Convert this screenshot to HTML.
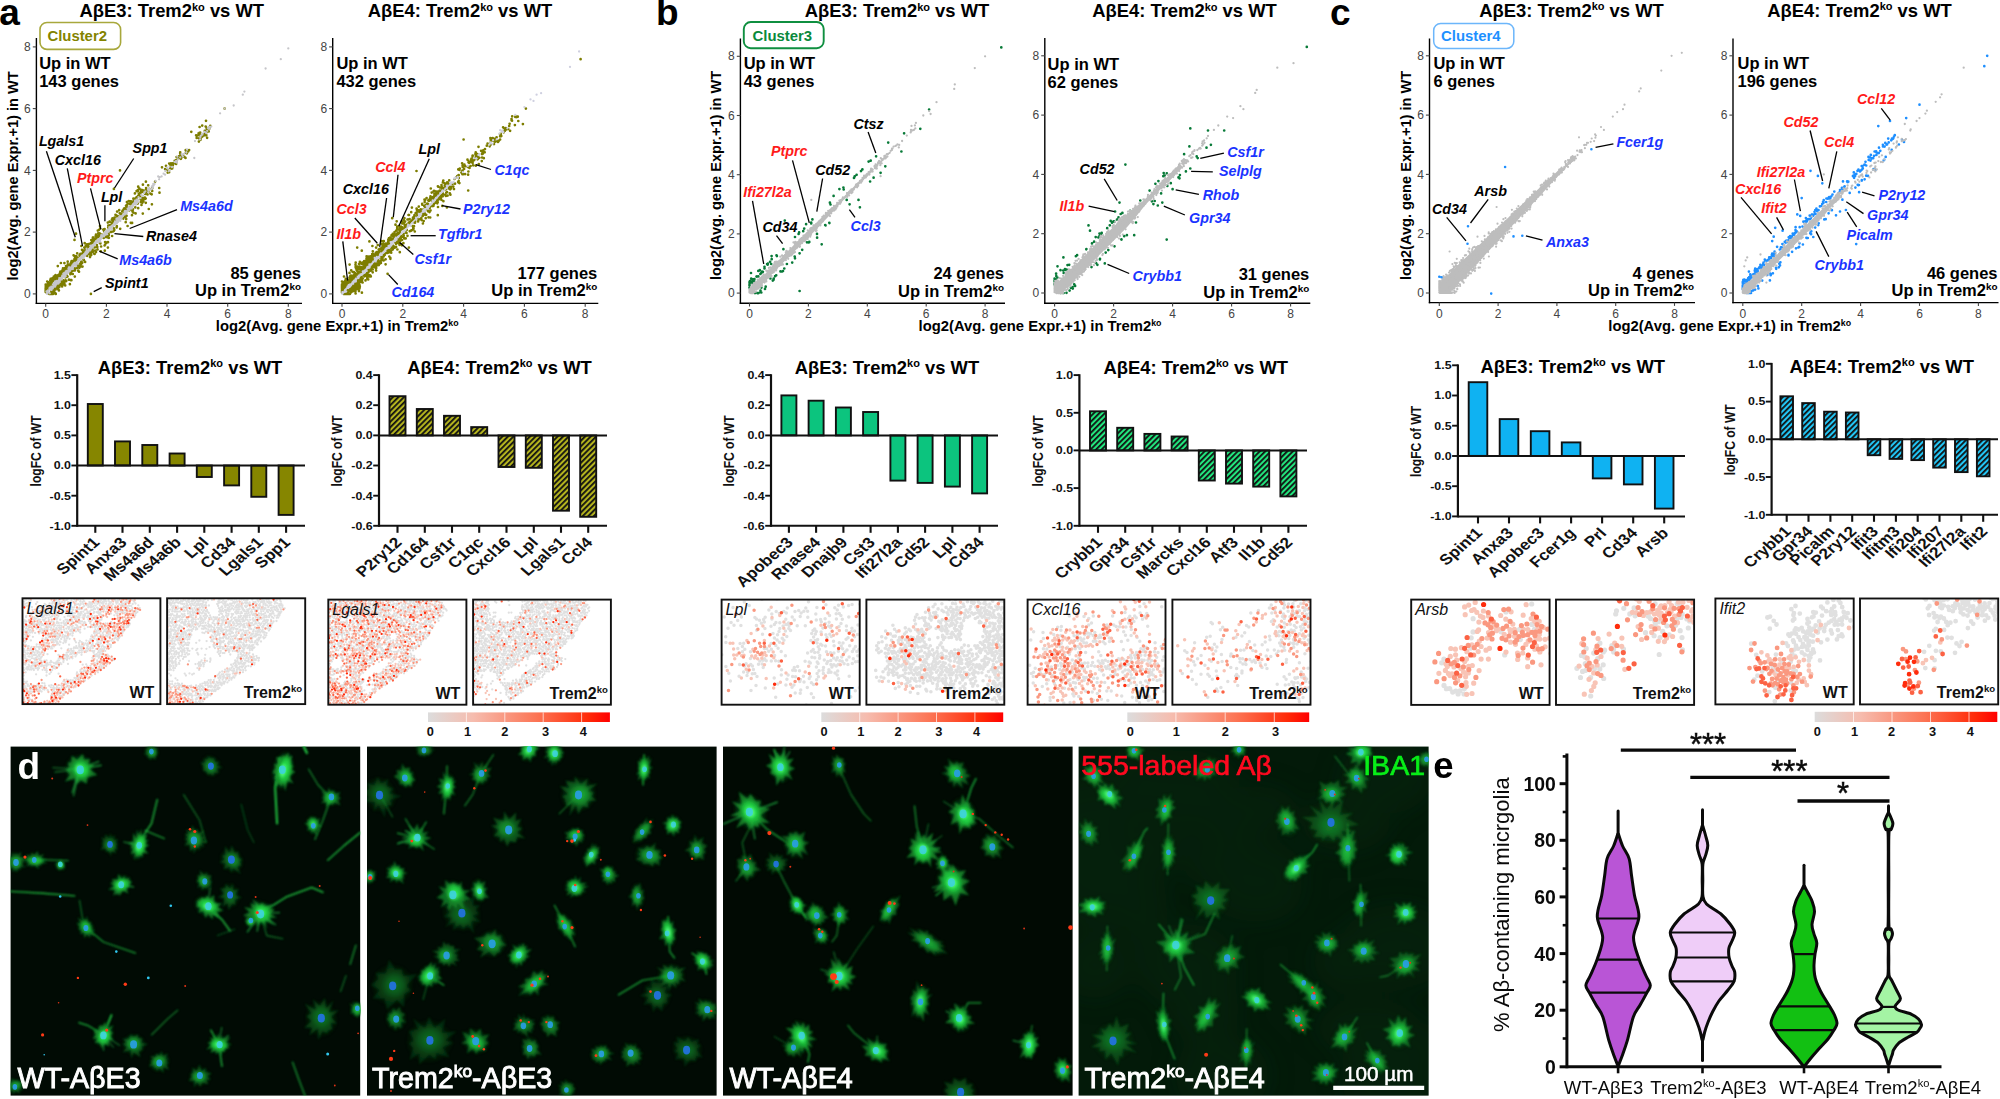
<!DOCTYPE html>
<html lang="en"><head><meta charset="utf-8"><title>Figure</title>
<style>html,body{margin:0;padding:0;background:#fff}body{width:2000px;height:1099px;overflow:hidden}svg{display:block}text{font-family:"Liberation Sans",sans-serif}</style></head><body>

<svg width="2000" height="1099" viewBox="0 0 2000 1099">
<rect width="2000" height="1099" fill="#fff"/>
<g>
<path d="M224.6 108.6h0m-18.6 12.2h0m-6.4 6.2h0m2.6-1.4h0m3.5 .9h0m.8 1.3h0m3.2-.5h0m0 1h0m.3-1.8h0m.3-.6h0m-19 5.9h0m7.3 1.5h0m.9-.4h0m.7-.4h0m.1 2.3h0m3.1-.5h0m1.4-3.4h0m.3 1.9h0m1.3-.5h0m.5-2.8h0m.2-.3h0m1.6 2.2h0m-12.6 3.9h0m.6 2.6h0m1.2-2.6h0m1.2 3.1h0m1.4 1.3h0m.1-2.6h0m0 .8h0m.6-.6h0m1.1-.7h0m1.5-1.2h0m1.1-.2h0m1.4 0h0m.8 2.6h0m-8.2 3.8h0m-18.7 10.7h0m5.5-2.1h0m.2 2.6h0m2.4-1.5h0m.8-1.3h0m-12.5 7.1h0m2 .3h0m0 .8h0m.6-2.2h0m1-2.3h0m.7 5.1h0m.1-2.6h0m.8 1h0m1.3-1.4h0m.2 .6h0m1 .4h0m.2 .2h0m1 .9h0m1.4-4.6h0m-17.7 10.2h0m.9 1.3h0m.9-1.4h0m.4 .3h0m1.2-.3h0m.1 1.3h0m.7-1.1h0m1.1-.5h0m.2-2.3h0m1.4 3.2h0m.1-3.9h0m.2 2.3h0m.1-.5h0m-56.5 8.5h0m42-3.1h0m3.1 1.7h0m.9-3.2h0m1.4 4h0m2.8-1.7h0m.4-1.5h0m.9 2h0m.5-2.4h0m.2 2.2h0m0-3.1h0m.1 2.2h0m.5-2.3h0m-5.1 7.4h0m1.4-.4h0m-23.2 9.5h0m9.2-.1h0m-41.2 7.3h0m24.3-2.2h0m1.2 2h0m3.5-4h0m3.2 3.3h0m2.1-2.7h0m4.1 2.6h0m6.9 .1h0m-24.3 5.4h0m1.7-2.3h0m1.1-.9h0m.2 1.1h0m.9 2.7h0m.5 1h0m.7-1.9h0m.5-3.5h0m.4 2h0m.6 .7h0m.7-2.2h0m1.3 1.7h0m.4-1.2h0m.7 .6h0m.5 2.8h0m1-2h0m.1-2.3h0m1 .5h0m.2 1.9h0m.1 2.3h0m.8-3h0m2.1 2.2h0m1.2-4.4h0m0-.1h0m.1 5.2h0m.5-3.4h0m7.3 1.8h0m-26.1 6h0m1.8-.1h0m.8 1h0m.7-2.6h0m0 1.8h0m.1-.6h0m1.4-2h0m.7-.1h0m.9 .1h0m.2-.9h0m.7 4.1h0m.2-4.1h0m.2 3.4h0m1.2 1.6h0m.3-2.3h0m1.1 1.3h0m1.2-1.8h0m.1 1.5h0m.7-.5h0m-19.7 7.3h0m.7-.6h0m.2-3.2h0m.8 1.7h0m.9 3.3h0m.1-6h0m1.1 .6h0m.2 2.5h0m1-2.8h0m.2 1.2h0m.5 1h0m.2-.9h0m0-.7h0m.8 0h0m.3 2.7h0m.4-3.3h0m4.3 2.3h0m3.1-1.4h0m.7 2.8h0m.8-2.2h0m1-1.6h0m.1 .3h0m2.4 1.3h0m6.1 1.5h0m-34.8 7.3h0m2.1-1.4h0m3.1 1.2h0m.6-1h0m.1 .6h0m.9-2.1h0m0 2.5h0m.3-2.4h0m.1 1.5h0m.1-2.2h0m.9 2.3h0m.7-2.3h0m.5 0h0m0 .5h0m.1-1.7h0m0 2.1h0m.1 1.3h0m.5-2.8h0m.5 1.3h0m.1 1.1h0m1.6 .2h0m.6-.8h0m.3-2.1h0m.3-.2h0m.7-.2h0m.2 2.3h0m1 2.2h0m0-1.9h0m.2 .6h0m.2-.9h0m.4 3.3h0m2-5.2h0m2.9 .8h0m10.6 .8h0m-36.3 9.4h0m2.1-.9h0m.9-2.7h0m1.5 1h0m0 .7h0m2-.2h0m.7-3h0m1.2 .6h0m.1 .6h0m.5-.5h0m1.8 4.6h0m.6-2.3h0m1.1-1.8h0m0 1.9h0m.3-3.3h0m.3 4h0m1-1.3h0m5.4-.6h0m3.6-1.8h0m7.2 .2h0m-35 9h0m1.8-.9h0m2 .6h0m.1 2.1h0m.1-2h0m.1-2.7h0m0 3.1h0m.5-3.2h0m0 .3h0m.9 0h0m.2 2.2h0m.5-.7h0m.1 0h0m1.3-2.2h0m.4 .4h0m2.6 .3h0m7.3 2.3h0m.5-3.1h0m4.6 3.7h0m1.3 .1h0m-34.3 7.7h0m1-.5h0m1.2-4.1h0m.1 2.5h0m3.2 1.1h0m.5-.1h0m.2 .9h0m.6-1.4h0m3.6-1.4h0m.1-2h0m1.6-.4h0m3.9 3.1h0m.1 2.5h0m.4-.7h0m2.3-2.7h0m.2-1.2h0m3.4 2.6h0m7.4-2.8h0m-51.6 7.7h0m19.7 2.5h0m.3-1.5h0m.3 .5h0m.5 .8h0m1.3 .1h0m.1-2.7h0m.5 .4h0m.1 3h0m.1-.5h0m.6 .5h0m.1-1.6h0m.1-1.5h0m.1 0h0m.1 1.6h0m1.8-.6h0m2.4-3.4h0m.2 .1h0m1.1 5.5h0m1.1-.6h0m.1-.9h0m1.5 1.2h0m.4-2.7h0m.3 1h0m.9-3.1h0m1.5 .1h0m.9 4.1h0m.9-4.5h0m-38.5 8.4h0m16.8 .2h0m.3-.1h0m.4 2.9h0m.4-3.3h0m.1 1.4h0m.4-3.4h0m.3-.1h0m.1 3.9h0m.3-.2h0m.1-1.7h0m.2 1.1h0m1-2h0m.4 .6h0m1.6-1.4h0m.5-.7h0m2.1 5.3h0m4.2-4.4h0m1.1-1h0m.3 5h0m1.7 .6h0m.6-5.3h0m.4 .2h0m.2 4.7h0m.9-4.4h0m-27.5 8.2h0m2.9 1.5h0m.3 .6h0m.1-4.9h0m1.1 2.6h0m.3 .8h0m0 .1h0m.2 .2h0m.1 .3h0m.6-2.9h0m0 4.5h0m.2-.8h0m.4-1.7h0m.2-1.9h0m.2 2.2h0m.4 .1h0m.3-2.5h0m1.6 1.3h0m.5-2.5h0m1.8 .9h0m.5-.8h0m.2 .1h0m1.4 4.3h0m2.1-1h0m.1 .3h0m0-1.8h0m.4 2h0m3.1-3.6h0m.7 3.1h0m3.5-1h0m.6-1h0m2.7 3.1h0m-30.7 5.7h0m2.8 1.3h0m.4-.7h0m1.6-4.1h0m.1 4.2h0m.7-1.4h0m.3-1.8h0m.2-.3h0m.4 2h0m0-.3h0m.1 .1h0m.2-1h0m.7 0h0m1-1.8h0m1.8 4.8h0m1.2-1h0m1.3 1.4h0m.4-2.4h0m.2-1.2h0m.3 2.9h0m.7-2.1h0m.4-1.6h0m.6-.7h0m.4 1.7h0m.9 2.2h0m.7 .5h0m.6-3.5h0m.8 1.6h0m1.5-2.7h0m3.3 1.9h0m4-.6h0m-31.2 4.6h0m.1 5.4h0m.8-1.7h0m.1-2.8h0m.6 1.7h0m0 2.9h0m.1-.4h0m.3-.4h0m.3 0h0m.1 .4h0m0-3.7h0m.1 3.6h0m0-4.1h0m.3 .1h0m.1 1.1h0m.1 .3h0m1.2 .8h0m.5-.6h0m1.3-2.7h0m.8 1.2h0m2.9 3.1h0m.5 .4h0m3.3-4.1h0m2.9 1.3h0m1.2-2h0m-33.4 11h0m3.1-3.1h0m3.5 .1h0m1.6 2.9h0m1.4 .8h0m.3-5.1h0m.1 2.7h0m.1 2.2h0m.1-.6h0m.1-1.5h0m.5 .3h0m.8 .7h0m.1 1.4h0m.4-1h0m.3-.6h0m.3 .5h0m.1-2.2h0m.1 .9h0m.4-1.9h0m0 1.1h0m.3-.9h0m0 .7h0m.2-2.3h0m0 2.6h0m.1-1.9h0m.2 2.3h0m.4-1h0m.9-1.9h0m.6 .8h0m.1-.7h0m.3 .9h0m0-.8h0m.1-.1h0m2.7 4.3h0m1.2-.3h0m1.7 1.2h0m.1-3h0m.4 2.7h0m.2-.5h0m.2 .6h0m.3-4.9h0m.1 2.4h0m1-1.5h0m0 .4h0m.3 3.8h0m2.6-4.7h0m-25 10.8h0m.3-1.2h0m.2 1.2h0m1.5-.2h0m.2-.3h0m0-1.4h0m.3-.8h0m.4-1.6h0m.2 4h0m.1-3.9h0m.2 .2h0m.1 2.4h0m0 1.2h0m.7-.7h0m.1-.4h0m.1-1.1h0m0 .6h0m0 1.8h0m.2-1.4h0m.2-3.1h0m.1 3.2h0m.2-.2h0m.5-2.3h0m0 1.3h0m.8-2.3h0m.3 1.2h0m0-1.7h0m.4-.1h0m.7 1.9h0m0-1.3h0m.2 0h0m.2-.1h0m.1 .1h0m.5-.5h0m.1 .1h0m.6 5h0m.6 0h0m.4 .4h0m.1-.3h0m.9-1.6h0m.2-.7h0m.2 1.1h0m1.5-1.4h0m.2-.9h0m.4 1.5h0m.4-2.1h0m0 .4h0m0 1.8h0m.3-1.2h0m.1 1.2h0m0-.5h0m2-2.1h0m.5-.9h0m.8 3.7h0m.8 1h0m.3-3.9h0m-28.6 11.1h0m1.9-.8h0m1.2-1.4h0m.8 .5h0m.3 .6h0m.2-1.6h0m.4-1h0m.1 3.3h0m.5-2.9h0m.1 2.6h0m.1-2h0m.4 2.4h0m.6-.2h0m0-.4h0m.4-1.6h0m.3 2.1h0m.3-3.4h0m.2 1h0m.7-.2h0m.1-.1h0m.4-1.6h0m.1-.1h0m0 2.6h0m.3-.2h0m.2-3h0m.1 .4h0m0 .8h0m.3-.1h0m.8-.9h0m.1-.7h0m.3 2.2h0m.2-.6h0m3.3 2.7h0m.8-.3h0m.6-1.5h0m.3 1.2h0m.4-.2h0m2.9-2.3h0m2.4-.2h0m2 2.6h0m-29.1 8h0m1 .3h0m.5-3.4h0m.4 2.8h0m.2-.2h0m.3-2.1h0m.1 2.9h0m.8-.9h0m0-.5h0m.5 .1h0m.3 .7h0m0 0h0m.5-3.9h0m.1 2.4h0m.1-2.8h0m.2 4.7h0m.1-.5h0m0 .7h0m.2 0h0m0-4.4h0m.3 3.8h0m.1-.9h0m.1 .2h0m.1-1.8h0m.3-.1h0m0 1.5h0m.1-.1h0m0-.1h0m.4-2.7h0m.3 1.9h0m.1 1.1h0m.1-2.5h0m.1 2.8h0m0-2.7h0m.1 2.6h0m.1-3.7h0m.1 1.6h0m0-1.2h0m0 .9h0m.1 .6h0m.1-.5h0m.1 .5h0m0 .8h0m.1-.4h0m0 .9h0m.2-.1h0m.1-1.1h0m.2-.9h0m.4 .2h0m0-.8h0m.1 2.2h0m.1-2.6h0m.2 1.5h0m.2-1.5h0m1.1 0h0m.1 0h0m2.4 3.8h0m.9-1.2h0m1 2.3h0m.2-3.2h0m.2 2h0m.1-2h0m.4 2.7h0m0-2.9h0m.8-1.5h0m.3 1.1h0m.2 2.9h0m0-1.9h0m.4 2.4h0m0-3h0m.1-.4h0m.2-.5h0m.1 2.4h0m.3-1.3h0m.4 1.7h0m.2-1.9h0m1-1.1h0m.6 .8h0m2.7-1.4h0m1 4.5h0m.7-4.1h0m.8 .1h0m-25.7 10.8h0m0-.6h0m0-2h0m0 1.2h0m0 .8h0m0-4.4h0m0 4.7h0m0 .3h0m0-2.9h0m0 1h0m0 1.8h0m0-1.5h0m0-1.5h0m0 2.3h0m0-1.1h0m.1 1.1h0m.3-3.8h0m.1 4.4h0m.1-4.6h0m.2 1.3h0m0 .5h0m.4 .4h0m.1-1.1h0m.1 1.6h0m.1-2h0m.1 2.7h0m.1 .2h0m.1-1.9h0m0 1.4h0m.3-1.7h0m.1-.8h0m.2 1.8h0m0-.5h0m.1-1.5h0m.3 .9h0m0 .1h0m.1-1.9h0m.3 1.1h0m.2-1.1h0m.1 2.1h0m0-1.2h0m.8-.2h0m.2 .4h0m.3-.4h0m.1-.7h0m0 .8h0m.1-.5h0m.2 .2h0m.2-.1h0m.2-1.1h0m.1 .5h0m.3 0h0m.2 4.9h0m.2-5.3h0m.1 5.1h0m0-.1h0m.3-.3h0m.8-.8h0m.2-.1h0m.2 1.4h0m.3 0h0m.1-1.5h0m.3 .5h0m.1-.6h0m.7-.5h0m0-.3h0m.4 1.6h0m.7-1.5h0m.5-2.6h0m.7 2h0m0-1.4h0m.7 .4h0m.1 3h0m.6 1h0m.4-3.5h0m.2-1.8h0m2.6 1h0m0 .3h0m3.1-1h0m-19.5 6h0m0 .2h0m0-.3h0m0-.2h0m0 0h0m0 1h0m0-.9h0m0 0h0m0-.1h0m3.5 2.8h0m0 0h0m.2 0h0m.9-.4h0m.2 0h0m.3 .4h0m.2-1.5h0m.1 1.5h0m.1 0h0m.3 0h0m.1-2.9h0m.1 2.9h0m.1 0h0m.9-2.7h0m.3 2.7h0m.6-.7h0m.3-.6h0m.4-.7h0m1.4 1.6h0m.1 .4h0m35.1 0h0" stroke="#7d7d00" stroke-width="2.7" stroke-linecap="round" fill="none"/>
<polygon points="54,283.8 57.4,280.3 60.8,276.8 64.2,273.4 67.6,269.9 71,266.4 74.4,262.9 77.9,259.5 81.3,256 84.7,252.5 88.1,249.1 91.5,245.6 94.9,242.1 98.3,238.6 101.7,235.2 105.2,231.7 108.6,228.2 112,224.7 115.4,221.3 118.8,217.8 122.2,214.3 125.6,210.8 129,207.4 132.4,203.9 135.9,200.4 137.5,202.1 134.1,205.6 130.7,209.1 127.3,212.5 123.9,216 120.5,219.5 117,222.9 113.6,226.4 110.2,229.9 106.8,233.4 103.4,236.8 100,240.3 96.6,243.8 93.2,247.3 89.7,250.7 86.3,254.2 82.9,257.7 79.5,261.2 76.1,264.6 72.7,268.1 69.3,271.6 65.9,275.1 62.5,278.5 59,282 55.6,285.5" fill="#c6c6ca"/>
<path d="M288.3 48.4h0m-7.5 10.8h0m-15.2 9.3h0m-21.2 23.1h0m-1.6 3.1h0m-18.2 13.9h0m9.1-3.1h0m-13.6 7.8h0m-12.2 14.9h0m1.6-1.4h0m.3 1.7h0m1.5-1.9h0m-8.9 7.9h0m.3-.9h0m1.9-1.8h0m1.3 .8h0m.4 .6h0m1-2.4h0m-7.4 8.6h0m.4-2.1h0m.7-1.6h0m-6 5.4h0m-8.7 11.5h0m.7-3.1h0m-9.6 7.2h0m2.9 .7h0m1.4-3.5h0m.5 1.1h0m.6 1.5h0m1.2-2.7h0m10.3 4.2h0m-19.6 4h0m1.5-1h0m.4 1.2h0m0 .2h0m.3 .2h0m0-1.3h0m1.2-2h0m-12.8 11.7h0m1.6-3.3h0m.9 1h0m1.8-2.1h0m.1 3.7h0m2.2-3.2h0m.2-.1h0m-13.9 9.5h0m3.4-.1h0m2-2.7h0m1.5 1h0m3.6-3.4h0m-13.2 9.6h0m3.6-1.6h0m.5-2.1h0m-10.3 10.7h0m2.5 1h0m.1-2.5h0m.5 .8h0m.3-1.5h0m.2 1.8h0m.4-3.5h0m.3 1.4h0m.3-1.4h0m.6 0h0m-10.4 9.2h0m.2-.4h0m.1-.6h0m1-.9h0m2.6-2h0m.1 3h0m.2-2.2h0m0 .2h0m0-1.1h0m1.4 .6h0m1.7-.5h0m-16.3 11.6h0m.6-.3h0m.6-.1h0m.2-.8h0m.7-.2h0m.9 .3h0m.4-2.6h0m2.1 .9h0m.7-3.1h0m1.7 .9h0m-14.2 10.9h0m3.8-.3h0m.4-1.4h0m.1 .5h0m.1-1.4h0m1.3-1.3h0m.2-.5h0m.8 .3h0m.1 1.8h0m.3-.8h0m0 1h0m.8-2.5h0m.3 1h0m.7-1.9h0m.1 .5h0m-13.2 9.8h0m.1 .2h0m.4-.8h0m2.5-2.4h0m1.8 1.3h0m.2-1.1h0m.5-.3h0m1.7 .1h0m.3-1.2h0m.4-.4h0m-14.6 11.3h0m1.4-1.7h0m.5 .5h0m.2-.9h0m1.2 1h0m.3 1.7h0m1.4-2.7h0m1.9-1.7h0m.8-.9h0m1.1-.4h0m-12.2 9.6h0m.2 2h0m.3-3.3h0m.2 2.2h0m.1-1.8h0m.2 .7h0m0 1.2h0m.4-1h0m.4-3.7h0m.1 2.6h0m.6 1.4h0m.3-3.7h0m.7 2.5h0m1.1-1.6h0m1.2 .6h0m-13.5 9.7h0m.6-.7h0m1.7 .1h0m.1 .2h0m.1-2.9h0m.6 1.1h0m.1-.3h0m.5-.7h0m.9-1.2h0m.7 3.1h0m.3-3.8h0m.4 .6h0m.4-.1h0m-11.9 9.2h0m0 .5h0m1.1 .6h0m.3-.7h0m1-.7h0m.2-.2h0m.1 1.7h0m0-1.5h0m.1 1.2h0m.6-2.8h0m.1 .8h0m.1-2.1h0m0 1.2h0m.3-.8h0m0 1.4h0m.2 .9h0m.1-2h0m.1 .9h0m.7 .8h0m.3-2.8h0m.6 2.6h0m0-2.2h0m.1-.8h0m.7 .6h0m1-.3h0m-14.3 11.3h0m.2 .1h0m.9-.5h0m.5 .4h0m.2-1.6h0m1.6-1.8h0m.3 2.6h0m.5-1.6h0m.2 1.2h0m.1-.9h0m.9-.8h0m.1 1.8h0m.4-3.8h0m.1 1.4h0m0-1.8h0m0 1h0m-14.1 10.1h0m3.3-.2h0m.4-2.6h0m.7 .2h0m.3 1.8h0m.4-1.1h0m.5 .7h0m0-1.9h0m.8-.5h0m.1 .8h0m.3-1.1h0m1.4 .2h0m0-1.8h0m.9 0h0m-11.8 11.4h0m1.5-2h0m.3 1.6h0m.1 .3h0m.6-2.1h0m.2-.8h0m0-1.1h0m.3 1.2h0m.3 1.9h0m.7-1.6h0m.2-1h0m.1 1.1h0m0-1.3h0m1.9-.3h0m.4-1.1h0m.2 .3h0m-12.2 9.4h0m.1 1.1h0m0-.5h0m.7-.5h0m0-.7h0m.7-.4h0m.1 .6h0m.2 1.5h0m.4-1.3h0m.1-.6h0m.4-.8h0m.1-.9h0m.8-.3h0m0-.6h0m.8 2.8h0m.6-3.3h0m.1 2.3h0m0-2h0m.1 .2h0m.2-.2h0m.6 .9h0m.6-.4h0m-12.7 9.5h0m1 .5h0m0-1.7h0m.2 2.2h0m.2-2.4h0m.1 1h0m.1-1.7h0m.1 1.6h0m0-1.4h0m.4 1.5h0m.4-2.2h0m0 .9h0m.2-.8h0m.6 2.1h0m.5 1.1h0m.8-2.5h0m.3-1.8h0m.1 1.9h0m.6 0h0m.2-2.6h0m-13.5 11.5h0m.2 .4h0m.9-1.6h0m.7-.5h0m.3 1.7h0m1.1 .2h0m.4-1.5h0m.1-2.3h0m.3 2.1h0m.1-3.6h0m.5 4.1h0m.2-1.2h0m.2-2.3h0m0-.7h0m.5 3.4h0m.1-.9h0m.2-1h0m.4 .4h0m.1-1.1h0m0-.1h0m.8-1h0m.1 1.8h0m.2-1.6h0m.4 0h0m0 .8h0m.2-.3h0m.2 1.2h0m.2-1.7h0m-13.8 10.8h0m.7 .2h0m.1 .3h0m1.3 .4h0m.4-1.2h0m.3-1.2h0m.1-.2h0m.1-.7h0m.4-.1h0m.1 1.5h0m.5-3.5h0m.2 1.9h0m.1 1.1h0m.1-1.8h0m.1 1.7h0m0-3.1h0m.1-.2h0m.4 2.2h0m.3-1.9h0m.1 .7h0m.1 2.9h0m.1-1.8h0m.1-.1h0m.2-.9h0m0 1.7h0m.2-.6h0m.1 .3h0m.2-2.5h0m0 3h0m.8-3h0m.7 .3h0m-14.3 10.8h0m1-1.4h0m1 .1h0m.1 0h0m.1-1.5h0m0 2.4h0m.1 1h0m.5-2h0m.1 .5h0m.2-.8h0m.1 2.1h0m.2-.6h0m0 .5h0m.3-3.8h0m0 1.3h0m.1 .1h0m0 1.8h0m.1-2.5h0m.1 1.3h0m.3-1h0m.2 .6h0m.9-.1h0m.2 1.3h0m.3-2.9h0m.1 .2h0m.3-1.5h0m0 1.3h0m0 .6h0m.6 .7h0m.4-2.8h0m1.6 .1h0m0 .3h0m-13.8 10.9h0m.6 .4h0m0-.3h0m.8-2h0m.3-1h0m.9 1h0m0 0h0m.1-.7h0m.6 2h0m0-3.2h0m.3 3.2h0m.6-1.6h0m.1-.4h0m0-1.1h0m.1-.1h0m.4 1.7h0m.9-1.9h0m.7 .1h0m.2-1.6h0m.1 1.6h0m.1 0h0m.2-.5h0m.3 .5h0m.3-1.4h0m-9.1 6.2h0m.2 .3h0m.2 1.3h0m.1 .1h0m.2 .8h0m.2-2.9h0m.1 1.9h0m.7-.7h0m.2 0h0m1.4 1.1h0" stroke="#c6c6ca" stroke-width="2.3" stroke-linecap="round" fill="none"/>
<line x1="36.4" y1="38" x2="36.4" y2="304.1" stroke="#000" stroke-width="1.4"/>
<line x1="35.7" y1="303.4" x2="302" y2="303.4" stroke="#000" stroke-width="1.4"/>
<line x1="45.7" y1="303.4" x2="45.7" y2="306.7" stroke="#444444" stroke-width="1.1"/>
<text x="45.7" y="318.3" font-size="12" fill="#444444" text-anchor="middle">0</text>
<line x1="32.8" y1="293.9" x2="36.4" y2="293.9" stroke="#444444" stroke-width="1.1"/>
<text x="30.8" y="298" font-size="12" fill="#444444" text-anchor="end">0</text>
<line x1="106.4" y1="303.4" x2="106.4" y2="306.7" stroke="#444444" stroke-width="1.1"/>
<text x="106.4" y="318.3" font-size="12" fill="#444444" text-anchor="middle">2</text>
<line x1="32.8" y1="232.1" x2="36.4" y2="232.1" stroke="#444444" stroke-width="1.1"/>
<text x="30.8" y="236.2" font-size="12" fill="#444444" text-anchor="end">2</text>
<line x1="167" y1="303.4" x2="167" y2="306.7" stroke="#444444" stroke-width="1.1"/>
<text x="167" y="318.3" font-size="12" fill="#444444" text-anchor="middle">4</text>
<line x1="32.8" y1="170.4" x2="36.4" y2="170.4" stroke="#444444" stroke-width="1.1"/>
<text x="30.8" y="174.5" font-size="12" fill="#444444" text-anchor="end">4</text>
<line x1="227.7" y1="303.4" x2="227.7" y2="306.7" stroke="#444444" stroke-width="1.1"/>
<text x="227.7" y="318.3" font-size="12" fill="#444444" text-anchor="middle">6</text>
<line x1="32.8" y1="108.6" x2="36.4" y2="108.6" stroke="#444444" stroke-width="1.1"/>
<text x="30.8" y="112.7" font-size="12" fill="#444444" text-anchor="end">6</text>
<line x1="288.3" y1="303.4" x2="288.3" y2="306.7" stroke="#444444" stroke-width="1.1"/>
<text x="288.3" y="318.3" font-size="12" fill="#444444" text-anchor="middle">8</text>
<line x1="32.8" y1="46.9" x2="36.4" y2="46.9" stroke="#444444" stroke-width="1.1"/>
<text x="30.8" y="51" font-size="12" fill="#444444" text-anchor="end">8</text>
<text x="39.2" y="69.2" font-size="16.5" font-weight="bold">Up in WT</text>
<text x="39.2" y="87.2" font-size="16.5" font-weight="bold">143 genes</text>
<text x="301" y="279" font-size="16.5" font-weight="bold" text-anchor="end">85 genes</text>
<text x="301" y="296.3" font-size="16.5" font-weight="bold" text-anchor="end">Up in Trem2<tspan dy="-5.9" font-size="9.9">ko</tspan></text>
<text x="171.8" y="17.3" font-size="18.4" font-weight="bold" text-anchor="middle">AβE3: Trem2<tspan dy="-6.6" font-size="11">ko</tspan><tspan dy="6.6"> vs WT</tspan></text>
<line x1="46.4" y1="151.3" x2="75.3" y2="237.3" stroke="#000" stroke-width="1.3"/>
<text x="38.9" y="145.7" font-size="14.3" font-weight="bold" font-style="italic">Lgals1</text>
<line x1="67.3" y1="168.4" x2="82.5" y2="246" stroke="#000" stroke-width="1.3"/>
<text x="54.8" y="164.7" font-size="14.3" font-weight="bold" font-style="italic">Cxcl16</text>
<line x1="133.7" y1="158.5" x2="114.5" y2="188" stroke="#000" stroke-width="1.3"/>
<text x="132.6" y="153" font-size="14.3" font-weight="bold" font-style="italic">Spp1</text>
<line x1="90.5" y1="188.4" x2="100.9" y2="229.3" stroke="#000" stroke-width="1.3"/>
<text x="76.9" y="182.8" font-size="14.3" font-weight="bold" font-style="italic" fill="#ff1a1a">Ptprc</text>
<line x1="104.9" y1="205.3" x2="104.9" y2="221.3" stroke="#000" stroke-width="1.3"/>
<text x="100.9" y="202" font-size="14.3" font-weight="bold" font-style="italic">Lpl</text>
<line x1="177" y1="209.6" x2="129.7" y2="228.5" stroke="#000" stroke-width="1.3"/>
<text x="180.2" y="211.3" font-size="14.3" font-weight="bold" font-style="italic" fill="#1a33ff">Ms4a6d</text>
<line x1="143.3" y1="236.5" x2="114.5" y2="233.6" stroke="#000" stroke-width="1.3"/>
<text x="146" y="240.5" font-size="14.3" font-weight="bold" font-style="italic">Rnase4</text>
<line x1="117.7" y1="258.9" x2="99.3" y2="251.2" stroke="#000" stroke-width="1.3"/>
<text x="119.3" y="265" font-size="14.3" font-weight="bold" font-style="italic" fill="#1a33ff">Ms4a6b</text>
<line x1="101.7" y1="287.7" x2="93.7" y2="291.7" stroke="#000" stroke-width="1.3"/>
<text x="104.9" y="288" font-size="14.3" font-weight="bold" font-style="italic">Spint1</text>
</g>
<g>
<path d="M580.6 59.2h0m-54.7 49.4h0m-13.7 7.7h0m3.1 .6h0m.2-.3h0m2.3 .1h0m-6.3 2.3h0m.1 1.3h0m.4 .4h0m4.7-3.6h0m1.6 3.9h0m-15.2 6.3h0m1.1 1h0m1.6-.1h0m3.4-2.2h0m.4-2.2h0m5.3 1.3h0m8-1h0m-22.9 9.9h0m.8 .2h0m1.8-2.5h0m1.1 .6h0m1.2-1.5h0m.5-1.8h0m.8 .5h0m2-.5h0m1.9 1.8h0m-46.5 8.7h0m26.8-1.5h0m.2 1.7h0m1.9-.1h0m.1-1.3h0m.1-.3h0m.1 2.5h0m2-1.6h0m1.8-1.6h0m.3 3.6h0m2-.2h0m1.2-1.2h0m0-3.2h0m1.2-.2h0m-22.8 10.7h0m8.3-1.1h0m.8-2.2h0m2.1 2.8h0m.8-1.5h0m.2-2.4h0m3.3 1.7h0m.4-2.8h0m.8 .4h0m.2-.2h0m2.6 .4h0m-22.3 10.5h0m5.4-1.6h0m1.5 2h0m.7-2.5h0m1.4 2h0m.3-3.2h0m-13.4 9.6h0m.9-2.7h0m.2-.4h0m.2 2.7h0m.2 .1h0m.9-.2h0m1.2 .2h0m.2-4.3h0m.4 1.7h0m.5-1.3h0m.9 .1h0m.3-.6h0m.3 3h0m0 2h0m.3-2.8h0m.2 1.6h0m1 0h0m2.7-3.7h0m.1 3.4h0m.6-3.7h0m1.1 4.4h0m-21.7 5.1h0m2.3 1.4h0m3.1-5h0m1 2.6h0m.3-.6h0m.4 1.3h0m1.8-1.3h0m0-2h0m.8-.2h0m.8 3.6h0m0-1h0m0-.9h0m1.6-1.1h0m3.4-.8h0m1.2 4.9h0m3-3.1h0m-65.3 9.9h0m41.8-1.6h0m1.2 .5h0m.3-1.2h0m2.6 1.8h0m.2-4.9h0m0 5.4h0m.1-4.1h0m1.4 2h0m1.1-2.7h0m2.6 .8h0m.9 .2h0m.8 .8h0m1.1-2h0m2.6-.7h0m2.6 .4h0m-18.5 10.4h0m1.4-.9h0m2.7-2.6h0m1 1.6h0m1.1-.1h0m1.6 0h0m3 .6h0m.3-3.2h0m-25.5 10.9h0m.4-1.7h0m3.8 2.2h0m.1-.5h0m2-2h0m5.2-1.4h0m2.1-1.9h0m1.7 5h0m.4 .5h0m.1-1.6h0m.1-2.9h0m-28 10.4h0m7.1-2.2h0m.3 .4h0m1.8 .8h0m1.5-2.4h0m.2 1.6h0m1 2h0m.9-.4h0m.2-.5h0m.9-4.4h0m.1 2.1h0m.3 .8h0m0 1.3h0m.3-3.1h0m.6 .1h0m.3 3.7h0m.1 .4h0m1.4-5.6h0m.6 4.5h0m.2-.2h0m.1-3.1h0m.1 2.2h0m.6 1h0m.1 1.4h0m.9-4.8h0m.2 4.1h0m.2-1.2h0m.2-.1h0m.1 1.5h0m1.3-4.5h0m.9 2.7h0m1.7-2.9h0m4.4-.6h0m-27.7 9.5h0m2-1.4h0m.3-.1h0m.4 2.4h0m.2-2.5h0m1.5 3h0m.3-1.2h0m.1-1.3h0m.4 2.1h0m1 .7h0m.1-2.7h0m.6 1.6h0m.4 1.7h0m.1-.3h0m.6-3.9h0m.5 1.5h0m.3 .8h0m1.4-2.7h0m.1-1.2h0m.1 5.5h0m.3-2.4h0m.1-2h0m.1-.3h0m.1 3.4h0m.1 1.3h0m.2-3.9h0m.4 3.9h0m1.8-.1h0m.4-5.1h0m.7 3.2h0m.7-.4h0m2.8 1.1h0m.4-4h0m.2 5.4h0m3.6-5.6h0m14.2 1.4h0m-43.7 9.2h0m.8 .1h0m1.3-1.8h0m1.7 2.3h0m.5 .6h0m.2-1.1h0m.2 .8h0m.5-.5h0m.4-1.8h0m.4-1.9h0m.5 3.5h0m.6-2.1h0m.2 1.3h0m0 1.3h0m.7-2.7h0m.2 1.9h0m.1-2.2h0m.1 1.7h0m.1-1.9h0m.4 .7h0m.1 1.8h0m.9-4.7h0m.1 5.1h0m0-3.1h0m.1 .6h0m.4-1.5h0m.6-.9h0m.2 5.6h0m.5-.5h0m.6-5.3h0m.2 1.4h0m.4 2.3h0m1.3 .6h0m0-3.5h0m.1 2.8h0m.4-1.8h0m.2 .1h0m1-1h0m.3 2h0m.6 1.9h0m1.3-3.5h0m3.2-.3h0m.4-.4h0m1.3 0h0m-28.8 11h0m3.4-2.7h0m.1 .8h0m2 1.5h0m.4-4.1h0m.8 3.2h0m.1 .6h0m.6-.7h0m.3-.7h0m.6 1.4h0m.1-2.2h0m.9 .5h0m1.4 1.2h0m1 .6h0m.4-.4h0m1.2 .5h0m1.4-.3h0m.3-1.3h0m0-1.8h0m.2 1h0m.3-.8h0m.8-.1h0m.4-.9h0m1.6 .6h0m.2 .8h0m.2-2.1h0m0 1.6h0m.2-.4h0m.3 4.6h0m4.3-1.1h0m1.1-4.7h0m-32.2 11h0m.7-4.6h0m3.8 5.4h0m.7-.4h0m.2-4.1h0m.2 .7h0m.2 1h0m.5 1h0m.8 .2h0m.5-1h0m.3 1.2h0m.1-.4h0m.4 .7h0m.9-1.5h0m.3-1h0m.8 1.9h0m1.5-1.6h0m.4 2.8h0m.7-2.2h0m.1 1.4h0m1.1-4h0m2 1.8h0m.5 1.3h0m.1 .4h0m1.5 .9h0m.2-4.2h0m.8 2.5h0m16.4-3h0m-54.7 10.8h0m12.2 0h0m4.1-3.2h0m.5 0h0m4 2.5h0m1.3 .2h0m0-.2h0m.1-2.1h0m.1-.2h0m.2 1.5h0m.2 .9h0m0-.4h0m2-.9h0m.2-2.2h0m1.4 .1h0m1-.7h0m1.8 4.7h0m.7-3.1h0m.7 .8h0m.3-2.6h0m.8-.2h0m.8 1.5h0m0-1.5h0m.5 1.6h0m.6 3.5h0m.5-3.4h0m2.3 2.5h0m1.7 .2h0m7.6-2.3h0m-42.3 9.5h0m1.2-3.4h0m5.1 .2h0m.4 2h0m.7-.8h0m.8 .7h0m.1-3.3h0m1.3 1.5h0m1.3 2.9h0m1.1-5h0m1.1 5.2h0m.1-5.3h0m0 3.3h0m.9-3.6h0m.5 2.9h0m.5 .8h0m1-1.9h0m.9-1.2h0m.5-.2h0m.7 0h0m.5 2.9h0m0-3.1h0m.8 2h0m0 .7h0m0 .7h0m2.8-3.3h0m.3 2.1h0m1.2-2.2h0m2.3 .8h0m1.3 3.4h0m.8-2.4h0m-27.5 9.4h0m1-3.6h0m0 1.1h0m.1 .9h0m.5 .5h0m.9-3.2h0m1 3.9h0m.3 .6h0m.1-2.8h0m.8-1.3h0m.3 1.9h0m.1-1h0m.5-.5h0m0 2.8h0m1.7-1.3h0m1-1.1h0m.3-1.9h0m1.1-.2h0m0 5.4h0m0-5.1h0m.2 1.4h0m.3-.3h0m.1 3.6h0m.2-.4h0m1.3-4.7h0m2.6 5.7h0m1.1-.6h0m.7-4.3h0m.8 2.3h0m.1-.8h0m0 2h0m.2-1.1h0m.5-2.2h0m-22.5 9.1h0m1.1 .8h0m.2-.8h0m0-1.5h0m.1 1.5h0m.1 .1h0m.8-1.6h0m.5 .5h0m0 1.2h0m.3-3.4h0m.2 4.2h0m1.3-2h0m0 .1h0m.7-.1h0m.1 2.1h0m.1-1.1h0m.6-2.7h0m.3 2.3h0m0-1.7h0m1.7 .1h0m.1 .5h0m.1-.2h0m0-1.7h0m0 4.6h0m.3-3h0m.8 2.6h0m.5 .9h0m.2-.3h0m1.8-2.3h0m0 2.4h0m.3-1.3h0m.2-3h0m1-.5h0m.7 .6h0m.9 .4h0m1 2.8h0m2.3-4.6h0m5 .3h0m-45.4 9.9h0m12.2-.3h0m2.2 .1h0m4.1 1.6h0m.3-1.3h0m.1-1.8h0m.7-.4h0m0-1.1h0m.5 2.5h0m.1 .1h0m.2-.8h0m.3-2.4h0m0 4.9h0m.4-3.7h0m.5 3.4h0m.4-1.9h0m.1-1.6h0m.2 3h0m.4-.3h0m.5-1.5h0m0 1h0m.2-1.2h0m.3-.8h0m.7 .6h0m.6-2h0m.3 4.6h0m.1-.5h0m0-.1h0m.4 0h0m1-.1h0m.3 0h0m0 1.1h0m.8-2.7h0m.7 3.1h0m0-4h0m.1 2h0m.4-.5h0m.1-1.9h0m.4 3.8h0m.3-4.2h0m.5 .5h0m.5 2.5h0m.8-1.8h0m.9 .7h0m1.6-2.9h0m.7 1.4h0m1.4-.1h0m-48.5 9.2h0m15.2-1.6h0m3.7 1.6h0m1.7-2.5h0m2.9 3.6h0m.8-4.7h0m.6 3.3h0m.1 .8h0m.3-3.2h0m.4 2.9h0m.1-4.2h0m.2 2.9h0m.1 2.5h0m.1-1.4h0m1.2-2.9h0m.2 .1h0m.1 2h0m0 2h0m.1-1.7h0m.4-2.9h0m.2 .3h0m.2 1.7h0m0-2.7h0m.3 3.5h0m.1-.7h0m.3-.1h0m.4-2.3h0m.1 2.2h0m.4-2.6h0m0 .8h0m.1 1.7h0m.1-.4h0m.4-.5h0m.6-1h0m.1 4.7h0m.7 0h0m.6-2.3h0m1 1.1h0m.1 .3h0m.9-1.4h0m.3-1.8h0m.1 3.9h0m.6-2.1h0m.7-.1h0m.5 1.4h0m1-.4h0m.8-3.6h0m.1 3.1h0m3.4-2.1h0m1.6-.7h0m.8 1.2h0m1.5-2.1h0m5.5 4.4h0m-47.1 3.1h0m10.4 3.4h0m.4 .4h0m.2-3.2h0m0 2.6h0m1.7 .8h0m1.3-1.9h0m.5 .4h0m.4-1.2h0m.1 2.1h0m.7-.4h0m.1 1h0m.8-1.7h0m.2-.4h0m.1-2.9h0m.4 1.5h0m.3-2.1h0m.5 3.8h0m.7 0h0m.2-1.4h0m.9 .4h0m0-1.7h0m.1-.3h0m.1 .8h0m.1 .1h0m.6-1.2h0m.1 .9h0m.3 0h0m.1-.5h0m.8 5h0m.1-5.6h0m0 4.7h0m.4-4.9h0m1.4 2h0m.2 1.7h0m1.2-2.4h0m.1-.5h0m.1 2.9h0m.3-3.2h0m.2 3.1h0m.3-2.1h0m.1 1.8h0m.1-1.2h0m.1 .7h0m.7-.9h0m1.3 1.3h0m.4-1.5h0m.3 1.8h0m1.5-3.1h0m4.7-.1h0m2.4 2.7h0m-33.6 8.7h0m.1-.4h0m.2-1.8h0m.1-2.4h0m.1 3.8h0m.1-2.5h0m.1 3.4h0m.8-2.1h0m.5-2.3h0m0 2.9h0m1-1.4h0m.7 2.8h0m0-2.1h0m.1 .6h0m.2 .6h0m.1-3.7h0m.1 3.7h0m.4 .8h0m.2-.8h0m.1-1.6h0m0-1.8h0m.1 .5h0m.1 2h0m.7 1.7h0m.1-5.3h0m0 4.8h0m.1-1.1h0m.4 0h0m.2-1.6h0m.1 3.3h0m0-.5h0m.2-2.2h0m.3 0h0m.1 2.3h0m0-1.2h0m.5-2.2h0m.5-2.1h0m.5 2.7h0m.2-1.6h0m.1 1.9h0m.2-.7h0m.1-.7h0m.2 .4h0m.7-.2h0m0-1.1h0m.2 1.2h0m.3-1.4h0m.8 .8h0m0-1.1h0m.4 5h0m.1-1.9h0m1.5-1.3h0m.5 .3h0m.5 3.4h0m0-4.4h0m.4 4.1h0m0-4h0m.6 1.4h0m0 .1h0m0 1.1h0m.2-3.1h0m.3 1.4h0m.2 .9h0m.3-1.4h0m.8-.4h0m0 4.1h0m1.1-5.5h0m.9 4.3h0m3.7-2.8h0m1 1.3h0m.1 1h0m-40.8 5.8h0m5.9 .2h0m.2-2.1h0m1.7 3.9h0m1.6-2.7h0m.7 2.8h0m.2-4.9h0m1.4 1.4h0m.1 .5h0m.4 3.3h0m.9-3.2h0m.1 .5h0m.1-2h0m1.1 .8h0m.2-2.1h0m.1 3.9h0m.1-1.7h0m0 2.4h0m.1-.2h0m0-1.7h0m.9-.8h0m0 3.7h0m.1-3.8h0m.1-1.4h0m.2 5.6h0m.2-.8h0m.2 .5h0m.1-5.2h0m.4 3.3h0m.1-1.2h0m0 2h0m.9 1h0m0-4.8h0m0 3.1h0m.1 1h0m0-2.7h0m.6 2.6h0m.5-2.2h0m.3 1.1h0m.2-2.2h0m0 1.5h0m.2-1.3h0m.4-.4h0m0 1.7h0m.1-2.8h0m.1 1.8h0m0 3.5h0m.1-5h0m.1 1.4h0m.6-1.1h0m.5 .1h0m.3 4.1h0m.1 .2h0m.1-.7h0m.8 1.4h0m.4-1.9h0m.3-1.2h0m.3 .1h0m.1 .7h0m.4-.3h0m.2 1.6h0m.5-1.8h0m.5-2h0m.3 2h0m0 .6h0m.3-3.7h0m.6 2.5h0m0 2h0m.2-1h0m1 0h0m.4-2.9h0m0 1.1h0m.5 2.4h0m.2-3h0m.3 .4h0m.3 .5h0m.1 .5h0m.3-.1h0m.9-.5h0m4.7 1.4h0m-36.1 8.6h0m1.7-2.6h0m1.5 1.7h0m1.2 .2h0m1.7-5.1h0m.4 .6h0m0 .7h0m.7 2.2h0m.6-2.4h0m.6 3.5h0m.4-2.8h0m.2 3.7h0m.4-.7h0m.2 0h0m0-3.2h0m0 .3h0m.6 0h0m.2-1.6h0m.1 5.3h0m.4 .2h0m.1-1.4h0m.3-3h0m.4 3.7h0m.1-.4h0m0-3.8h0m0 4.9h0m.1-1.9h0m.2 .9h0m.1-4.4h0m.1 3.9h0m0 .3h0m.1-2.6h0m.1 2.9h0m.1-1.4h0m.1-.1h0m.1 1.5h0m.1-4.4h0m0-.3h0m.1 3.1h0m.3 .6h0m.3-3.3h0m.1 1.6h0m.4 .2h0m.3-.6h0m.1 .7h0m.1-2.5h0m.1 1.1h0m0 1.6h0m.4-2.2h0m0 1.1h0m.3-1.6h0m.3 4.7h0m.5 .1h0m.5-1.1h0m.1 2.1h0m.6-1.1h0m.1-.5h0m.2-1.2h0m.2 2h0m.3-1.3h0m.2 1h0m0-.6h0m.2 1.2h0m.1-1.1h0m.2-.9h0m.1 1.6h0m.8-4.2h0m.3 .7h0m0-1h0m.1 0h0m.6 1.3h0m.1 .2h0m.1 1.6h0m.1-2.2h0m.2 2.2h0m1-3.2h0m.9 4.9h0m0-2.8h0m2-2.3h0m1.3 1.2h0m.1 2.2h0m.1-2.7h0m-32.2 8.6h0m1.8 2.3h0m3.7-1.1h0m.1 .7h0m0 .2h0m.1-.7h0m.1 .3h0m.4 .4h0m.1-2.6h0m.4 2.6h0m.3-3h0m.6 3.3h0m.2-1.2h0m.1-.4h0m0 1.2h0m.3-.6h0m.1-.7h0m.9 .8h0m.3-2.7h0m.1 3.6h0m.1-.4h0m0-1.6h0m.3-.4h0m0 1.5h0m.1 .7h0m0-3h0m.1 3h0m.2-3.6h0m.1 2.9h0m0-.2h0m0-3.5h0m.1-.4h0m0 .5h0m.1 3.1h0m.1 .8h0m.3-3.5h0m.1-.7h0m0-.8h0m.1 .7h0m0 3h0m1.9-2.8h0m.3 1.5h0m0 1h0m0-2h0m.2-1.2h0m.8 0h0m.1 2.2h0m.1-.8h0m0-1.8h0m.2 2.2h0m.2-1.9h0m0 1.1h0m0 .3h0m.2-1.3h0m0 1h0m.1 3.7h0m.1-4.8h0m0 1h0m.1-1.3h0m.1 1.2h0m.5-.7h0m.1 4.6h0m.4-.6h0m.1 1.1h0m0-5.4h0m.7 3.3h0m.1-.3h0m0 2.6h0m.3-.2h0m.4-.3h0m.4 .2h0m.1-3.5h0m.3-.6h0m.2-.1h0m.6 1.1h0m.5 .8h0m0-.7h0m.2-1.8h0m.3 1.9h0m.3-1.1h0m.4 .4h0m.5-1.8h0m.9 3.6h0m.3 1.7h0m.3-3.9h0m.2 1.2h0m.1-.3h0m.3 .9h0m.8 0h0m.6-1.4h0m.7 .6h0m.5 .8h0m16.8-2.6h0m-45.6 10.6h0m0-2.9h0m.8 1h0m1.4-.6h0m.2 2.5h0m.4 0h0m.1 .5h0m0-1.4h0m.1 .1h0m0 1h0m.1 .4h0m.2-4.3h0m.2 3.4h0m.6-2.1h0m0 .8h0m.1-2h0m.2 .7h0m.1 3.2h0m.1-.3h0m0 .6h0m.1-4.2h0m.1 2.9h0m.3-.4h0m.6 1.6h0m.1-.3h0m0-.7h0m.1-.7h0m.2-1.6h0m0 3.1h0m0-3.8h0m.2 1.8h0m.1 1.3h0m.3-2.5h0m0 3.3h0m.1-2.5h0m0 2.3h0m.1-1.6h0m.2-.4h0m.1-2.5h0m.2 2.5h0m0-1.4h0m.2 3.5h0m.1-1.6h0m.4-3.5h0m.1-.5h0m.1 0h0m0 3.6h0m.2-3.1h0m.5 2.9h0m0-2.2h0m.1 0h0m0 0h0m.2 .2h0m0 1.5h0m0 1.1h0m.1-1.6h0m.1 1.1h0m.1-.2h0m0-1.1h0m.2 .4h0m.1 .6h0m.1-1.5h0m.1 4.2h0m.2-5.3h0m.1 .9h0m0 .9h0m.3-1.3h0m.3 3.9h0m0-3.6h0m0 3.7h0m.1-3.7h0m.5-.7h0m.1 .7h0m.1 3.8h0m.2-4.6h0m.6 3.9h0m.7-1.3h0m.2 2.5h0m.5-.6h0m.4-1.6h0m.1-.8h0m.1 .6h0m0 1.3h0m.1-3.2h0m.5 2.6h0m0-1.9h0m.1-.1h0m.1 3.6h0m.1-3.7h0m.4-1.8h0m.1 .3h0m.1-.1h0m.2 1.7h0m.2 .8h0m.1-1h0m.2-1.6h0m0 3.6h0m0 .4h0m.3-4.3h0m.5 .1h0m.3 1.6h0m.3-.1h0m.4-.6h0m.1-.6h0m0 1.3h0m.1 1.4h0m.4-2.7h0m.8 1h0m.6 2.1h0m2.9-2.1h0m2.7-1h0m-26.2 7h0m0 2.1h0m0-1.8h0m0 1.1h0m0 0h0m0 2h0m0-2.5h0m0 2.9h0m0-2h0m0-2.8h0m0 2.5h0m0 2.9h0m0-.7h0m0-2.7h0m0 2.8h0m0-2.6h0m0 3.1h0m0-3.8h0m0 .3h0m0 3h0m0-3h0m0 1.4h0m0-.8h0m0-1.8h0m.1 2.5h0m.3-2.5h0m0 4.1h0m.2-1h0m.1-.2h0m.3-.1h0m.4-2.1h0m0 1.4h0m.1-3.1h0m0 5.5h0m.1-.4h0m.6-3.2h0m.1-1.3h0m.1 2.4h0m0-.8h0m.1 2.5h0m.1-1.6h0m0 1.9h0m0-2.2h0m0 1.5h0m.4-2.3h0m.3 1.7h0m0 .3h0m.1-3.5h0m.2 .1h0m0 2.1h0m0 .3h0m.3 0h0m.2-.7h0m.1 .8h0m.1-1.4h0m.1-1.4h0m.1 1.3h0m.3 .1h0m.2 .3h0m.1 3.8h0m.4-5.1h0m0 4.6h0m.6-1h0m.1-2.9h0m.3 2.3h0m.2 .6h0m.3 1.4h0m.2-.5h0m.2-1.5h0m.2 1.5h0m.3-1.7h0m.3-.5h0m0 2.5h0m0-2.7h0m.2 1.4h0m.2-1.8h0m.1 2.1h0m.1 .1h0m.1-.8h0m0-.9h0m.1 .9h0m.4-.5h0m.1-1.7h0m.1 1.3h0m.4-.9h0m0 3.3h0m0-4.3h0m.1 .2h0m0 .4h0m.2 1.8h0m.3-1.7h0m.2-.3h0m.2-1.2h0m.1 2.8h0m.2-1.5h0m.2 4.4h0m.2-5.4h0m.1-.1h0m.2 .8h0m0 2.6h0m.2-1.5h0m.2 1h0m.9 .1h0m.2 2.5h0m0-3h0m.1-.9h0m.4 1.5h0m.4-3.1h0m.2 3.6h0m.2-3.2h0m.3 .2h0m.3-.4h0m.1 1.6h0m.4 1.9h0m.1-3h0m1.5-1.1h0m0 3.6h0m.2-1.3h0m.1-.9h0m-17.8 6.2h0m0-.7h0m0-.3h0m0 0h0m0 0h0m0 .2h0m0 .5h0m0-1.2h0m0 .2h0m0 .1h0m0 1.1h0m0-.8h0m.2-.4h0m.3 .2h0m.2 .2h0m.7-.5h0m.1 2.7h0m.4-.4h0m.4 .1h0m.2 .3h0m.1-.7h0m.2 .7h0m.1 0h0m.1 0h0m.2-1.9h0m.3-.4h0m.2 2.3h0m0 0h0m.1-2.3h0m.1-.1h0m.4-.5h0m.1 2.2h0m0-1.1h0m.1 1.8h0m0-.6h0m.1 .6h0m.3 0h0m.1-.8h0m0-1.1h0m.1-.2h0m.2 1.9h0m.3 .2h0m0-2.5h0m.3-.1h0m.3 .1h0m.3 2.3h0m.1 .2h0m.2 0h0m.2 0h0m.2 0h0m.5 0h0m.2 0h0m.1-2.8h0m.9 1.3h0m.5-1.4h0m.9 .5h0m.1-.1h0m.3-.2h0m2.9 2.2h0m3.4-2.3h0m2.9 1.6h0" stroke="#7d7d00" stroke-width="2.7" stroke-linecap="round" fill="none"/>
<polygon points="350.6,284.1 354.8,279.8 358.9,275.6 363.1,271.4 367.3,267.1 371.5,262.9 375.7,258.6 379.8,254.4 384,250.1 388.2,245.9 392.4,241.6 396.6,237.4 400.7,233.1 404.9,228.9 409.1,224.7 413.3,220.4 417.5,216.2 421.6,211.9 425.8,207.7 430,203.4 434.2,199.2 438.4,194.9 442.5,190.7 446.7,186.4 450.9,182.2 452,183.3 447.8,187.5 443.6,191.8 439.4,196 435.3,200.3 431.1,204.5 426.9,208.7 422.7,213 418.5,217.2 414.4,221.5 410.2,225.7 406,230 401.8,234.2 397.6,238.5 393.5,242.7 389.3,247 385.1,251.2 380.9,255.5 376.7,259.7 372.6,263.9 368.4,268.2 364.2,272.4 360,276.7 355.8,280.9 351.7,285.2" fill="#cfd0e0"/>
<path d="M579.1 51.5h0m-9.1 15.4h0m-33.4 27.8h0m4.5-1.5h0m-10.6 6.2h0m3 1.5h0m-9.1 6.2h0m-9.1 7.7h0m-7.9 13.5h0m-7.9 5.3h0m.6-3.4h0m1.4 .7h0m.2 0h0m.4 .9h0m.2-1.4h0m1.1 1.8h0m-10.3 8h0m3.6-.9h0m-7.2 5.3h0m1.1-2.2h0m.5 .6h0m1.5 .8h0m-18.7 14.4h0m2.2 .3h0m.5 .1h0m1.8-3.6h0m.6-.5h0m.9-.4h0m-12.1 11.9h0m-10.1 10.9h0m5.2-4.7h0m-12.7 10.4h0m1.1-.1h0m.8 .3h0m.9-.2h0m.5-.6h0m.6-3.3h0m1.4-1.1h0m2.3-.4h0m.2 .7h0m-12.6 10.7h0m1.4-2.9h0m.2 2.3h0m3.3-3.3h0m.4 0h0m-10.5 8.5h0m.9-.5h0m1-1.4h0m.4-.8h0m.5 .8h0m-10.3 9.2h0m2.2-.2h0m.5-1.2h0m.6-1.2h0m.3-.1h0m.8-.3h0m1.2-1.9h0m-11.7 10.3h0m.6 .3h0m1.9 .5h0m.6-1.1h0m.2-1.2h0m.5 .5h0m.5-.5h0m1.8-2.1h0m1-.6h0m-10.9 9.4h0m.2 .2h0m.4-1.2h0m.3 1.4h0m0 .3h0m0-.5h0m.8-2h0m.2 1.6h0m.2 .5h0m.7-2.3h0m2.3-.3h0m.2-1.7h0m-12.1 10.6h0m2.5-.7h0m.3-3h0m.3 1.9h0m.2-.9h0m.1 .3h0m0-.3h0m.3 1.3h0m.8-2.5h0m.6 .9h0m-13 10.2h0m.1-.1h0m4.2-1.8h0m4-3.6h0m-11.6 10.6h0m.4 .3h0m.4-.6h0m2.1-3.5h0m2.6-.4h0m.5 0h0m-12.9 11.1h0m.7-.4h0m3.2-3.3h0m.4-1.1h0m.2-.4h0m.2 .6h0m.1-1.1h0m.3 .8h0m.5-.1h0m.7-.1h0m-13.6 10.3h0m1.4-.1h0m1.4 .1h0m.1-1h0m.8-.7h0m.6-.7h0m.2-.7h0m0 2h0m.6-.7h0m.1-2.7h0m.3 1.7h0m.5 .4h0m1.5-2.4h0m-11.6 10.8h0m1 .2h0m.5-.3h0m.6-2.1h0m.4 .3h0m.1 .6h0m.1 1.1h0m.6-.6h0m.3-1.3h0m1.2-.5h0m.1-1.8h0m.9 .4h0m-12.3 10.3h0m.9-1.1h0m.7 .8h0m.1 .8h0m1.6-2.1h0m2.2-1.8h0m.1-1.8h0m-10.9 8.7h0m.2 2.1h0m1.2 .6h0m.4-1.9h0m.3-1.7h0m.7 1.5h0m.8-.4h0m1-.7h0m1-2.2h0m-12.1 11.7h0m.4-.4h0m.8-2h0m.2 1.9h0m.2-1.5h0m0 .6h0m.6 .1h0m.5-1.1h0m1.1-.9h0m1.3-2h0m2.3-.2h0m.1-.2h0m-12.9 10.2h0m1.5 0h0m.1 1.5h0m0-.2h0m.2-2.1h0m0 1h0m.3-.5h0m.1 1.2h0m.2-1.8h0m1.1-.8h0m.4 1.2h0m.5-3.5h0m.5-.3h0m.1 .2h0m.8 .5h0m.2-.6h0m.8 .4h0m-13.8 11.1h0m1.9-1.9h0m.5 1h0m0 .1h0m.3 .2h0m.2-2.4h0m.3 1h0m.3-.6h0m1.1-1.7h0m1.3 .5h0m.7-1h0m.5-.1h0m.4-.7h0m-14.2 11.9h0m1.2-.6h0m.4 .3h0m0 0h0m1.3-1h0m.5-1.4h0m.7-.7h0m0 2.1h0m.2-1.2h0m.1-.7h0m.6-.4h0m.3-.9h0m1.4 1h0m.1-.6h0m-11.1 9.8h0m.4-.7h0m.6-.7h0m1.1-1.2h0m.7-1.5h0m.2 0h0m.3 1.4h0m.4-1.6h0m.2-1.3h0m.2 1.3h0m.1-.2h0m0 .9h0m.4 .1h0m.4-1.4h0m.1 .5h0m.1 .2h0m1.1-1.1h0m-8.8 8.5h0m.1-1.7h0m.6 .8h0m.4-.5h0m1.5-.6h0m.1-.9h0m.6 .4h0m.6 .1h0" stroke="#cfd0e0" stroke-width="2.3" stroke-linecap="round" fill="none"/>
<line x1="332.7" y1="38" x2="332.7" y2="304.1" stroke="#000" stroke-width="1.4"/>
<line x1="332" y1="303.4" x2="598.3" y2="303.4" stroke="#000" stroke-width="1.4"/>
<line x1="342" y1="303.4" x2="342" y2="306.7" stroke="#444444" stroke-width="1.1"/>
<text x="342" y="318.3" font-size="12" fill="#444444" text-anchor="middle">0</text>
<line x1="329.1" y1="293.9" x2="332.7" y2="293.9" stroke="#444444" stroke-width="1.1"/>
<text x="327.1" y="298" font-size="12" fill="#444444" text-anchor="end">0</text>
<line x1="402.8" y1="303.4" x2="402.8" y2="306.7" stroke="#444444" stroke-width="1.1"/>
<text x="402.8" y="318.3" font-size="12" fill="#444444" text-anchor="middle">2</text>
<line x1="329.1" y1="232.1" x2="332.7" y2="232.1" stroke="#444444" stroke-width="1.1"/>
<text x="327.1" y="236.2" font-size="12" fill="#444444" text-anchor="end">2</text>
<line x1="463.6" y1="303.4" x2="463.6" y2="306.7" stroke="#444444" stroke-width="1.1"/>
<text x="463.6" y="318.3" font-size="12" fill="#444444" text-anchor="middle">4</text>
<line x1="329.1" y1="170.4" x2="332.7" y2="170.4" stroke="#444444" stroke-width="1.1"/>
<text x="327.1" y="174.5" font-size="12" fill="#444444" text-anchor="end">4</text>
<line x1="524.4" y1="303.4" x2="524.4" y2="306.7" stroke="#444444" stroke-width="1.1"/>
<text x="524.4" y="318.3" font-size="12" fill="#444444" text-anchor="middle">6</text>
<line x1="329.1" y1="108.6" x2="332.7" y2="108.6" stroke="#444444" stroke-width="1.1"/>
<text x="327.1" y="112.7" font-size="12" fill="#444444" text-anchor="end">6</text>
<line x1="585.2" y1="303.4" x2="585.2" y2="306.7" stroke="#444444" stroke-width="1.1"/>
<text x="585.2" y="318.3" font-size="12" fill="#444444" text-anchor="middle">8</text>
<line x1="329.1" y1="46.9" x2="332.7" y2="46.9" stroke="#444444" stroke-width="1.1"/>
<text x="327.1" y="51" font-size="12" fill="#444444" text-anchor="end">8</text>
<text x="336.4" y="69.2" font-size="16.5" font-weight="bold">Up in WT</text>
<text x="336.4" y="87.2" font-size="16.5" font-weight="bold">432 genes</text>
<text x="597.3" y="279" font-size="16.5" font-weight="bold" text-anchor="end">177 genes</text>
<text x="597.3" y="296.3" font-size="16.5" font-weight="bold" text-anchor="end">Up in Trem2<tspan dy="-5.9" font-size="9.9">ko</tspan></text>
<text x="460" y="17.3" font-size="18.4" font-weight="bold" text-anchor="middle">AβE4: Trem2<tspan dy="-6.6" font-size="11">ko</tspan><tspan dy="6.6"> vs WT</tspan></text>
<line x1="398" y1="174.8" x2="393.3" y2="217.3" stroke="#000" stroke-width="1.3"/>
<text x="375.3" y="172" font-size="14.3" font-weight="bold" font-style="italic" fill="#ff1a1a">Ccl4</text>
<line x1="429.3" y1="158.8" x2="398.9" y2="226" stroke="#000" stroke-width="1.3"/>
<text x="418.6" y="153.5" font-size="14.3" font-weight="bold" font-style="italic">Lpl</text>
<line x1="491" y1="169.5" x2="475.8" y2="164.7" stroke="#000" stroke-width="1.3"/>
<text x="494.5" y="174.8" font-size="14.3" font-weight="bold" font-style="italic" fill="#1a33ff">C1qc</text>
<line x1="386.6" y1="198" x2="379.7" y2="246.9" stroke="#000" stroke-width="1.3"/>
<text x="342.8" y="194.4" font-size="14.3" font-weight="bold" font-style="italic">Cxcl16</text>
<line x1="354.8" y1="218" x2="377.3" y2="243.2" stroke="#000" stroke-width="1.3"/>
<text x="336.4" y="214" font-size="14.3" font-weight="bold" font-style="italic" fill="#ff1a1a">Ccl3</text>
<line x1="342.8" y1="241.3" x2="347.6" y2="280.5" stroke="#000" stroke-width="1.3"/>
<text x="336.4" y="238.6" font-size="14.3" font-weight="bold" font-style="italic" fill="#ff1a1a">Il1b</text>
<line x1="460.5" y1="209" x2="442.1" y2="205.6" stroke="#000" stroke-width="1.3"/>
<text x="463" y="214" font-size="14.3" font-weight="bold" font-style="italic" fill="#1a33ff">P2ry12</text>
<line x1="435.7" y1="235.7" x2="410.6" y2="235.7" stroke="#000" stroke-width="1.3"/>
<text x="438.1" y="238.6" font-size="14.3" font-weight="bold" font-style="italic" fill="#1a33ff">Tgfbr1</text>
<line x1="413.3" y1="254.4" x2="399.7" y2="242.6" stroke="#000" stroke-width="1.3"/>
<text x="414.4" y="264" font-size="14.3" font-weight="bold" font-style="italic" fill="#1a33ff">Csf1r</text>
<line x1="397.8" y1="284.5" x2="388.5" y2="274.6" stroke="#000" stroke-width="1.3"/>
<text x="391.4" y="296.5" font-size="14.3" font-weight="bold" font-style="italic" fill="#1a33ff">Cd164</text>
</g>
<g>
<path d="M1001.3 47.4h0m-72.2 62.2h0m-8.8 19.2h0m-16.2 4.5h0m-15.9 9.3h0m13.2 8.9h0m-25.3 4.8h0m-7.5 5.3h0m2.1-.9h0m-8.3 8.7h0m22.9-3.1h0m-30.6 10.1h0m1.9-1.6h0m4.4-3.7h0m19.6 1.7h0m-26.6 5.1h0m16.1 3.6h0m3.5-3.8h0m-30.2 9.8h0m-4 1.6h0m4.3 .4h0m-10.1 6.4h0m13.1 4h0m11.8 0h0m-28.6 2.8h0m.6 1.8h0m19.1-.2h0m10.3 3h0m-75.1 13.3h0m21.3 3.6h0m5.1-.8h0m0-.8h0m1.2-3.2h0m16.9 3.4h0m.1 .3h0m-25.2 5.5h0m21-3.5h0m.3 .3h0m-30.5 11.6h0m3.6-3h0m.5-1.6h0m4.1-1.2h0m13.8 2.7h0m-10 8.4h0m1.8 .2h0m.5-.6h0m7.8-4.2h0m4.6 6.6h0m-38.3 4.9h0m16.2 4.1h0m2.6-3.5h0m-30.6 6.3h0m.1 3.1h0m4.8-3.9h0m.4 .8h0m17.8 .5h0m.3 1.7h0m-30.5 8.6h0m2.6-2.9h0m.5 .7h0m.3-1h0m2.2-1.9h0m1.1 2.2h0m15.7 0h0m5.3-1.4h0m-41.2 10.4h0m7.3-2.1h0m1-.4h0m.5-.3h0m1.5 2.7h0m.8-1.2h0m.8 .1h0m1.6-3.4h0m16 3h0m1.7 .1h0m.8-.5h0m1.3-2.5h0m-33.1 10.2h0m5.3-2.1h0m.3-.1h0m1.5-.1h0m2.1-2.5h0m10 4.6h0m3.3 0h0m1.4-2.3h0m1.1-.9h0m-26.7 6.9h0m0 2h0m.5-3.1h0m1.6 1.4h0m.1-.4h0m.4-.8h0m.7-1.9h0m.1 3.9h0m.1-.8h0m1.2-1.6h0m.2-1.8h0m0 .1h0m18.4 1.4h0m.8-.9h0m-24.1 5.8h0m0 2.2h0m.6 1h0m10.4 2h0m.9-3.1h0m3.6 1.3h0m.7-2.2h0m-10.7 6.4h0m2.4 0h0m1 0h0m2-.9h0m.9 .3h0m38.3-1.5h0" stroke="#087a38" stroke-width="2.7" stroke-linecap="round" fill="none"/>
<polygon points="749.5,289.9 754.3,284.8 759.4,279.7 764.5,274.5 769.6,269.4 774.7,264.3 779.8,259.2 784.9,254.1 790,248.9 795.1,243.8 800.2,238.7 805.3,233.6 810.4,228.5 815.5,223.4 820.7,218.4 826,213.5 831.3,208.6 836.6,203.7 841.8,198.7 846.9,193.6 852,188.4 857.1,183.3 862.2,178.2 867.3,173.1 872.4,168 874,169.6 868.9,174.7 863.8,179.8 858.7,184.9 853.6,190.1 848.5,195.2 843.4,200.3 838.5,205.5 833.6,210.9 828.7,216.2 823.8,221.5 818.9,226.8 813.8,231.9 808.7,237 803.6,242.2 798.5,247.3 793.4,252.4 788.3,257.5 783.2,262.6 778.2,267.8 773.1,272.9 768,278 762.9,283.1 757.8,288.2 752.7,293.1" fill="#bdbdbd"/>
<path d="M985.1 56.3h0m-10.3 11.8h0m-20 16.3h0m-.6 4.5h0m-17.7 13.3h0m-13.2 13.3h0m5.8-4.4h0m1.5 2.9h0m-14.7 8.9h0m-4.4 3h0m3.4-.5h0m.4 3h0m-4.6 4h0m.3-2.6h0m.1 1.2h0m1.4-.6h0m1.4-.5h0m-7.1 5.7h0m-13.2 11h0m2-.7h0m.8-.6h0m1.1-1h0m1.7 .6h0m2.9-3.9h0m-12.4 11.8h0m1-2h0m1.2-.7h0m.1-1.4h0m.5-.1h0m6.3-1.2h0m-18 10.8h0m2.5 .7h0m.8-.4h0m.2-2.4h0m.2 1.6h0m.8-2h0m.1 1.9h0m.1 .8h0m.1-.5h0m.6-.5h0m.7-3.3h0m.5 2.4h0m.7-2.6h0m-12.5 10.6h0m.4 .2h0m2-1h0m.1-1.4h0m.4 .1h0m.6-1.4h0m.1 .4h0m.9 1.9h0m0-.4h0m.4-.8h0m.6-.7h0m.5-2.3h0m.1 4.2h0m.8-3.3h0m.1-.1h0m-11.7 10h0m.2 .4h0m0-1.6h0m1.1 1.8h0m2.3-4.3h0m.3 1.8h0m.7-2h0m.2 2.3h0m.6-2.8h0m.3 1.5h0m.2 1.6h0m.3-2.8h0m.2-.4h0m3-.2h0m-16.2 10.4h0m0 .6h0m2.3-1.5h0m0 1.1h0m.1-.6h0m.1 1h0m.5-1.3h0m.1-1.1h0m.2 1.3h0m1.3-3h0m.7 2h0m0 .4h0m1.1-2.9h0m.9-.3h0m1.2 .3h0m8 4.6h0m-22.1 6.6h0m1.5-1.8h0m0 .6h0m.1 1h0m.7-.6h0m0-1h0m.4 1.6h0m.2-2.4h0m.1 1.2h0m.7-.6h0m.2-1.1h0m.2-1.7h0m.3 1.2h0m1.3-1.8h0m1.6 0h0m-10 8.6h0m.2-1.3h0m.5 1.2h0m.2-.1h0m.4 1.5h0m0-3.1h0m.1 1.8h0m.2-1.9h0m.8 1.7h0m-11.2 7.4h0m.3 0h0m1-.3h0m.6-.8h0m.5-.4h0m.8 .6h0m.3-2h0m.1 1.8h0m.7-.5h0m.2-2.3h0m0 3.9h0m.1-2.7h0m.9-.8h0m0 2.3h0m.2-1.8h0m1.1-.8h0m-42.5 10.5h0m28.1 .8h0m1.2-.6h0m1.4-.7h0m.9-1.3h0m0-.6h0m.9 .4h0m2.3-1.5h0m.5-.6h0m.6 1h0m1.9-1.4h0m-15.2 10.4h0m3-1.1h0m.3-.4h0m0-1.5h0m.1 3.6h0m0 .2h0m2-3.4h0m.8 .6h0m.2-1.2h0m0 .6h0m.7-1.3h0m-15 11h0m2 0h0m.2-2h0m.3 .3h0m1.7-1.1h0m0-.2h0m.7 1.1h0m.2-1.8h0m.8 .3h0m.1 1h0m.1-2.3h0m1.6-.5h0m.2 3h0m.9-3.2h0m.7 2.1h0m.7-1.3h0m-13.8 8.7h0m.7 .1h0m.7-1.5h0m.1 3.3h0m.5-1h0m1.4-4.1h0m1.8 .5h0m.6-1.2h0m.6 1.2h0m.2-.5h0m1 2.3h0m1.2-2.8h0m-15.3 11.2h0m1.9-.8h0m1.6-2.4h0m.2-.3h0m.1 1.4h0m2-2.6h0m.1-.4h0m0 1.8h0m.4-1.8h0m.4 2h0m-14.8 8.9h0m2.1 .6h0m.4-2.2h0m1.2-.9h0m1.4 2.1h0m.6-4.1h0m.2-.3h0m1.2 2.1h0m.8 2.1h0m.9 .9h0m0-2.1h0m1.2-2.8h0m2.5-.3h0m.1-.3h0m-16.9 10.5h0m1.8 1h0m.2-1.1h0m1.4-.4h0m.2-1.8h0m.1 1.4h0m1.7-.6h0m1-1.2h0m.3 3.8h0m.4-1.4h0m.3-.7h0m5-3.5h0m-22.4 11.3h0m1.8-.5h0m1.7 .5h0m1.9-.4h0m.6-2h0m.2 .7h0m0 1.8h0m.2-2.1h0m.5-.4h0m.2-.9h0m0 .4h0m.4-.9h0m.4 1.9h0m.5-.2h0m.2-2.5h0m0 5.2h0m.2-2.1h0m2.7 .3h0m.3-1h0m.4-.6h0m2-.7h0m.2-1.5h0m-17.5 10.7h0m3.5-1.1h0m.7 1.1h0m.3-4.2h0m.1 1.7h0m1.2 2.2h0m.2-4.1h0m.4 4.1h0m.2-2.5h0m.8 .8h0m1.4 .2h0m.5 .6h0m0-2.4h0m.2 1.9h0m-14.8 8.6h0m.3-.2h0m.4-2.5h0m.4 .9h0m.2-2.3h0m.2 2.4h0m.7-1.6h0m.3 0h0m.2 .1h0m2.6-1.4h0m.5 .3h0m.8 2.1h0m.3 1.8h0m0-5.1h0m.2 2.5h0m0-2.7h0m.1 2h0m.4 2.3h0m.1-4h0m.3 1.3h0m.3-1.7h0m.8 3.3h0m.8-.4h0m-14.7 4.6h0m.6 3.2h0m.4 .8h0m.5-.3h0m.3-4.9h0m.4 4.5h0m.9-3.8h0m.5 .3h0m.2 .3h0m.3 1.1h0m.4-.1h0m.1-1.4h0m.2-1.1h0m.1 .2h0m.3 .3h0m0 1.2h0m.2-.9h0m.2 4h0m0-2.7h0m.4-2.4h0m0 .6h0m.5 .1h0m.8 .2h0m.4 .9h0m.2 2h0m1.2-3.4h0m.1 .7h0m1.6-.7h0m-18.5 11.6h0m.3-.9h0m0 .5h0m.7-1.5h0m.8-1.2h0m.2-1.1h0m0 1.9h0m.4-2.9h0m.3 1.9h0m0 3.1h0m.1-1.4h0m.9-.5h0m0-3.2h0m0 4.5h0m.5 .2h0m0-4.1h0m1.4-.7h0m1.1-.3h0m.1 4.3h0m0 .2h0m.2-3.4h0m.1 3h0m.1-.5h0m.2-.2h0m.5-2.4h0m1 2.5h0m.7-1.3h0m.4-2.5h0m.3 3.5h0m-16.6 6.2h0m.3 .2h0m1.2 2.1h0m.1-2h0m1-3.1h0m.2 2.6h0m.1 1h0m.1-.2h0m.2 1.4h0m.4-2.3h0m0 0h0m.4-3h0m.1 2.8h0m0 0h0m.4-2.4h0m.7 .9h0m.2 1.2h0m.2 2.8h0m.1-1.8h0m.1 1.2h0m.2-.5h0m.4 1.2h0m.1-1.3h0m.1 .9h0m.2-2.2h0m.6 2h0m.3-2.6h0m.1-.3h0m0 1h0m.4 .2h0m0-1.6h0m.1-1.2h0m.2 .8h0m1.2 1.4h0m.1 .5h0m.6-1.8h0m.2-1.4h0m-17 10.8h0m1.3 .3h0m.8-1.2h0m.3-.8h0m.9 0h0m.3 1h0m0-1.3h0m.1-1.7h0m.4 4.1h0m0-1.7h0m.7 1.9h0m.3-.5h0m.2 .7h0m.2-3.2h0m.1 2.6h0m0-2.5h0m.3 2.4h0m.3-1.6h0m0-.9h0m0 2.3h0m.3 .1h0m.1-2.5h0m0 1.4h0m0-.8h0m.2 2.1h0m.4-4.3h0m.3 1.3h0m.3 .9h0m.4-.5h0m.1-2.3h0m.1 3.1h0m.3 1.3h0m.2-4.4h0m.1 2.2h0m0-1.7h0m.1 2h0m.2 .2h0m.5 .6h0m.1-1h0m.1 .7h0m1-.9h0m.1 1.1h0m.5-.4h0m-19.3 8.8h0m1.2-.2h0m.6-1.6h0m.1 1.2h0m1-.8h0m.2-.3h0m.4-1h0m.1 2.6h0m.7-.2h0m.4-2.5h0m.1 1.4h0m.2 .3h0m.3-2.3h0m.1 3.1h0m0-5h0m.3 3h0m.3-.1h0m.5 1.3h0m0-2.6h0m.2-1.3h0m0 1.7h0m.2 2.9h0m.2 0h0m.1-3.6h0m.5 3.3h0m.1-2h0m.2 1.7h0m.1 .6h0m.2-4.9h0m.1 .8h0m.5 2h0m.4 .1h0m.3 1.6h0m.1-5h0m0 1.3h0m0 1.2h0m.1 1.3h0m.1-1.3h0m.1-2.5h0m.5 2.9h0m.1-2.1h0m.1 1h0m.1-1.8h0m.1 1.5h0m.1 .7h0m.6-1.5h0m.3 2.4h0m.2-.6h0m.2 1h0m1-2.2h0m.5 .7h0m.1-.6h0m.2 .9h0m.1-2.4h0m-16.9 10.4h0m0 .4h0m0 .7h0m.5-.9h0m.4-.4h0m.4-1.7h0m.1 .9h0m0-.3h0m.1 .9h0m.1-1.3h0m.1 1.1h0m.2-.8h0m.1-.8h0m0 1.7h0m.3 1.4h0m.1-3h0m.1 2.3h0m.1-1.7h0m0 0h0m0-.8h0m.1 1.1h0m.2-1.5h0m0 1h0m.1 1.3h0m.2 1.4h0m.3-3.7h0m.1-.9h0m0 4.2h0m0-4.8h0m.1 1.2h0m.1 4.5h0m.5-5h0m.1 3.7h0m.1-.5h0m0-3.1h0m.2 1.8h0m0 3h0m.4-4.6h0m.1 2.3h0m0-.5h0m.4-1.9h0m.3-.9h0m.1 .7h0m.3 1.7h0m.4-.6h0m0 2.2h0m.1-2.3h0m.4 2.4h0m.1-1.8h0m.1 .7h0m0-.1h0m.5 .5h0m.2-.6h0m0-2.9h0m.4 1.1h0m0 1.6h0m.1 .7h0m.1-2.5h0m0 1h0m.1 0h0m.2-.6h0m.5-.3h0m0 .5h0m.3-.6h0m0 1.4h0m.1-1.8h0m.2-.5h0m0 2h0m.1 .5h0m0-1.1h0m.3-1.4h0m.2 1.7h0m.6-.4h0m.4-.2h0m.8-.6h0m-12.5 6.7h0m0-1h0m0 .6h0m0-.1h0m0-.1h0m0 .1h0m0 0h0m0 .7h0m.5-1.2h0m.3 .7h0m.3 1.1h0m.3 0h0m.2-.1h0m.1-.1h0m0-.1h0m0-.7h0m.3-.4h0m0 1h0m.2 .4h0m.2-.3h0m.5 .3h0m.1-.9h0m0 .9h0m.1-1.7h0m.2-.1h0m.1 1.8h0m.3-.1h0m.4-.4h0m.9-.5h0m.7-.5h0m.7 0h0" stroke="#bdbdbd" stroke-width="2.3" stroke-linecap="round" fill="none"/>
<line x1="740.4" y1="38.4" x2="740.4" y2="303.9" stroke="#000" stroke-width="1.4"/>
<line x1="739.7" y1="303.2" x2="1005" y2="303.2" stroke="#000" stroke-width="1.4"/>
<line x1="749.5" y1="303.2" x2="749.5" y2="306.5" stroke="#444444" stroke-width="1.1"/>
<text x="749.5" y="318.1" font-size="12" fill="#444444" text-anchor="middle">0</text>
<line x1="736.8" y1="293.1" x2="740.4" y2="293.1" stroke="#444444" stroke-width="1.1"/>
<text x="734.8" y="297.2" font-size="12" fill="#444444" text-anchor="end">0</text>
<line x1="808.4" y1="303.2" x2="808.4" y2="306.5" stroke="#444444" stroke-width="1.1"/>
<text x="808.4" y="318.1" font-size="12" fill="#444444" text-anchor="middle">2</text>
<line x1="736.8" y1="233.9" x2="740.4" y2="233.9" stroke="#444444" stroke-width="1.1"/>
<text x="734.8" y="238" font-size="12" fill="#444444" text-anchor="end">2</text>
<line x1="867.3" y1="303.2" x2="867.3" y2="306.5" stroke="#444444" stroke-width="1.1"/>
<text x="867.3" y="318.1" font-size="12" fill="#444444" text-anchor="middle">4</text>
<line x1="736.8" y1="174.7" x2="740.4" y2="174.7" stroke="#444444" stroke-width="1.1"/>
<text x="734.8" y="178.8" font-size="12" fill="#444444" text-anchor="end">4</text>
<line x1="926.2" y1="303.2" x2="926.2" y2="306.5" stroke="#444444" stroke-width="1.1"/>
<text x="926.2" y="318.1" font-size="12" fill="#444444" text-anchor="middle">6</text>
<line x1="736.8" y1="115.5" x2="740.4" y2="115.5" stroke="#444444" stroke-width="1.1"/>
<text x="734.8" y="119.6" font-size="12" fill="#444444" text-anchor="end">6</text>
<line x1="985.1" y1="303.2" x2="985.1" y2="306.5" stroke="#444444" stroke-width="1.1"/>
<text x="985.1" y="318.1" font-size="12" fill="#444444" text-anchor="middle">8</text>
<line x1="736.8" y1="56.3" x2="740.4" y2="56.3" stroke="#444444" stroke-width="1.1"/>
<text x="734.8" y="60.4" font-size="12" fill="#444444" text-anchor="end">8</text>
<text x="743.7" y="69.2" font-size="16.5" font-weight="bold">Up in WT</text>
<text x="743.7" y="87.2" font-size="16.5" font-weight="bold">43 genes</text>
<text x="1004" y="279.4" font-size="16.5" font-weight="bold" text-anchor="end">24 genes</text>
<text x="1004" y="296.7" font-size="16.5" font-weight="bold" text-anchor="end">Up in Trem2<tspan dy="-5.9" font-size="9.9">ko</tspan></text>
<text x="897" y="17.3" font-size="18.4" font-weight="bold" text-anchor="middle">AβE3: Trem2<tspan dy="-6.6" font-size="11">ko</tspan><tspan dy="6.6"> vs WT</tspan></text>
<line x1="792.5" y1="160.4" x2="809.3" y2="222.9" stroke="#000" stroke-width="1.3"/>
<text x="770.9" y="156.2" font-size="14.3" font-weight="bold" font-style="italic" fill="#ff1a1a">Ptprc</text>
<line x1="822.6" y1="178.5" x2="816.8" y2="211.7" stroke="#000" stroke-width="1.3"/>
<text x="815.2" y="175.3" font-size="14.3" font-weight="bold" font-style="italic">Cd52</text>
<line x1="752.5" y1="200.9" x2="763.7" y2="264" stroke="#000" stroke-width="1.3"/>
<text x="743.2" y="196.8" font-size="14.3" font-weight="bold" font-style="italic" fill="#ff1a1a">Ifi27l2a</text>
<line x1="776.5" y1="235.7" x2="782.6" y2="243.7" stroke="#000" stroke-width="1.3"/>
<text x="762.4" y="232" font-size="14.3" font-weight="bold" font-style="italic">Cd34</text>
<line x1="855" y1="217.3" x2="849.4" y2="209.6" stroke="#000" stroke-width="1.3"/>
<text x="850.6" y="230.9" font-size="14.3" font-weight="bold" font-style="italic" fill="#1a33ff">Ccl3</text>
<line x1="868.1" y1="132.1" x2="875.8" y2="152.9" stroke="#000" stroke-width="1.3"/>
<text x="853.4" y="128.9" font-size="14.3" font-weight="bold" font-style="italic">Ctsz</text>
</g>
<g>
<path d="M1306.8 46.9h0m-116.5 81.5h0m17.7 2.1h0m16.2 0h0m-34.8 15.9h0m21.5-1.6h0m-4.4 2.9h0m-22.4 6.5h0m12.6 2.2h0m1 1.7h0m-72.3 6.5h0m64.9 3.9h0m-27 7.7h0m.4-3.2h0m.9 2.4h0m2.2-2.1h0m13.1 1.8h0m6-3.7h0m-27.5 9.7h0m20.1-3.7h0m1 .9h0m-24.1 5.5h0m11.9 2.1h0m3.5-2.7h0m-21.2 7.4h0m11.5 2.8h0m11.5-4.2h0m-32.3 11.3h0m14.4 .5h0m-35.2 1.6h0m32.4-1.3h0m1.5 2.8h0m4.4 1.4h0m4.5-2.9h0m-47.2 8.9h0m7.3 1.4h0m7.7-2.1h0m-11.6 6.6h0m2.2-3.4h0m-10 6.9h0m1.3 1.8h0m1.6-1.4h0m1.1 .5h0m2.3-2.2h0m19 2.9h0m-47.5 2.9h0m1.5 5.3h0m17.2-2.5h0m2.6-2.9h0m-10.3 10.7h0m0-2.4h0m1.6 .6h0m.6-1.3h0m22.5 3.3h0m2.7-1h0m7.3 0h0m-40.1 6.5h0m1.6-4.6h0m2.7 .3h0m23 2h0m.1 .2h0m45.2 0h0m-74.7 3.8h0m22.5 2.9h0m-28.2 3h0m.1-.2h0m19.3 3.5h0m2.6-2.5h0m-44.9 7.3h0m12.5-1.2h0m1.2-1h0m22.8 4.3h0m.1-.7h0m-42.5 7.5h0m10-1.2h0m1.7-.3h0m26.9-1.7h0m1.3 1.7h0m7.4-1.4h0m-44.3 6.8h0m2.7 .3h0m.5 2.5h0m1.3-3.9h0m.3 .9h0m1.3-.5h0m24.9-2.4h0m-36.9 11.5h0m1.5-4.9h0m.2 2.4h0m1.1 1.4h0m-2.8 6.4h0m0 .5h0m0-3.7h0m0-.7h0m0 1.4h0m1-2h0m18.6 4.9h0m-4.6 6.3h0m1.3-2.8h0m1.5-.6h0m.4 1.4h0m2-2.6h0m0-.4h0m.3 .3h0m-14.4 7.1h0m2.3 0h0m.6 0h0m2.9-.2h0" stroke="#087a38" stroke-width="2.7" stroke-linecap="round" fill="none"/>
<polygon points="1054.6,288 1057.8,282.8 1063.1,277.5 1068.3,272.3 1073.5,267 1078.7,261.8 1084,256.5 1089.2,251.3 1094.4,246 1099.6,240.8 1104.9,235.5 1110.1,230.3 1115.3,225 1120.5,219.8 1126.1,214.9 1131.9,210.2 1137.6,205.4 1143.3,200.7 1148.7,195.6 1153.9,190.4 1159.2,185.1 1164.4,179.9 1169.6,174.6 1174.8,169.4 1180.1,164.1 1182.8,166.9 1177.6,172.1 1172.4,177.4 1167.2,182.6 1161.9,187.9 1156.7,193.1 1151.5,198.4 1146.4,203.8 1141.7,209.6 1137,215.3 1132.3,221.1 1127.4,226.7 1122.2,232 1117,237.2 1111.8,242.5 1106.5,247.7 1101.3,253 1096.1,258.2 1090.9,263.5 1085.6,268.7 1080.4,274 1075.2,279.2 1070,284.5 1064.8,289.7 1059.5,293" fill="#bdbdbd"/>
<path d="M1277.3 67.7h0m16.2-4.5h0m-38.3 29.7h0m1.5-3h0m-16.3 16.3h0m3 3h0m-16.2 7.4h0m5.9 1.5h0m-14.8 7.4h0m-4.4 4.4h0m-9.8 10.6h0m2.6-2.2h0m1.3-2.4h0m-5.9 7.4h0m.1 2.4h0m.4-4.3h0m.6 3h0m1.3-1.6h0m-12.2 9.3h0m.6-.4h0m1.5-.9h0m.1-.6h0m2.8-.1h0m1.6-1.4h0m1.2-.7h0m.6 .6h0m-11.4 7.6h0m.2-.1h0m1-1h0m.7 2.8h0m.9-4.6h0m.4 4h0m.8-3.2h0m-14.3 10.8h0m.7-1.3h0m2.1-2.6h0m.4 2.5h0m.4-1.4h0m0-1.6h0m.7 3.4h0m.2 .1h0m.4-4.8h0m0 2.9h0m.1-.5h0m.5 1.8h0m.6-3.2h0m.7 0h0m.1 2.1h0m.2 .8h0m.4-1.3h0m.8-1.3h0m.8 .9h0m-14.4 9.2h0m1.6-.6h0m.1-.9h0m.8-.7h0m1.2 .4h0m.6-1.3h0m.8-1.2h0m.3 1.7h0m.5 .2h0m.1 .8h0m.2-2.5h0m.2 1h0m1.9 .2h0m1.7-1.7h0m.1 .2h0m-16.1 8.7h0m.9-.1h0m.5 0h0m.9 1.6h0m.4-2.2h0m.9 2.1h0m.1-1.6h0m.2 1.6h0m.1-.6h0m.1-2.4h0m.1 3.3h0m.3-1.1h0m.3-1.3h0m.4-2.2h0m1.2 3h0m.4-1.7h0m.4 .5h0m2-.3h0m2.2-2.4h0m-17.4 11.3h0m.9-1.6h0m.5 .5h0m.5-1.1h0m.6 .9h0m0 .9h0m.2-2.3h0m.2 1.5h0m.1-.6h0m.4-2.7h0m.2 1.9h0m.2 0h0m.5 0h0m.9 .9h0m0 .8h0m1-.2h0m.8-.4h0m.1-2.7h0m.5-.8h0m.3 1.8h0m0-1.5h0m1 .5h0m2.6-1.2h0m-17.3 10.3h0m.7 .3h0m.5-1.8h0m1.2 .7h0m.5 1.8h0m.7-2.2h0m.2 2.1h0m.2-4.5h0m.4 4.3h0m.1 .1h0m.1-4.1h0m.5 4.2h0m0-1.6h0m.7-1.8h0m.5 2.5h0m.5 0h0m.2-.7h0m.4 .2h0m.3-2.5h0m.7 3h0m.1-3.6h0m0 1.2h0m1.4 0h0m.5 .4h0m2-1.8h0m-20.3 11.3h0m3.7-2.1h0m.2 .3h0m2-2.1h0m.2 2.1h0m.3-3.8h0m1.3 3.7h0m.7-1.7h0m.8 2h0m.3-1.9h0m.1 1.2h0m.1 .1h0m.1-1.5h0m0-1.2h0m4.1 .7h0m-18.5 8.8h0m1 .3h0m.7 .1h0m2.2 .3h0m.6-3.6h0m.6 1.2h0m.3 2h0m1.6-.9h0m.3 1.5h0m.4-2h0m2-1.4h0m.2 .3h0m.1-.2h0m.2 1.9h0m2.7-3.9h0m-20.8 10.7h0m2.6 .9h0m.7 .3h0m.5-3.5h0m1.7 .1h0m.6 3.1h0m.2 .4h0m.4-2.6h0m1.5 1.1h0m.6-4.2h0m.5 .9h0m.5 1.5h0m.6-1.4h0m.4-.7h0m-18.3 10h0m1.9-.6h0m.9-.1h0m1.8 1.6h0m.5-3.6h0m.1 1.7h0m1.7 1.1h0m0-4.3h0m.7 3.2h0m.9-3.3h0m.1 5.3h0m.6 0h0m.2-4.6h0m.4 .2h0m.1 2.9h0m.5-1.1h0m.8 1.6h0m.9-3.2h0m-19.5 10.1h0m1.6-1h0m.1-.7h0m1.8 .2h0m0-1.3h0m1.4-.4h0m2.5 1.3h0m0-2.7h0m1.3 4.5h0m.2-.5h0m.5-4.7h0m.3 4.7h0m.2-3.2h0m1.9 .4h0m1.8 .1h0m.4-1.9h0m.1 5.3h0m.5-.8h0m1-3.2h0m1.6 2.5h0m-24.1 7.7h0m1.5-2.8h0m2.3 1.9h0m.8-1.3h0m.3-1.9h0m.6 .2h0m0 2.5h0m.3-4.4h0m0 3.4h0m.7 .3h0m.4-2.9h0m0 2.2h0m.2 2.4h0m2.5 0h0m.4-1.8h0m.1 .8h0m.4-1.6h0m0 .2h0m.4 1.3h0m.2-2.1h0m.1 .4h0m.9 2h0m.4-4.5h0m1.4 3.8h0m1.3-2.6h0m1.1-1h0m.4 .2h0m.7 2.1h0m.3 .2h0m.2 .1h0m.5-2.8h0m.6 4.1h0m.6-1.4h0m-24.8 8.7h0m4.1-3.3h0m.1-1.3h0m.8-.1h0m0 3.1h0m.8-.2h0m.9-2.4h0m1.1 3.8h0m.6-4.8h0m.7 5.5h0m1-4.9h0m.8-.2h0m.9-.3h0m1.5 1.9h0m.2-2.1h0m.3 4.8h0m.5-2.4h0m.2-.8h0m.1-1.7h0m.5 2.4h0m2 1.8h0m-24.8 6.4h0m2.4-.3h0m2.9-1.4h0m1-1.8h0m2 4.1h0m.2-4h0m.2 1.8h0m.5-.4h0m.9 1.3h0m2.5-.1h0m.2 .4h0m0-2.8h0m.5-1.2h0m1.9 3.5h0m.7-3.5h0m.3 4.2h0m2.2-3.4h0m.4-.5h0m.1 2.2h0m.1-2.6h0m.2 4.7h0m2.8-1.3h0m0 0h0m-26.8 7.9h0m3.8-2.4h0m.4-.6h0m.2 3.4h0m0-5.9h0m.8 .2h0m.5 2.8h0m.1 2h0m.7-4h0m.5 .2h0m.3-1.1h0m.5 .5h0m.9 2.4h0m.4 2.9h0m.5 0h0m1.9-4.1h0m.3 3.7h0m.9-4.2h0m1 4.2h0m.6-.1h0m.4-.6h0m1.3-3.8h0m1 1.8h0m.4-.9h0m3.9-1.8h0m1.8 1.5h0m-28.9 10.3h0m.9-2.2h0m.6 2.3h0m.6-2.8h0m1.6 2.7h0m.1-2.5h0m.2 2h0m.3-1.6h0m.5 .9h0m0 .8h0m.9-2h0m.2-1.7h0m.1 2.6h0m1-2.3h0m.4-2h0m.5 .7h0m.7 2.1h0m.2 2.1h0m.1-4.5h0m.8 3.4h0m.1-.9h0m0 2h0m2-.2h0m.8-2.5h0m.2-1.7h0m.1 1.3h0m.4-.7h0m.8-.2h0m.3 4.1h0m1-2.7h0m.1-.5h0m.5 2.6h0m0-3.3h0m1.2 .6h0m0-.3h0m.6 3.3h0m1.4-3.8h0m1.7 1.4h0m1.7 .1h0m-29.4 8.9h0m1.7-.4h0m2.9-1.7h0m.5 2.6h0m.1-1.1h0m1.2-2.2h0m.2 3.2h0m.1-.2h0m0-4.7h0m.1 4.8h0m.2-4.1h0m.2 .8h0m.4 3.4h0m.6-5.1h0m.5 3.2h0m2.1 .7h0m.1-4.5h0m.4 5h0m.3-3.5h0m.6 2.6h0m.3 1.2h0m.5-.3h0m0-1.4h0m0-3.4h0m0-.3h0m.2 4h0m.3-1.8h0m.3 .2h0m.1-.3h0m.1 3.5h0m1.1-2.7h0m1.2-.4h0m.2-2h0m.4 1.2h0m1.7-.9h0m.9 4.1h0m1.8-4.6h0m-29.1 11.5h0m1.5-.2h0m1.5-1.8h0m1.9 1.5h0m.2 .5h0m.5-.4h0m1.3-2.9h0m.4 2.3h0m.1-3.6h0m.2 4.3h0m.2-4.4h0m.4 .2h0m.3 2.4h0m1.3 .5h0m0-2.1h0m.2 2h0m1.3-2h0m0 1.6h0m.2-3h0m.1 3.7h0m.1-.8h0m1.2-1.9h0m.3-1.1h0m.6-.3h0m.2 1.9h0m.2 1.8h0m.2 1.7h0m.8-2.5h0m.9-2.8h0m.1 .5h0m.4 .3h0m.8-.6h0m.1 3.2h0m.9-.9h0m.6-.3h0m.9-2.3h0m.1 5.4h0m1.1-2.6h0m.3 1.8h0m.3-4.8h0m.2 .8h0m4.9-.8h0m-29.8 11.7h0m1.8-1h0m.1-2.2h0m0-.5h0m1.4 .5h0m.8 1h0m.2 .8h0m2.3 1.5h0m.4-.8h0m.6-2.4h0m0 .5h0m.1 2.1h0m.4-.2h0m.6-3h0m.1-1.2h0m.5 4.7h0m.4-5.4h0m.1 3.1h0m.1 1h0m.1-1.7h0m.3-1.9h0m.1-.7h0m.6 3.2h0m.2-1.7h0m.1 1.5h0m.4-.4h0m.8 2.4h0m.7-2.4h0m.4 2.4h0m.2-4.5h0m.3 4.9h0m.5-3.1h0m1.3 .2h0m.1-.2h0m.5 1.8h0m.3-2.1h0m1-.8h0m.2 3.1h0m.5-.9h0m.1-2.2h0m1.8-.1h0m.9 3.1h0m.9-2.6h0m-28.5 9.7h0m1.3-.8h0m.2 .8h0m1.1-3h0m.5 1.4h0m.1 2h0m.1-.4h0m.1 .3h0m.3-2.3h0m.5-.5h0m.2 1.4h0m.1-.5h0m.4 2.1h0m0 0h0m.4-1.8h0m.1-1.3h0m.9 .3h0m.2-2.8h0m1.2 5.1h0m.6-.1h0m.1-3.4h0m0 4.1h0m.4-1.5h0m.1-4.2h0m.2 3.9h0m.2 1.4h0m0-4.9h0m.1 1.5h0m.6-.5h0m.6 2.1h0m.2-3.3h0m0 2.4h0m1-1h0m0 3.4h0m.2-4.2h0m.3 3h0m0-.4h0m.2-2.8h0m.8 1.3h0m0 .6h0m.1-1.9h0m.1-.5h0m.5 3.6h0m1.4-2.2h0m.2-.5h0m.1 4.3h0m.6-.6h0m.1-4.3h0m0 .7h0m1.2 3.3h0m.9-2.4h0m.2 .8h0m.6-.8h0m2.6-2.1h0m-28.5 11.1h0m1.9 .4h0m1.5-2.8h0m.4 1.9h0m.8 .4h0m0 0h0m.2 .8h0m0-.7h0m.7 .1h0m.4-3.4h0m0-1.5h0m1 2.7h0m.2 2.4h0m.1-5h0m.1 .5h0m.1 2h0m.3-1.7h0m.2 4.3h0m0-.9h0m.1-2.1h0m1.2-.7h0m.6 0h0m.2 3.2h0m0 .9h0m0-2.5h0m.2-.6h0m.3 .7h0m.1-2.1h0m.3-1.3h0m.1 4.3h0m.2-.4h0m0-1.6h0m.3 3.1h0m.4-.8h0m.3-4.4h0m.3 .3h0m.3 1.2h0m.4-1.1h0m.4 4h0m.1-3.7h0m.2 3.5h0m.2 .2h0m.1 .4h0m.9-2.7h0m.1-1.9h0m0 2.3h0m.3-.4h0m.2-.6h0m1.1-.6h0m.2 2.6h0m0-.8h0m.1-.3h0m.3-.3h0m.2 2.5h0m.3 1h0m.8-5.2h0m.8 2.8h0m.1 .2h0m.9-2.8h0m1.1-.1h0m.9 1.2h0m-27.6 8.5h0m0 .9h0m.2-.1h0m0-1.4h0m.4-2.1h0m.1 2.2h0m.8 1.1h0m.5-3.3h0m.3 .7h0m.2 .6h0m0-.2h0m.1-1.1h0m0 3.6h0m.4-4.1h0m.1 4.3h0m.6-1.8h0m0-.1h0m.1-.1h0m.6-1.2h0m.1 2.2h0m.4 .4h0m.5-1.2h0m.7 1.3h0m.1 .5h0m.3-1.7h0m0-2.5h0m0 1.1h0m.6 1.5h0m0-.7h0m.1-2.9h0m.2 2.5h0m.4 1h0m.2 1.1h0m.2-3.1h0m.1-1.2h0m.3 .7h0m.2 1.9h0m.3 .9h0m.6 .1h0m.2 1.4h0m.1-2.7h0m.6-.6h0m.6-1.9h0m0 3.4h0m.5-.1h0m.1-2.2h0m.1 1.1h0m.1-.2h0m.5-2.1h0m.1 .7h0m1.2 2.1h0m0-2h0m0 4.3h0m.3-5.1h0m.2 .6h0m0 1.1h0m0 1h0m.1-2.5h0m.1 0h0m.1 1.3h0m0 1.1h0m.2-1.1h0m.4 3.7h0m.5-5.4h0m.2 5.1h0m.4-2.4h0m.1 .7h0m.3-1.1h0m.2 1.1h0m.1 .4h0m.3-3.8h0m.5 1.1h0m.2 .5h0m.3 0h0m.4 .9h0m.5-2.7h0m.9 1.1h0m-20.1 8.3h0m0 .2h0m0 2.2h0m0-.2h0m0-1.2h0m0-3.8h0m0 3h0m0-1.8h0m0 1.3h0m0-1.6h0m0 0h0m0 1.6h0m0 .5h0m0-2.3h0m0 4.3h0m.1-3.3h0m0 .9h0m0-1.2h0m.1 3.7h0m.4-1.3h0m.1 1.1h0m.2-4.5h0m.4 3.4h0m.2 .1h0m.1 1.2h0m.3-1.8h0m.3-1.7h0m.1-2.3h0m.2 1.3h0m0 2.7h0m.1 .9h0m0 .7h0m.2-1.4h0m0-1.3h0m0-1.6h0m.1 2.9h0m.5 .1h0m.1-1.8h0m.3 2.9h0m0-2.4h0m.3 .4h0m.1-2.9h0m.4 .7h0m0 4.1h0m.1-4.3h0m.2 4.7h0m0-2.5h0m0-1.8h0m.2-.7h0m.1 1.6h0m.3-1.1h0m0-.9h0m.3 5.6h0m.1-1.4h0m.5-3.5h0m0 1.9h0m.8 1.4h0m0-.4h0m.3-2.3h0m.3-.3h0m0-.1h0m.1 1.8h0m.4 2.7h0m.2-5.2h0m.3 2.2h0m.1-2.2h0m.2 4h0m0-3.5h0m.2-.9h0m.1 .5h0m.1 .9h0m0 .6h0m0 3h0m.1-4.3h0m.2 3.3h0m1.5-2.4h0m.2 3.5h0m.5-5h0m.3 .7h0m.7 2h0m.1 1.3h0m.6-3.3h0m.2 0h0m2.2 .4h0m-16.1 5.9h0m0-.2h0m1.7 1h0m.3-2h0m.5 1.3h0m0 .7h0m.1-1.3h0m.1 .8h0m.4-1.4h0m.2 1.7h0m.1 .2h0m0 0h0m.2-1.9h0m0 1.9h0m.2 0h0m.7 0h0m.3 0h0m.2-.6h0m0 .4h0m.2-.3h0m.1 0h0m.2 .5h0m0-1.7h0m.1 1.7h0m0-1.8h0m.2 1h0m0 .8h0m.5 0h0m.1 0h0m.5 0h0m0-.5h0m.5 .5h0m.2-1.9h0m.6 .5h0m.2 1.4h0m.1-.9h0" stroke="#bdbdbd" stroke-width="2.3" stroke-linecap="round" fill="none"/>
<line x1="1044.8" y1="38.1" x2="1044.8" y2="304" stroke="#000" stroke-width="1.4"/>
<line x1="1044.1" y1="303.3" x2="1310.3" y2="303.3" stroke="#000" stroke-width="1.4"/>
<line x1="1054.6" y1="303.3" x2="1054.6" y2="306.6" stroke="#444444" stroke-width="1.1"/>
<text x="1054.6" y="318.2" font-size="12" fill="#444444" text-anchor="middle">0</text>
<line x1="1041.2" y1="293" x2="1044.8" y2="293" stroke="#444444" stroke-width="1.1"/>
<text x="1039.2" y="297.1" font-size="12" fill="#444444" text-anchor="end">0</text>
<line x1="1113.6" y1="303.3" x2="1113.6" y2="306.6" stroke="#444444" stroke-width="1.1"/>
<text x="1113.6" y="318.2" font-size="12" fill="#444444" text-anchor="middle">2</text>
<line x1="1041.2" y1="233.7" x2="1044.8" y2="233.7" stroke="#444444" stroke-width="1.1"/>
<text x="1039.2" y="237.8" font-size="12" fill="#444444" text-anchor="end">2</text>
<line x1="1172.6" y1="303.3" x2="1172.6" y2="306.6" stroke="#444444" stroke-width="1.1"/>
<text x="1172.6" y="318.2" font-size="12" fill="#444444" text-anchor="middle">4</text>
<line x1="1041.2" y1="174.4" x2="1044.8" y2="174.4" stroke="#444444" stroke-width="1.1"/>
<text x="1039.2" y="178.5" font-size="12" fill="#444444" text-anchor="end">4</text>
<line x1="1231.6" y1="303.3" x2="1231.6" y2="306.6" stroke="#444444" stroke-width="1.1"/>
<text x="1231.6" y="318.2" font-size="12" fill="#444444" text-anchor="middle">6</text>
<line x1="1041.2" y1="115.1" x2="1044.8" y2="115.1" stroke="#444444" stroke-width="1.1"/>
<text x="1039.2" y="119.2" font-size="12" fill="#444444" text-anchor="end">6</text>
<line x1="1290.6" y1="303.3" x2="1290.6" y2="306.6" stroke="#444444" stroke-width="1.1"/>
<text x="1290.6" y="318.2" font-size="12" fill="#444444" text-anchor="middle">8</text>
<line x1="1041.2" y1="55.8" x2="1044.8" y2="55.8" stroke="#444444" stroke-width="1.1"/>
<text x="1039.2" y="59.9" font-size="12" fill="#444444" text-anchor="end">8</text>
<text x="1047.6" y="69.6" font-size="16.5" font-weight="bold">Up in WT</text>
<text x="1047.6" y="87.6" font-size="16.5" font-weight="bold">62 genes</text>
<text x="1309.3" y="280.4" font-size="16.5" font-weight="bold" text-anchor="end">31 genes</text>
<text x="1309.3" y="297.7" font-size="16.5" font-weight="bold" text-anchor="end">Up in Trem2<tspan dy="-5.9" font-size="9.9">ko</tspan></text>
<text x="1184.5" y="17.3" font-size="18.4" font-weight="bold" text-anchor="middle">AβE4: Trem2<tspan dy="-6.6" font-size="11">ko</tspan><tspan dy="6.6"> vs WT</tspan></text>
<line x1="1104.2" y1="178.8" x2="1117.2" y2="200.5" stroke="#000" stroke-width="1.3"/>
<text x="1079.6" y="174" font-size="14.3" font-weight="bold" font-style="italic">Cd52</text>
<line x1="1088.6" y1="206.1" x2="1114.5" y2="211.6" stroke="#000" stroke-width="1.3"/>
<text x="1059.6" y="210.8" font-size="14.3" font-weight="bold" font-style="italic" fill="#ff1a1a">Il1b</text>
<line x1="1223.9" y1="153.1" x2="1200.3" y2="158.4" stroke="#000" stroke-width="1.3"/>
<text x="1227.3" y="156.5" font-size="14.3" font-weight="bold" font-style="italic" fill="#1a33ff">Csf1r</text>
<line x1="1212.8" y1="171.8" x2="1191.1" y2="171.3" stroke="#000" stroke-width="1.3"/>
<text x="1218.9" y="176" font-size="14.3" font-weight="bold" font-style="italic" fill="#1a33ff">Selplg</text>
<line x1="1198.9" y1="194.4" x2="1175.7" y2="189.9" stroke="#000" stroke-width="1.3"/>
<text x="1202.8" y="199.7" font-size="14.3" font-weight="bold" font-style="italic" fill="#1a33ff">Rhob</text>
<line x1="1184.9" y1="215" x2="1163.8" y2="206.1" stroke="#000" stroke-width="1.3"/>
<text x="1189.1" y="223.3" font-size="14.3" font-weight="bold" font-style="italic" fill="#1a33ff">Gpr34</text>
<line x1="1129.2" y1="273.5" x2="1107.5" y2="264.3" stroke="#000" stroke-width="1.3"/>
<text x="1132.6" y="281" font-size="14.3" font-weight="bold" font-style="italic" fill="#1a33ff">Crybb1</text>
</g>
<g>
<polygon points="1439.3,288.4 1439.9,283.2 1445,278 1450.1,272.8 1455.3,267.6 1460.5,262.5 1465.8,257.5 1471.1,252.5 1476.5,247.5 1481.8,242.4 1487.1,237.4 1492.4,232.4 1497.7,227.4 1503,222.4 1508.4,217.4 1513.7,212.3 1519,207.3 1524.3,202.3 1529.6,197.3 1534.9,192.3 1540.2,187.3 1545.6,182.2 1550.9,177.2 1556.3,172.3 1561.4,167.1 1564.2,169.9 1559,175 1554.1,180.5 1549.1,185.8 1544.2,191.2 1539.2,196.6 1534.2,201.9 1529.2,207.3 1524.3,212.6 1519.3,218 1514.3,223.4 1509.3,228.7 1504.4,234.1 1499.4,239.4 1494.4,244.8 1489.4,250.2 1484.5,255.5 1479.5,260.9 1474.5,266.2 1469.5,271.6 1464.5,276.9 1459.3,282.1 1454.2,287.2 1449,292.4 1443.9,293" fill="#bdbdbd"/>
<path d="M1671.6 55.8h0m10.2-3h0m-20.5 17.8h0m-22.1 20.8h0m1.5-3h0m-16.2 16.3h0m-1.5 4.5h0m-10.2 7.4h0m4.4-4.5h0m-16.2 14.9h0m-5.9 7.4h0m8.8-4.5h0m-24.9 7.4h0m12.7 1.2h0m3.7-.8h0m.5-2.2h0m-11.8 9.6h0m.5-.2h0m1.7-.1h0m.7-2h0m1 0h0m2.7-1h0m3.4-.7h0m-17 9.6h0m2.4 1.1h0m.3-1.4h0m1.1 1.7h0m.6-1.9h0m.5 2h0m2.9-4h0m-14 10.2h0m.1-1.1h0m.5-.2h0m.3 .4h0m.4 1.4h0m.4-2.7h0m.2 1.9h0m1.3-.2h0m.1-.7h0m.4 1.3h0m.3-1.3h0m.3-.7h0m.7 1.9h0m1.6-3.3h0m-12.4 7h0m.5-1.1h0m.2 2.6h0m.1 .9h0m.3-.5h0m1.8-4h0m0 4.3h0m.2-1.7h0m.2-.3h0m.2-.6h0m.5-.1h0m.2 1.7h0m.1-.2h0m0-3.1h0m.6 .8h0m0 2.6h0m1.1-1.4h0m.2-1.4h0m.3 .3h0m0-.7h0m.8 .8h0m.1-1.4h0m1.1 .3h0m.7 .4h0m-15.1 9.3h0m1-.3h0m1.4-1.6h0m.1 1.9h0m.5-.4h0m1.2 .7h0m0-1.4h0m.8 .6h0m0-2.1h0m.6 .6h0m0-.5h0m.1 .6h0m.9-2h0m0 0h0m.1-.7h0m.5 .7h0m.6 .5h0m1 .7h0m-14.8 8.8h0m.3-2.1h0m.2 1.1h0m.3-.6h0m1.4 1.1h0m1 1.3h0m.8-1.9h0m.6 .1h0m.5-.3h0m.9-.1h0m.7-1.6h0m1.3-.1h0m.3-1.6h0m.4 1.5h0m-17.6 10.1h0m.4 0h0m.7 .2h0m.4-2.2h0m.2 1.5h0m.6 .5h0m1.2-1.3h0m.1-.2h0m.1-.8h0m.5-1.6h0m2 2.8h0m.2-1.5h0m.1-2h0m.2 0h0m.4-.1h0m.3 .3h0m.1 .2h0m.1 3.8h0m.1-3h0m.5 .2h0m1.3-.5h0m1 1.8h0m.2-1.2h0m.9-2.4h0m-15.2 8.3h0m.1 2.4h0m.6-.9h0m.6-2.4h0m1.7 3h0m.2-4.2h0m.8 4.7h0m0-4.6h0m.2 1.9h0m.1-1h0m0-1h0m.2 3.5h0m.1-2.4h0m.3 2.3h0m1.2-.7h0m.6-1.9h0m.1 .2h0m.6-.9h0m.7 2.1h0m.5 1.1h0m-17.4 8.3h0m.4-.2h0m1.4-3.2h0m.6 1.3h0m.4 1.2h0m.4-2.6h0m.7 1.4h0m.3 1.5h0m.2-.3h0m1.5-1.3h0m.1-1.3h0m.3 3.3h0m0-2.6h0m1.6 2.8h0m.1-3.2h0m.2 .1h0m.1-.1h0m.6-1.8h0m.2 .8h0m.6 1.4h0m.5 2.2h0m.1 .5h0m4.8-5.4h0m-20.6 10.9h0m.9-1.3h0m2.3 .8h0m0-1.4h0m.2 2.5h0m.2-3.5h0m1.6 1h0m.4-1.1h0m0 2.5h0m.8-.1h0m.1-3.5h0m0 3.8h0m.1-3.7h0m.1 1h0m.5 3.1h0m.2 .1h0m0-1.1h0m.7-3.9h0m.6 1h0m.4-.8h0m.7 3.4h0m1.3-2.4h0m.9-.1h0m.3-1.4h0m-20.3 10.9h0m4.8-1.7h0m1 .3h0m.8-.2h0m.7-2h0m.5 .6h0m.9-.9h0m0 2.1h0m.3-.1h0m.2 1.8h0m0-1.7h0m.4 1.6h0m0-4.1h0m.4 1h0m.2-1.8h0m.1 3.7h0m1.2-1.9h0m.1-1.1h0m.4 4.4h0m.1-.7h0m.7-1.6h0m0-1.5h0m3.6-1.2h0m.2 0h0m-38.4 5.9h0m15.3 2.8h0m2.4 1.8h0m1.4-.5h0m.1 1.1h0m.2 .4h0m.6-1.3h0m.2-2.7h0m1.3 3.6h0m.5-1.7h0m.5-1.6h0m1.7-1.6h0m.2 1.2h0m.3-.7h0m0 4.6h0m.1-2h0m.5 1.1h0m.7-3.5h0m.1 2.7h0m1.2-3.4h0m.9 .3h0m.2 5.2h0m.3-5.5h0m.4 3.1h0m1.1 .6h0m1.1-1.5h0m1.2-1.9h0m.7 1.9h0m.4-1.9h0m-24.7 10.5h0m4.5-.3h0m1.6-3.5h0m0 4.7h0m1.1-5.3h0m1.8 3.8h0m.4 1.2h0m.1-2.6h0m.2 .5h0m.2-2.3h0m2.2 4.3h0m.2-1.2h0m.2-.7h0m.3-.4h0m.2 1.5h0m1.7-4.4h0m1.7 .1h0m.4 2.5h0m0 .3h0m.2-2.7h0m.2 .3h0m.9-.6h0m-26.1 10.4h0m4.5-1.1h0m1.4-3.4h0m1.2 4.3h0m.4 1.1h0m.4 .1h0m.2-3.4h0m3 0h0m1.8 1.8h0m.7-3.9h0m.6 3.1h0m.5 .6h0m.2-2.9h0m1.7-.4h0m1 3.1h0m0-.5h0m1.5-1.6h0m2.1 .6h0m1.1-.1h0m-23.9 8.4h0m.1-.2h0m.3 1.3h0m.8-.1h0m1.2-2h0m.6-1.4h0m0 .8h0m.6-.1h0m.7 2h0m.3-4.3h0m1.1-.2h0m.7 2.9h0m.2-.7h0m.1-1.4h0m0 3.4h0m.2-3.8h0m.1 4.3h0m0-1.6h0m1.4 2.1h0m2.7-.9h0m.5-4.2h0m0 5.2h0m.1-.2h0m0-1.1h0m1.6-2.7h0m.2 2.1h0m.5-2.9h0m1.3 .2h0m.4 2.6h0m-34.1 8.1h0m7-.8h0m4.1 1h0m.1-3.5h0m0-1.1h0m1.2 3.5h0m.5-1.8h0m0 1.5h0m.3-.3h0m0-1.3h0m1.3-.7h0m.2-.1h0m.1-1.1h0m.5 2.7h0m1.1-3.5h0m.3 4h0m.4 .1h0m1.3 .5h0m.5-4.7h0m.7 3.3h0m.4-3.2h0m.3 4.1h0m.3-3h0m.6 1.8h0m.1-2h0m.4 2.7h0m.3 1.6h0m.8-2.1h0m1.6-1.7h0m0 2.3h0m.4 2h0m.8-3.1h0m.2-1.1h0m.3 3.4h0m.2 .7h0m1.3-2.9h0m2.3-1.1h0m2-1h0m-27.6 9.5h0m1.5 .7h0m.5 .8h0m1.1-3.4h0m1.2 .3h0m1.7-1.7h0m.3-.8h0m2.2 4.2h0m.4-1.1h0m.1-.1h0m1.3-1.6h0m0 2h0m1 .2h0m.5-3.1h0m.3 4.6h0m.7 .2h0m2.1-.8h0m1.5-1.7h0m0-1.9h0m.1-.7h0m.3 2.7h0m2.3 .3h0m1 .8h0m1.3-2.8h0m-33.9 10.3h0m3.8-1.2h0m1.3-.7h0m1.3 .5h0m.8-.1h0m.3 .4h0m1.3-1.4h0m.2 0h0m.4 1.4h0m.2 .7h0m3.9-1.7h0m.7-3.5h0m.6 5.5h0m0-3.8h0m0 2.8h0m.9-4.5h0m.2 3.7h0m.6 2.1h0m0-3.5h0m.1 1.9h0m.7 .2h0m.8 .3h0m.8-1.9h0m.2 1.4h0m.3 1.5h0m.2-4.6h0m.1-.2h0m2 0h0m1.4 2.2h0m.3-1.1h0m3.3-1.1h0m.1 2.7h0m.5-3.1h0m-47 7.9h0m18.8-.2h0m1.1 .7h0m.3 .9h0m2.2-1.8h0m.2-1.9h0m1.4 4.6h0m1.4-.5h0m.6-1.4h0m.2-2.8h0m.1 3.8h0m.5-2.3h0m.1 4h0m0-1.7h0m.5-2.4h0m0-.5h0m.2 3.7h0m.2 1.1h0m.6-2.3h0m0 1.4h0m.6-2.8h0m0-2h0m.2 1.3h0m1.2 1.2h0m.8 2h0m.8-.7h0m.3-3h0m1.1 1.3h0m.8 3h0m.8-.6h0m1.1-2.2h0m.2 .2h0m.9-2.1h0m.5-.4h0m.8 2.8h0m-31.3 6.9h0m4.5 1.4h0m.4 .5h0m1.3-.5h0m0 .2h0m.1-2.4h0m1.6 2.1h0m.2-4.7h0m.1 5.4h0m.4-.3h0m.6-5.4h0m.2 5.6h0m.9-2.2h0m.6 2h0m1.2-3.7h0m.5 4.1h0m.7-5.2h0m0 1.1h0m.5-.6h0m.4 .7h0m.3 1.8h0m.1-.6h0m.2 .9h0m.1-1h0m.1 1h0m.1-.1h0m.7-2.2h0m.3-1.7h0m1.5 3.2h0m.8-.8h0m.1-.6h0m.7 1.1h0m.3 2h0m1.2 .9h0m1.8-2.8h0m.1-2.2h0m.8 4.4h0m.2-2.9h0m.8 .7h0m.3-.6h0m1.9-1.4h0m.4 2.6h0m5.1-2.1h0m-36.5 7.6h0m1.3 2.2h0m1.1-3.5h0m1 3.6h0m.1-1.4h0m0-1.6h0m.1 2.6h0m.5 .1h0m.4-3.1h0m.9 3h0m1.2 0h0m0-.1h0m.7-3.5h0m.3 3.9h0m0-1.9h0m.8-2.1h0m.9 1.8h0m.3 2.4h0m0-2.2h0m0 1.5h0m0-3h0m.6 1.6h0m.1-.9h0m1.1 2.8h0m.2-3.6h0m0 1.3h0m.8 1.6h0m.4 .2h0m0-.6h0m.3 .7h0m.3 .1h0m.4-2.3h0m.2-2.6h0m.1 2.7h0m.7 2.7h0m1.2-.2h0m.1-4.4h0m1.1-.4h0m1 5.2h0m.2-.8h0m.9 .5h0m.4-.6h0m.3-4.2h0m.1 2.8h0m.1 2.6h0m.2-1.4h0m1.4-2.6h0m.2 .1h0m.3 .5h0m.3 2.3h0m.2-3.2h0m.4 2.2h0m.4-3.6h0m.5 1.5h0m1-.2h0m2.9 .3h0m-31.4 9.6h0m.9-1.7h0m1.2-.4h0m.3-.6h0m.2 2h0m.7 .2h0m.5-.1h0m.1-2.9h0m.1 2.2h0m.1 1.6h0m.2-3h0m.2 1.3h0m.1 .1h0m.5-3.6h0m1.5 5.1h0m.1 .1h0m1 .1h0m.3-1h0m.6-3.8h0m.5-.1h0m.4 2.3h0m.5-.8h0m0 .9h0m.3-2.7h0m.5 1.2h0m0-1.4h0m.6 .3h0m.5 5h0m.3-3h0m0-1.5h0m1.4 1.3h0m0 .3h0m1-.2h0m.5-.3h0m0 2.1h0m.4-3.2h0m.3 1.7h0m.4 2h0m.6-1.2h0m.4-3.3h0m.6 .5h0m.8 2.8h0m.1-2.6h0m.2 .4h0m.4 4.1h0m.4-.1h0m.1-4.3h0m.2 1.1h0m.2 3.3h0m.3-4.8h0m.4 .5h0m.2-1.3h0m.7 2.4h0m.7-.3h0m0-1.9h0m.1-.3h0m0 2.8h0m0-.1h0m.7 1.1h0m1.2-1h0m.4-1.6h0m.8 2h0m.2 .8h0m.6-3h0m3.1-.3h0m1.3-.2h0m-37.3 11.4h0m.6-1.8h0m.2 1.3h0m.1-1.5h0m.1-.7h0m1.6 1.1h0m.5 0h0m.4-2.6h0m.7 2.3h0m0-1.3h0m.1-.7h0m0 3.1h0m.2-1.1h0m.4-.5h0m.6 1.6h0m0-1.3h0m.1 1.5h0m.1-.3h0m.2-1.7h0m.3 1.5h0m.9 .7h0m.1-2.7h0m0 1.1h0m.5-.8h0m2-.9h0m.1 1.9h0m.2-1.6h0m.3-.7h0m.2 2.2h0m.1-3.1h0m.4 .3h0m1 1.4h0m.5 .1h0m.1 2.6h0m.1-.8h0m.3-1.1h0m.4-3.2h0m0 4.5h0m.1-4.1h0m1 .9h0m.5 4.1h0m.1-4.7h0m0 1.5h0m.1-2.3h0m.1 4.1h0m.5 .8h0m.3-2h0m.4-1.1h0m.1 3.5h0m0-1.5h0m.2 0h0m.2 1.1h0m.1 .2h0m.3-3.9h0m.2 1.3h0m.3 1.1h0m.1 1.2h0m.1 .6h0m.1-2.2h0m.6-2.7h0m.3 2.5h0m.9 0h0m.3 2.2h0m.6 0h0m.1-5.2h0m.1 5.2h0m.2-4.5h0m.4-.1h0m0 3.7h0m0-4.3h0m1 3.2h0m.3 1.8h0m0-1.4h0m0-2.4h0m.6 2.5h0m.5-1.8h0m.5 .6h0m.9-.1h0m1-1.9h0m1.9-.2h0m-31.7 8.3h0m0 3h0m0-.5h0m0-3.1h0m0 2.8h0m0-.2h0m0-2.1h0m0 2.4h0m0-.4h0m0-1.3h0m0 1.1h0m0 .2h0m.3-.4h0m.5-1.7h0m.1 1.5h0m0-.9h0m.2 .7h0m.3 1.6h0m0 .4h0m.2-3.6h0m0 2.1h0m.1 .6h0m.1-.6h0m.8 1.2h0m.4-1.7h0m.1-3.2h0m.1 5.4h0m.1-1.4h0m.1-2.7h0m.1 .2h0m.1 3.6h0m0-.5h0m.1-4.5h0m.1 2.5h0m.6 0h0m.5-.1h0m0 .5h0m.1 1h0m.1-4h0m.3-.5h0m.3 1.4h0m.7 4.4h0m.2-3.8h0m.4-2.1h0m0 2.4h0m0 .1h0m.1 2.4h0m.2 .2h0m.4-3.4h0m.7-.9h0m1 2.3h0m0 .4h0m.1 2.4h0m0-.7h0m.1 .7h0m.1-.5h0m.4-3.2h0m.2 0h0m.7 3.4h0m0-1.6h0m0 .3h0m.2-3.8h0m.1 5.2h0m0-5.2h0m.3 2.9h0m0 2.3h0m.6-2.3h0m.1-1h0m0 2.8h0m.1-.4h0m.3-2h0m.3 1.7h0m0 .1h0m0-1.3h0m1-1.3h0m.8 1.7h0m0-.3h0m.1-.9h0m.3 2.2h0m0-3h0m.6-.3h0m.4 1.4h0m.8 2h0m0 .2h0m.1-.6h0m.1-2.8h0m.2 1.3h0m.7 2.1h0m.6-1.6h0m.3 .6h0m.2 .5h0m.4-3.6h0m.4-.1h0m.7 4.6h0m.2-4.6h0m.7 .5h0m.4-.7h0m.6-.4h0m.1 1.4h0m.4-1.5h0m0 2.3h0m.3-.3h0m1 1.6h0m-24.4 4.7h0m0 0h0m0-1h0m0 1h0m0-1.4h0m0-.4h0m0 1.8h0m0 1.9h0m0-1.8h0m0-1.3h0m0 1.2h0m0-.4h0m0-.7h0m0 4.3h0m0-2.8h0m0 3h0m0-2.5h0m0-2.9h0m0 2.9h0m0 .2h0m0-1h0m0-.6h0m0 .5h0m0-2h0m.3 4.2h0m.5-.6h0m.2-.3h0m.1-3.5h0m.1 1.3h0m.2 2.8h0m.2 .3h0m.1 1.2h0m.5-2.7h0m.3 2.8h0m0-.5h0m.1-4.4h0m.1 4.1h0m.1-3.5h0m0 1.3h0m.1 1h0m.2-3.8h0m.4 1.5h0m.1 .3h0m.1 3.9h0m.1-.8h0m0 0h0m.3 .2h0m.2-3.3h0m0 3.8h0m.2-2h0m.5 .1h0m.2-2.9h0m.1 1.2h0m0 3.5h0m.2-2h0m0-.4h0m.1-1.3h0m.1-.6h0m.2 3h0m.6-.5h0m.6-2.7h0m0 1.1h0m.3-.9h0m.2 4.5h0m.2-2h0m0-1.5h0m0 2.8h0m.3-.4h0m0-4.3h0m.3 3h0m.4-1.3h0m1.6-1.3h0m0-.4h0m.8 .4h0m0-.3h0m.5 3h0m.1 .3h0m.1-3.1h0m0-.5h0m.6 2.7h0m0 1.7h0m.1-3.3h0m.2 3.5h0m.3-1.5h0m.5-2.2h0m.7 2.4h0m.5-1.3h0m.1 3.3h0m.3-4.2h0m0 1.8h0m.1-1.7h0m.7-.1h0m.3-.2h0m1.2-.1h0m.4 2.5h0m.1 .7h0m.8-3.4h0m2 .2h0m-20.8 6.4h0m.5 .6h0m.2-1.2h0m.2 .4h0m.4 .2h0m.1 .4h0m.8 .2h0m.1 0h0m.3 0h0m1.1 0h0m0 0h0m.1 0h0m.2-.7h0m0 .4h0m.2 .3h0m.3 0h0m0 0h0m.5-.5h0m.3-.4h0m.1 .9h0m.6 0h0m.1 0h0m0-.3h0m.1-.2h0m.1-.3h0m.5-.4h0m0 1.2h0m.1-1.7h0m.3 1.7h0m.2-.1h0m.1 .1h0m0 0h0m.2-1.1h0m.3 1.1h0m.6-.2h0m0-1.1h0m.4-.3h0m.1 .4h0m.2 .3h0m.5 .9h0m.5-.6h0m.1 .6h0m.6-1.5h0m.2-.1h0m.5 1.6h0m.2 0h0m.7 0h0m.2-.5h0m.6 0h0m1.9 .4h0m0-1.4h0m1.7 0h0" stroke="#bdbdbd" stroke-width="2.2" stroke-linecap="round" fill="none"/>
<path d="M1591.4 149.2h0m-86.3 17.8h0m-37.1 59.3h0m45.5 10.1h0m8.8-.6h0m-54.8 8h0m-28.2 32.9h0m2.2 .5h0m49.7 16.4h0" stroke="#1e8fff" stroke-width="2.6" stroke-linecap="round" fill="none"/>
<line x1="1429.5" y1="38.6" x2="1429.5" y2="303.3" stroke="#000" stroke-width="1.4"/>
<line x1="1428.8" y1="302.6" x2="1695" y2="302.6" stroke="#000" stroke-width="1.4"/>
<line x1="1439.3" y1="302.6" x2="1439.3" y2="305.9" stroke="#444444" stroke-width="1.1"/>
<text x="1439.3" y="317.5" font-size="12" fill="#444444" text-anchor="middle">0</text>
<line x1="1425.9" y1="293" x2="1429.5" y2="293" stroke="#444444" stroke-width="1.1"/>
<text x="1423.9" y="297.1" font-size="12" fill="#444444" text-anchor="end">0</text>
<line x1="1498.1" y1="302.6" x2="1498.1" y2="305.9" stroke="#444444" stroke-width="1.1"/>
<text x="1498.1" y="317.5" font-size="12" fill="#444444" text-anchor="middle">2</text>
<line x1="1425.9" y1="233.7" x2="1429.5" y2="233.7" stroke="#444444" stroke-width="1.1"/>
<text x="1423.9" y="237.8" font-size="12" fill="#444444" text-anchor="end">2</text>
<line x1="1556.9" y1="302.6" x2="1556.9" y2="305.9" stroke="#444444" stroke-width="1.1"/>
<text x="1556.9" y="317.5" font-size="12" fill="#444444" text-anchor="middle">4</text>
<line x1="1425.9" y1="174.4" x2="1429.5" y2="174.4" stroke="#444444" stroke-width="1.1"/>
<text x="1423.9" y="178.5" font-size="12" fill="#444444" text-anchor="end">4</text>
<line x1="1615.7" y1="302.6" x2="1615.7" y2="305.9" stroke="#444444" stroke-width="1.1"/>
<text x="1615.7" y="317.5" font-size="12" fill="#444444" text-anchor="middle">6</text>
<line x1="1425.9" y1="115.1" x2="1429.5" y2="115.1" stroke="#444444" stroke-width="1.1"/>
<text x="1423.9" y="119.2" font-size="12" fill="#444444" text-anchor="end">6</text>
<line x1="1674.5" y1="302.6" x2="1674.5" y2="305.9" stroke="#444444" stroke-width="1.1"/>
<text x="1674.5" y="317.5" font-size="12" fill="#444444" text-anchor="middle">8</text>
<line x1="1425.9" y1="55.8" x2="1429.5" y2="55.8" stroke="#444444" stroke-width="1.1"/>
<text x="1423.9" y="59.9" font-size="12" fill="#444444" text-anchor="end">8</text>
<text x="1433.4" y="68.8" font-size="16.5" font-weight="bold">Up in WT</text>
<text x="1433.4" y="86.8" font-size="16.5" font-weight="bold">6 genes</text>
<text x="1694" y="278.8" font-size="16.5" font-weight="bold" text-anchor="end">4 genes</text>
<text x="1694" y="296.1" font-size="16.5" font-weight="bold" text-anchor="end">Up in Trem2<tspan dy="-5.9" font-size="9.9">ko</tspan></text>
<text x="1571.5" y="16.9" font-size="18.4" font-weight="bold" text-anchor="middle">AβE3: Trem2<tspan dy="-6.6" font-size="11">ko</tspan><tspan dy="6.6"> vs WT</tspan></text>
<line x1="1613.4" y1="143.8" x2="1595.6" y2="147.4" stroke="#000" stroke-width="1.3"/>
<text x="1616.4" y="147.4" font-size="14.3" font-weight="bold" font-style="italic" fill="#1a33ff">Fcer1g</text>
<line x1="1488.2" y1="199.3" x2="1470.5" y2="223" stroke="#000" stroke-width="1.3"/>
<text x="1474.3" y="195.7" font-size="14.3" font-weight="bold" font-style="italic">Arsb</text>
<line x1="1446.7" y1="217.4" x2="1466" y2="240.8" stroke="#000" stroke-width="1.3"/>
<text x="1431.9" y="213.5" font-size="14.3" font-weight="bold" font-style="italic">Cd34</text>
<line x1="1542.5" y1="240.2" x2="1525.9" y2="235.8" stroke="#000" stroke-width="1.3"/>
<text x="1546" y="247" font-size="14.3" font-weight="bold" font-style="italic" fill="#1a33ff">Anxa3</text>
</g>
<g>
<path d="M1987.2 55.8h0m-2.9 10.4h0m-64.8 38.5h0m-29.5 16.3h0m16.2-2.9h0m-27.9 8h0m9.9 12.5h0m3 1.7h0m.6-.9h0m.2-.8h0m.9 .2h0m.4-.5h0m.7-1.7h0m.8-1.4h0m7.2 4.5h0m-19.1 5.1h0m.1 1.6h0m1.6 .2h0m.7-3.7h0m1.3 1.7h0m.5-.1h0m1.6-2.1h0m10.2 2.1h0m5.1-2.6h0m-29.4 9.6h0m1.5-.2h0m.3 1.2h0m1 .4h0m1.6-5.2h0m1.3 3.1h0m11.4-.9h0m-23.2 7h0m1.7 .6h0m.6-2.6h0m1 3.5h0m1.4-.2h0m.8-2.3h0m2.4-.9h0m2.4-1.9h0m6.9 3.8h0m-21.3 7.9h0m.2-.3h0m.9-2.7h0m3.2-1.9h0m1.8 .7h0m13.2-.3h0m.5-.5h0m-73.7 11h0m47 0h0m.9-1.1h0m2.5 .7h0m.8-4.3h0m.3 3.4h0m.5-3.3h0m.3 2.2h0m3.4-2.9h0m7.1 3.9h0m1.2-.5h0m.8 1.1h0m-57.4 5.9h0m35 .2h0m.5-.4h0m.4-3.3h0m.7 2.6h0m.6 .9h0m.9-1.8h0m.3-.2h0m3.7-2.5h0m6.2 4.3h0m1.8 .2h0m-25 5.5h0m4.1 0h0m.2 .6h0m.5 .1h0m.5-.4h0m5.8-3.9h0m7.7 2.4h0m0 .4h0m2.8-1.3h0m-42.3 4h0m19.6 4.6h0m1.2 0h0m.5 0h0m.5-.1h0m.5-1.4h0m10.8 1.2h0m2.3-2.8h0m.8 .4h0m.4-.2h0m-26.4 9.5h0m1.8-2.9h0m4.9 1.2h0m.6-.8h0m.2-1.9h0m2.4-.4h0m7.3 3.2h0m9.4-.7h0m-57.4 5.9h0m22 2.1h0m2.7-1.7h0m1.3 .2h0m.8-.8h0m.3 .6h0m.4-1.5h0m.3 1h0m.6 .5h0m.2 0h0m1.1-2.2h0m11 3.4h0m-22.5 6.7h0m1.3-.4h0m1-1.8h0m.8-2.2h0m.4-.2h0m.1 .9h0m2.7-.7h0m-11.7 9.8h0m.8-1.7h0m1.1-1.4h0m.7 2.4h0m.3-.5h0m.3-.3h0m.8-.1h0m13.4 0h0m8.1 1.3h0m5.9-1.5h0m-48.6 4.4h0m2.9 1.5h0m5.7 2.2h0m3.8-2.5h0m1 2.9h0m.6-2.7h0m.6-1.3h0m.1 1.8h0m.2-1.7h0m.5 1.4h0m.5-.3h0m.7-1.2h0m.9-.6h0m.7 0h0m13.1-.6h0m7.4 2h0m-32.6 6.4h0m2.1-.5h0m.7 1.1h0m.6-3.2h0m.2 2h0m2-1.9h0m.8 0h0m8.9 4.1h0m5.6-3.9h0m1.4-.2h0m-50.5 8.6h0m7.4 2.9h0m12.9-.6h0m.1-2.9h0m4.1 0h0m2.8-.6h0m12.7 1h0m3.1-2.5h0m-44.6 11.6h0m16.4-.6h0m1.3 .5h0m1.3-2.9h0m.3 1.1h0m1-1.3h0m.3 1.1h0m.6-1.6h0m.8-1h0m.7 .2h0m.4-.8h0m13.4 1.9h0m.6-1.6h0m.3 2.5h0m.2-2.9h0m2 5.7h0m-41.1 4.1h0m12.6 .8h0m1 .7h0m.4-1.7h0m.1-.1h0m.8 .5h0m.5 .7h0m.4-1.5h0m.2 .7h0m.5-1h0m0-2.9h0m1.2 .7h0m.7 .1h0m.2-.1h0m.6 .1h0m.5-1h0m.1 .4h0m14.4 .3h0m1.4 .2h0m-30.7 8.8h0m3.8 1.8h0m0-1.2h0m.1 .6h0m1-.5h0m.4-3.5h0m.8 .5h0m12.8 3.8h0m2.4-.8h0m.8-.6h0m.3-3.6h0m3.4 1.2h0m53.3-.4h0m-84.4 10.9h0m.4-1.3h0m1.6-.2h0m.2 0h0m.5 .4h0m.1-2.4h0m.4 1.7h0m4.8-3.7h0m8.7 5.4h0m3.6-3.1h0m-27.3 7.9h0m.3 .8h0m1.6 .2h0m1.1-.6h0m.4 .1h0m.9-.2h0m.1-2.7h0m.2 2.3h0m.6-2.2h0m0 1h0m.3-1h0m.6 .9h0m1.4-2.3h0m.7-.5h0m.3 .7h0m.4-.3h0m14.8-.5h0m-28.7 11.6h0m.6-2.1h0m2.3 1.5h0m.1-.2h0m.2-1.3h0m.3-.9h0m0 1.2h0m0-1.4h0m.2-1.1h0m0 2.3h0m.5 .2h0m15.3-1.5h0m.7 1.7h0m.4-3.1h0m-31.5 9.3h0m5.9-1.2h0m.1 .6h0m.2 1.5h0m.1-4h0m.3 2.4h0m.2 2.1h0m1-3.7h0m.1 3.4h0m.4-3h0m0 2.5h0m.3-3h0m.2 1.8h0m.2 .3h0m1.3-3.7h0m.7 .6h0m.5-.9h0m.8 .3h0m.3 .1h0m14.5 .1h0m.2 1h0m2.6-1.5h0m-30.6 10.9h0m.9 .3h0m.1-1.5h0m.3 .7h0m.1 1h0m.5 0h0m.2-4.4h0m.1 1.2h0m.1 3h0m.5-1.1h0m.2-1h0m.5 .3h0m.3 .1h0m.3 .4h0m.2-1.6h0m.1 1.1h0m.1-.6h0m.6-1.8h0m.4 1.6h0m.9-2h0m1.3-.7h0m11.4 1.7h0m2.9-1.2h0m.5 1.5h0m.2-1.1h0m2-.8h0m-30.1 9.6h0m0-.1h0m0 .1h0m0-1h0m.3 .2h0m.2-2.2h0m.1 1.1h0m.2 3.7h0m0-1.1h0m.5-4.1h0m.6 4.5h0m.2-3.1h0m.4-.8h0m.3 .5h0m.9 2h0m.3-.3h0m.2-1.6h0m0-.6h0m.2 2.3h0m.4-.5h0m.1-.1h0m.2-2.6h0m1.6 .5h0m12.7 .9h0m7.7-.2h0m-27.1 5.1h0m0-.4h0m0 3h0m0-2.1h0m0 3.3h0m0-3h0m0 2.3h0m0-2.3h0m0 2.4h0m0-1.9h0m0 2.4h0m0-.8h0m0-3.3h0m0 2.2h0m0-1.9h0m0 1.7h0m0 2.2h0m0-.8h0m8.5 2.5h0m1.8-.6h0m2-.8h0m2.5-3.6h0m.3 .1h0m.5 2.3h0m-11.6 4.6h0m1.6 0h0m.2 0h0m.3 0h0m.2 0h0m.1 0h0m1.8 0h0" stroke="#1e8fff" stroke-width="2.7" stroke-linecap="round" fill="none"/>
<polygon points="1742.8,290.4 1745.5,286.4 1749.5,282.3 1753.5,278.3 1757.5,274.2 1761.6,270.2 1765.6,266.1 1769.6,262.1 1773.6,258 1777.7,254 1781.7,249.9 1785.7,245.9 1789.7,241.8 1793.8,237.8 1797.8,233.7 1801.8,229.7 1805.8,225.6 1809.9,221.6 1813.9,217.5 1817.9,213.5 1821.9,209.4 1826.4,205.8 1830.4,201.8 1834.5,197.7 1838.5,193.7 1841.5,196.7 1837.5,200.7 1833.4,204.8 1829.4,208.8 1825.8,213.3 1821.8,217.4 1817.8,221.4 1813.8,225.5 1809.7,229.5 1805.7,233.6 1801.7,237.6 1797.7,241.7 1793.6,245.7 1789.6,249.8 1785.6,253.9 1781.6,257.9 1777.5,262 1773.5,266 1769.5,270.1 1765.5,274.1 1761.4,278.2 1757.4,282.2 1753.4,286.3 1749.4,290.3 1745.3,293" fill="#bdbdbd"/>
<path d="M1963.7 67.7h0m-23.6 29.6h0m1.5-3h0m-5.9 7.5h0m-8.8 8.9h0m-1.5 2.9h0m-8.8 7.4h0m2.9-2.9h0m-14.7 5.9h0m5.5 6.6h0m.4-1.2h0m-12.8 7.9h0m3.9 1.5h0m1.8 1.7h0m1.1-.3h0m1.2-1.1h0m-12.3 4.5h0m2.6 3.3h0m.5-4.4h0m.2-1.2h0m.3 4.4h0m4.6-4.5h0m-13 8.2h0m.4-1.3h0m.6 4.4h0m1.2-.1h0m1.4-1.6h0m3.5-3.1h0m-16.7 9.2h0m2.7-1.6h0m8.1-1.7h0m-15.6 9.4h0m1.3-.4h0m2.6-1.5h0m2.6 .9h0m1.9 .1h0m1.4-2.5h0m-17.5 11.1h0m3.5-4.3h0m1.2-.8h0m1.4 4.1h0m.2 .4h0m1.3-.4h0m.8-2h0m.3-1.4h0m1.4 3.1h0m-53 5h0m35.1 2.3h0m.4 .2h0m1.3-1.5h0m1.3-.7h0m.2-.3h0m.6 2.1h0m3.8-3.6h0m.8-1.8h0m3.8 1.4h0m4.2-1.1h0m-20.2 10.2h0m.4 1.1h0m2.3-2.9h0m1.6 1.9h0m10-4.3h0m-25.8 11h0m1.5 .5h0m2.2-.7h0m.3-2.7h0m3.6 2.6h0m.6 .6h0m0-2.6h0m.5-.5h0m-15.1 8.9h0m.7-1.3h0m1.1 1h0m.1 .4h0m.7-1.7h0m0 .1h0m1.7 .7h0m.2-2.7h0m.1 1.8h0m.1-.5h0m.2-1.1h0m.2 2.5h0m.4-1.4h0m.1 .5h0m.2-1.3h0m1.8-.5h0m.8-1.8h0m.5-.1h0m.5 1.3h0m.3 .1h0m-16.1 10h0m0 .5h0m2.6-1.4h0m.6 1.2h0m.3-1.8h0m0-1.4h0m1.2 .4h0m.4-2h0m.4-.8h0m.2 2.5h0m.6-.5h0m0 2.9h0m1.3-.7h0m.5-3.8h0m.6 .6h0m0-.4h0m.3 1.1h0m.8 .1h0m.2-.6h0m.2-.6h0m.1 1.3h0m-17.8 9.3h0m1.7-.4h0m2.5-1.4h0m1.9-3h0m.5 3.6h0m1-3.6h0m.8 2.1h0m.3 1.8h0m.3-3.5h0m.3 1.1h0m.1 3.2h0m2.8-4.7h0m0 .2h0m.7-.5h0m-18.3 11.5h0m4-.8h0m.7-3.5h0m1.1 3.9h0m.8-3.4h0m2.7-.7h0m.2 1.5h0m1.8 .6h0m.5 .2h0m1.1-1.9h0m-18.9 7.6h0m4.8 1.3h0m1.9-2.1h0m1.3 2h0m1 .8h0m.5-2.1h0m.3-1.5h0m2.3 1.1h0m.2-2.1h0m-20 10.3h0m1.7-.3h0m2.5 1.1h0m.8-1.4h0m.6 .8h0m.1-2.7h0m1.3 .8h0m.5 2.2h0m.3-3.4h0m.3 2.7h0m.2 .7h0m.5 .2h0m.4-1.9h0m.2 2h0m1.1-1.2h0m.6-2.2h0m.1 1.1h0m.4 2.2h0m1-.3h0m.6-4.4h0m.1 1.5h0m1-1.3h0m-17.2 10.2h0m2.1-2.1h0m.4 2.7h0m.4-3.1h0m.5-1h0m.5-1.1h0m.2 .3h0m0 4.6h0m.4-1h0m.3-3.4h0m0-.9h0m.1 3.1h0m.1 2.3h0m.4 .1h0m0-5.3h0m.1 .9h0m.1 3h0m.1 .3h0m.3-2.6h0m0 .6h0m.8 2.6h0m.4-5.2h0m.6 .7h0m.1-.2h0m.4 3.2h0m.6 .9h0m.2-.5h0m.3-3.3h0m.3-.6h0m.6 .8h0m.7 0h0m.3 1.3h0m-16.6 8.9h0m2.4-4h0m.3 1.1h0m.8 1.1h0m2.8-2.2h0m1.5-.4h0m.2-.9h0m.2 .4h0m.5 2.7h0m.6-3h0m.9 2.2h0m.2 .6h0m-19.5 7.5h0m1.9 .5h0m1.1-1.9h0m.6 .2h0m.1 0h0m2 2.4h0m0-4h0m.4-.4h0m.3 .9h0m.6 2.7h0m.6-4.8h0m.5 4.8h0m.2 0h0m.8-.8h0m.1-.8h0m2.6-2.1h0m.1 0h0m.1 4.2h0m1.4-4.8h0m.6 1.1h0m.4-.1h0m.4-.5h0m1.1-.8h0m-20.3 11.5h0m1.5-3.6h0m0 2h0m.5-2h0m.2 3.3h0m.6 .1h0m.7-1.3h0m1.4-1.7h0m.2 .4h0m.1 2h0m0-.2h0m.3-.2h0m.3-.7h0m.3-2.9h0m.4 1.4h0m.3-.4h0m1-.9h0m.2 0h0m0 2.8h0m1-.4h0m.1 1.1h0m1.1-3.5h0m.3 2.6h0m.1-1.9h0m.9-.7h0m-33.5 10.4h0m15.1-1.8h0m3.6 1.3h0m.4 .3h0m.6-1.7h0m.2-.4h0m1 1.9h0m1.5-3.6h0m.9 4.4h0m0-.2h0m.2-1.7h0m0-3.7h0m.2 3.4h0m.4-3.3h0m0 2.1h0m.2 2.1h0m1.2-2.1h0m1-.7h0m.6 .9h0m1.2-1.2h0m.4-.9h0m-43.5 10.8h0m1.5-3h0m23.7 2.8h0m.1 .5h0m1.4-.1h0m.9-2.8h0m0 1.2h0m.8 2h0m.2-.3h0m0-2.6h0m.7 2h0m.5-1.4h0m.3-3.5h0m.3 3h0m.3 1.5h0m.1-1.7h0m.7-2.2h0m.3 3.6h0m.1-1.2h0m.1 2.7h0m.7-3.1h0m0-.1h0m.9-1.8h0m1-.2h0m.2 .1h0m.2 .3h0m1-.1h0m3.9-.8h0m-41.3 11.1h0m19.5 .7h0m2.3-.1h0m0-2.5h0m.2-1.4h0m.2 1.5h0m.3 1.2h0m.1 .1h0m.1-1.7h0m1 2.5h0m.5-1h0m0-1.8h0m.4 .9h0m.3 1.6h0m.3-4.9h0m.1 .2h0m.7 4h0m.4-4.3h0m.2 3.6h0m0-.1h0m.1-.2h0m.3-1.1h0m0-.5h0m.1-.3h0m.1-.5h0m.3-.4h0m.3 2.3h0m.1-1.7h0m.6 2.5h0m.5-3.6h0m.1 4.9h0m.2-3.6h0m.1 .2h0m.1 .6h0m.3 .3h0m.4 .9h0m1.9 1.1h0m.3-3.7h0m.8-.1h0m.4 .2h0m-19.4 10.7h0m2.1-1.6h0m.3-.6h0m.1-1h0m1.1 2.2h0m.5-.1h0m.3-1h0m0-1.6h0m.4 3.4h0m0-.7h0m.1-3.6h0m.1 1.6h0m.3-.8h0m.2 .4h0m.5-.8h0m1.1 1.5h0m.1-2.6h0m.2 .3h0m.5 3.2h0m1.1 1.1h0m.5-1.6h0m.2-1.8h0m.5 1.9h0m.3-.5h0m0-3h0m.2 3h0m0 0h0m.1 1.5h0m.6-.8h0m0-.9h0m.1-1.3h0m.5-1.2h0m.2 1.2h0m.6 .4h0m-18.4 7h0m.4 2h0m.4 .3h0m.6-2.3h0m.2 1.6h0m.1-2h0m.2 3.3h0m.9-2.6h0m.1-.2h0m.4 .8h0m.3-.8h0m0 2.7h0m.1-4.9h0m.2 4.4h0m.5-2.5h0m.1 .3h0m.3 2.8h0m.6-.4h0m.5-3.6h0m.1 1.7h0m.1-2.2h0m.4-.9h0m.5 2.5h0m.1-.6h0m.4 1.9h0m.1 .1h0m.1-2.2h0m.3 3.3h0m.2-3.2h0m.9-1.1h0m.1-.4h0m0 2.4h0m.2-.1h0m.2 .9h0m.4-1.5h0m1.1 0h0m.2-1.9h0m.3 .6h0m.1-.9h0m1.7 .9h0m.1 1.3h0m1.5-2.4h0m.5 .6h0m-23.6 11.1h0m.9 .1h0m.7-1.2h0m1.8-.9h0m.1 1.1h0m.4 .9h0m.2-2.6h0m1.4-.6h0m.3 1.6h0m.5 1.1h0m.2-2.6h0m0 2.9h0m.3-4.2h0m.1 4h0m.1-2.3h0m.2 2.3h0m.2-1.8h0m.1 0h0m.1-.8h0m.1 2.6h0m.1-3h0m.5 2.5h0m.5-3.4h0m.1 2.6h0m0-1.2h0m.4-1h0m.2 .6h0m.1-2h0m0 .9h0m.6 .9h0m.1-1.8h0m.1 4.7h0m0-2.6h0m.2 .8h0m0-2.3h0m.4-.8h0m0 3.9h0m.1-3.3h0m0 2.5h0m0-.4h0m.2-.1h0m.1-.8h0m.3 .2h0m.2 2h0m.7-1.6h0m.3-.4h0m0-1.7h0m.5 1.9h0m.1 .6h0m.3-1.4h0m0-1.4h0m0 2.1h0m.5 1.1h0m.3-1.3h0m.4-.3h0m.9 .1h0m5.7 1.6h0m-23.6 7h0m0-.1h0m0-.1h0m0-.8h0m0 .3h0m0 0h0m0 .6h0m.1-.7h0m.4 1.8h0m.1-2.5h0m.6-.4h0m.2-1.6h0m.1 1.9h0m.1-.9h0m.1 .8h0m0 .2h0m.1 .4h0m.1 1.9h0m.1-2.4h0m.1-.7h0m.4 3.7h0m.1-2.4h0m.2 2.2h0m.2-1.4h0m.2-1.6h0m.1 2.3h0m.1-1.1h0m0 .9h0m.1-2.2h0m.1-.6h0m.1 3.7h0m0 0h0m.2-.8h0m0-4.1h0m.1-.4h0m0 3.7h0m.2-1.2h0m.1-.5h0m.1 1.4h0m0-.3h0m0-.5h0m.2-2.1h0m.1 4.6h0m.3-4.1h0m.2-.8h0m.1 .2h0m.1 3.3h0m.2-3.2h0m.2 3.5h0m.4-3.4h0m.4 4h0m.2-4.6h0m.2 3.1h0m.1 .2h0m.3-.9h0m0 1.9h0m.1-.3h0m0-1.5h0m.2 .7h0m.2-2.7h0m.2 2.5h0m.3-1.1h0m0 .5h0m.2-2.5h0m0 2.9h0m.3-2.7h0m.5 .2h0m.2-.8h0m.6 3.2h0m.4-.7h0m.1-2.5h0m.3 .1h0m.1-.1h0m.1 1h0m.6 1.9h0m.2-2.4h0m.4 .7h0m.5-.5h0m-12.9 6.9h0m0-.2h0m0-1.1h0m.3 1.7h0m.3-.2h0m.2-1.7h0m.2 1.2h0m.3 .2h0m.1-.5h0m.1 1h0m.2-.2h0m0 .2h0m.2-1.2h0m.1 .2h0m.2 1h0m.1 0h0m.1 0h0m.3-.3h0m.1 .3h0m0-.3h0m.3 .3h0m.1 0h0m.2 0h0m.3 0h0m.4 0h0m.1 0h0m.5-1.9h0m.4 1.9h0m.3 0h0m0-2h0m1 .5h0m.6 .5h0" stroke="#bdbdbd" stroke-width="2.3" stroke-linecap="round" fill="none"/>
<line x1="1733" y1="38.6" x2="1733" y2="303.3" stroke="#000" stroke-width="1.4"/>
<line x1="1732.3" y1="302.6" x2="1998.5" y2="302.6" stroke="#000" stroke-width="1.4"/>
<line x1="1742.8" y1="302.6" x2="1742.8" y2="305.9" stroke="#444444" stroke-width="1.1"/>
<text x="1742.8" y="317.5" font-size="12" fill="#444444" text-anchor="middle">0</text>
<line x1="1729.4" y1="293" x2="1733" y2="293" stroke="#444444" stroke-width="1.1"/>
<text x="1727.4" y="297.1" font-size="12" fill="#444444" text-anchor="end">0</text>
<line x1="1801.7" y1="302.6" x2="1801.7" y2="305.9" stroke="#444444" stroke-width="1.1"/>
<text x="1801.7" y="317.5" font-size="12" fill="#444444" text-anchor="middle">2</text>
<line x1="1729.4" y1="233.7" x2="1733" y2="233.7" stroke="#444444" stroke-width="1.1"/>
<text x="1727.4" y="237.8" font-size="12" fill="#444444" text-anchor="end">2</text>
<line x1="1860.6" y1="302.6" x2="1860.6" y2="305.9" stroke="#444444" stroke-width="1.1"/>
<text x="1860.6" y="317.5" font-size="12" fill="#444444" text-anchor="middle">4</text>
<line x1="1729.4" y1="174.4" x2="1733" y2="174.4" stroke="#444444" stroke-width="1.1"/>
<text x="1727.4" y="178.5" font-size="12" fill="#444444" text-anchor="end">4</text>
<line x1="1919.5" y1="302.6" x2="1919.5" y2="305.9" stroke="#444444" stroke-width="1.1"/>
<text x="1919.5" y="317.5" font-size="12" fill="#444444" text-anchor="middle">6</text>
<line x1="1729.4" y1="115.1" x2="1733" y2="115.1" stroke="#444444" stroke-width="1.1"/>
<text x="1727.4" y="119.2" font-size="12" fill="#444444" text-anchor="end">6</text>
<line x1="1978.4" y1="302.6" x2="1978.4" y2="305.9" stroke="#444444" stroke-width="1.1"/>
<text x="1978.4" y="317.5" font-size="12" fill="#444444" text-anchor="middle">8</text>
<line x1="1729.4" y1="55.8" x2="1733" y2="55.8" stroke="#444444" stroke-width="1.1"/>
<text x="1727.4" y="59.9" font-size="12" fill="#444444" text-anchor="end">8</text>
<text x="1737.5" y="68.8" font-size="16.5" font-weight="bold">Up in WT</text>
<text x="1737.5" y="86.8" font-size="16.5" font-weight="bold">196 genes</text>
<text x="1997.5" y="278.8" font-size="16.5" font-weight="bold" text-anchor="end">46 genes</text>
<text x="1997.5" y="296.1" font-size="16.5" font-weight="bold" text-anchor="end">Up in Trem2<tspan dy="-5.9" font-size="9.9">ko</tspan></text>
<text x="1859.5" y="16.9" font-size="18.4" font-weight="bold" text-anchor="middle">AβE4: Trem2<tspan dy="-6.6" font-size="11">ko</tspan><tspan dy="6.6"> vs WT</tspan></text>
<line x1="1881.3" y1="108.3" x2="1890.2" y2="120.1" stroke="#000" stroke-width="1.3"/>
<text x="1857" y="103.8" font-size="14.3" font-weight="bold" font-style="italic" fill="#ff1a1a">Ccl12</text>
<line x1="1810.1" y1="130.5" x2="1822.6" y2="181" stroke="#000" stroke-width="1.3"/>
<text x="1783.4" y="127" font-size="14.3" font-weight="bold" font-style="italic" fill="#ff1a1a">Cd52</text>
<line x1="1836.8" y1="151.3" x2="1828.8" y2="188.4" stroke="#000" stroke-width="1.3"/>
<text x="1824.1" y="147.4" font-size="14.3" font-weight="bold" font-style="italic" fill="#ff1a1a">Ccl4</text>
<line x1="1794.4" y1="179.5" x2="1800.4" y2="211.2" stroke="#000" stroke-width="1.3"/>
<text x="1756.7" y="176.5" font-size="14.3" font-weight="bold" font-style="italic" fill="#ff1a1a">Ifi27l2a</text>
<line x1="1741" y1="197.3" x2="1771.6" y2="233.8" stroke="#000" stroke-width="1.3"/>
<text x="1735.1" y="194.3" font-size="14.3" font-weight="bold" font-style="italic" fill="#ff1a1a">Cxcl16</text>
<line x1="1776.6" y1="217.4" x2="1783.4" y2="229.9" stroke="#000" stroke-width="1.3"/>
<text x="1761.2" y="213" font-size="14.3" font-weight="bold" font-style="italic" fill="#ff1a1a">Ifit2</text>
<line x1="1874.5" y1="195.8" x2="1862.1" y2="192.2" stroke="#000" stroke-width="1.3"/>
<text x="1878.4" y="200.2" font-size="14.3" font-weight="bold" font-style="italic" fill="#1a33ff">P2ry12</text>
<line x1="1863.5" y1="213.6" x2="1846.3" y2="201.7" stroke="#000" stroke-width="1.3"/>
<text x="1867.1" y="220.1" font-size="14.3" font-weight="bold" font-style="italic" fill="#1a33ff">Gpr34</text>
<line x1="1856.7" y1="226.9" x2="1847.2" y2="212.1" stroke="#000" stroke-width="1.3"/>
<text x="1846.6" y="239.7" font-size="14.3" font-weight="bold" font-style="italic" fill="#1a33ff">Picalm</text>
<line x1="1828.8" y1="256.6" x2="1816.1" y2="231.4" stroke="#000" stroke-width="1.3"/>
<text x="1814.6" y="270" font-size="14.3" font-weight="bold" font-style="italic" fill="#1a33ff">Crybb1</text>
</g>
<rect x="40" y="22.5" width="80.6" height="26.9" rx="7" fill="#fff" stroke="#a8a83c" stroke-width="1.6"/>
<text x="47.4" y="40.7" font-size="14.9" font-weight="bold" fill="#838300">Cluster2</text>
<rect x="743.8" y="22" width="79.9" height="26.2" rx="7" fill="#fff" stroke="#0f8f40" stroke-width="1.9"/>
<text x="752.5" y="40.7" font-size="14.9" font-weight="bold" fill="#0a8a3c">Cluster3</text>
<rect x="1433.7" y="23.4" width="80.1" height="25" rx="7" fill="#fff" stroke="#6cb6fb" stroke-width="1.5"/>
<text x="1441" y="40.7" font-size="14.9" font-weight="bold" fill="#1e90ff">Cluster4</text>
<text x="337.2" y="331" font-size="14.8" font-weight="bold" text-anchor="middle">log2(Avg. gene Expr.+1) in Trem2<tspan dy="-5.3" font-size="8.8">ko</tspan></text>
<text x="1040" y="331" font-size="14.8" font-weight="bold" text-anchor="middle">log2(Avg. gene Expr.+1) in Trem2<tspan dy="-5.3" font-size="8.8">ko</tspan></text>
<text x="1729.7" y="331" font-size="14.8" font-weight="bold" text-anchor="middle">log2(Avg. gene Expr.+1) in Trem2<tspan dy="-5.3" font-size="8.8">ko</tspan></text>
<text font-size="14.6" font-weight="bold" text-anchor="middle" transform="translate(17.7 175.9) rotate(-90)">log2(Avg. gene Expr.+1) in WT</text>
<text font-size="14.6" font-weight="bold" text-anchor="middle" transform="translate(720.7 175.4) rotate(-90)">log2(Avg. gene Expr.+1) in WT</text>
<text font-size="14.6" font-weight="bold" text-anchor="middle" transform="translate(1410.7 175.4) rotate(-90)">log2(Avg. gene Expr.+1) in WT</text>
<text x="-0.8" y="25.3" font-size="37" font-weight="bold">a</text>
<text x="656" y="25.4" font-size="37" font-weight="bold">b</text>
<text x="1330" y="25.3" font-size="37" font-weight="bold">c</text>
<defs>
<pattern id="h1" width="3.9" height="3.9" patternUnits="userSpaceOnUse" patternTransform="rotate(-45)"><rect width="3.9" height="3.9" fill="#b4b41e"/><rect y="0" width="3.9" height="1.8" fill="#111"/></pattern>
<pattern id="h2" width="3.9" height="3.9" patternUnits="userSpaceOnUse" patternTransform="rotate(-45)"><rect width="3.9" height="3.9" fill="#22e67e"/><rect y="0" width="3.9" height="1.8" fill="#111"/></pattern>
<pattern id="h3" width="3.9" height="3.9" patternUnits="userSpaceOnUse" patternTransform="rotate(-45)"><rect width="3.9" height="3.9" fill="#22c6f6"/><rect y="0" width="3.9" height="1.8" fill="#111"/></pattern>
</defs>
<g>
<rect x="87.8" y="404" width="15" height="61.5" fill="#868600" stroke="#111" stroke-width="1.9"/>
<line x1="95.3" y1="525.8" x2="95.3" y2="532.8" stroke="#111" stroke-width="2.1"/>
<text transform="translate(100.5 543.4) scale(1.15 1) rotate(-45)" font-size="14.9" font-weight="bold" text-anchor="end" fill="#111">Spint1</text>
<rect x="115" y="441.4" width="15" height="24.1" fill="#868600" stroke="#111" stroke-width="1.9"/>
<line x1="122.5" y1="525.8" x2="122.5" y2="532.8" stroke="#111" stroke-width="2.1"/>
<text transform="translate(127.8 543.4) scale(1.15 1) rotate(-45)" font-size="14.9" font-weight="bold" text-anchor="end" fill="#111">Anxa3</text>
<rect x="142.3" y="445" width="15" height="20.5" fill="#868600" stroke="#111" stroke-width="1.9"/>
<line x1="149.8" y1="525.8" x2="149.8" y2="532.8" stroke="#111" stroke-width="2.1"/>
<text transform="translate(155 543.4) scale(1.15 1) rotate(-45)" font-size="14.9" font-weight="bold" text-anchor="end" fill="#111">Ms4a6d</text>
<rect x="169.6" y="453.5" width="15" height="12.1" fill="#868600" stroke="#111" stroke-width="1.9"/>
<line x1="177.1" y1="525.8" x2="177.1" y2="532.8" stroke="#111" stroke-width="2.1"/>
<text transform="translate(182.2 543.4) scale(1.15 1) rotate(-45)" font-size="14.9" font-weight="bold" text-anchor="end" fill="#111">Ms4a6b</text>
<rect x="196.8" y="465.5" width="15" height="11.5" fill="#868600" stroke="#111" stroke-width="1.9"/>
<line x1="204.3" y1="525.8" x2="204.3" y2="532.8" stroke="#111" stroke-width="2.1"/>
<text transform="translate(209.5 543.4) scale(1.15 1) rotate(-45)" font-size="14.9" font-weight="bold" text-anchor="end" fill="#111">Lpl</text>
<rect x="224.1" y="465.5" width="15" height="19.9" fill="#868600" stroke="#111" stroke-width="1.9"/>
<line x1="231.6" y1="525.8" x2="231.6" y2="532.8" stroke="#111" stroke-width="2.1"/>
<text transform="translate(236.8 543.4) scale(1.15 1) rotate(-45)" font-size="14.9" font-weight="bold" text-anchor="end" fill="#111">Cd34</text>
<rect x="251.3" y="465.5" width="15" height="31.3" fill="#868600" stroke="#111" stroke-width="1.9"/>
<line x1="258.8" y1="525.8" x2="258.8" y2="532.8" stroke="#111" stroke-width="2.1"/>
<text transform="translate(264 543.4) scale(1.15 1) rotate(-45)" font-size="14.9" font-weight="bold" text-anchor="end" fill="#111">Lgals1</text>
<rect x="278.6" y="465.5" width="15" height="49.4" fill="#868600" stroke="#111" stroke-width="1.9"/>
<line x1="286.1" y1="525.8" x2="286.1" y2="532.8" stroke="#111" stroke-width="2.1"/>
<text transform="translate(291.2 543.4) scale(1.15 1) rotate(-45)" font-size="14.9" font-weight="bold" text-anchor="end" fill="#111">Spp1</text>
<line x1="77.2" y1="374.2" x2="77.2" y2="526.8" stroke="#111" stroke-width="2.2"/>
<line x1="77.2" y1="525.8" x2="305" y2="525.8" stroke="#111" stroke-width="2"/>
<line x1="77.2" y1="465.5" x2="305" y2="465.5" stroke="#111" stroke-width="2"/>
<line x1="71.4" y1="375.1" x2="77.2" y2="375.1" stroke="#111" stroke-width="1.9"/>
<text transform="translate(70.9 379) scale(1.16 1)" font-size="10.7" font-weight="bold" text-anchor="end" fill="#111">1.5</text>
<line x1="71.4" y1="405.2" x2="77.2" y2="405.2" stroke="#111" stroke-width="1.9"/>
<text transform="translate(70.9 409.1) scale(1.16 1)" font-size="10.7" font-weight="bold" text-anchor="end" fill="#111">1.0</text>
<line x1="71.4" y1="435.4" x2="77.2" y2="435.4" stroke="#111" stroke-width="1.9"/>
<text transform="translate(70.9 439.3) scale(1.16 1)" font-size="10.7" font-weight="bold" text-anchor="end" fill="#111">0.5</text>
<line x1="71.4" y1="465.5" x2="77.2" y2="465.5" stroke="#111" stroke-width="1.9"/>
<text transform="translate(70.9 469.4) scale(1.16 1)" font-size="10.7" font-weight="bold" text-anchor="end" fill="#111">0.0</text>
<line x1="71.4" y1="495.7" x2="77.2" y2="495.7" stroke="#111" stroke-width="1.9"/>
<text transform="translate(70.9 499.6) scale(1.16 1)" font-size="10.7" font-weight="bold" text-anchor="end" fill="#111">-0.5</text>
<line x1="71.4" y1="525.8" x2="77.2" y2="525.8" stroke="#111" stroke-width="1.9"/>
<text transform="translate(70.9 529.7) scale(1.16 1)" font-size="10.7" font-weight="bold" text-anchor="end" fill="#111">-1.0</text>
<text transform="translate(40.6 450.9) scale(1.15 1) rotate(-90)" font-size="12.1" font-weight="bold" text-anchor="middle" fill="#111">logFC of WT</text>
<text x="190.1" y="373.6" font-size="18.4" font-weight="bold" text-anchor="middle">AβE3: Trem2<tspan dy="-6.6" font-size="11">ko</tspan><tspan dy="6.6"> vs WT</tspan></text>
</g>
<g>
<rect x="389.5" y="396.2" width="16" height="39.2" fill="url(#h1)" stroke="#111" stroke-width="1.9"/>
<line x1="397.5" y1="525.8" x2="397.5" y2="532.8" stroke="#111" stroke-width="2.1"/>
<text transform="translate(402.7 543.4) scale(1.15 1) rotate(-45)" font-size="14.9" font-weight="bold" text-anchor="end" fill="#111">P2ry12</text>
<rect x="416.8" y="409" width="16" height="26.4" fill="url(#h1)" stroke="#111" stroke-width="1.9"/>
<line x1="424.8" y1="525.8" x2="424.8" y2="532.8" stroke="#111" stroke-width="2.1"/>
<text transform="translate(429.9 543.4) scale(1.15 1) rotate(-45)" font-size="14.9" font-weight="bold" text-anchor="end" fill="#111">Cd164</text>
<rect x="444" y="415.8" width="16" height="19.6" fill="url(#h1)" stroke="#111" stroke-width="1.9"/>
<line x1="452" y1="525.8" x2="452" y2="532.8" stroke="#111" stroke-width="2.1"/>
<text transform="translate(457.2 543.4) scale(1.15 1) rotate(-45)" font-size="14.9" font-weight="bold" text-anchor="end" fill="#111">Csf1r</text>
<rect x="471.2" y="427.1" width="16" height="8.3" fill="url(#h1)" stroke="#111" stroke-width="1.9"/>
<line x1="479.2" y1="525.8" x2="479.2" y2="532.8" stroke="#111" stroke-width="2.1"/>
<text transform="translate(484.4 543.4) scale(1.15 1) rotate(-45)" font-size="14.9" font-weight="bold" text-anchor="end" fill="#111">C1qc</text>
<rect x="498.5" y="435.4" width="16" height="31.6" fill="url(#h1)" stroke="#111" stroke-width="1.9"/>
<line x1="506.5" y1="525.8" x2="506.5" y2="532.8" stroke="#111" stroke-width="2.1"/>
<text transform="translate(511.7 543.4) scale(1.15 1) rotate(-45)" font-size="14.9" font-weight="bold" text-anchor="end" fill="#111">Cxcl16</text>
<rect x="525.8" y="435.4" width="16" height="32.4" fill="url(#h1)" stroke="#111" stroke-width="1.9"/>
<line x1="533.8" y1="525.8" x2="533.8" y2="532.8" stroke="#111" stroke-width="2.1"/>
<text transform="translate(539 543.4) scale(1.15 1) rotate(-45)" font-size="14.9" font-weight="bold" text-anchor="end" fill="#111">Lpl</text>
<rect x="553" y="435.4" width="16" height="75.3" fill="url(#h1)" stroke="#111" stroke-width="1.9"/>
<line x1="561" y1="525.8" x2="561" y2="532.8" stroke="#111" stroke-width="2.1"/>
<text transform="translate(566.2 543.4) scale(1.15 1) rotate(-45)" font-size="14.9" font-weight="bold" text-anchor="end" fill="#111">Lgals1</text>
<rect x="580.2" y="435.4" width="16" height="81.4" fill="url(#h1)" stroke="#111" stroke-width="1.9"/>
<line x1="588.2" y1="525.8" x2="588.2" y2="532.8" stroke="#111" stroke-width="2.1"/>
<text transform="translate(593.5 543.4) scale(1.15 1) rotate(-45)" font-size="14.9" font-weight="bold" text-anchor="end" fill="#111">Ccl4</text>
<line x1="379" y1="374.2" x2="379" y2="526.8" stroke="#111" stroke-width="2.2"/>
<line x1="379" y1="525.8" x2="607" y2="525.8" stroke="#111" stroke-width="2"/>
<line x1="379" y1="435.4" x2="607" y2="435.4" stroke="#111" stroke-width="2"/>
<line x1="373.2" y1="375.1" x2="379" y2="375.1" stroke="#111" stroke-width="1.9"/>
<text transform="translate(372.7 379) scale(1.16 1)" font-size="10.7" font-weight="bold" text-anchor="end" fill="#111">0.4</text>
<line x1="373.2" y1="405.2" x2="379" y2="405.2" stroke="#111" stroke-width="1.9"/>
<text transform="translate(372.7 409.1) scale(1.16 1)" font-size="10.7" font-weight="bold" text-anchor="end" fill="#111">0.2</text>
<line x1="373.2" y1="435.4" x2="379" y2="435.4" stroke="#111" stroke-width="1.9"/>
<text transform="translate(372.7 439.3) scale(1.16 1)" font-size="10.7" font-weight="bold" text-anchor="end" fill="#111">0.0</text>
<line x1="373.2" y1="465.5" x2="379" y2="465.5" stroke="#111" stroke-width="1.9"/>
<text transform="translate(372.7 469.4) scale(1.16 1)" font-size="10.7" font-weight="bold" text-anchor="end" fill="#111">-0.2</text>
<line x1="373.2" y1="495.7" x2="379" y2="495.7" stroke="#111" stroke-width="1.9"/>
<text transform="translate(372.7 499.6) scale(1.16 1)" font-size="10.7" font-weight="bold" text-anchor="end" fill="#111">-0.4</text>
<line x1="373.2" y1="525.8" x2="379" y2="525.8" stroke="#111" stroke-width="1.9"/>
<text transform="translate(372.7 529.7) scale(1.16 1)" font-size="10.7" font-weight="bold" text-anchor="end" fill="#111">-0.6</text>
<text transform="translate(341.6 450.9) scale(1.15 1) rotate(-90)" font-size="12.1" font-weight="bold" text-anchor="middle" fill="#111">logFC of WT</text>
<text x="499.5" y="373.6" font-size="18.4" font-weight="bold" text-anchor="middle">AβE4: Trem2<tspan dy="-6.6" font-size="11">ko</tspan><tspan dy="6.6"> vs WT</tspan></text>
</g>
<g>
<rect x="781.4" y="395.4" width="15" height="39.9" fill="#0cc47e" stroke="#111" stroke-width="1.9"/>
<line x1="788.9" y1="525.8" x2="788.9" y2="532.8" stroke="#111" stroke-width="2.1"/>
<text transform="translate(794.1 543.4) scale(1.15 1) rotate(-45)" font-size="14.9" font-weight="bold" text-anchor="end" fill="#111">Apobec3</text>
<rect x="808.6" y="400.7" width="15" height="34.7" fill="#0cc47e" stroke="#111" stroke-width="1.9"/>
<line x1="816.1" y1="525.8" x2="816.1" y2="532.8" stroke="#111" stroke-width="2.1"/>
<text transform="translate(821.4 543.4) scale(1.15 1) rotate(-45)" font-size="14.9" font-weight="bold" text-anchor="end" fill="#111">Rnase4</text>
<rect x="835.9" y="407.5" width="15" height="27.9" fill="#0cc47e" stroke="#111" stroke-width="1.9"/>
<line x1="843.4" y1="525.8" x2="843.4" y2="532.8" stroke="#111" stroke-width="2.1"/>
<text transform="translate(848.6 543.4) scale(1.15 1) rotate(-45)" font-size="14.9" font-weight="bold" text-anchor="end" fill="#111">Dnajb9</text>
<rect x="863.1" y="412" width="15" height="23.4" fill="#0cc47e" stroke="#111" stroke-width="1.9"/>
<line x1="870.6" y1="525.8" x2="870.6" y2="532.8" stroke="#111" stroke-width="2.1"/>
<text transform="translate(875.9 543.4) scale(1.15 1) rotate(-45)" font-size="14.9" font-weight="bold" text-anchor="end" fill="#111">Cst3</text>
<rect x="890.4" y="435.4" width="15" height="45.2" fill="#0cc47e" stroke="#111" stroke-width="1.9"/>
<line x1="897.9" y1="525.8" x2="897.9" y2="532.8" stroke="#111" stroke-width="2.1"/>
<text transform="translate(903.1 543.4) scale(1.15 1) rotate(-45)" font-size="14.9" font-weight="bold" text-anchor="end" fill="#111">Ifi27l2a</text>
<rect x="917.6" y="435.4" width="15" height="47.5" fill="#0cc47e" stroke="#111" stroke-width="1.9"/>
<line x1="925.1" y1="525.8" x2="925.1" y2="532.8" stroke="#111" stroke-width="2.1"/>
<text transform="translate(930.4 543.4) scale(1.15 1) rotate(-45)" font-size="14.9" font-weight="bold" text-anchor="end" fill="#111">Cd52</text>
<rect x="944.9" y="435.4" width="15" height="51.2" fill="#0cc47e" stroke="#111" stroke-width="1.9"/>
<line x1="952.4" y1="525.8" x2="952.4" y2="532.8" stroke="#111" stroke-width="2.1"/>
<text transform="translate(957.6 543.4) scale(1.15 1) rotate(-45)" font-size="14.9" font-weight="bold" text-anchor="end" fill="#111">Lpl</text>
<rect x="972.1" y="435.4" width="15" height="58" fill="#0cc47e" stroke="#111" stroke-width="1.9"/>
<line x1="979.6" y1="525.8" x2="979.6" y2="532.8" stroke="#111" stroke-width="2.1"/>
<text transform="translate(984.9 543.4) scale(1.15 1) rotate(-45)" font-size="14.9" font-weight="bold" text-anchor="end" fill="#111">Cd34</text>
<line x1="771" y1="374.2" x2="771" y2="526.8" stroke="#111" stroke-width="2.2"/>
<line x1="771" y1="525.8" x2="998" y2="525.8" stroke="#111" stroke-width="2"/>
<line x1="771" y1="435.4" x2="998" y2="435.4" stroke="#111" stroke-width="2"/>
<line x1="765.2" y1="375.1" x2="771" y2="375.1" stroke="#111" stroke-width="1.9"/>
<text transform="translate(764.7 379) scale(1.16 1)" font-size="10.7" font-weight="bold" text-anchor="end" fill="#111">0.4</text>
<line x1="765.2" y1="405.2" x2="771" y2="405.2" stroke="#111" stroke-width="1.9"/>
<text transform="translate(764.7 409.1) scale(1.16 1)" font-size="10.7" font-weight="bold" text-anchor="end" fill="#111">0.2</text>
<line x1="765.2" y1="435.4" x2="771" y2="435.4" stroke="#111" stroke-width="1.9"/>
<text transform="translate(764.7 439.3) scale(1.16 1)" font-size="10.7" font-weight="bold" text-anchor="end" fill="#111">0.0</text>
<line x1="765.2" y1="465.5" x2="771" y2="465.5" stroke="#111" stroke-width="1.9"/>
<text transform="translate(764.7 469.4) scale(1.16 1)" font-size="10.7" font-weight="bold" text-anchor="end" fill="#111">-0.2</text>
<line x1="765.2" y1="495.7" x2="771" y2="495.7" stroke="#111" stroke-width="1.9"/>
<text transform="translate(764.7 499.6) scale(1.16 1)" font-size="10.7" font-weight="bold" text-anchor="end" fill="#111">-0.4</text>
<line x1="765.2" y1="525.8" x2="771" y2="525.8" stroke="#111" stroke-width="1.9"/>
<text transform="translate(764.7 529.7) scale(1.16 1)" font-size="10.7" font-weight="bold" text-anchor="end" fill="#111">-0.6</text>
<text transform="translate(733.6 450.9) scale(1.15 1) rotate(-90)" font-size="12.1" font-weight="bold" text-anchor="middle" fill="#111">logFC of WT</text>
<text x="886.9" y="373.6" font-size="18.4" font-weight="bold" text-anchor="middle">AβE3: Trem2<tspan dy="-6.6" font-size="11">ko</tspan><tspan dy="6.6"> vs WT</tspan></text>
</g>
<g>
<rect x="1090" y="411.3" width="16" height="39.2" fill="url(#h2)" stroke="#111" stroke-width="1.9"/>
<line x1="1098" y1="525.8" x2="1098" y2="532.8" stroke="#111" stroke-width="2.1"/>
<text transform="translate(1103.2 543.4) scale(1.15 1) rotate(-45)" font-size="14.9" font-weight="bold" text-anchor="end" fill="#111">Crybb1</text>
<rect x="1117.2" y="427.8" width="16" height="22.6" fill="url(#h2)" stroke="#111" stroke-width="1.9"/>
<line x1="1125.2" y1="525.8" x2="1125.2" y2="532.8" stroke="#111" stroke-width="2.1"/>
<text transform="translate(1130.4 543.4) scale(1.15 1) rotate(-45)" font-size="14.9" font-weight="bold" text-anchor="end" fill="#111">Gpr34</text>
<rect x="1144.4" y="433.9" width="16" height="16.6" fill="url(#h2)" stroke="#111" stroke-width="1.9"/>
<line x1="1152.4" y1="525.8" x2="1152.4" y2="532.8" stroke="#111" stroke-width="2.1"/>
<text transform="translate(1157.6 543.4) scale(1.15 1) rotate(-45)" font-size="14.9" font-weight="bold" text-anchor="end" fill="#111">Csf1r</text>
<rect x="1171.6" y="436.5" width="16" height="13.9" fill="url(#h2)" stroke="#111" stroke-width="1.9"/>
<line x1="1179.6" y1="525.8" x2="1179.6" y2="532.8" stroke="#111" stroke-width="2.1"/>
<text transform="translate(1184.8 543.4) scale(1.15 1) rotate(-45)" font-size="14.9" font-weight="bold" text-anchor="end" fill="#111">Marcks</text>
<rect x="1198.8" y="450.4" width="16" height="30.1" fill="url(#h2)" stroke="#111" stroke-width="1.9"/>
<line x1="1206.8" y1="525.8" x2="1206.8" y2="532.8" stroke="#111" stroke-width="2.1"/>
<text transform="translate(1212 543.4) scale(1.15 1) rotate(-45)" font-size="14.9" font-weight="bold" text-anchor="end" fill="#111">Cxcl16</text>
<rect x="1226" y="450.4" width="16" height="33.2" fill="url(#h2)" stroke="#111" stroke-width="1.9"/>
<line x1="1234" y1="525.8" x2="1234" y2="532.8" stroke="#111" stroke-width="2.1"/>
<text transform="translate(1239.2 543.4) scale(1.15 1) rotate(-45)" font-size="14.9" font-weight="bold" text-anchor="end" fill="#111">Atf3</text>
<rect x="1253.2" y="450.4" width="16" height="36.2" fill="url(#h2)" stroke="#111" stroke-width="1.9"/>
<line x1="1261.2" y1="525.8" x2="1261.2" y2="532.8" stroke="#111" stroke-width="2.1"/>
<text transform="translate(1266.4 543.4) scale(1.15 1) rotate(-45)" font-size="14.9" font-weight="bold" text-anchor="end" fill="#111">Il1b</text>
<rect x="1280.4" y="450.4" width="16" height="46" fill="url(#h2)" stroke="#111" stroke-width="1.9"/>
<line x1="1288.4" y1="525.8" x2="1288.4" y2="532.8" stroke="#111" stroke-width="2.1"/>
<text transform="translate(1293.6 543.4) scale(1.15 1) rotate(-45)" font-size="14.9" font-weight="bold" text-anchor="end" fill="#111">Cd52</text>
<line x1="1079.4" y1="374.2" x2="1079.4" y2="526.8" stroke="#111" stroke-width="2.2"/>
<line x1="1079.4" y1="525.8" x2="1307" y2="525.8" stroke="#111" stroke-width="2"/>
<line x1="1079.4" y1="450.4" x2="1307" y2="450.4" stroke="#111" stroke-width="2"/>
<line x1="1073.6" y1="375.1" x2="1079.4" y2="375.1" stroke="#111" stroke-width="1.9"/>
<text transform="translate(1073.1 379) scale(1.16 1)" font-size="10.7" font-weight="bold" text-anchor="end" fill="#111">1.0</text>
<line x1="1073.6" y1="412.8" x2="1079.4" y2="412.8" stroke="#111" stroke-width="1.9"/>
<text transform="translate(1073.1 416.7) scale(1.16 1)" font-size="10.7" font-weight="bold" text-anchor="end" fill="#111">0.5</text>
<line x1="1073.6" y1="450.4" x2="1079.4" y2="450.4" stroke="#111" stroke-width="1.9"/>
<text transform="translate(1073.1 454.3) scale(1.16 1)" font-size="10.7" font-weight="bold" text-anchor="end" fill="#111">0.0</text>
<line x1="1073.6" y1="488.1" x2="1079.4" y2="488.1" stroke="#111" stroke-width="1.9"/>
<text transform="translate(1073.1 492) scale(1.16 1)" font-size="10.7" font-weight="bold" text-anchor="end" fill="#111">-0.5</text>
<line x1="1073.6" y1="525.8" x2="1079.4" y2="525.8" stroke="#111" stroke-width="1.9"/>
<text transform="translate(1073.1 529.7) scale(1.16 1)" font-size="10.7" font-weight="bold" text-anchor="end" fill="#111">-1.0</text>
<text transform="translate(1042.6 450.9) scale(1.15 1) rotate(-90)" font-size="12.1" font-weight="bold" text-anchor="middle" fill="#111">logFC of WT</text>
<text x="1195.8" y="373.6" font-size="18.4" font-weight="bold" text-anchor="middle">AβE4: Trem2<tspan dy="-6.6" font-size="11">ko</tspan><tspan dy="6.6"> vs WT</tspan></text>
</g>
<g>
<rect x="1468.7" y="382.2" width="18.6" height="73.7" fill="#0fb2f2" stroke="#111" stroke-width="1.9"/>
<line x1="1478" y1="516.4" x2="1478" y2="523.4" stroke="#111" stroke-width="2.1"/>
<text transform="translate(1483.2 534) scale(1.15 1) rotate(-45)" font-size="14.9" font-weight="bold" text-anchor="end" fill="#111">Spint1</text>
<rect x="1499.7" y="419.1" width="18.6" height="36.9" fill="#0fb2f2" stroke="#111" stroke-width="1.9"/>
<line x1="1509" y1="516.4" x2="1509" y2="523.4" stroke="#111" stroke-width="2.1"/>
<text transform="translate(1514.2 534) scale(1.15 1) rotate(-45)" font-size="14.9" font-weight="bold" text-anchor="end" fill="#111">Anxa3</text>
<rect x="1530.8" y="431.2" width="18.6" height="24.8" fill="#0fb2f2" stroke="#111" stroke-width="1.9"/>
<line x1="1540.1" y1="516.4" x2="1540.1" y2="523.4" stroke="#111" stroke-width="2.1"/>
<text transform="translate(1545.3 534) scale(1.15 1) rotate(-45)" font-size="14.9" font-weight="bold" text-anchor="end" fill="#111">Apobec3</text>
<rect x="1561.8" y="442.4" width="18.6" height="13.6" fill="#0fb2f2" stroke="#111" stroke-width="1.9"/>
<line x1="1571.1" y1="516.4" x2="1571.1" y2="523.4" stroke="#111" stroke-width="2.1"/>
<text transform="translate(1576.3 534) scale(1.15 1) rotate(-45)" font-size="14.9" font-weight="bold" text-anchor="end" fill="#111">Fcer1g</text>
<rect x="1592.8" y="456" width="18.6" height="22.4" fill="#0fb2f2" stroke="#111" stroke-width="1.9"/>
<line x1="1602.1" y1="516.4" x2="1602.1" y2="523.4" stroke="#111" stroke-width="2.1"/>
<text transform="translate(1607.3 534) scale(1.15 1) rotate(-45)" font-size="14.9" font-weight="bold" text-anchor="end" fill="#111">Prl</text>
<rect x="1623.9" y="456" width="18.6" height="28.4" fill="#0fb2f2" stroke="#111" stroke-width="1.9"/>
<line x1="1633.2" y1="516.4" x2="1633.2" y2="523.4" stroke="#111" stroke-width="2.1"/>
<text transform="translate(1638.4 534) scale(1.15 1) rotate(-45)" font-size="14.9" font-weight="bold" text-anchor="end" fill="#111">Cd34</text>
<rect x="1654.9" y="456" width="18.6" height="52.6" fill="#0fb2f2" stroke="#111" stroke-width="1.9"/>
<line x1="1664.2" y1="516.4" x2="1664.2" y2="523.4" stroke="#111" stroke-width="2.1"/>
<text transform="translate(1669.4 534) scale(1.15 1) rotate(-45)" font-size="14.9" font-weight="bold" text-anchor="end" fill="#111">Arsb</text>
<line x1="1457.9" y1="364.4" x2="1457.9" y2="517.4" stroke="#111" stroke-width="2.2"/>
<line x1="1457.9" y1="516.4" x2="1685" y2="516.4" stroke="#111" stroke-width="2"/>
<line x1="1457.9" y1="456" x2="1685" y2="456" stroke="#111" stroke-width="2"/>
<line x1="1452.1" y1="365.3" x2="1457.9" y2="365.3" stroke="#111" stroke-width="1.9"/>
<text transform="translate(1451.6 369.2) scale(1.16 1)" font-size="10.7" font-weight="bold" text-anchor="end" fill="#111">1.5</text>
<line x1="1452.1" y1="395.5" x2="1457.9" y2="395.5" stroke="#111" stroke-width="1.9"/>
<text transform="translate(1451.6 399.4) scale(1.16 1)" font-size="10.7" font-weight="bold" text-anchor="end" fill="#111">1.0</text>
<line x1="1452.1" y1="425.7" x2="1457.9" y2="425.7" stroke="#111" stroke-width="1.9"/>
<text transform="translate(1451.6 429.6) scale(1.16 1)" font-size="10.7" font-weight="bold" text-anchor="end" fill="#111">0.5</text>
<line x1="1452.1" y1="456" x2="1457.9" y2="456" stroke="#111" stroke-width="1.9"/>
<text transform="translate(1451.6 459.9) scale(1.16 1)" font-size="10.7" font-weight="bold" text-anchor="end" fill="#111">0.0</text>
<line x1="1452.1" y1="486.2" x2="1457.9" y2="486.2" stroke="#111" stroke-width="1.9"/>
<text transform="translate(1451.6 490.1) scale(1.16 1)" font-size="10.7" font-weight="bold" text-anchor="end" fill="#111">-0.5</text>
<line x1="1452.1" y1="516.4" x2="1457.9" y2="516.4" stroke="#111" stroke-width="1.9"/>
<text transform="translate(1451.6 520.3) scale(1.16 1)" font-size="10.7" font-weight="bold" text-anchor="end" fill="#111">-1.0</text>
<text transform="translate(1421.1 441.4) scale(1.15 1) rotate(-90)" font-size="12.1" font-weight="bold" text-anchor="middle" fill="#111">logFC of WT</text>
<text x="1572.8" y="373" font-size="18.4" font-weight="bold" text-anchor="middle">AβE3: Trem2<tspan dy="-6.6" font-size="11">ko</tspan><tspan dy="6.6"> vs WT</tspan></text>
</g>
<g>
<rect x="1780.4" y="396.3" width="12.6" height="43" fill="url(#h3)" stroke="#111" stroke-width="1.9"/>
<line x1="1786.7" y1="514.8" x2="1786.7" y2="521.8" stroke="#111" stroke-width="2.1"/>
<text transform="translate(1791.9 532.4) scale(1.15 1) rotate(-45)" font-size="14.9" font-weight="bold" text-anchor="end" fill="#111">Crybb1</text>
<rect x="1802.2" y="403.1" width="12.6" height="36.2" fill="url(#h3)" stroke="#111" stroke-width="1.9"/>
<line x1="1808.5" y1="514.8" x2="1808.5" y2="521.8" stroke="#111" stroke-width="2.1"/>
<text transform="translate(1813.7 532.4) scale(1.15 1) rotate(-45)" font-size="14.9" font-weight="bold" text-anchor="end" fill="#111">Gpr34</text>
<rect x="1824.1" y="411.7" width="12.6" height="27.6" fill="url(#h3)" stroke="#111" stroke-width="1.9"/>
<line x1="1830.4" y1="514.8" x2="1830.4" y2="521.8" stroke="#111" stroke-width="2.1"/>
<text transform="translate(1835.6 532.4) scale(1.15 1) rotate(-45)" font-size="14.9" font-weight="bold" text-anchor="end" fill="#111">Picalm</text>
<rect x="1845.9" y="412.5" width="12.6" height="26.8" fill="url(#h3)" stroke="#111" stroke-width="1.9"/>
<line x1="1852.2" y1="514.8" x2="1852.2" y2="521.8" stroke="#111" stroke-width="2.1"/>
<text transform="translate(1857.4 532.4) scale(1.15 1) rotate(-45)" font-size="14.9" font-weight="bold" text-anchor="end" fill="#111">P2ry12</text>
<rect x="1867.7" y="439.3" width="12.6" height="15.9" fill="url(#h3)" stroke="#111" stroke-width="1.9"/>
<line x1="1874" y1="514.8" x2="1874" y2="521.8" stroke="#111" stroke-width="2.1"/>
<text transform="translate(1879.2 532.4) scale(1.15 1) rotate(-45)" font-size="14.9" font-weight="bold" text-anchor="end" fill="#111">Ifit3</text>
<rect x="1889.6" y="439.3" width="12.6" height="19.6" fill="url(#h3)" stroke="#111" stroke-width="1.9"/>
<line x1="1895.9" y1="514.8" x2="1895.9" y2="521.8" stroke="#111" stroke-width="2.1"/>
<text transform="translate(1901.1 532.4) scale(1.15 1) rotate(-45)" font-size="14.9" font-weight="bold" text-anchor="end" fill="#111">Ifitm3</text>
<rect x="1911.4" y="439.3" width="12.6" height="20.8" fill="url(#h3)" stroke="#111" stroke-width="1.9"/>
<line x1="1917.7" y1="514.8" x2="1917.7" y2="521.8" stroke="#111" stroke-width="2.1"/>
<text transform="translate(1922.9 532.4) scale(1.15 1) rotate(-45)" font-size="14.9" font-weight="bold" text-anchor="end" fill="#111">Ifi204</text>
<rect x="1933.2" y="439.3" width="12.6" height="28.3" fill="url(#h3)" stroke="#111" stroke-width="1.9"/>
<line x1="1939.5" y1="514.8" x2="1939.5" y2="521.8" stroke="#111" stroke-width="2.1"/>
<text transform="translate(1944.7 532.4) scale(1.15 1) rotate(-45)" font-size="14.9" font-weight="bold" text-anchor="end" fill="#111">Ifi207</text>
<rect x="1955" y="439.3" width="12.6" height="32.8" fill="url(#h3)" stroke="#111" stroke-width="1.9"/>
<line x1="1961.3" y1="514.8" x2="1961.3" y2="521.8" stroke="#111" stroke-width="2.1"/>
<text transform="translate(1966.5 532.4) scale(1.15 1) rotate(-45)" font-size="14.9" font-weight="bold" text-anchor="end" fill="#111">Ifi27l2a</text>
<rect x="1976.9" y="439.3" width="12.6" height="37" fill="url(#h3)" stroke="#111" stroke-width="1.9"/>
<line x1="1983.2" y1="514.8" x2="1983.2" y2="521.8" stroke="#111" stroke-width="2.1"/>
<text transform="translate(1988.4 532.4) scale(1.15 1) rotate(-45)" font-size="14.9" font-weight="bold" text-anchor="end" fill="#111">Ifit2</text>
<line x1="1771.6" y1="362.9" x2="1771.6" y2="515.8" stroke="#111" stroke-width="2.2"/>
<line x1="1771.6" y1="514.8" x2="1998" y2="514.8" stroke="#111" stroke-width="2"/>
<line x1="1771.6" y1="439.3" x2="1998" y2="439.3" stroke="#111" stroke-width="2"/>
<line x1="1765.8" y1="363.8" x2="1771.6" y2="363.8" stroke="#111" stroke-width="1.9"/>
<text transform="translate(1765.3 367.7) scale(1.16 1)" font-size="10.7" font-weight="bold" text-anchor="end" fill="#111">1.0</text>
<line x1="1765.8" y1="401.6" x2="1771.6" y2="401.6" stroke="#111" stroke-width="1.9"/>
<text transform="translate(1765.3 405.4) scale(1.16 1)" font-size="10.7" font-weight="bold" text-anchor="end" fill="#111">0.5</text>
<line x1="1765.8" y1="439.3" x2="1771.6" y2="439.3" stroke="#111" stroke-width="1.9"/>
<text transform="translate(1765.3 443.2) scale(1.16 1)" font-size="10.7" font-weight="bold" text-anchor="end" fill="#111">0.0</text>
<line x1="1765.8" y1="477" x2="1771.6" y2="477" stroke="#111" stroke-width="1.9"/>
<text transform="translate(1765.3 480.9) scale(1.16 1)" font-size="10.7" font-weight="bold" text-anchor="end" fill="#111">-0.5</text>
<line x1="1765.8" y1="514.8" x2="1771.6" y2="514.8" stroke="#111" stroke-width="1.9"/>
<text transform="translate(1765.3 518.7) scale(1.16 1)" font-size="10.7" font-weight="bold" text-anchor="end" fill="#111">-1.0</text>
<text transform="translate(1734.6 439.8) scale(1.15 1) rotate(-90)" font-size="12.1" font-weight="bold" text-anchor="middle" fill="#111">logFC of WT</text>
<text x="1881.7" y="373" font-size="18.4" font-weight="bold" text-anchor="middle">AβE4: Trem2<tspan dy="-6.6" font-size="11">ko</tspan><tspan dy="6.6"> vs WT</tspan></text>
</g>
<defs><linearGradient id="cbg"><stop offset="0" stop-color="#dcdcdc"/><stop offset="0.25" stop-color="#f6bcae"/><stop offset="0.6" stop-color="#fc7454"/><stop offset="0.88" stop-color="#ff2a08"/><stop offset="1" stop-color="#ff0000"/></linearGradient></defs>
<clipPath id="uc1"><rect x="22.5" y="598.3" width="137.9" height="105.8"/></clipPath>
<g clip-path="url(#uc1)">
<path d="M19.8 596.3h0m2.3 .1h0m2.7-.7h0m2.3-.2h0m13.4 .2h0m18.3 1h0m2-.3h0m5-.5h0m1.2-.4h0m2.6 .8h0m5.2-.1h0m4.3 .2h0m1.3-.7h0m2.4-.2h0m14.4 .3h0m2.1-.4h0m1.3 .8h0m3-.5h0m4.3-.1h0m1.9 .5h0m2.3-.5h0m2.9 .5h0m3.7 .3h0m4.8 .2h0m2.6 0h0m4.2-.3h0m-110.3 3.9h0m1.6-2h0m.5 1.7h0m1.4-1.8h0m.7 3.7h0m.8-2.1h0m1.5-2.3h0m.1 2.1h0m2 2.9h0m.5-2.9h0m1.3 2.9h0m.5-2.2h0m2-2.6h0m4.4 4.5h0m15.4-.2h0m.7-3.6h0m1.1-.2h0m.1 3.3h0m1.2-1.6h0m1-1.7h0m.4 3.5h0m1.6-1.6h0m.8 2.2h0m1.3-2.8h0m1.1 2.8h0m2.2-4.5h0m.1 4.7h0m.7-1.9h0m1.9-2h0m0 1.4h0m1.2-1.4h0m0 3.7h0m2.4-4.8h0m.3 4.5h0m.7-1.4h0m1.8-2.5h0m1 1.5h0m.8-1.7h0m.9 3.7h0m2.1-4h0m.1 2.2h0m2 1.9h0m.4-1.9h0m1.8 2.4h0m.8-2.5h0m1.1 1.7h0m5.1 .8h0m1.8 .3h0m4.4-4.8h0m.6 4h0m.3-1.4h0m1.9-2h0m.5 2h0m1.5 1.9h0m.6-2h0m1.8 1.8h0m.7-2.2h0m.7 2.1h0m1-3.4h0m.1 1.8h0m1 1.3h0m.7-3.4h0m1.6 2.3h0m.1-1.9h0m.6 3.3h0m1.7-3.2h0m.2 3.5h0m3.9-2h0m.4-2.1h0m.6 4h0m1.4-1.6h0m.1 1.8h0m.1-4.8h0m1.5 2.8h0m3.2 1.2h0m2.4-3.2h0m.5 4h0m1.7-.1h0m.3-4.4h0m.7 2.2h0m1.4-2.2h0m1.6 .7h0m2.2 2.2h0m1 1.1h0m-114 2h0m.4 4.1h0m1.1-1.5h0m2.4-.9h0m.8-1.3h0m1.4 2h0m.4-2.8h0m1.2 2.4h0m4.1 1.4h0m4-3.1h0m2.7 4.1h0m2.2-.7h0m.4-1.2h0m1.9 2h0m1.5-4.2h0m1.4 1.2h0m1.1 3.2h0m1.5-2.7h0m.9-2.3h0m.7 2.5h0m1.9-2.2h0m.1 3.6h0m.6-1.3h0m1.6 1.2h0m.1-3.7h0m2 4.2h0m0-4h0m.7 1.9h0m.7 1.6h0m.2-3.4h0m5.2 4h0m1.4-3.9h0m3.4 1.5h0m1.3 2.4h0m1.3-2.2h0m1.5 1.7h0m1.9 0h0m.7-2.1h0m1.5-.8h0m2-.2h0m.9 3.7h0m.5-2.6h0m1-1.4h0m2 3.3h0m.5-3.2h0m.9 2.1h0m2.4-.9h0m1.2-1h0m.5 3h0m.5-1h0m1.1-2.3h0m.7 3.4h0m.3-1.8h0m.8 1.7h0m.5-3.2h0m1.3 2.1h0m.8 2.1h0m.2-4.9h0m1.2 2.3h0m1.4 2h0m.3-3.8h0m1.1 4.5h0m.2-5.1h0m1.2 2.3h0m1.6-2.2h0m1.5 2h0m.1 2.7h0m.2-4.6h0m2 4.2h0m.7-3.8h0m1.2 2.5h0m1.4-2.1h0m1.8-.5h0m1.9 4h0m.6-3.5h0m2.4 1.9h0m1.2-2.4h0m2.7 4.7h0m.1-4.2h0m1.6 1.2h0m1-1.4h0m1.2-.4h0m.8 3.5h0m.8-1.7h0m2.3 .7h0m1.1 2.1h0m1-2.4h0m.9-2.6h0m1.2 2.7h0m1.3 2h0m.2-3.9h0m2.8-.5h0m2.8 1.8h0m1.3 2.7h0m-109.1 5.6h0m2.1-3.7h0m2.7 3.6h0m.3-1.9h0m1.3-1.8h0m.8 3.2h0m1.1-1.9h0m1.1 2.5h0m2-4.4h0m0 4.2h0m1.4-.3h0m.6-3.2h0m1.3 1.2h0m.5 2.8h0m.7-4.6h0m1.5 1.8h0m.1 2.4h0m0-3.7h0m1.4 1.8h0m1.5 1.8h0m.4-1.3h0m2.2-2.7h0m.6 1.6h0m.6-1.3h0m.4 4.2h0m1-2.7h0m.8 2.5h0m2.4-4.4h0m0 4.4h0m1.8-1.6h0m.5-2.8h0m.4 4.4h0m3.5-2.4h0m.9-2h0m1.7 .2h0m.4 4.2h0m1.7-1.8h0m.6-2.7h0m.3 4.8h0m1-2.3h0m.9 1.3h0m.1-3.3h0m1.9 3.5h0m.8-3h0m1.8-.8h0m.5 4.7h0m.1-1.9h0m1.6-3.1h0m.1 4.6h0m1.1-1.9h0m.5 1.6h0m.1-4.3h0m1.7 2.5h0m1.5-1.8h0m.2 3.9h0m2.2-.5h0m.3-1.7h0m1.3 1.7h0m1.1-1.8h0m.6 3.6h0m.9-5h0m1.6-.3h0m.6 3.5h0m.6-1.2h0m.9-2.9h0m1.6 3.1h0m1.4-3h0m.1 3.9h0m.3-1.6h0m.7 3.4h0m1-1.9h0m1-1.6h0m.3 3.5h0m2.6-5.2h0m1.7 2.1h0m1.2-2.4h0m4 4.2h0m2.5-3.5h0m2.8 3.5h0m1.1-1.9h0m.4 2h0m2-2.3h0m1.9 .8h0m1.5-.8h0m1.5-1.4h0m.1 3.2h0m1.7-1.5h0m3.1-2.5h0m3.6 2.2h0m2.6-1.6h0m.1 3.4h0m1.5-1.2h0m-112.9 8h0m1.5-3.1h0m.4-.9h0m4.6 1.8h0m.5-2.8h0m2.3 4.4h0m.7-2.1h0m1.3 1.5h0m.7-3.5h0m1 2h0m.6-1.7h0m.4 4.1h0m1.4-.1h0m2.2-2.4h0m.7-1.9h0m0 4.4h0m.7-2.7h0m1 2.6h0m.1-4.2h0m1.2 2.7h0m1.1-2.7h0m1.5 2.4h0m.5 1.9h0m.4-4.6h0m1.3 2h0m1.5-.9h0m2.2-.7h0m1.2 1.8h0m1.2 2.1h0m.6-1.3h0m1-2.1h0m1.9 3.7h0m4.3-2.6h0m1.1 2.5h0m2 .4h0m.2-4.1h0m1.9 .1h0m1.6 1.8h0m.4 1.6h0m.9-4h0m1.6 .5h0m.6 3.2h0m.3-1.4h0m1.1 1.8h0m.2-3.4h0m1.3 1.5h0m.8-1.4h0m.9 1.5h0m1-2.4h0m2.2 2.1h0m.8-2.2h0m.8 2.1h0m1-1.7h0m1.9 1.6h0m1-1.3h0m.2 3.4h0m.3-2.4h0m3 .5h0m.4 2.6h0m.1-4.3h0m2.7 3.4h0m.1-3h0m.7 1h0m.6 2.1h0m3.2 .7h0m.1 1h0m1.9-1.2h0m.5-2.1h0m12.4-2.3h0m5.2 .8h0m3.8 3.9h0m6.6 0h0m5.3-4.8h0m-112.2 8.4h0m.4 2.2h0m.5-4h0m.3 5h0m.9-3h0m.9-2.3h0m.7 5.2h0m1.4-1h0m.5-4.4h0m1.3 4h0m2.6-.3h0m.9-2.1h0m1.3 1.8h0m1.9-1h0m1.5-.7h0m1.2 1.9h0m.7-3.3h0m.4 1.4h0m1.3 2h0m.4-1.1h0m1.3 1.3h0m.8-4.2h0m1.4 5.8h0m1.1-1.7h0m2.2-.3h0m0 2.1h0m2.2-1.4h0m0-3.5h0m2.3-.3h0m.5 5h0m1-1.5h0m1.8-2.1h0m.5-1.1h0m.2 3.6h0m1.3-2.6h0m.7 2.5h0m1.9-2.6h0m.1 2.8h0m2.2-2.8h0m.1-1.7h0m.8 3.8h0m1.1-1.5h0m.5 1.5h0m.6-3.3h0m1.2 5.1h0m1.3-5.4h0m1.1-.3h0m1.7 5.6h0m.5-5h0m.3 4.1h0m3-1.1h0m1.3 1h0m1.8-3h0m1-1.5h0m.7 2.1h0m1.4-2h0m1.6 1.9h0m.3 2.4h0m.6-3.6h0m.8 1.1h0m2.6 3.8h0m1-5.8h0m1.2 2h0m1.4 1.7h0m2.5-1.4h0m.8 3.6h0m.7-1.9h0m.7 1.5h0m2.5 .3h0m.2-4.1h0m1.4 2.8h0m1.6 .1h0m3.7-2.3h0m5.5-1.4h0m.1 3.1h0m1.4-1.8h0m3.6 1.8h0m3.7-3.7h0m2.2 5.4h0m2.4-1.1h0m2.8-.1h0m.9 1.1h0m.5-5.2h0m.6 3.3h0m.6-1.1h0m-109.1 6.9h0m1.6-2.9h0m.4 2.8h0m.5-1h0m2.1 1.6h0m.6-2.5h0m1.3 2.4h0m.7-1.9h0m1.3 1.5h0m.8 1.9h0m.2-2.7h0m1.4 1.2h0m.6 1.5h0m2.8 .4h0m.5-5.8h0m1.2 1.6h0m3 1.1h0m.6 1.4h0m.1-3.7h0m1.3 5.3h0m.1-3.7h0m.8 1.5h0m1.7-1.7h0m1.9 .6h0m1.5-.4h0m2.7 .5h0m.7-1.9h0m.8 3.1h0m2.9-1.1h0m1.2 1.6h0m.3-3.4h0m.4 1.1h0m2.2-1.4h0m1.1 1.3h0m.8 2.8h0m.2-4.1h0m.2 1.7h0m2.6 .1h0m.8 2.2h0m1.5 1.1h0m.1-4.1h0m1.1 3h0m1.4-2.7h0m.6-1.7h0m.8 3.7h0m.9-1.2h0m1.1 1.9h0m.3-2.7h0m2-1.1h0m.3 1.3h0m1.1 2.3h0m.4-3.6h0m2.2-.4h0m0 3.6h0m1.6-1.4h0m.1 2.9h0m4.4-3.8h0m7.7-1.5h0m3.1 2.1h0m.2 3.4h0m1.1-1.5h0m1.4-2.3h0m.8 1.7h0m4.1-3.1h0m1 3.8h0m.6-1.7h0m1.4 1.9h0m.2-2.5h0m7.4 3.9h0m5.4-2.1h0m2.8-.1h0m.4-1.3h0m1.4 1.8h0m2.9-3.8h0m-106.7 11.6h0m3.3-4.3h0m.5 2.8h0m1.5-2.9h0m0 3.8h0m1.2-1.9h0m1.5-3.3h0m1.6 2.3h0m3.5 1.3h0m6.2-3.4h0m3.5 5.3h0m2.7-4h0m.6 2.9h0m1.2 1.3h0m.5-4.1h0m1.1 2.1h0m.4-2h0m4.9 .4h0m1.2-1.7h0m.9 5.2h0m0-3.3h0m1 1.2h0m1.4-2h0m.7 2.4h0m.7-3.5h0m1.3 5.3h0m1.2-2h0m.5-2.1h0m1.5 2.3h0m.2 1.8h0m.5-3.3h0m1.4 .8h0m.6 2h0m1-1.6h0m1.5 2h0m.3-4.1h0m.7-1.1h0m1.8 1.9h0m.6-2.4h0m18.1 3.5h0m.7-1.1h0m2.2-2.5h0m.2 5.6h0m.6-3.3h0m.3 1.1h0m2.5-3.1h0m.7 3.5h0m1.2-3.7h0m1.3 2.1h0m1.9-2.2h0m.6 2h0m2.7 .5h0m1.3 1h0m1-1.9h0m.5-1.4h0m1.6 1.9h0m4.3 3.4h0m.3-3.1h0m.7 2.1h0m.5-4.1h0m.5 1.7h0m2.1 3.2h0m1.1-1.7h0m2.5-3.6h0m-100.5 7.2h0m.1 4.5h0m2.9-2.1h0m1.1-1.7h0m4.9-.5h0m5.8 4.1h0m2.8-.2h0m5.5-1.4h0m.2-3.4h0m5.2 .8h0m1.7-.9h0m.8 1.2h0m.7-1.2h0m.2 3h0m1.6-1.9h0m1.2 1.8h0m.2 2.2h0m.1-3.1h0m1.1 1.9h0m0-4.3h0m1.5 5.8h0m.3-3.4h0m.7 .8h0m2.8 .9h0m1.1-2.1h0m1.3 1.3h0m.5-1.6h0m2.9 4h0m5.8-4.1h0m1.1 1.7h0m2.9 .6h0m.9-2.1h0m1.8 1.4h0m1.5 .9h0m2.3 .3h0m1-2.8h0m1.3 2.7h0m.8 1h0m.6-2.9h0m1.3-2.2h0m.8 1.4h0m.7-1.1h0m.7 3.5h0m3.5 1.2h0m.6-4.8h0m.3 3.9h0m.3-2.6h0m1.3 1.9h0m.9 2.3h0m1-4.2h0m.4 2.5h0m2-4.1h0m2.1 1.3h0m.5 1.9h0m1.8 2.5h0m.7-2.3h0m1.6 1.9h0m1.3 .6h0m.4-4.3h0m2.4 .8h0m3.5-2h0m.7 .8h0m-97.5 10.3h0m1.3-1.8h0m.9 1.7h0m1.3-1.5h0m.7 1.7h0m1.3-5.6h0m1.5 5.3h0m.2-4.1h0m1.1-.2h0m.8 4.2h0m1-2h0m1.1-1.4h0m.1 3.1h0m1.4 1h0m2-2.1h0m1 1.8h0m.2-4h0m2.1 .3h0m.9 2h0m.7-2h0m2.1 1h0m3.9-2.7h0m2 3.8h0m.2-3.9h0m2.6 3.2h0m.9-1.9h0m.6 1.9h0m1.8-2h0m7.2 1.9h0m7.2 .5h0m1.2 2h0m1.4-1.8h0m.9 1.9h0m1.7-2.4h0m.4-1.2h0m1.8 .7h0m.4-1.8h0m1.4 1.9h0m1.5 2.2h0m0-4h0m.1-1.3h0m1.1 3h0m.9 2.4h0m.2-3.9h0m.1 2.1h0m1.1 1.7h0m.5-3.4h0m.6-1.8h0m1.8 5.5h0m1.2-2.2h0m.1-3.2h0m.7 5.6h0m.1-4.3h0m.6 2.5h0m2-1.7h0m.2 1.4h0m1-3.6h0m.4 1h0m.3 4.9h0m.7-5.9h0m0 3h0m1.3 2.9h0m2-2.1h0m4.1 .3h0m1.3-2.4h0m.5 2.4h0m.5-3.9h0m1.4 1.7h0m0 2.1h0m1.2 1.8h0m0-3.6h0m5.4-.3h0m-90.9 7.8h0m1.5 1.1h0m1.8 .6h0m.2-4.5h0m1.7 3h0m.4 1.6h0m.1-4h0m1.9 1.3h0m.7-.8h0m.4 3.2h0m1.4-2.2h0m0 2.6h0m2-2.6h0m.4 2h0m.3-4h0m1.6 2.9h0m.5-2.3h0m1.2 2.3h0m1.5 1.7h0m.1-3.7h0m.4-1.8h0m1 3.8h0m.7 1.1h0m.1-3.7h0m1 1.6h0m1.3 2.6h0m.5-5.4h0m1.6 1.9h0m3.5 1.1h0m11 .7h0m5.1 1.2h0m1.6-1.3h0m1.1 1.2h0m.4-3.3h0m.5 2.3h0m1-2.9h0m.2 4.1h0m1.8-1.9h0m.5-1.5h0m.9 1.1h0m.9 2.6h0m.5-3.8h0m.7-1.6h0m.6 2.9h0m1.2 2.4h0m1.1-1.9h0m1.3-2.1h0m1.7 .2h0m1.9 2.2h0m.3-2.2h0m4.3-.6h0m7.6 .7h0m.9 2.2h0m1.1 1.5h0m.9-2.2h0m1.2 1.8h0m.3-3.4h0m.7-1.6h0m.5 4h0m.4 1.7h0m0-4h0m1.5-1.5h0m.3 2.8h0m.9-.9h0m2.8 2.9h0m2.4-1.4h0m1.2 1.6h0m-89 1.6h0m1 3.9h0m1.5-3.1h0m2.8-.7h0m1.3 4.7h0m.2-3.7h0m2.7 2.8h0m.8-1.8h0m1.8-1.7h0m2 .4h0m.1 3.8h0m1-2.5h0m.8-2h0m.2 4.6h0m1.7-.6h0m1-3.3h0m1.1 1.4h0m1-2.1h0m.5 2.7h0m.9 2h0m2.2-1.9h0m2.1-.3h0m.9 2.5h0m2.6-.3h0m.9-1.7h0m.8 1.2h0m2.1 .7h0m2.4-.4h0m1.4-1.7h0m.6 1.9h0m.5-4.3h0m.4 2h0m1.3 2.5h0m.4-4.4h0m2.6 3.6h0m.2-1.6h0m1.4-2h0m2 1.4h0m.2-1.8h0m2.3 .4h0m2.9-.1h0m20.1-.5h0m2.1 5.1h0m2.6-2.6h0m.1 1.6h0m1.4-4.1h0m14.4 1.2h0m.9 1h0m-93.9 6.5h0m1.9-.4h0m1.5-1.9h0m0 3.7h0m1.8-3.4h0m1 3.9h0m1.1-1.6h0m.9 1.2h0m.4-3.4h0m.6 1.4h0m1.5 1.6h0m1-1.6h0m.9-2.4h0m.2 4.8h0m1.3-2.7h0m.6-1.4h0m.5 3.8h0m1.8 .1h0m1.6-2.3h0m.2 2.3h0m2.2-2h0m.7-1.4h0m1.4 1.1h0m1.3-.2h0m1.6-1.9h0m.2 4.6h0m.3-2.4h0m1.6-1.4h0m2.3 .2h0m2.8 3.3h0m.7-2.1h0m1.2 2.5h0m.4-4.8h0m.2 3.1h0m1.3-3h0m1.5 2.5h0m2.8-2.2h0m6.6-.2h0m14.7 .8h0m3.5-.4h0m1.1 2.2h0m3.2-.6h0m2.5 2.7h0m3.6-2.7h0m1.8 2.5h0m2.1-3.9h0m1.1 1.9h0m.2 1.8h0m2-2.5h0m3.2-1.7h0m-85.7 8.2h0m.9 2.2h0m.2-4.2h0m1.9-.4h0m1.4 2.5h0m1.6-2.7h0m2.1 0h0m1.9 .1h0m2.6 .4h0m2.2 4.2h0m1.8-4.5h0m4.7 0h0m2.5 .3h0m1.5 2.2h0m.2-1.7h0m2.7 3.3h0m1.4-1.7h0m1.2-2h0m6.5 3.5h0m18.1 .4h0m.3-1.7h0m3.4-.9h0m.1-1.7h0m1.1 2.2h0m2.1-1.7h0m.2 1.2h0m1-1h0m1.2 3.1h0m2.5-1.8h0m9.4 .5h0m-77.7 5.8h0m1 2.2h0m1-1.8h0m1.1 .7h0m.2-3.7h0m22.9 0h0m20 4.2h0m1.9 .6h0m2.3-.2h0m2.3 .3h0m1.5-2.5h0m1.3 2h0m.5-1.8h0m1.9-.4h0m1.6 2.5h0m.6-3.8h0m4.6 4.1h0m1.5-4.3h0m5.1-.6h0m-71.7 5.7h0m1.4 2.9h0m1.6-2.9h0m1.7 .3h0m.1 4.3h0m1.3-2.7h0m1-1.6h0m.6 4.2h0m.2-1.5h0m1.5 1.9h0m2.6-.5h0m5.7-1.3h0m.8 1.4h0m3.8-2.7h0m.1 3h0m2.1-2.8h0m.7 2.4h0m4 0h0m2.3-.6h0m2.1 .8h0m3.3-.3h0m4.4-.2h0m2.2-4.1h0m1.8 .8h0m.7 2.1h0m2.1-.8h0m1.5-1.7h0m.1 4.1h0m1.8-3.4h0m2.1 .7h0m2.6 2.3h0m-52.2 2h0m1.7 .1h0m.3 4h0m3.2 1.4h0m.8-3.6h0m.2 2.2h0m1.7-2.1h0m.5 2.4h0m2.5-4.3h0m1.9 .3h0m1.1 1.4h0m1.7 1.8h0m.5-.9h0m1.6 1.4h0m.3-3.5h0m1.1 1.1h0m1.4 .4h0m3.3 .7h0m3.1-2.9h0m1.8 4.7h0m.5-4h0m.8 1.9h0m.9-1.8h0m2.2-.7h0m2.2 .8h0m.6 3.7h0m.5-2.2h0m1 2.1h0m.5-4.3h0m2.6 3.9h0m1.9-4.4h0m2.5 .9h0m6.7-.8h0m-55.2 6.6h0m.5 1.4h0m1.4-1h0m2.1 3.5h0m26.8-1.6h0m1.5-.5h0m6.2-1.7h0m.8 1.9h0m2.1 .1h0m1.5-1.8h0m1.9-.9h0m-38.8 10.5h0m1.5-4h0m1.8 5.1h0m.3-5.2h0m.8 3.7h0m2.1-.3h0m3.8 0h0m9.5 .1h0m2.8 1.7h0m-28.3 .4h0" stroke="#e0e0e0" stroke-width="2.3" stroke-linecap="round" fill="none"/>
<path d="M31.8 596.5h0m24.3 .2h0m7-.5h0m13.2-.5h0m30-.1h0m14.9 .7h0m-93.2 1.3h0m23.5 2h0m11.9 .4h0m10.2 2.1h0m3.1-2.3h0m3.4-2.2h0m2 .6h0m30 1.6h0m1.1 1.6h0m8.5-1.5h0m1-1.4h0m12.1 1.7h0m-112 7.2h0m21.7 .8h0m15.7-2h0m0 1.5h0m14.5-4.1h0m29.6 2.4h0m3.3 2h0m1-2.2h0m2.8 0h0m11.3 0h0m-87.5 3.9h0m4.9 1.4h0m12.6 3h0m10.2-2.3h0m23.4-2.4h0m17 2.2h0m11.9 .1h0m.7-2.3h0m6.8 3.9h0m5-1.8h0m3.6 2.4h0m.7-3.8h0m1.3 3.4h0m-104.1 6.5h0m3.2-2.8h0m19.4 2.5h0m4.9-4.5h0m27 3.7h0m13.3-2.8h0m9-.4h0m1.1 1.3h0m10.2 1.8h0m.2-3.1h0m.4 2.2h0m6.8-.8h0m1.3 1.8h0m2.9-1.4h0m1.7-2.3h0m3.7 1.8h0m-113.6 6.5h0m11.4-1.5h0m5.3-.8h0m3.6 .7h0m5.2-.1h0m1.1 1.9h0m1.3-2.4h0m4.2 3.4h0m1-1.6h0m16.7 1.9h0m12 0h0m8.1-3.4h0m6.8 3.2h0m7.8 1.9h0m1.8-1h0m.8-2h0m6.3 1.8h0m2.7 1.5h0m1.1-2h0m3.1 .8h0m2.2-1.1h0m-102.4 4.7h0m.1 3.5h0m2.6-.4h0m5.8-5.2h0m2-.1h0m1.3 1.4h0m.6 2.1h0m13.6-3.5h0m6.4 2.3h0m5.4 1.2h0m4.8-3.6h0m14.4 2.4h0m2.7-2.5h0m13.9 4.3h0m6.3-.2h0m2-2.5h0m5.4 2.6h0m1.7 0h0m1.1 1.4h0m2.1-3.2h0m2.3-.6h0m-94.2 8.7h0m6-2.6h0m24.1-.1h0m1.5-1.6h0m4.7 0h0m2.8 2.3h0m7.7-.5h0m.3-1.6h0m6.1 5.5h0m18.5-2h0m3.8-1.7h0m5.2 3.3h0m.9-1.9h0m4.2-3.6h0m3 5.3h0m12.1-2.8h0m-78.8 7.3h0m.1-1.9h0m3.1-.7h0m.6 2.7h0m2.1 .5h0m2.8-1.1h0m1.2 2.7h0m29.2-.8h0m19.8-3.7h0m6.6 .7h0m3.8-2.1h0m-88.8 6h0m4.4 3.3h0m5.9-1.2h0m8.7-.6h0m2.3 .5h0m10.1-2h0m12.6 5.1h0m22.4 .4h0m16.8-2h0m-83.9 6.1h0m19-2.3h0m1.3 2.5h0m41.3-2.9h0m18.5-.9h0m3.8 5.4h0m-83.9 6.2h0m.4-2.4h0m1.9 2.1h0m2.7-2.3h0m8.8-.4h0m34.4-2.6h0m23.1 1.8h0m6.4 2h0m.5 1.8h0m.9-2.5h0m1.1 2.2h0m7-3.4h0m-88.3 5.1h0m15.4 .6h0m6.8 3.1h0m37.8 .8h0m4.7-.9h0m5-3.9h0m1.5-.1h0m1.9 1.1h0m4.3 1.8h0m.7 1.9h0m3-4.5h0m3.1 2h0m3.3-2.4h0m-89.6 7h0m58.9 4h0m13.8-4h0m2.6 3.5h0m0-1.5h0m1.8-1.9h0m1.8-.9h0m-34.5 10.2h0m14-.5h0m3.4-3.4h0m6.7 2.3h0m-67.4 7.7h0m20-.2h0m17.9-.7h0m3.1-1.6h0m5.7 2.3h0m4.6-.7h0m2.7 1h0m2.1-2.3h0m-57.3 6h0m1.8-1.7h0m2.7 .9h0m2.4 .1h0m1.3 2.1h0m9.8 0h0m8.4-3.1h0m2.3 3.8h0m6.7 .2h0m9.9-2.9h0m3.9 2.1h0m4.6-4h0m-44.5 10h0m2-3.8h0m4.1 5.2h0m16.8-4.7h0m2.6 3.4h0m2.4 1.4h0m.2-4h0m1.6 2.7h0m1.9-.2h0m1.9 0h0m1.3-2.5h0m-44 7h0m1.6 1.9h0m.2-4.5h0m2.3 0h0m.7 2.4h0m7.5-1.9h0m1.5 1.9h0m8.8 3.2h0m1.7-1.9h0m3.1-2.2h0m5.7 2.5h0m.8-2h0m1.1-2.1h0m.9 3.9h0m.9-2.4h0m-18.2 4.4h0" stroke="#f8c4b6" stroke-width="2.3" stroke-linecap="round" fill="none"/>
<path d="M117.5 596.4h0m-63.3 4h0m8.1-2.4h0m30.9 3.7h0m5-.1h0m15.7-3.1h0m7.1 3.4h0m2.6-2.4h0m2.7-.1h0m4.1 .8h0m-108.3 3.2h0m27.1 4.6h0m11.2-3.9h0m7.6-.7h0m9 4.1h0m4.6 .6h0m4.1-4.5h0m16 3.5h0m13.5 .5h0m2.2-.2h0m.5-1h0m3.2 1.3h0m4.5-3.6h0m3.2-.8h0m8.5 5h0m-104 3.9h0m9.5-.9h0m59.3-2.2h0m4.3 4.9h0m1.5-1.8h0m1.3 1.9h0m1.4-2.7h0m1-2h0m8.5 4.8h0m.5-4.6h0m1.7 .5h0m4.3 .1h0m.4 3.7h0m2.3 .1h0m.9-2.8h0m4.3 .1h0m3.8-2.1h0m1.8 .7h0m-110.2 6.1h0m10-.4h0m33.6 1.5h0m5.4 2.7h0m14.8-1.8h0m9.6-2.3h0m16.3 4.1h0m2.9-2.3h0m2.4 3.4h0m.8-5.8h0m2 2.5h0m.2-2.4h0m3.5 2.6h0m-99.9 6.1h0m3.1-2.6h0m2.3 3.9h0m31.1-1.9h0m3.7 .5h0m2-1h0m2.2-1.4h0m1.5 .3h0m8.6 3.1h0m7.6 .1h0m3.4-1h0m3.6-.4h0m1.2 3.2h0m1.5-2.9h0m1.6 1.6h0m9.5 1.4h0m2.8-3h0m2.1-.3h0m1.9-.4h0m1.9-1.2h0m-96.9 10.6h0m12.4-.7h0m4.6 1h0m1.4-1.6h0m2.6-.3h0m7.3 .7h0m19.5-1.1h0m16.5-3.5h0m17.6 .8h0m.5 1.2h0m3.8-1.8h0m5.1 4.3h0m1-2.1h0m4.9-2.1h0m1 2.4h0m-104.7 5h0m28.8-1.1h0m1.8 3.2h0m.9-3.5h0m1.5 3.3h0m2.2 .1h0m45.6 0h0m9.3 .8h0m8.3-1.1h0m.4-2.9h0m.7 1.4h0m-99.3 8.1h0m3.2-3.9h0m.4 1.7h0m18.1 4h0m48.3-1.8h0m8.2 2h0m9.3-3.6h0m5.6 1.5h0m1.7-.5h0m-94.2 3.8h0m1.5 .6h0m3.3-.5h0m18.1 3h0m.3-4.2h0m3.7 1.2h0m1.8 .3h0m45.3-.5h0m2.9 2.7h0m1.5-2.2h0m9.8 2h0m-87.5 3.6h0m9.6 .8h0m32.6 1.8h0m12.2-1.9h0m18 3.3h0m9.7-2h0m2.6 .8h0m5.8 1.7h0m-70.7 6h0m22.2-4.1h0m17.2 3.3h0m11.3-1h0m1.7-.4h0m6.2 1.5h0m1.3-3h0m4.7 3.7h0m2.1-.7h0m2.3 .8h0m1.9-2.4h0m-90.4 7.6h0m14.1-2h0m16.4 .7h0m4.9 1.1h0m2.2-3.1h0m25.3 2.9h0m6.3 .5h0m3.8-2.5h0m3-1.8h0m6.5 4.1h0m.2-3.9h0m-80.7 8.6h0m62.6-.1h0m1.6-2h0m2.8-.9h0m.1 4.6h0m.9-2.1h0m-49.9 7.9h0m35.7-4h0m3.3 2.1h0m2.6 .3h0m1.4-2.6h0m4.9 1.5h0m-65.9 6.7h0m7.3 .1h0m3 1.9h0m1.8 .2h0m27.8-.5h0m.5-1.4h0m11.5-.7h0m4.9-.2h0m.9-2h0m2.2 .1h0m-62.5 10.1h0m9.5-3.4h0m5.7 1.3h0m3.6-1.9h0m4.5 .1h0m7.3 2.1h0m5.2-.2h0m.1 3.3h0m.8-1h0m6.4-4h0m1.9 4.2h0m3.2-2.5h0m1.7 1.8h0m.3-4.2h0m-51 10.3h0m8.5-2.4h0m4 .5h0m18.5 3.3h0m3.8-3h0m5.4-2.8h0m7.4 .2h0m-39 7.8h0m3.3 0h0m2.4 1.7h0m1-.9h0m.9 2.7h0m3.1-1.1h0m5-1.8h0m3.6 1.6h0m1.4-1.6h0m.8 1.2h0m3.2-3.2h0m5 2h0m-36 3.5h0m3.9 0h0m7.9 0h0m10.7 .4h0m6.2-.6h0" stroke="#fa9880" stroke-width="2.3" stroke-linecap="round" fill="none"/>
<path d="M59.6 598.5h0m34.8 1.1h0m35.2 2h0m-65.7 3.6h0m61.7 2.7h0m9.6 .3h0m-76.3 3h0m8.2 .1h0m9.6 .1h0m23.5-1.9h0m-68.9 9.5h0m23 0h0m15.9 .8h0m30.5-2.7h0m11.9 2.1h0m7.8-1.2h0m8.5 1.9h0m4.1-4.6h0m-103.1 7.5h0m4.2 3.8h0m15.9-3h0m45.9-2.2h0m13.3 4.2h0m5.3-2.6h0m4.2-1.9h0m5.5 2.4h0m2.4 0h0m-64.6 9.1h0m52.6-1.7h0m-86.7 5.6h0m76.6 .8h0m8.4-1.8h0m8-2.2h0m-73 7.2h0m-3 10.1h0m.6-1.7h0m38.3-.6h0m24.1-1.8h0m-52.3 4.6h0m4.3 5.5h0m2.4 .2h0m39.8 .1h0m-75.8 3.9h0m5.4 1.6h0m13-.4h0m59.2-3.1h0m-53.8 10.9h0m31.2 3.9h0m1.8 .3h0m4.1 0h0m5.7-1.8h0m7.9-2.1h0m-40.6 6.3h0m-38.1 9.5h0m33.1-1.7h0m15.7-.8h0m7.7-1.4h0m-55.5 7.9h0m10-2.7h0m.9 2.2h0m.3 2.3h0m24.4-1.9h0m-32.7 5.6h0m1.6 2.5h0m7.1-2.5h0m1.7 2.4h0m2.4-4.1h0m21.3 5h0m-18.9 4.5h0m-16.7 2.1h0" stroke="#fc6244" stroke-width="2.3" stroke-linecap="round" fill="none"/>
<path d="M35.8 595.6h0m-4.9 2.7h0m88.9-.1h0m-95.5 9.3h0m37.8-1.5h0m4.8 1.2h0m42.9 .4h0m-19 6.4h0m18.1-3.9h0m9.2-.8h0m-28.1 9.7h0m7.6-1h0m17.1 .9h0m-88.6 5.8h0m4.7-3.4h0m14.4 2.3h0m52.3-2h0m12.6 2h0m.5 3.2h0m16.8-5.6h0m1 2h0m-90.2 4h0m61.9 1.8h0m19.5-1.7h0m1 2.2h0m-94 9.5h0m16.6-3.4h0m2.6-2.1h0m-5.7 8.9h0m1.9-1.4h0m50.9-.2h0m5.9-1.6h0m5.2 3.3h0m1.3-3.4h0m-72.2 10h0m71.1 11.6h0m1.9-2.5h0m.7 2.8h0m1.7-2.3h0m6.3 .1h0m-75.2 4.8h0m48.8 4.2h0m7.5 0h0m-1.4 2.8h0m-9.4 7.1h0m-46.2 5.9h0m28.8-2h0m7 .3h0m3.8 3.6h0m-54.3 5.7h0m38.7-1.6h0m-36 3.7h0m24.8 4.1h0m2.6-3.8h0m1.7 4.1h0m-32.8 4.9h0m4.6 .6h0m24.6-2.2h0" stroke="#ff2c0c" stroke-width="2.3" stroke-linecap="round" fill="none"/>
</g>
<rect x="22.5" y="598.3" width="137.9" height="105.8" fill="none" stroke="#111" stroke-width="1.9"/>
<text x="26.5" y="613.8" font-size="16" font-style="italic" fill="#111">Lgals1</text>
<text x="154.4" y="697.9" font-size="16" font-weight="bold" fill="#111" text-anchor="end">WT</text>
<clipPath id="uc2"><rect x="167.1" y="598.3" width="138.1" height="105.8"/></clipPath>
<g clip-path="url(#uc2)">
<path d="M165.4 595.6h0m1.3 0h0m9.5 .2h0m2.3 .8h0m2.2-.3h0m2.7-.5h0m1.9-.2h0m4.3 .5h0m2.8-.3h0m1.4 .4h0m2.8-.1h0m1.8-.1h0m3 .1h0m2.2-.5h0m4.4 .6h0m1.3-.3h0m2.8 .6h0m2.4 .2h0m2.4-.5h0m3.6-.1h0m2.4 .2h0m2.1 .3h0m2.5-.9h0m2.3-.2h0m5.2 0h0m1.3 .2h0m3.1 .6h0m1.6-.5h0m6.5 .6h0m5.1-.8h0m2.7-.2h0m1.4 1h0m2.5 .1h0m2.1-.9h0m4.4 .3h0m2.5 .3h0m1.8-.3h0m3.4-.3h0m4.2 .8h0m-112.5 3.8h0m.5-2.7h0m.5 4.8h0m.4-2.6h0m1.9 2.2h0m.5-2.1h0m1.3 2.6h0m.7-4.9h0m.2 2.4h0m1.6-2.4h0m.1 4.1h0m.7-1.3h0m1.9 2h0m.1-4.2h0m.7 2.3h0m.5-2.2h0m.8 4.2h0m.6-2.6h0m1.2-2.1h0m.4 4.4h0m1.2-1.5h0m.4-2.7h0m1 3.5h0m.9-.9h0m2.2-.2h0m.9-2.5h0m.4 4.1h0m1.3-1.6h0m1 1.9h0m0-4.4h0m.1 2h0m2.2 1.8h0m.6-1.3h0m.9 1.1h0m.2-3h0m1.1 1.5h0m1.4 2h0m.1-4.2h0m1.1 2.3h0m.9-1.9h0m.3 3.4h0m1.3-1.4h0m.3 1.2h0m0-2.9h0m1.2 1.9h0m1.4-2.6h0m.5 3.7h0m.8-.9h0m.3 1.6h0m.8-4.7h0m.7 1.9h0m.9 3.1h0m.7-4.9h0m1.1 2.8h0m.5-2.8h0m2.3-.1h0m1.3 2.5h0m.8-1.3h0m2.2-.8h0m2.2 .2h0m1 3.3h0m1-1.3h0m.5 2.4h0m.2-4.2h0m.7 1.2h0m1.1 2.8h0m.1-3.7h0m1.3 1.9h0m.8-2h0m.6 3.3h0m1.7-.2h0m.7-3.7h0m1.3 1.8h0m2.2 0h0m1.6 .3h0m1.4 2h0m1-2.3h0m1 2.6h0m.6-4.2h0m.6 1.7h0m.8 2h0m1.1-3.8h0m.8 2.2h0m1.1-1.7h0m1.2 1.1h0m.5 2.8h0m.5-3.9h0m1.3 1.6h0m1.1 2.5h0m1-2.2h0m.9 2.2h0m.6-2.5h0m2.1 2.5h0m2.7-3.1h0m1.1 2.8h0m.5-4.4h0m1.6 4.2h0m.3-4.5h0m1.7 2.6h0m.3-2.2h0m.6 3.6h0m1.4-1.8h0m1.1 2.5h0m.9-2.4h0m.5 2.1h0m.8-3.9h0m.8 2.3h0m.5 1.6h0m0-4.3h0m2 2.1h0m.8 2.2h0m.4-4.4h0m1 2h0m.5-1.7h0m.3 3.8h0m1.9 .7h0m.6-4.6h0m2 .6h0m.4 3h0m.3-1.4h0m1 2.2h0m.1-4.4h0m1.2 2.3h0m3-.3h0m.8 1.7h0m-116 6.3h0m.1-3.9h0m.6 1.8h0m2.3-2.2h0m0 4.1h0m.1-1.6h0m2-2.1h0m1 1.5h0m1-1.8h0m.3 4h0m1-1.3h0m.2 1.6h0m.9-4.3h0m1.1 2.4h0m2.3 .4h0m1 2h0m0-5.1h0m2.2 4.8h0m.2-4.4h0m1.5 .3h0m.5 4h0m.8-1.6h0m.7-2.4h0m.2 3.4h0m1.5-1.5h0m.7-1.9h0m.1 4h0m1.2-2.2h0m1.9-1.5h0m.9 1.7h0m.9 2.4h0m.2-4.5h0m1.4 1.4h0m.9-1.8h0m.1 4.7h0m1.1-2.1h0m1.1-1.8h0m.2 4.1h0m.5-3h0m1-1.7h0m.8 4.4h0m.2-2.7h0m.9 2.3h0m.4-3.6h0m1.2 2h0m.6-2h0m.5 3.7h0m1.2-2h0m1.4-1.4h0m.6 1.7h0m2.7-.5h0m8.3-1.5h0m.9 1.9h0m.3-2.5h0m.5 4.8h0m2.2-.8h0m.9-1h0m.8 1.9h0m.5-4.6h0m1.4 1.7h0m.6 1.8h0m.1-3.7h0m1.3 1.9h0m1-1.1h0m0 3.9h0m.9-2.8h0m1 1.7h0m.5-3.4h0m1.2 1.8h0m.7-1.9h0m.1 4.5h0m1.2-2h0m1.1-2.6h0m.8 4.1h0m1-1.8h0m.5 1.9h0m.5-3.4h0m1.1 1.5h0m.5 1.4h0m.3-3.1h0m1.2 2h0m1.4 1.5h0m.2-1.6h0m1.1-2.4h0m0 4.8h0m1.9-2.4h0m1.1 1.2h0m0-3.7h0m1.2 2.5h0m1.3-2.1h0m1.4 4.4h0m.3-3.9h0m1.7 .9h0m2.4 2.4h0m.1-4.5h0m2.4 .6h0m.5 3.6h0m1.4-2.1h0m.5 2.7h0m.6-3.9h0m.3 1.8h0m2.9 .4h0m.4-2.3h0m.5 3.9h0m1.6-2.5h0m0-1.6h0m.1 4.3h0m1.4-2.8h0m1.3 1.9h0m.4-4h0m.9 2.2h0m.9-2.2h0m.4 4.9h0m.6-2.8h0m.9 2.4h0m1.4-1.4h0m.8 .9h0m.2-3.6h0m1.6 2.6h0m.4 1.8h0m.4-4.7h0m1.6 2.4h0m.6-1.6h0m.4 3.3h0m1-2.2h0m.5-1.5h0m1.1 3.5h0m.1-1.9h0m2.2 3h0m-119.5 3.8h0m.9 1.8h0m1.3-2.5h0m.4 1.7h0m.5-3h0m.8 1.8h0m1-2.3h0m.6 4.6h0m1.5-2.8h0m.2 2.7h0m.1-4.1h0m2 1.5h0m.7-2.1h0m.9 2.3h0m.9-2.5h0m.1 5h0m.8-2.5h0m2.1-.2h0m1.8 2.4h0m.9 1h0m.7-3.7h0m.9-.9h0m.1 3.5h0m.4-2.7h0m2-1.7h0m1 1.6h0m.2 2.5h0m1.9-1.5h0m.4 1.6h0m.1-4.3h0m1.9 2.4h0m.5-1.6h0m.3 3h0m1.4-1h0m1-2h0m.3 3.4h0m1.2-2.4h0m1.9 .4h0m.2-1.5h0m.1 3.8h0m1.1-1.5h0m1.3-2.5h0m.3 3.6h0m1.2-1.7h0m1.2-1.7h0m.2 3.4h0m1.4-2h0m.1 2.8h0m1-4.2h0m.4 1.6h0m1.3 1.4h0m10.4 1.9h0m.1-3.4h0m.9-1.8h0m.5 3.6h0m.7-1.9h0m.8-1.3h0m0 4h0m1.3-2.7h0m1.6-1.4h0m1 2.2h0m.4 1.1h0m.4-3.1h0m1.6 .9h0m.1 2.9h0m.3-4.8h0m.7 2.1h0m1.2-1.9h0m.9 4.4h0m1.6 .3h0m.5-4.6h0m1.5 2.7h0m1-2.1h0m.1 3.5h0m1-2h0m.6 1.6h0m.3-3.9h0m.3 2.4h0m1.1-2.4h0m.6 4.3h0m1.1-1.8h0m.6 1.3h0m.8-3.4h0m1.5 1.6h0m.2-1.2h0m.7 3.8h0m1-2.3h0m.6 1.8h0m.5-3.8h0m.9 1.6h0m.6-1.7h0m0 3.5h0m2.1-1.4h0m.8 2h0m.2-4h0m.3 2h0m1.9-2.5h0m0 4.5h0m1.2-2.5h0m.5-1.2h0m2-.2h0m1.1 3.8h0m1.9-4.2h0m.4 4.4h0m.1-2.2h0m.3 3.4h0m1.2-5.7h0m.6 5h0m.2-3.1h0m1.2-2h0m.5 4h0m1.5-1.9h0m.5-1.3h0m.9 2.3h0m1-2.4h0m.9 4.2h0m.6-2.9h0m1.1-1.3h0m.1 3.7h0m1.2-2h0m.5 2h0m.9-4.2h0m1.2 .7h0m1.6 1.3h0m.9-1.6h0m.5 4.3h0m.5-2.2h0m1.1 1.6h0m.8-3.9h0m.3 2.2h0m-115.8 5.6h0m1.3-2.1h0m.5 4.4h0m1.5-1.6h0m.1-2.8h0m.2 4.8h0m1.1-2.1h0m.9-2.4h0m1 4.3h0m.7-1.7h0m1 1.2h0m.2-3.6h0m1.4 1.9h0m.7 2.1h0m.1-4h0m.9 1.7h0m1.2-1.3h0m.9 .9h0m.9-1.2h0m.1 3.7h0m1.6-2.2h0m.5 2.3h0m1.1-2.7h0m1.5-1.2h0m.4 4.2h0m2.4-1h0m2.4-3.6h0m1.1 1.6h0m.1 4h0m.1-5.8h0m.5 4.3h0m.8-1.8h0m.8-2.4h0m.2 3.8h0m2 .6h0m.4-3.5h0m2.2 3h0m1.8-1.5h0m.4-1.6h0m.3 3h0m.7-1.1h0m1.2 1.6h0m.8-3.4h0m1.3 1.8h0m.1 1.5h0m.4-4h0m.6 2.5h0m1.3-1.8h0m1.8 1.7h0m1-2.5h0m.8 2h0m.9 1.9h0m1.8-2h0m1 2.2h0m1-1.9h0m.7 1.5h0m1-1.5h0m.6 3.5h0m1.6-.2h0m.3-2.7h0m1.8 1.5h0m.5-2.5h0m.4 3.8h0m.6-4.8h0m.6 2.9h0m.3 1.8h0m.2-3.7h0m1.9 2.7h0m0-4.3h0m1.2 1.8h0m1-1.9h0m2.9 1.9h0m.7 2.3h0m.4-3.8h0m1.6 2.3h0m1.3 1.9h0m.4-2.6h0m1.4 2.3h0m1.6-1.9h0m.2-1.7h0m.5 3.7h0m1.1-2.5h0m.7-1.4h0m.5 3.5h0m1.4-1.4h0m.6 1.7h0m.1-3.8h0m1.7 1.6h0m.3-1.6h0m.4 3.7h0m.9-2.3h0m.6 2.5h0m.1-4.3h0m2.1 1.8h0m.1-2.1h0m.4 4.6h0m2.5-.6h0m.1-4h0m.4 2.9h0m.2 2.7h0m1.6-5.3h0m.3 4.2h0m.6-2.5h0m1.9 .4h0m1.3-1.9h0m.2 3.5h0m2.3-.4h0m1.7-1.3h0m1-2.2h0m0 4.6h0m.5-2.5h0m.2 3.6h0m1.3-5.4h0m.3 4.2h0m.2-2.8h0m1.1 3.1h0m1.1-4.4h0m.1 1.5h0m1.5-1.9h0m.4 4.3h0m1-2.7h0m1.4 1.2h0m1.3-2.4h0m2.1 2.1h0m.4-2.1h0m1.1 1.9h0m1.1-2.1h0m-114.9 11.4h0m.7-3.1h0m2.3 .1h0m.7-2.1h0m.5 3.7h0m.7-2.2h0m.8-1.4h0m.1 3.9h0m1 .9h0m.6-3.6h0m.3-1.5h0m.9 3.5h0m1.2-2.3h0m1.2 2.8h0m.2 1.3h0m0-3.3h0m1.1 1.5h0m.1-3.6h0m2.3-.5h0m.4 4.4h0m1.5 1.2h0m0-3.8h0m1-.8h0m1.3 1.2h0m.9 1.6h0m.2-2.8h0m.3 1.4h0m.9 1.4h0m.4-3.4h0m1.2 5.2h0m.6-2.8h0m.9-2.4h0m.2 2.2h0m1.1 3.1h0m.1-2h0m1.2 2.1h0m.7-3.8h0m.4 2.2h0m.8-3.7h0m1.1 2.4h0m1.3-2h0m1.2 1.6h0m.8 1.2h0m.5-1.1h0m.8 3h0m.8-4.9h0m.2 3.7h0m.8-1.9h0m.7-2.4h0m.8 4.7h0m.6-2.9h0m.5 3.7h0m.2-5.6h0m.9 4.6h0m.9-2.8h0m1.1 2.6h0m1.6-2.1h0m.1 3.4h0m.2-5.4h0m.8 3.7h0m.6 1.9h0m1.2-1.5h0m1 1.4h0m.6-3.9h0m1-1.9h0m.8 2.8h0m.5 1.5h0m2.3-1.8h0m.8 1.8h0m2.5 .5h0m.8-1.9h0m.5 1.1h0m.9-2.1h0m1.8 1.9h0m2.9 2.1h0m.8-4h0m.4 2h0m.8-3.6h0m.6 2h0m.8-2.2h0m2 1.8h0m.5-.9h0m.4 3.2h0m.9-1.6h0m1.6 2.3h0m.1-4.5h0m.7 1.7h0m.9 1.7h0m.6-3.6h0m.6 2.7h0m.4 3h0m.8-5.2h0m.3 4h0m.3-2.1h0m1.7 1.2h0m.2-3.3h0m1.4 2.3h0m.2 1.9h0m0-4.7h0m2.1 2.3h0m.8 1.9h0m1.3-3.5h0m1.3 5.3h0m.5-3.9h0m1 2.2h0m.7-2.3h0m1.5 1.9h0m1.6-1.4h0m.3-2h0m1.1 1.9h0m1.2 2.2h0m.1-4.5h0m1.2 2.1h0m1.2 1.8h0m1.2-1.5h0m.6 3.3h0m.9-5.2h0m0 4.2h0m.2 1.2h0m.9-3.1h0m.4 .8h0m1.3-1.9h0m1.5-1.1h0m.1 3.8h0m.7-1.6h0m.8 2.8h0m1.5-3.3h0m.7 3.6h0m.3-2h0m.9-1.7h0m1.3-1.8h0m2.9-.5h0m-110.8 11.6h0m2-1.1h0m.5-2h0m.1 3.1h0m1.1-1h0m1.3-2.5h0m.6 1.8h0m.9-1.3h0m1.3 1.1h0m.6-3.3h0m.4 2.3h0m.7 2.8h0m1-1.5h0m1.6-2.4h0m.6 2.1h0m.6-3.2h0m.2 1.1h0m2 1.2h0m.8 3h0m.3-5.4h0m0 4.3h0m1.6 1.2h0m.8-1.4h0m1.2 1.5h0m1.3-2.3h0m1.6-1h0m.5 .9h0m2-.9h0m.5 1.2h0m1.3-2.1h0m.8-1.8h0m1.9 2.5h0m.3-2.1h0m1.1 1.6h0m4.7-.3h0m.5 3.9h0m1.3-3.7h0m1.3-1.2h0m.9 3.9h0m.3-2.9h0m1.4 2.9h0m.8-2.1h0m1.7 1.7h0m1.1-1.7h0m1.2 1.9h0m.9 1.1h0m.4-2.8h0m.3-2h0m.9 1.8h0m1.9 2h0m.1-3.9h0m1.2 2.1h0m.3 1.9h0m.6-3.8h0m.8 1.4h0m1.3 1.8h0m.2-3.8h0m.5 1.5h0m.9 4h0m.2-2.1h0m1-.9h0m1.4-2.4h0m.8 5.5h0m0-1h0m.1-2.1h0m1.8 1h0m1.6-3.7h0m0 2.5h0m.4 1.4h0m1-2h0m.5 3.9h0m.3-1.5h0m.3-3.8h0m.9 5.4h0m.4-3.6h0m.8-1.6h0m1.8 5.1h0m.1-3.8h0m.4 2.4h0m1.1-2.4h0m1.2 2.5h0m1.5-1.8h0m.7 .8h0m1.8-.9h0m.6-2.6h0m.3 3.9h0m1.1 1.9h0m.5-5.4h0m.8 3.5h0m.4 1.9h0m1.5-2.1h0m.3-3.6h0m1.1 1.6h0m1.8 .3h0m1.9 2.3h0m.6-1.6h0m1.3-2.3h0m.5 3.9h0m.8-2.7h0m1.1 2.5h0m.3 1.4h0m.8-3.2h0m.6 2h0m.9-1.7h0m.5 2.9h0m1.4-1.6h0m.7-1.4h0m.6 3h0m.2-1h0m1.3 1h0m.9-4.7h0m1.9 .8h0m1.4 2h0m.9-1.4h0m-105.4 9.7h0m.1-4.3h0m1.6 2.7h0m1.3-2.6h0m1.1 2.4h0m.3 1.4h0m.4-3.1h0m1.4 1.8h0m.1-4h0m.3 1.9h0m1.2 3.7h0m.8-1.9h0m.4 1.4h0m.6-3.9h0m1.4 2.6h0m.8-2.3h0m1.6 0h0m.3 4.2h0m1.1-1.9h0m.2-3.7h0m.6 5.5h0m1-3.8h0m.3 2h0m1.7-2.3h0m.5 2.2h0m1.2 2h0m.7-3.8h0m1 2.1h0m1.1-2.2h0m1.2 1.9h0m.3-3.3h0m1.3 3.2h0m.3-3.3h0m.7 1.4h0m13-1.8h0m7.4 2.4h0m1.4 1.2h0m.8 2.1h0m.9-4.1h0m.5-1.5h0m.4 3.7h0m1.3-1.7h0m1.1-1.7h0m1.2 1.5h0m.6-1.4h0m0 4h0m.8 .9h0m2-.9h0m.4 .7h0m1-1.5h0m.9-3.6h0m.4 2h0m.7 2h0m.1 1.3h0m1.2-3.6h0m.6 3.8h0m.9-1.6h0m.4-3.6h0m.9 1h0m1.1 2.2h0m2-.3h0m1.4-1h0m1.2 1.4h0m.9-1.6h0m.7 3.7h0m3.3-2.2h0m.3-1.6h0m1.2-1.6h0m.2 3.5h0m1.1-1.9h0m.5 3.9h0m1.6-.7h0m1.3-.9h0m.7-2.7h0m.8 3.8h0m.8-1.5h0m1.4-1.8h0m.9-1.6h0m.4 3.9h0m.2 .8h0m.2-3.7h0m1.1-1.2h0m.5 3h0m1.3-1.2h0m.4 1.3h0m.4-2.9h0m1.4 1.4h0m1.3 2.6h0m.4-2.9h0m1.3 2.7h0m.5-1.9h0m2.2 1.6h0m.6 1.3h0m.6-3.5h0m.8 2.4h0m1.1-2h0m.3-2.2h0m-102.2 10.1h0m1.4 1.4h0m1-2.3h0m.9-1.2h0m.6 3.3h0m1.8-.2h0m.3-3.5h0m1.3 1.8h0m.7-1.7h0m0 3.4h0m1.7-.8h0m.6-2.4h0m.8 3.6h0m.4-5.1h0m1.6 .9h0m1 2.5h0m1 1.7h0m2 .3h0m.4-4.1h0m.6 1.8h0m1.5-1.1h0m.4 3.3h0m1.2-1.7h0m1 1.8h0m.9-5.4h0m.4 3.2h0m.4 2.3h0m.8-2.1h0m.3-3.8h0m6.8 3.7h0m3.2-2.3h0m7.2 .6h0m4.6 .1h0m.6-1.7h0m1 1.9h0m.7 3.5h0m3.7-1.9h0m0-2.3h0m1.7 1.9h0m.3-3.4h0m.9 1.6h0m.2 3.5h0m.5-1.4h0m1.2-1.4h0m1.1 .8h0m.9-1.4h0m1.1 3.6h0m2.9-1.3h0m.8 1.1h0m.1-2.9h0m1.4 1.2h0m.1-3.4h0m.4 2h0m1 1.8h0m.9-3.8h0m.5 1.6h0m.7 3.8h0m.3-1.7h0m2.5 .3h0m1.2-2.9h0m.7 4.6h0m.6-2.4h0m1.2-1.8h0m.8 1.7h0m1.9 2.3h0m.4-1.6h0m.7-2.3h0m1.9 1.4h0m2.8-1.5h0m1.5 1.6h0m1.3-1.6h0m.5 1.5h0m1.2 2.6h0m1.4-2.3h0m.7-1.6h0m1.1 3.3h0m.6-1.6h0m0-3.1h0m.6 5.1h0m.7-4h0m.7-1.5h0m1.8 2.4h0m-96 4.8h0m.2 4.6h0m.9-2h0m.8-2.1h0m.1 3.9h0m.7-2.4h0m1.8-2.1h0m1.3 2.7h0m.9 1.9h0m.2-3.8h0m1.2 1.2h0m.4 2.5h0m.4-4.3h0m.9 2.2h0m3-.3h0m1.3 .6h0m1.3-1.7h0m.4 3.7h0m.8-2.4h0m1.4 1.7h0m0-3.9h0m1.4 2.2h0m.2 2.1h0m2.2-2.3h0m.9 2.2h0m.2-2h0m1.6 2.3h0m2.9-2.2h0m3.9 1.6h0m1.1-1.4h0m4.2-.2h0m4.8 .2h0m3.2-1.7h0m4.2-.5h0m1.2 1.6h0m.6-3.2h0m1.6 1.6h0m2.2-.1h0m.5 1.7h0m.9-1.6h0m1.7 2.1h0m.4-1.6h0m1.2 1.6h0m2.7-.1h0m1-2h0m.2 3.6h0m.9-1h0m.6 1.5h0m.9-3.7h0m.9 1.7h0m.9-1.6h0m3.3-2h0m.2 3h0m1.7-1.2h0m.9 2h0m.7-2.4h0m.3 4.3h0m1.1-5.4h0m.9 1.3h0m.5 4.2h0m.9-2.8h0m1 1.9h0m.3-3.8h0m.3 2.4h0m.1-3.6h0m1.1 1.5h0m1.3-1.5h0m.7 3.2h0m.9-1.3h0m1-1.7h0m.3 3.4h0m.1 1.7h0m.6-3.8h0m1.4 2.5h0m.2-3.7h0m.2 4.7h0m.1-3h0m1.2 1.2h0m.9-.9h0m-90 6.6h0m1.5 2.7h0m.6-1.6h0m0-1.9h0m1.2 3.7h0m.9-3.9h0m.4 1.6h0m.7-3.4h0m.4 1.3h0m.6 4.4h0m.9-2.7h0m.8 2.3h0m1.6-2.3h0m.8 2.2h0m0-3.9h0m1.4-1.2h0m0 3.1h0m.9-1.7h0m.7 4.3h0m.9-2.9h0m.4-1.3h0m.3 3.2h0m2.2 .1h0m.5-3.8h0m.2 2h0m2.1-2.3h0m.6 2.4h0m.8 2.4h0m.9-3.9h0m1.1 1.9h0m1.3-.6h0m8.3-1.2h0m.8 1.6h0m7 .3h0m12.5-2.6h0m.8-1.2h0m.5 3.1h0m1.1 1.9h0m.3-3.2h0m.3-1.8h0m2.1 2.1h0m1.6-.1h0m4.6-.9h0m1.3 2.4h0m2.4-3.5h0m2.4 .1h0m2.7 1.1h0m.4 4.2h0m.3-1.7h0m2.1-1.8h0m.5 1.3h0m1.2 1.7h0m.8-3.9h0m.2 2.9h0m1-2.1h0m.4 3.1h0m1.5-1.2h0m.8 1.4h0m1.6-2h0m.8-1.1h0m.4 3.1h0m3.2-1.6h0m.9 2.1h0m2.6-.5h0m-92.1 2.1h0m1 4h0m.4-1.3h0m1.7-2.2h0m1 1.7h0m.6 1.8h0m.5-3.7h0m.7 2.4h0m1.5 1.5h0m.2-3.5h0m.3 2h0m.9-3h0m.4 4.4h0m1.7-1.5h0m.5 1.3h0m.1-3.1h0m2.8-.9h0m.2 4.8h0m1-2.2h0m3.1-1.8h0m1-1.9h0m5 4h0m9.9 1.4h0m1.6-.3h0m1.1-1.6h0m1.3 2.4h0m1.8-4.4h0m.1 3.8h0m2.2-1.4h0m3 .9h0m.4-3.3h0m.1 1.4h0m24.4 2.7h0m.3-2.1h0m1.5 1.2h0m.5-3.6h0m.3 2h0m1 2.4h0m.8-4.6h0m1.4-.9h0m0 3.1h0m.1 2.4h0m1.2-1.6h0m1.5-2.5h0m.3 4.4h0m1.3-2.4h0m.2 2.4h0m.9-4.6h0m.8 2.8h0m1.3-2.9h0m.3 1.8h0m0 1.9h0m1.8-4h0m.3 4.4h0m2-4.2h0m.3 4.4h0m.9-2.3h0m.7-1.2h0m0 3.9h0m1.2-2.8h0m1.4-2.1h0m1.4 2.6h0m.4-2.5h0m-94.1 8h0m.4 2.5h0m.4-4.5h0m.9 2.4h0m1.1 1.9h0m.4-4.2h0m1.2 2.2h0m.6-1.7h0m.2 3.6h0m1.2-2.1h0m1.2-2.4h0m.6 4.4h0m.5-2.1h0m1.4 2.1h0m.5-4.1h0m.6 1.9h0m.6-1.3h0m2.5-.7h0m16.3 .2h0m1.9 4h0m.7-4.3h0m.8 2.1h0m1.2-1.7h0m.6 1.8h0m.6-1.2h0m2.2 1.5h0m.3-1.9h0m25.7 4.3h0m1.6-4h0m.5 3.1h0m.9-1.3h0m1-2.5h0m.4 4.6h0m1.3-2.8h0m.7-1.7h0m.3 3.5h0m.6-1.9h0m.8 2.2h0m.8-4.1h0m1.2 4h0m.1-1.2h0m.2-2.8h0m1.9 2.7h0m.3 1.1h0m.1-3.7h0m1.3 2.2h0m.8-1.7h0m.7 3.7h0m1-1.7h0m2.3-.6h0m2.5 .6h0m3.5-1.8h0m-90.1 9.4h0m1.1-4.4h0m.6 2.7h0m.6-1.8h0m.5 3.4h0m2-.3h0m.1-3.7h0m1.9-.1h0m2.5 .5h0m11.2 3.3h0m4.8-.2h0m2.7 1.1h0m1.7-.9h0m5.2-3.7h0m19.7 4h0m1-1.6h0m1.8 2.1h0m.6-2.9h0m1.3 2.6h0m1.6-4.4h0m1.1 4.7h0m.6-2.9h0m.9-1.3h0m.2 4.2h0m.6-2.9h0m1.2 3.1h0m.4-4.8h0m2 .7h0m.8 3h0m.7-1.7h0m.6-1.4h0m2.1 1.8h0m.6-2.3h0m.5 2.4h0m1.9-2.6h0m.3 4.1h0m1.2-3.6h0m2.1 2h0m.3-2.2h0m2.5 .3h0m-81 7.5h0m1.6 2.6h0m0-5h0m.9 1.9h0m.6 2.3h0m3-4.2h0m4.7 2.9h0m1.9 1.9h0m8.5-4.7h0m22.8 4.6h0m2.1-.1h0m3 .1h0m1.1-2.7h0m2.6-2h0m.9 2.5h0m1 2.3h0m.5-4h0m.6 1.8h0m1.9-1.6h0m.2 3.3h0m.9-1.9h0m.5-1.7h0m1.5 1.7h0m.7 1.7h0m1.2-3h0m1.5 3.9h0m.5-3.9h0m.3 1.5h0m1.7 1.7h0m.6-1.7h0m1.4-1.5h0m.9 1.2h0m1.2-2.2h0m-71.1 6h0m.6 3.6h0m.5-.9h0m1.5-2.4h0m1.4 1.5h0m1.4-2h0m.3 2.8h0m2 0h0m.1-2.6h0m1.8 4.2h0m1.3-2.1h0m1.2 2.2h0m1.2-2.3h0m1 2.1h0m.3-1.7h0m1.6 1.5h0m1.4-1.7h0m5.5 2.4h0m2.4 0h0m1.3-.5h0m4.9-.1h0m2.7 .6h0m1.4-1.8h0m1.1 1.5h0m1.1-2.2h0m.3 2.7h0m1.8-3.1h0m.3-1h0m.6 3.1h0m.4-2h0m1.5-1.3h0m.3 3.1h0m.6-1.8h0m1.5 2.5h0m.6-3.9h0m.5 1.8h0m.9 2.2h0m1.8-2.7h0m.5-1.3h0m.8 4h0m.8-1.6h0m.5 1.3h0m.7-3.7h0m.9 1.3h0m.6 2.1h0m.7-3h0m1.4 1.9h0m.3-1.9h0m.9 3h0m.6-1.6h0m1.3-1.7h0m.6 1.7h0m.9-2h0m2.4 .7h0m-62.6 6.6h0m.6-1.4h0m1 4.1h0m.5-1.7h0m.8-2.3h0m.5 4.3h0m.8-2.2h0m2.1-.4h0m1.1-2.3h0m5.1 1.1h0m.1 3.9h0m2.9-2.1h0m1.7-3h0m1.3 2.4h0m.4 2.3h0m.7-3.7h0m1.9 4.1h0m1.3-2.3h0m.7 1.1h0m.9-1.8h0m2.4 .9h0m3.1 1h0m2.5-3.3h0m.3 4.2h0m1.6-2.7h0m.8-1.9h0m.4 3.7h0m1.2-1.9h0m1.1-2.1h0m0 2.9h0m1.4 1.7h0m.3-3.4h0m2 3h0m2-4.2h0m.8 4h0m.7-.9h0m1-2.9h0m.8 3.8h0m.7-1.4h0m1.2-2.3h0m.3 3.9h0m1-1.6h0m.2-2.3h0m.4 3.8h0m1.2-1.8h0m1-1.9h0m.7 1.7h0m1.2-1.2h0m-54.2 9.4h0m2 .5h0m1.1-1.9h0m5.2 1.6h0m5.2-4.3h0m3.2 1.7h0m.7 3.1h0m.6-4.1h0m1.7 0h0m1.3 .9h0m1.4-1.1h0m.2 3h0m1-1.3h0m.7-2.1h0m1.2 1.7h0m.6-1.2h0m.5 3.3h0m.7-1.4h0m2.6-.4h0m.8-2.3h0m.8 4.9h0m.1 1.1h0m.2-3.7h0m2 1.7h0m.3-1.9h0m.9-1.4h0m1.2 1.6h0m2-1.8h0m.1 4.2h0m1.2-2.6h0m.1-1.3h0m.7 3.8h0m1.5-2.2h0m.1 1.8h0m.5-3.9h0m.7 2h0m1.9-1.2h0m.2 1.3h0m-45.7 6.2h0m.8-1.9h0m7.7-.6h0m4.8 5.8h0m2.2-.2h0m4.1-5h0m.4 1.1h0m2 2.8h0m1.2-.7h0m1.8-1.3h0m2.6-2.1h0m.1 1.5h0m3 1.6h0m.2-1h0m.1-2.4h0m1.4 3.6h0m1 2.2h0m.8-3.7h0m1 1.5h0m.4-1.6h0m.9 2.3h0m.9-3.9h0m.8 1.8h0m-20.2 4.1h0m1.7 .3h0m3.3-.1h0m5.9 0h0" stroke="#e0e0e0" stroke-width="2.3" stroke-linecap="round" fill="none"/>
<path d="M214 599.6h0m14.6-1.2h0m11.2 3.4h0m38.5-3.5h0m-36.8 5.7h0m20.3 3.5h0m-6 6.1h0m-90.5 5.5h0m30.5-1.8h0m13.7 2.1h0m9.1-.1h0m-29.7 6.3h0m6.6-.9h0m30.9-3.3h0m4.8 3.8h0m17.5-1.5h0m22.5-2.6h0m-63 11.8h0m41.3-.2h0m-71.9 .6h0m57.5 5.1h0m3.5-5.2h0m-58.9 7.2h0m34.5 2.6h0m32.3-2.5h0m-28.3 8.3h0m28.5 4.2h0m-41.9 7.6h0m46.7-3.6h0m-52 11.5h0m27.7-.1h0m-2.6 3.5h0m10.1 1.7h0m1.7-.2h0m-9.1 4.8h0m-57.9 7.7h0m43.3-3.7h0m-42.2 5.6h0m4.6-.3h0m3.4 1.5h0m.8-1.7h0m2.9 4.8h0m2.5-2.2h0m6.4-2.6h0m1.7 4.2h0m-28.4 2.2h0m3.9 5.3h0m1.8-3.5h0m.3 3.4h0m1.8-5.7h0m2.2 5.8h0m.8-3.9h0m2.7 2.7h0m10.7 .9h0m11.2 .3h0m-35.1 5.7h0m3.7-1.9h0m1.5-2h0m1.3 4.2h0m.7-3.3h0m.9 1.4h0m1.8-.5h0m.9-1.5h0m1.8 2.4h0m1.7-.2h0m.3-3.7h0m4 3.1h0m7.4-2.8h0m.8 4.9h0" stroke="#f8c4b6" stroke-width="2.3" stroke-linecap="round" fill="none"/>
<path d="M205.1 595.9h0m38.1 .6h0m-67.3 11.2h0m29.8 .1h0m44.1-2.4h0m3.4 1.9h0m2.7-1.8h0m-58.2 4h0m85.7-.1h0m-96.6 7.9h0m1.8-.4h0m39.3 2.3h0m29.2-4.1h0m3.4 2.5h0m-94.1 3.5h0m52.1 2.4h0m7.4-.5h0m23.6 2.4h0m-34.8 6.2h0m42.3-3.8h0m2-.1h0m6.4 1h0m-88.5 7.9h0m12.6-2h0m21 2.7h0m6 1.7h0m24.9-.1h0m3.9-3.8h0m5.6 3.3h0m-81 4.9h0m11.1-.6h0m58.5-3.6h0m-14 7h0m.3 4.5h0m11.1 .1h0m2.8-2.4h0m12.1 11.9h0m-63.9 4.2h0m52.1 8.2h0m-72.6 12.8h0m15.7 .6h0m1.6-.1h0m-14.2 6h0m2.8 1h0m2.2-1.2h0m.2-1.9h0m12.3-2h0m5.4-.4h0m3.3 2.6h0m10.8 0h0m-41.4 5.4h0m3.2-1.9h0m.5 4.2h0m1.4-.7h0m1.1-1.6h0m3.8-1.4h0m.3 3.2h0m1.2-2.3h0m1.9 .2h0m1 1.8h0m4.2 .8h0m13.3-3.9h0m13.7 0h0m-41.9 10.9h0m7.6-4.9h0m.6 2h0m8-2.5h0m4.3 4h0m14-4.2h0m-31 6.1h0" stroke="#fa9880" stroke-width="2.3" stroke-linecap="round" fill="none"/>
<path d="M174.1 596.6h0m12.9-1.1h0m-3.1 2.7h0m76.3 .3h0m-70.6 9.6h0m63.5-4h0m-71.6 5.3h0m75.1 1.7h0m-92.1 4.5h0m92.8 4.2h0m-81.9 2h0m-9.7 7.3h0m1.6-2h0m16.6 1.5h0m39.8 5.8h0m-40.9 4.8h0m34.3 4.9h0m16.8 4.4h0m.5-1.4h0m6.5 11.6h0m-25.7 17.5h0m-28.6 11.2h0m8.6 .6h0m-27.7 5.7h0m12.8 .3h0m-13.4 10.7h0m.1-3.6h0m3 1.9h0m13.4-1.2h0m4.1-.9h0m2.4 3.7h0m2.8-2h0m-17.2 3.1h0" stroke="#fc6244" stroke-width="2.3" stroke-linecap="round" fill="none"/>
<path d="M275.2 596.1h0m-1.7 3.5h0m-75.9 13.8h0m72.5 12.3h0m-89 5.2h0m70.9 33.4h0m-46.4 25.2h0m-24.4 9.3h0m19.5-.8h0m-20.7 3.8h0" stroke="#ff2c0c" stroke-width="2.3" stroke-linecap="round" fill="none"/>
</g>
<rect x="167.1" y="598.3" width="138.1" height="105.8" fill="none" stroke="#111" stroke-width="1.9"/>
<text x="302.2" y="697.9" font-size="16" font-weight="bold" fill="#111" text-anchor="end">Trem2<tspan dy="-5.8" font-size="9.6">ko</tspan></text>
<clipPath id="uc3"><rect x="328.3" y="599.6" width="138.1" height="105.1"/></clipPath>
<g clip-path="url(#uc3)">
<path d="M343.6 596.9h0m22.8 .1h0m44.6 0h0m19.1 0h0m-104 4.6h0m2.6 .1h0m.9-2.5h0m.4 2h0m3.2 0h0m1.3-1.6h0m.7 1.3h0m.2-3.4h0m4.4-.4h0m.4 2.4h0m1.2 1.9h0m.7-3.9h0m3.7 1.5h0m1.1 2.7h0m.6-2h0m1.6 0h0m1.2 1.1h0m2.2 .5h0m4.6-3.4h0m2.1-.2h0m1.9 1.6h0m1.3-1.4h0m1.9 3.3h0m2.8-1.7h0m1.9 2.2h0m.3-2h0m1.5 1.6h0m3.1 0h0m.3-1.9h0m4 2.1h0m.1-3.8h0m.8 2h0m.8-2.1h0m1.6 1.2h0m.5-1.7h0m.8 3.6h0m1.2-1.3h0m2.1-.1h0m4 3.3h0m1.1-1.9h0m1.8 .9h0m4.7-.8h0m.3-3.2h0m.9 1.1h0m2.9 .9h0m1.2-2.3h0m2.6 2.3h0m1.1 1.3h0m.9-3.7h0m.4 1.6h0m1.8 2.5h0m1.4 .3h0m2.5-.3h0m.6-1.5h0m1.7-2h0m.7 1.8h0m3.2 1.7h0m.1-1.4h0m.3-2.7h0m.9 1.8h0m1.1-1.3h0m2.2 1.8h0m.9 1.6h0m1.3-1.9h0m2.5 1.8h0m2.1-3.4h0m2.8 .1h0m.4 3.1h0m3.7-3.5h0m.2 4.3h0m3.5 1.2h0m-116.3 2.1h0m.3 3.9h0m1.8-4h0m1.1 3.7h0m.8-5.2h0m.4 3.8h0m.3-1.7h0m3.6-1.9h0m.5 4.1h0m1.6-3.8h0m.1 3.2h0m.6-2.2h0m2.2-1.4h0m1 1.8h0m1.1-1.7h0m2.1 .1h0m.2 4.1h0m1.8-.6h0m2.1-3.3h0m.7 2.7h0m.2-1.8h0m2.1 2.9h0m.6-2.5h0m.8 1.6h0m2.6-3.5h0m1.3 5.2h0m1.1-5h0m1.4 4.3h0m1.9-3h0m.9 2.9h0m3.2-2.8h0m3.3 2.8h0m.9-4.2h0m.5 2.1h0m1.9-.8h0m2.2 2.9h0m0-3h0m.9 4.2h0m.2-5.1h0m1.1 2h0m3.2 2.9h0m1.9-3h0m.5 3.3h0m.1-2.4h0m2.5 .5h0m1.6 1.8h0m.5-1.2h0m.9-3.8h0m.7 1.5h0m.8 2.1h0m2.1-.8h0m1.7-1.7h0m1.8 3.7h0m0-4.1h0m.9 2.5h0m.3-3.4h0m1.8 1.9h0m.6-1.8h0m.8 1.1h0m1.5 2.7h0m2.6-1h0m.1-1.1h0m1.7-1.7h0m.1 3.6h0m1.2 1.1h0m.4-3.3h0m.3 1.6h0m2.3-3h0m2.2-.2h0m.7 3.6h0m.4 1.9h0m1.4-2.3h0m.4-3.6h0m1.3 .6h0m.1 1.5h0m1.2 3.3h0m0-3.3h0m2-2.2h0m.2 1.6h0m.6 3.9h0m.5-1.3h0m1.9 1.5h0m.4-1.6h0m1.6-1.5h0m1.7-2.1h0m2.5 1.3h0m.2 3.7h0m1.3-5.2h0m1.4 2h0m.1 3.6h0m.1-2.4h0m3.5-1.4h0m1.6-1.7h0m1.2 2h0m1.4 2.2h0m1.2 .8h0m.7-1.4h0m3.5-1.3h0m.2 3h0m.6-1.7h0m1.5 1.9h0m-115.8 2.3h0m2-.8h0m.9 2.2h0m1.3 2h0m1.5-1.2h0m4.6-4h0m.2 5h0m3.9-1.2h0m.1-4h0m1.2 2h0m1.9 0h0m1.2 1.7h0m.6-1.3h0m3-.7h0m.4 2.6h0m.4-4.5h0m3.8 1.9h0m.3 2.5h0m1.4-2.8h0m5.4-1.5h0m1.6 2.5h0m1.2 1.1h0m.2-3.6h0m1.7 4.4h0m.4-4.2h0m.7 1.9h0m1.3-2h0m2.7 3.7h0m1.1-2.1h0m1.9 .7h0m1.7 1.2h0m.6 1.9h0m.5-4.2h0m1.5 4.4h0m.5-3.9h0m.4 1.5h0m2.8 .6h0m1.7-.4h0m.3-3.4h0m2.4 4h0m.6-3.8h0m.2 5.1h0m.9-5.4h0m0 1.5h0m3.4 4.1h0m.1-1.4h0m2.2-.3h0m3.3 1.7h0m.6-1.2h0m.6-4.1h0m1.6 3.9h0m.5-4.2h0m.6 2.1h0m2.1 3.2h0m.9-2.1h0m1-3.2h0m.1 2h0m1.4-2h0m.8 1.3h0m1.8 3h0m.6 1.5h0m.5-4.4h0m1.5-.9h0m1.1 3.5h0m1.7-1.7h0m.3 3.4h0m2.4-3.8h0m.7 1.6h0m2.1-3.5h0m.2 3.9h0m1.4 1.7h0m.6-5h0m6.4-.6h0m.3 4.4h0m2.9-4.1h0m.8 1.6h0m.2 3.7h0m.3-2.1h0m1.6 1.8h0m2.9-3.7h0m.1 1.6h0m1-1.2h0m1.9 1.6h0m3.4-2.2h0m-121.1 10.5h0m1.5-2.4h0m.9-1.2h0m1.9 .8h0m2-2.8h0m.6 1.4h0m1.9 1.4h0m.5-2h0m2.5 1h0m2.9 1.2h0m1.8-2.1h0m2.7 1.2h0m.2 .7h0m.9-.8h0m.8 3.6h0m.3-2.6h0m2.7-3.1h0m2.8 1h0m3.3 .9h0m.4 1.1h0m.5-2.8h0m1.7-.3h0m1.7 1.7h0m.1 4.1h0m.5-1.6h0m1.1-2h0m3.1 .9h0m2.7 1h0m.3-4.1h0m1.5 2h0m1.2 2.1h0m.4-2h0m1.5 1.9h0m2.7-2.3h0m0 4h0m2.4-3.8h0m2.6-.7h0m2.3 .6h0m.3 3.9h0m.3-1.8h0m1.5-2.1h0m0 3.6h0m1.4-5.4h0m1.1 5.1h0m.9-4.9h0m3.9 4.9h0m.6-5h0m.5 4h0m1.7-.5h0m.9-2.3h0m1.1 2.8h0m0-4.2h0m1.4 2.2h0m2 3.5h0m.2-3.4h0m1.4 1.9h0m.5 1.5h0m2.1-2.4h0m1.3 .9h0m1.4 1.3h0m1.6-1.7h0m2.2-.6h0m2.3 .3h0m4.2-.1h0m4.1 .5h0m1.1-1.8h0m4.3 2h0m.2 1.4h0m.8-3.2h0m1.7-.5h0m1.9 4.1h0m.9-3.9h0m.8 1.1h0m2.1 .1h0m2.5 .3h0m1 2.2h0m.3-4.3h0m2 0h0m1.6-1h0m-115.9 9.7h0m1.3-.9h0m1.3 2h0m.4-3.4h0m.6-1.8h0m1.7 5.8h0m2-4.8h0m.5 4.2h0m.4-5h0m2.3-.2h0m3 5.7h0m.9-4.6h0m2.2-.1h0m3.4 2.2h0m.6-1.6h0m.7 3.9h0m1.5-.4h0m2-4h0m.9 4.5h0m.4-5.5h0m1.2 2.1h0m2-2h0m.9 .9h0m.7 2.3h0m.6 1.7h0m1.4-2h0m1.7-1.8h0m5.1 2.6h0m1 1.3h0m2.7-3.5h0m.5 3.9h0m.5-2.5h0m1.5-1.7h0m.1 4.1h0m.3-1.5h0m1.3 .9h0m.7-1.3h0m2.5 .2h0m1.5-2.4h0m1.4 2.1h0m.9 2.1h0m1.6-1.5h0m.4 1h0m1.2-1.8h0m1 2.2h0m2-2h0m.1-1.3h0m3.1-.7h0m8-.2h0m.2 4.2h0m2.5-3.4h0m1.3 1.9h0m1.1-2.1h0m1.1 1.5h0m4.7-3.3h0m.5 5.6h0m.6-4h0m1.1 1.8h0m1.4 2.3h0m.6-2.4h0m.8-2h0m.6 4.1h0m1.1-1.4h0m2.9-1.9h0m.2 3h0m1.4-1.8h0m.8-1.2h0m2.7-.2h0m.7 1.2h0m.2-3.1h0m.7 1.1h0m1.6 2.2h0m1.5-2.3h0m.1-1.1h0m.7 4h0m.8-2.6h0m1.5 2.6h0m1.3 1.2h0m-106.3 3.7h0m2 .9h0m1 1.6h0m2.2-4.4h0m1.1 4.1h0m.1-2.3h0m1.1 2.4h0m.2-3.5h0m1.2 1.1h0m1-1.7h0m.3 4.2h0m1.4-1.8h0m.8 1.6h0m3.5-1.5h0m1.3 2.3h0m1.5-4.3h0m1.1 3.7h0m1.5-.1h0m.7-3.5h0m3.2 1.8h0m3.3-2.6h0m2.1 .2h0m2.5 3.7h0m1-1.9h0m2.6 1h0m1.2-.9h0m1.6-1.5h0m1.9 3.6h0m1.9-1.4h0m3-2.3h0m.2 4.4h0m1.5 0h0m2.3-3.9h0m.7 2.8h0m1.8-3.2h0m1.1 1.7h0m4.1 1.6h0m.7-1.2h0m1.6-1.7h0m1.7 3.4h0m.6-3.9h0m1.6-.3h0m1.3 2.8h0m2.1-3.8h0m1.2 1.7h0m5.8 2.2h0m.8 1.6h0m1.8-.2h0m.7-4h0m2 4.4h0m.5-3.8h0m1.6 3.7h0m1.8-2.3h0m1-1.4h0m.5 1h0m2.4 .2h0m1 2.1h0m2.9-3.9h0m1.5 0h0m2.2-.6h0m.7 4.9h0m2.2-4h0m1 1.3h0m2.4 .7h0m1.6-.2h0m-103.6 3.1h0m0 2.1h0m4.3 .1h0m.8-1.4h0m2.5 0h0m.3 3.2h0m3.7 .1h0m.6-3.1h0m2-.4h0m1.3 1.6h0m.3-1.9h0m0 4.2h0m2.6-3.3h0m.7 2.9h0m3.5-3.7h0m.8 4.3h0m2.3-4.2h0m5.3-1.2h0m1.3 1.6h0m6.2 3.1h0m3.8-1.4h0m1.1 1.5h0m2.1-3h0m.4 3.2h0m2.3 .7h0m2.3-1h0m.5-1.7h0m5.1 .8h0m.7-2.6h0m.3 3.8h0m.6-1.7h0m1.9 2.3h0m.8-2h0m.5 2.3h0m1.3-2.1h0m1 1.5h0m6.8-4.3h0m.2 4.8h0m5.1-.9h0m.9-1.1h0m.3 .9h0m5.6 .5h0m.9-2.4h0m2.4 .6h0m1.7-.5h0m1.8 2.2h0m0-4h0m2.3 3.5h0m0-.8h0m1.7-2.6h0m.8 1.5h0m1-2h0m2.8 .9h0m.5 2.3h0m1.3 1.6h0m.9-3.7h0m.8 1.4h0m1.3-1.5h0m-103 8.8h0m2 1.2h0m2.3-1h0m2.3 .6h0m.6-4h0m2.1 3.9h0m2.6 0h0m.6-1.6h0m1.2 .9h0m1.5-.9h0m.6 1.4h0m4.1-1.9h0m2.2 2.5h0m1.2-2.5h0m1.6-1.9h0m2.5 .3h0m2.6 3.8h0m1-2.2h0m.2-2.1h0m2.3 .4h0m2.7 .3h0m2.1-1.1h0m2.2 5.1h0m1.1-2.2h0m1.8-2.1h0m4.2 3.3h0m.3-3.7h0m1.8-.2h0m1.4 1.8h0m1.9 .6h0m1.1 1.8h0m4.5 .3h0m1.8 .1h0m.3-4.6h0m1.7 2.6h0m1.5 .4h0m.9-2h0m2.5 3.2h0m.1-3.6h0m2.1 3.7h0m.7-3.3h0m2 3.1h0m1.7 .4h0m4.1-2h0m3-2.2h0m1.2 1.6h0m2.9-1.3h0m2 1.7h0m4.6-.2h0m.7 2.8h0m2.6-.3h0m.2-2h0m1.5-1.8h0m-95.1 9.5h0m.9-1.6h0m.5-2h0m3-.5h0m.4 2.4h0m2.7 0h0m1.9-.6h0m1.3 2.5h0m.6-4.3h0m1.1 2.2h0m2.1-.5h0m.7-1.1h0m.8 3.8h0m3.2-1.9h0m1-2.2h0m2.3 3.8h0m.9-2.2h0m.5-2.5h0m2.4 1.2h0m1 2h0m1.4-3h0m1.1 3h0m1.3-2.9h0m.6 4.3h0m2.1-3.5h0m.6 1.5h0m.9 1.5h0m1-2h0m1.2-1.6h0m1 3.6h0m6.4 1h0m.1-4.8h0m2.5 1.8h0m1.9-1.5h0m.9 1.7h0m.8-1.8h0m1.7 1.6h0m.5-1.9h0m.7 4.1h0m.6-1.5h0m1.8 1.7h0m3.5-2.4h0m2.1 .8h0m.4 1.7h0m.3-3.5h0m.5 1.6h0m1.2-2h0m5.4-.2h0m1.3 4.6h0m.8-3.9h0m1.7-.5h0m.3 3.3h0m2.5 .6h0m2.7-2.3h0m3.3 2.8h0m0-2.5h0m2.3-1.5h0m.9 3.9h0m.4-2.4h0m1.9-1.4h0m1.2-.1h0m-90 4.8h0m2.9 2.3h0m4.9-1.4h0m.1 3.5h0m4-1.3h0m.9 1.3h0m2.9-4h0m1.2 2.7h0m1 .9h0m4.5 .6h0m9.1-.4h0m4-3.3h0m.3 3.1h0m3.3-1.3h0m.5-2.5h0m1.5 1.7h0m.6 3.2h0m2.3-4.8h0m4.5 3.8h0m3-3.8h0m1.8 4.6h0m1.1-2.1h0m1.6-2.7h0m.3 2.6h0m1.1-2.7h0m.9 3.9h0m2.5-1.7h0m1.6-1.9h0m.3 3.8h0m1.8 .8h0m.4-4.7h0m2.6 .3h0m2 0h0m.2 4.1h0m1.1-3.9h0m3.3 .1h0m1.2 0h0m2.8 3.1h0m.5-3h0m1.5 3.7h0m2.1 .5h0m1.8-2.8h0m.9 1.7h0m2.6 .5h0m-88.4 4.1h0m1.4-1.8h0m1 1.2h0m1.9-2h0m1.2 0h0m.5 4.1h0m1.2-2.2h0m.6-1.9h0m7.7 .4h0m1 2.5h0m.3-2.2h0m4.7 .2h0m.1 2.9h0m1.6 1.9h0m1.8-3.1h0m.7 2h0m2.6-.3h0m2.5-3.5h0m1.6 2h0m3.3 1.9h0m.1-4h0m.7 1.1h0m4.8 1.9h0m2.1-1.2h0m2.2-.3h0m.8-1.6h0m.2 3.8h0m1.4-2.1h0m.1-1.3h0m5.2-1h0m0 4.8h0m12-2.4h0m1.7 1.9h0m.2-3.3h0m1.2 1.4h0m5.2 2.1h0m2.5 0h0m1.5-3.8h0m1.3 2.2h0m3.4-2.3h0m2.7-.6h0m2 4.2h0m1.6-3.9h0m.3 4h0m1.8-2.3h0m1.6 .8h0m-92.5 7.5h0m3.7-2.4h0m.8-1.2h0m11.4 3.3h0m4.4-1.5h0m1.2 .3h0m1.1 .9h0m3.1-3h0m.7 1.7h0m.8-2.4h0m3.2 5.6h0m.4-2.9h0m3.6 1.4h0m.5-3.8h0m2.2-.6h0m2.8 2.4h0m3.5 2h0m.4-4.2h0m2 0h0m15.2 3.9h0m2-1.1h0m2.2-2.8h0m.9 4.8h0m4.3-.2h0m2-.1h0m.2-3.5h0m2.5-.1h0m2.4-.8h0m.9 2.1h0m1.2 2.6h0m1.9-4.4h0m2.2 4.1h0m1.3-1.9h0m2.3-.3h0m3.7-2.1h0m-89.8 5.7h0m4.3 5.7h0m.6-5.6h0m1.3 2.3h0m0 3.3h0m.6-5.3h0m.7 4.5h0m2.3-4.3h0m1.2 1.4h0m.1-2.1h0m3.2 .6h0m3.9 0h0m3.8 1.6h0m2.9-2h0m.1 4.3h0m2.4-4h0m.3 3.7h0m1.1-1.6h0m.3 3.2h0m2.5-5.6h0m2.3 4.7h0m2.6-1.1h0m14.2 1.9h0m2-.8h0m1 .9h0m.8-1.8h0m2.3-3.7h0m1.6 2.4h0m1.4-.6h0m1.3-1.1h0m.8 1.7h0m4.3 1.8h0m1.2-4.3h0m.6 4.4h0m4.2-.1h0m.2-4.1h0m1.2 1.4h0m2 .7h0m1.7 1.8h0m2.8-2.2h0m1.2-2h0m-76.9 8.7h0m.5 2.7h0m.7-1.2h0m2.2-.3h0m9.2-3.8h0m7.5 3.6h0m.1 1.8h0m1.9-2h0m3-1.9h0m1.4-1.1h0m.6 4h0m1.4-.7h0m4.3 .7h0m5.2-1h0m4.4 1.2h0m1.4-4.7h0m1.2 4.6h0m5.1-2.3h0m.5 3.3h0m1-1.7h0m2.6-1.1h0m.9 1.7h0m3.1-3.7h0m0 3.1h0m.3 1.8h0m2.3-5.3h0m.2 1.4h0m1.1 2h0m2-1.1h0m.8-2.8h0m1.4 .8h0m-64 5.7h0m7.9 3.8h0m.3 1.4h0m1.9-1.7h0m.9-2.2h0m.7-1.1h0m.9 4.7h0m4.3-3.8h0m2.7 .6h0m2.8 2.2h0m1.2-2.9h0m1.1 2h0m2.2-1h0m.2 .9h0m.9-3h0m.7 1.4h0m1.1-1.1h0m4.1 3.5h0m5.3-.6h0m2.8-1h0m1.8-.1h0m.5 3.3h0m1-5.5h0m4.7 0h0m.7 1.5h0m1.2 2.2h0m-58.2 4.1h0m1.3 1.3h0m.1-2.8h0m9.4 1.2h0m4.8 3.7h0m1.9-1.4h0m2.6-2.8h0m2.6 .1h0m1.9 .5h0m6.9 3.5h0m2.4 .3h0m.5-5.5h0m.7 4.3h0m2.2-1.2h0m5.5 2.5h0m2.6-3.4h0m1 2.1h0m1.7-4.2h0m.9 1.8h0m-49.9 9.7h0m5.5-2.4h0m2 .7h0m10.9-.4h0m2.8-.3h0m.6-1.9h0m3.2 0h0m2.5 1.8h0m1-3.2h0m3 1.8h0m.4 2.1h0m2-2.4h0m3.3 2h0m.4 2.1h0m5.4-3.3h0m-39.9 5.5h0m.1 3.1h0m1.9 .4h0m5.2-.4h0m4 .5h0m2.2-3.5h0m1.9 1.6h0m1.5 .5h0m9.7-3h0m3.3 3.8h0m.2-1h0m2.3-.1h0m-28.6 3.5h0m8.4 .1h0m18.1-.2h0" stroke="#e0e0e0" stroke-width="2.3" stroke-linecap="round" fill="none"/>
<path d="M345.9 596.9h0m-18.5 5.7h0m4.1-3.4h0m1.2-1.8h0m10.5 2h0m5 1.5h0m.4-3.1h0m2-.1h0m6.4 1.1h0m2.5 2.8h0m3.3 1.3h0m2.9-4.1h0m12.8 4.1h0m1.7-1.9h0m3 1.9h0m4.8 0h0m.6-2.2h0m2.7-3.4h0m1.6 1.5h0m1.8 1.1h0m6.3 2.7h0m3.9-5.5h0m.8 5.9h0m4-5.7h0m11.4 5.3h0m7.2-3.5h0m5 .4h0m6.4 3.1h0m-107.8 4h0m1.1-1.1h0m1.7-.3h0m6.6 .3h0m3-.1h0m2.4 3.3h0m3.4-5.7h0m7.3 5.6h0m.4-3.9h0m.8-1.3h0m4.7 3.4h0m6.4 .5h0m.5-3.7h0m4.8 3h0m.8 2.1h0m.6-2h0m33-1.2h0m8.1 1.1h0m2.6-1.6h0m3.3 2.5h0m3.2-1h0m2.4 .1h0m1.3-3h0m2 1.1h0m6.5 .4h0m-113 8.4h0m7.6-2h0m2.6 3.1h0m.9-5.6h0m.2 3.4h0m1.5-1.6h0m1.5 1.6h0m2.4 1.9h0m5.1 .6h0m3.4-2.5h0m2.7-1h0m5.9-1.8h0m4.7 3.9h0m5.6 1.4h0m2.4-3.5h0m8.2 1.6h0m3.4-2.3h0m10.4 .1h0m4-1.2h0m6.3 3.6h0m3.5 1.8h0m1.3-2.7h0m5.8 2.6h0m6.2-3.7h0m4.3 3.7h0m1.3-1.9h0m1.3-2.3h0m2.8 3.7h0m1.4-3.1h0m1.5 1h0m3.9-1.9h0m2.3-1.4h0m-112.5 11.1h0m8.4-1.1h0m21.1-2.5h0m1.1 2.5h0m5.4 0h0m7.6 1.8h0m2.1 .2h0m12.8-4.1h0m4.8 .4h0m2-.9h0m5 4.5h0m18.5-3.9h0m1.3-.4h0m1.3-1.3h0m.6 3.6h0m1 1.4h0m2.6-2h0m5.3-3.2h0m1.8 3.4h0m3.1 1.7h0m-103.5 4.5h0m7.7-.5h0m.8 2.7h0m0-4.2h0m6.5-.1h0m4.1 2.5h0m3.6-.4h0m8.8 .1h0m1.3 1.6h0m.5-4.2h0m1 2.2h0m11.8 1.6h0m1.2-3.3h0m15.5 3.5h0m2.7-1h0m4.7-.6h0m5.3 2.1h0m1-4.4h0m14.7 4.3h0m1.7-2.4h0m-96.8 7.8h0m1.7 .4h0m11.2-3.5h0m6.7 1.4h0m1.2 .5h0m3-.5h0m3.7-2.2h0m1.1 4.9h0m1.6-5.9h0m.1 3.7h0m7.7-2.4h0m2 4.4h0m1.6-2.4h0m3.4-1.7h0m.6 3.9h0m7.8-1.6h0m10.7-.8h0m3.3 2h0m.5-3.9h0m1 1.8h0m5.2-2h0m9.6 .2h0m3.4 .8h0m2.9-.2h0m.9 1.1h0m8.2 2.7h0m2.6 0h0m-100.4 5.6h0m7.3-1.7h0m3-.2h0m9.1 .2h0m.3 2.2h0m5.7-2.3h0m1.4 1.2h0m5.4-2h0m10.4-1.2h0m.6 2.2h0m11 1.9h0m8.3-3.6h0m7.8 1.8h0m1.3-2.2h0m.3 3.6h0m6.9-3.9h0m4.6 .4h0m1.7-.6h0m4.6 .2h0m-86 6.5h0m2.7 1.1h0m6.2-1.1h0m3.7-1.1h0m.5 5h0m2.7-.1h0m3.6-1.1h0m3.5-1h0m1.5-2h0m6.5 4h0m3.3-2.5h0m6.3-1.6h0m8.3 .1h0m2.3 4h0m2.7-4.2h0m.3 2.3h0m5.7 1.2h0m2.1-1.3h0m3.9 .2h0m.8-2.3h0m4.5 3.9h0m.6-3.7h0m1.6-.4h0m4.4 3.9h0m1.6-2.3h0m8-2.1h0m-89.5 10h0m2.3-1.6h0m5 2.1h0m18.3-.1h0m2.1 .1h0m3-2.2h0m1.6 1.9h0m6.8-3.4h0m.4 1.2h0m.9 2.4h0m4.8-3.9h0m19.8 1.2h0m.4-1.9h0m8.8 2.3h0m3.3 1.9h0m5.3-1.5h0m4.1 .3h0m-85.2 3.7h0m.6 2.3h0m1.7-2.8h0m9.3 3.8h0m1.4-3.2h0m2.9-1h0m.2 5h0m.8-2.5h0m3.5 1.6h0m.8-1.4h0m1.1-1.9h0m2.2 .4h0m3.3 .8h0m4.5 .7h0m4 1.7h0m6.4-.3h0m3.5-1.2h0m2.6-.6h0m.2-1.3h0m3 3.9h0m9.4-2h0m2.7 .3h0m2.1-.6h0m4.7-.4h0m2.4 0h0m2.6-1.4h0m-76.7 9.1h0m1.1-.9h0m12.7-.6h0m4.6-.3h0m3.3-1.8h0m2.2 2.6h0m9.8-2.3h0m1.9 .5h0m1.6 .9h0m10-1.8h0m6-.2h0m2.5 .3h0m2.5 0h0m1.5-.2h0m4.7-.2h0m1.4 1.9h0m1-1.9h0m13.6 4h0m1.4-1.5h0m.6-1.4h0m8 1.4h0m-77.3 6.1h0m7 0h0m4.2-.1h0m1.3 2.1h0m3.7-1.9h0m3.4 1.6h0m2.2 0h0m3.4-1.7h0m20.7-2.5h0m3.8 2.2h0m2.6 .5h0m.4-2h0m3.1 1.6h0m2.7-.3h0m3.5-1.9h0m3.8 2.3h0m.1-2.3h0m5.7 2.5h0m-87.9 7.9h0m3.2-.3h0m.6-1.9h0m7.8 1.3h0m1.9-1.6h0m1 1.4h0m9.1 .3h0m3.3 1.8h0m.1-3.4h0m2.4 1.4h0m1.8-1.6h0m4.1 .2h0m1.5-1.9h0m10.8 4.1h0m8.6-2h0m.2 1.6h0m2 1.7h0m3-1.3h0m2.4 .2h0m1.9-4.8h0m4.4 4.5h0m4.5-.7h0m.5-3.1h0m1.8-.6h0m-73.4 9.6h0m22.2-1.9h0m1.8 .8h0m1.3 1.4h0m3.5-1.7h0m.6-1.8h0m10.9 4.2h0m3.7-2.2h0m4.5 0h0m4-1.6h0m3.8-.6h0m-60.7 7.2h0m3.6 2.2h0m4.6 .9h0m2.3-4.3h0m.9 1.3h0m17-.8h0m1.4 1.4h0m21.6 2.3h0m3 .9h0m2.2-3.3h0m.6 2h0m-56.5 5.2h0m3.7-2.8h0m8.3 4.7h0m1.9 .2h0m5.5-3.2h0m1.3 3.6h0m1.8-1.3h0m2.2-.6h0m2.4-.7h0m4.2 .1h0m2.5-3.3h0m1.2 2h0m13 .2h0m.3 3.5h0m.8-1.4h0m6.3-4.2h0m-55 9.4h0m2.8 .5h0m.7 1.1h0m1.8-4.9h0m1.1 5.5h0m3-5.5h0m3.7 5.3h0m1.8-3.3h0m4.3 3.2h0m3.4-1.2h0m.6-4h0m.9 5h0m.9-5h0m3.2 5.4h0m1.1-1.3h0m1.4 1.7h0m4.9-.7h0m1.8-3.7h0m2.1-.3h0m1.7 2.3h0m-42.1 5.6h0m1.3 2.3h0m4.1-4.4h0m1.9 2.5h0m.8-1.7h0m1.5 2.1h0m.9-2.7h0m3.3 2.6h0m.7-2.2h0m6.6-.1h0m0 3.7h0m5.1-3.6h0m2.2 3.4h0m1-1.2h0m2.7-.4h0m3.3-2.3h0m-33 6.5h0m6.7 .1h0m4.5-.7h0m13.2 .5h0m5.1 .1h0" stroke="#f8c4b6" stroke-width="2.3" stroke-linecap="round" fill="none"/>
<path d="M370.7 596.9h0m23.2 0h0m19.9 0h0m-87.2 1h0m1.6-.5h0m2-.1h0m5.7 1.6h0m2-1.7h0m.5 2.2h0m1.3 2.2h0m3.9-.7h0m1.9 1.9h0m7.9-5.2h0m1.3 3.5h0m5.7 1.5h0m3.4-3.1h0m2.2 1.2h0m10.6-1h0m8-2.3h0m1.8 3.3h0m2.1-1h0m0-2.3h0m6.9-.1h0m1.4 2.5h0m7.6 1.7h0m6.4-2.3h0m5.4 2.6h0m6.8-.9h0m3.9 .4h0m4.5-.3h0m5 .3h0m.9-1.5h0m-104.4 8.9h0m5.2-1.8h0m2 .3h0m1.1 1.5h0m9.6 .2h0m1-5.4h0m2.8 3.4h0m.7-1.9h0m7.3-.1h0m2.8-1.4h0m.6 2.1h0m12.2-.6h0m2.4-1.8h0m2.2 1.6h0m13 3.8h0m3.2-5h0m9.2 3.8h0m3-1.7h0m8.3-2.7h0m15.3 3.7h0m6.6-1.3h0m-112.7 7.3h0m7.2-1.7h0m6.5 1.4h0m2.9 2.2h0m15.8 0h0m.6-2h0m.1-3.2h0m1 1.7h0m8.5 2.5h0m4.5-.4h0m.8 1.1h0m5.9-4.9h0m3 1.4h0m2.9-.3h0m9.4 2h0m.9-.9h0m2.2-1.1h0m4.5 .9h0m8.1 1.8h0m.9-1.8h0m9.9-.1h0m2 .1h0m3.9-.4h0m2.3 3.7h0m5.7-1.9h0m-110.5 2.5h0m2.3 1h0m3 4.7h0m5.3-1.8h0m1.6-2.4h0m14.2 1.8h0m10.3 2.1h0m1.6-3.3h0m11.2 1.7h0m.8 1.8h0m6-5.6h0m11.6 5.7h0m5.4-5.9h0m3.2 .3h0m1.2 1.2h0m9.2 1.6h0m10.7-1h0m14.3-1.8h0m-107.7 7.4h0m3.6 1.5h0m.4-2.1h0m.1 4.6h0m3.7-2.8h0m3.8 2h0m.2-1.3h0m6.4-2h0m4.3 3.9h0m8-5.6h0m5.3 1.7h0m.5-1.6h0m5.7 1.5h0m7.6 .5h0m1.8-.8h0m2.2 .2h0m1.9 4.2h0m4.3-2.2h0m4.7 1.9h0m4.6-.2h0m2.7-.2h0m5.7-1.9h0m8-1.9h0m12.9 4.5h0m4.8-4.3h0m-109.5 6.1h0m1.5-1.4h0m.8 1.9h0m2.1-.7h0m2 2.3h0m9.1-.6h0m.4 2.3h0m.5-3.9h0m8.2 .3h0m8.9 1.8h0m9.1-2h0m14.2-.2h0m1.7-.1h0m2.2 3.9h0m2-1.7h0m7.2 1.6h0m1.9-3h0m1.4 1.9h0m1.2 1.5h0m20.2-.5h0m12-3.8h0m-102.2 6.9h0m2.3 2.9h0m14.8-3.1h0m2 2.1h0m3.1 1h0m1.6-4.1h0m2 2.1h0m.1-1.8h0m0 4.7h0m2.9-.7h0m3-2h0m1.3-1.5h0m1 2.1h0m.9-2.3h0m1.5 2h0m1.6 2.5h0m6.7-4.4h0m1.2 2.2h0m1-2.2h0m8.6-.6h0m1.8 1h0m13.2 1.2h0m2.9-1.2h0m.9 1.3h0m2.4 .6h0m1.7-2.5h0m1.3 4.5h0m1.6-5.8h0m4.2 3.7h0m4.2 1h0m3.2-1.2h0m.4 2.3h0m-96.9 1.1h0m5.3 2.6h0m3.3-2.5h0m7.9 1.7h0m3.3-2.1h0m5.2 2.1h0m5.6 2.9h0m1.8-1.8h0m2.6-.8h0m5.6-1.8h0m1.6 4.2h0m1-1.6h0m1.9 1.4h0m.1-2.2h0m2.4 .6h0m3.4 1.4h0m.5-4.4h0m6 2.9h0m16.5-1.8h0m.9 1.8h0m14.9-2.4h0m4.1 .2h0m-93.5 5.4h0m13.7 .5h0m6.7 3.7h0m5.2 .6h0m.1-2.2h0m10.4-2.6h0m4.7 3.8h0m1.8-3.9h0m1.8 1.9h0m5.1 2.3h0m12-3.4h0m15.3-.6h0m1.7-.1h0m4.8 .9h0m8.9-.4h0m-93.6 10.2h0m2.6-3.9h0m2 3.3h0m3.2-.3h0m7.7-1h0m13.2-.6h0m5.2-1.5h0m1.2 1.2h0m3.2-2.2h0m.2 4.3h0m9.3-3.4h0m2.8-.6h0m10.6 4.4h0m.4-3.6h0m13 3.9h0m2.5-.6h0m3.4-2.6h0m-79.3 8.1h0m16.1-.2h0m3.9-1.6h0m2.9-2.3h0m14.7 2.6h0m.8 2.3h0m5.1-4.1h0m4.6 3.1h0m7.3-1.2h0m17.2-2.7h0m1.6 2.2h0m2.2 .9h0m2.5-2.3h0m2 2.1h0m6.5-.7h0m2.7 2.8h0m-89.2 2.9h0m2.3 3.8h0m.7-1.6h0m16-4.2h0m.1 3.8h0m8.1-3.6h0m2.5 .1h0m4.2 1.6h0m1.5 .6h0m3 1.3h0m3.6-1.1h0m3.9-1.6h0m20.6 3.9h0m6.3-.4h0m6.6-.8h0m4.6 1.1h0m1.9-5h0m-78.7 8.1h0m1.9 1.7h0m5.5-1.7h0m1.4 .2h0m4.1-1.7h0m1.8-.1h0m1.3 1.7h0m8.1 1.6h0m1-2h0m16.5 3h0m9.4-4h0m.3 3.6h0m4-3.8h0m3.5 2.1h0m2.5-.3h0m-68.3 5.7h0m1.6 .4h0m8 1.4h0m2.8-2.2h0m36.5 .1h0m3.6 1.8h0m4.2 .2h0m3.6-1.4h0m2-.2h0m1 1.7h0m5.4-1.9h0m-70.8 9.5h0m2.7-3.9h0m1.4-1.2h0m2.2 3.8h0m.7-1.9h0m6.3 .3h0m1 2.8h0m5.2-1.8h0m.5-1.2h0m1.5 1.2h0m1.3-1.2h0m1.8 1.8h0m1.1 .2h0m4.4 1.6h0m.3-5.3h0m1 4.8h0m2.1-4.9h0m15.8 3.6h0m3.4-.2h0m2.1-2.2h0m5.6-1h0m-58.5 10.4h0m1.5 .7h0m1.6-1.5h0m2.9 1.2h0m1.1-5.1h0m1.6 .9h0m1.2-1.3h0m.2 3.7h0m1.8-.3h0m3-2h0m1.3-.9h0m6.7-.6h0m2.8 .3h0m1.3 1.8h0m.4 2.1h0m1.5 1.2h0m3.5-1.2h0m19.5-2.8h0m-53.5 6.1h0m2.8 3.7h0m1.2-3.1h0m5.6 3.3h0m3.1-1.4h0m1.1-1.9h0m.4 1.5h0m2 1.7h0m2 0h0m8.2-1.2h0m1.3-1.9h0m1.3-.4h0m5 3.4h0m1.2-1.6h0m3.9 .1h0m6.1-1.9h0m.8-1.6h0m-41.9 10h0m3.8 1.2h0m2.8-1.9h0m1.4-1.7h0m3.5 2.4h0m.7 1h0m2.3-.1h0m3.6-1.8h0m3.5 1.8h0m1.5-1.4h0m1.4-1.9h0m8.2-.5h0m1.4 1.7h0m1.7-1.9h0m1.1-.8h0m-28.3 5.7h0m7.7 1h0m9 .1h0" stroke="#fa9880" stroke-width="2.3" stroke-linecap="round" fill="none"/>
<path d="M331.3 602.9h0m26-1.7h0m4.2-.3h0m10.8-1.2h0m3.7 1.9h0m24.3-4.5h0m17.7 .9h0m.7 3.8h0m17.7-4.7h0m-101.3 11.5h0m11.3-3.1h0m30.7-2.3h0m11.9 2h0m52.5 2.1h0m-103.6 7.5h0m2.2-4.2h0m19.6 2.4h0m14.4 1.7h0m-35.2 5.5h0m15.5-5.1h0m2.6 5.8h0m6.3-5.7h0m3.9 5.1h0m5.6-3.5h0m6.8 3.3h0m9.1-2.9h0m1.9 1.4h0m3.2 1.6h0m18.3-3.2h0m1.3-.2h0m15.2 2.1h0m-101 3.8h0m30.5-.1h0m10.5 1.6h0m23.6-1.8h0m4.5 .3h0m11.9 4.2h0m15.8-.1h0m-70 3.9h0m7.6-2.1h0m2.8 3.5h0m11.4-1.3h0m3-3.7h0m.6 5h0m3.7-1.1h0m8.3 1h0m13.9-2.1h0m2.3 .4h0m6.1 2.1h0m15.2 .6h0m-50.2 4.9h0m-49.7 4.5h0m11.9-1.8h0m18.8 2.9h0m3.2-1.6h0m26 2.6h0m22.6-.4h0m2.4-.5h0m-69.7 4.8h0m4.1-.2h0m.6-2.5h0m23.4 2.7h0m2 2h0m11.3-.7h0m2-.2h0m8-1.9h0m3.8-.2h0m7.9 2.3h0m.3-3.5h0m-70.6 9.5h0m15.6-.1h0m3.8-1.7h0m15.6 .2h0m18 .1h0m17.3-.4h0m-71.3 4.1h0m13.4 3.5h0m4.4-3.2h0m5-.5h0m4.1 3.4h0m13.9-1.7h0m4.2-2.1h0m22.1 3.9h0m3 .1h0m-62.2 2.4h0m5.9 3.7h0m14.5-3.6h0m25.9 2.1h0m-64.7 6h0m20.6-1h0m15-1.1h0m3.9-.1h0m26.5 1.2h0m6.6 .6h0m6.1-.3h0m1-1.4h0m-79.7 9.4h0m21-1.5h0m22.6 0h0m4.7 2.8h0m2.9 .3h0m15.8-.3h0m-65.9 5h0m3.2-2.9h0m2.5 4.3h0m2.1-3.5h0m.8 2.1h0m11.7-3.9h0m22 3.1h0m12.1 .7h0m5.6-1.9h0m-41.3 8.8h0m.6-1.8h0m-17.4 3.7h0m4.4 .8h0m2.4 2h0m1.8 1.1h0m.3-3.9h0m5 2h0m-16.1 4.4h0m23.3 0h0m5.9 3.9h0m-7.9 2.3h0" stroke="#fc6244" stroke-width="2.3" stroke-linecap="round" fill="none"/>
<path d="M386.6 597.4h0m17.2 2.2h0m26.6-.8h0m-51.9 8h0m6.1-1.7h0m8.4 1.9h0m21.6 0h0m11.6-3.7h0m10.1 5.4h0m-106.1 .5h0m16.7 3.2h0m24.7 2.5h0m49.6 0h0m3.8-1.9h0m-99.2 4.3h0m24.4 3.2h0m14.3-4.3h0m21.5 3h0m23.9-2.1h0m.8-1.9h0m2.9 5h0m19.9-3h0m-91.1 7.4h0m2.7 1.7h0m16 .7h0m27.8-2.6h0m1 2.1h0m8.6-1.4h0m27.5 1.2h0m-65.6 1.8h0m11.6 2.7h0m-43.4 5.6h0m.4 1.8h0m7.7-4h0m36.3 2.4h0m8.6-2.7h0m-44.6 6.9h0m68.3 1.1h0m-71 4.7h0m10.8 3.2h0m21.9-1.7h0m-31.3 6h0m9.1 .3h0m10.9 1.6h0m4.3-.6h0m10.5 .9h0m4.4-2h0m10.4-1h0m-26.9 8h0m-30.3 2.1h0m38.1 .3h0m-19.3 9.7h0m49.8-3.5h0m-68.7 5.4h0m22.3-.2h0m12.4 4.3h0m11-3.9h0m9.5 1.7h0m10.8-1.3h0m-39.8 9h0m14.1-3.9h0m-36.3 8.6h0m2.2-.9h0m1.1 1.7h0m5.9-1.6h0m.3 1.5h0m15.2-1.4h0m1.4-.4h0m-14.1 5.9h0m17.8-.2h0m8.5 3h0m-20.9 7.2h0m-19.1 2.3h0m7.4-.1h0m12.6-.7h0" stroke="#ff2c0c" stroke-width="2.3" stroke-linecap="round" fill="none"/>
</g>
<rect x="328.3" y="599.6" width="138.1" height="105.1" fill="none" stroke="#111" stroke-width="1.9"/>
<text x="332.3" y="615.1" font-size="16" font-style="italic" fill="#111">Lgals1</text>
<text x="460.4" y="698.5" font-size="16" font-weight="bold" fill="#111" text-anchor="end">WT</text>
<clipPath id="uc4"><rect x="473.1" y="599.6" width="137.8" height="105.1"/></clipPath>
<g clip-path="url(#uc4)">
<path d="M541.1 597h0m6.6-.1h0m1.9-.1h0m-78.5 1h0m1.6-.2h0m.9 3.3h0m.6-1.1h0m.7-2.2h0m1 4.1h0m.1 1.1h0m1.4-2h0m.9-1.4h0m1.3 1.4h0m1-1.9h0m1.8-1.6h0m1.4 .4h0m1.4 1.6h0m.8 3.5h0m.4-5.7h0m.3 4h0m.7-1.6h0m.9 1.4h0m1-3h0m0 1.1h0m5.7 2.4h0m1.3 1.2h0m12.3-1.7h0m12.2-1.1h0m1.7 1.7h0m.4-3.8h0m1.8-.5h0m.1 3.9h0m1.5-1.4h0m1.2 1.7h0m.4 1.4h0m1.3-1.4h0m.5-3.9h0m1.3 2.2h0m.7-2.1h0m.2 3.4h0m.3-2.3h0m1.7 2.3h0m.5-3.9h0m1.2 2.1h0m0 2.2h0m1.4-1.8h0m.8-1.9h0m0 3.5h0m1.5-2.3h0m.9 1.8h0m2.1-2.9h0m0 1.9h0m1 1h0m1.1 2.1h0m.7-2h0m.1-3.2h0m2 3.9h0m1.4-2.8h0m2.2 1.1h0m.6 .9h0m.7-3.7h0m1 2.4h0m1.2 1.9h0m.9-1.7h0m1.6-1.8h0m.9 1.3h0m.6 2.4h0m2.3-3.7h0m.5 3.6h0m1.7-4.3h0m.8 4.3h0m.5-1.6h0m.9 1.2h0m1.4-2.3h0m1.3 2h0m.5-3.3h0m.4 2.5h0m1.8 3h0m1.2-3.4h0m.9-1.9h0m.1 2h0m0 1.7h0m.6 1.5h0m.9-5.2h0m.8 5.1h0m.8-3.9h0m.6 2.8h0m1.9-2.6h0m.1 3.6h0m.4-1.5h0m.2-3.2h0m1.6 1.5h0m.4 2.3h0m.3-3.8h0m2.5 2.8h0m.1-2.8h0m1.8 2.9h0m-115 4.8h0m.8 1.1h0m.8-3.1h0m.6 1h0m1 2.7h0m.4-3.7h0m2 4h0m3.1-.2h0m1.1-2.5h0m.8-1.4h0m.4 5.4h0m.9-3.8h0m1-1.8h0m3.4 2.3h0m.9 1.6h0m0-4h0m1 5.6h0m.1-4h0m20.4 .3h0m12.6 2h0m.5-1.7h0m1.3 1.7h0m1.3-2.5h0m1.4-1.2h0m0 3.8h0m.3-1.5h0m.6 3.2h0m.5-1.7h0m1.4-2h0m1.4 2.4h0m1.2-2.9h0m.4 2.4h0m1.3 1.8h0m.1-4.3h0m1.8-1.6h0m.1 3.9h0m1.1-1.3h0m.7 1.5h0m.5-3.6h0m.4 1.6h0m.8 3.6h0m.2-5h0m0 2.8h0m1.2 2h0m.5-3.6h0m.6 1.9h0m.8-3.2h0m.4 4.8h0m.2-3.2h0m1.3 1.6h0m2.5 .7h0m0-4.3h0m0 1.6h0m1.2 4.1h0m.4-5.2h0m.2 3.8h0m1.1-2.8h0m.5 3.8h0m1.2-4.9h0m.1 3.3h0m.6-1.9h0m.9 2.1h0m.6-4h0m.1 2.2h0m1.9-1.8h0m.2 4.2h0m.5-2.2h0m1.9 1.9h0m.7-2.8h0m.6 3h0m.8-2.2h0m2.1-2.4h0m.3 5.5h0m1.8-5.2h0m.6 5.2h0m1.4-5.1h0m.2 3.7h0m1.4-2.4h0m.8 2.4h0m.1-3.5h0m1.5 2.1h0m.9 1.3h0m1.3-1.3h0m1.2 2h0m.2 1h0m.9-3.5h0m.5 2.3h0m1.9 .2h0m1.2-2.8h0m1.6-1.5h0m1.4 5.1h0m.9-1h0m1.3-1.9h0m1.1 1.1h0m1-2.1h0m.3 1.9h0m1.4-1.7h0m.5 3.8h0m1.2-1.2h0m-117.8 5.8h0m.1 1.3h0m.5-3.3h0m.6-1.9h0m.4 4h0m1.8-.9h0m1.6 1.9h0m.4-2.9h0m.5 1.6h0m1.7-2.1h0m.9 2.3h0m.3-4.1h0m.9 1.9h0m.4 1.8h0m.1 1.8h0m1.4-4.2h0m1 2.6h0m1.1 1.3h0m.7-3.8h0m.3 2.9h0m.9-4.3h0m.2 5.5h0m.9-3.4h0m1.3 1.9h0m.6 1.8h0m3.7-2.3h0m1.8 0h0m13.3 .1h0m2.6-.1h0m8.8 .3h0m.7 2.1h0m1.1-5.9h0m.5 3.7h0m.7-2.1h0m1.6-1.1h0m1.6 5.2h0m.2-2.3h0m2.3-3.3h0m1.1 3.2h0m.1 2.4h0m.4-4.1h0m.8-1.4h0m.9 3.1h0m.2-2h0m2 1.2h0m.2 2.7h0m1.7-5h0m.3 3.3h0m.2-2h0m1.9 2.5h0m.2-1.8h0m.2 3.5h0m1.2-1.4h0m2-1.9h0m1.2 .9h0m.8-1.4h0m.1 3.9h0m1.1-1.6h0m3.4 1.3h0m1.2-1.8h0m.4-1.6h0m1.3-1.7h0m1.5 1h0m1.8 1.1h0m3.5-2.2h0m.4 4.1h0m.9 1.5h0m1-2.5h0m0-3.3h0m1.2 1.2h0m1.2 2.9h0m.9-1.9h0m.7 1.4h0m1.2-1.2h0m1.2 1.3h0m.8-2.2h0m.3 4.2h0m1.8-5.9h0m1.1 1.4h0m.8 3.1h0m.8 1.3h0m.8-3.2h0m.1 .9h0m1.4 1.8h0m.1-3.8h0m1.3-1.3h0m.6 4.3h0m.1-2.3h0m3.7 1.7h0m1.7-1.8h0m.3 1.6h0m.8-3.3h0m.8 5h0m.1-3.3h0m.3-1.5h0m.2 3.4h0m2.1-.4h0m1.8-1.8h0m-118.7 9.4h0m1.3-1.3h0m1 1.8h0m.2-3.8h0m1.8 1.7h0m.8-1.5h0m1.2 1.2h0m1.9-3.2h0m.1 4.2h0m1.3-2.8h0m1.1 2.5h0m1.8-.2h0m.4-3.3h0m1 1.3h0m1.3 2.3h0m1 1.8h0m.3-4.1h0m.3 2.3h0m1.1 1h0m1.8-1.4h0m.9 2.2h0m1.3-1.7h0m1.2-2.2h0m.5 3.7h0m1.2-4.2h0m4.5 4.1h0m1-1.3h0m14.4-1.1h0m.6-1.4h0m0 4.2h0m1.3-1.8h0m1 1.1h0m.2-3.6h0m2.8 2.4h0m1.5-2h0m2.2 .1h0m.5 3.3h0m1.2-1.7h0m.7-2.5h0m1.6-1h0m.1 3.1h0m.7-1.4h0m.1 3.9h0m2.5-3.9h0m.2 2.4h0m.5-4.1h0m2.7 3.6h0m1.6-3.6h0m.4 3.7h0m.6 1.6h0m1.6-2.3h0m.4-1.4h0m1 3.9h0m.9-2.5h0m1-1.5h0m1.7-.2h0m1.5-1.4h0m1.5 1.7h0m1.3 1.7h0m.8-2h0m.4-1.6h0m.3 4.3h0m.8 1.2h0m.8-3.1h0m1.2-2.1h0m.3 3.7h0m.5-1.8h0m1.6-1.8h0m.6 1.5h0m.7 1.8h0m.8-3.4h0m1.4 5.1h0m0-3.6h0m.2 2.3h0m2.5-4.1h0m.3 4h0m.7-1.7h0m.1 3.4h0m1.5-5.4h0m.8 5.7h0m.7-5.6h0m.8 3.6h0m.3-1.6h0m2.1 1.7h0m.1 1.3h0m.6-3.9h0m1.6 1.9h0m0-1.9h0m1.1 4.1h0m.1-2.2h0m1.3-1.1h0m.6 3.6h0m.5-2.4h0m3.2-3.1h0m.2 .9h0m.8 4.3h0m.4-5.3h0m.8 3.6h0m.1-2.2h0m1.4-1.3h0m1.6 1.4h0m2.9-1.4h0m-115.1 9.7h0m.1-2.5h0m.9 4.1h0m1.2-1.7h0m.1-1.9h0m.5 3.9h0m1.2-5.9h0m1 5.3h0m.6-3.7h0m.1 2.3h0m1.7-2.3h0m.1 4h0m2.4-3.8h0m1.1 1.8h0m.6-2.1h0m.9 1.9h0m3.2 .6h0m.3-2.9h0m0 4.2h0m1.1-1.4h0m1.3 1.5h0m.6-3.4h0m1.4-.1h0m.5 3.1h0m1.8-3.7h0m.4 4.5h0m1.3-1.9h0m.7 1.7h0m.6-3.9h0m1.4 2.3h0m3.3 1.4h0m0-3.7h0m.9 1.8h0m.4-2.3h0m1.1 2.8h0m1-2.2h0m.6 3.6h0m1.6-2.4h0m.2 2.3h0m2-2.1h0m.4 2.4h0m.8-3.7h0m.4 1.5h0m.4-3.2h0m.5 1.6h0m.3 3.4h0m2.8-3.5h0m.6 2.4h0m1.3-2.3h0m1.5 1.8h0m.9 2.3h0m.9-2h0m.8-1.7h0m.7 2.9h0m.3-1.6h0m0-3.4h0m.9 1.5h0m1.6 1.6h0m1.1-2.2h0m1.3-.9h0m.7 .9h0m.2 4.3h0m1.7-1.9h0m.9 2h0m.6-5.5h0m.1 3.4h0m1.7-1.5h0m0 3.5h0m.4-5.2h0m.9 3.2h0m1.2 1.7h0m.9-4.9h0m.2 2.8h0m.4-1.7h0m.1 3.7h0m2.8-3.1h0m.4 1.8h0m.8-2.3h0m1.2 1.6h0m0 2.1h0m1.1 .5h0m0-3.4h0m1.2 1h0m.2-3.1h0m1.5 5.4h0m.7-2.4h0m1.3 2.8h0m.4-4.4h0m1.3 1.6h0m.2 2.9h0m.3-4h0m1.2 2.2h0m.8 .9h0m2-2.1h0m.5-1h0m.6 3h0m1.3-3.4h0m1 4h0m1.3-.4h0m.7-3.9h0m1 1.9h0m.4-3.1h0m.2 5.7h0m.1-4.4h0m1.2 2.4h0m1 1.5h0m.1-4.1h0m1.5 2.7h0m1.2 1.9h0m.9-1.9h0m.6-3.7h0m.6 1.2h0m.9 1.8h0m1.6 1.8h0m2.2-3.8h0m1.2 2.9h0m1-2.9h0m.4 3.9h0m.7-.9h0m.5-3.9h0m.2 1.2h0m.4 3.9h0m1.4-1.8h0m.5-1.7h0m1.7-1.8h0m-110.9 7.6h0m1.8 2.4h0m.6-2.2h0m.3 3h0m1.7-3.5h0m2.2 1.6h0m.7 2.5h0m.7-1.5h0m1.3 1.7h0m.6-4.1h0m.4-1.4h0m.9 .8h0m1.6 2.9h0m1 1.8h0m1.2-5.6h0m.4 2.9h0m1.1-1.7h0m1.3 1.7h0m.1-2h0m1.2 2.5h0m.9-1.5h0m.6 3.6h0m1.3-2.5h0m.4-1.9h0m1.5 2.6h0m1.7 1.9h0m.4-2.8h0m3.1-1.7h0m.3 3.7h0m1.5-1.7h0m.6-1.5h0m.2 4h0m2-2h0m.8-2.2h0m.3 2.3h0m0 1.7h0m1.4 .3h0m1.2-2.8h0m.9 2.1h0m2.3-3h0m.6 3.7h0m1.3-2.4h0m.2 1.5h0m1.2-4.7h0m.7 3.5h0m.8-2.3h0m.3 3.5h0m1.9 .2h0m2.5 .2h0m.3-3.6h0m.3 2h0m1.4-1.7h0m.8 1.8h0m1.5-2.7h0m.1 4.4h0m1.7-2.5h0m.8 1.9h0m1.4 0h0m.2-3.2h0m2 1.5h0m.2 2.5h0m.8-3.8h0m1.1 1.3h0m.8-1.7h0m1.2 2.2h0m1.2-1.7h0m.3 3.3h0m.8-1.5h0m.8 1.6h0m.1-3.6h0m1.3 2.1h0m1.2 2.1h0m.6-2.8h0m1.3 2.6h0m.4-4.8h0m1.4 2.2h0m.7 2h0m0-3.9h0m.7 2.7h0m1.4 1.2h0m1.2-1.6h0m.7 2.2h0m.8-4.5h0m1.4 .8h0m1.8 1.3h0m.7-2h0m.2 4.4h0m1.5-1.8h0m2.1-1.1h0m.8 2.3h0m.5-3.7h0m.5 2.2h0m.8-2.5h0m.7 4.2h0m1.1-1.7h0m.5 1.6h0m2.2 .5h0m.5-3.8h0m1.2 1.1h0m1.4 1.8h0m.2-3.1h0m1.2 1.9h0m.3-2.3h0m.7 4.1h0m2.2-4.3h0m1.3 4.5h0m.9-4h0m.7 2.3h0m1.7-2.3h0m.1 1.3h0m-105.4 4.7h0m.7 4h0m.8-2.2h0m.4 1.7h0m.2-4.2h0m.9 2.3h0m1.3-2h0m.4 3.9h0m2.8-3.7h0m0 3.8h0m.6-2.5h0m.8-1.5h0m.8 4.1h0m.4-5.4h0m.1 3.5h0m1.3 1.6h0m.6-2h0m1.4-1.7h0m.3 4h0m1.5 .3h0m.9-3.9h0m1 1.9h0m1.2-1.7h0m.3 3.3h0m1.4-.3h0m.7-4.1h0m1.7 4.2h0m0-3.3h0m.9 2h0m1-2.4h0m1.1 2.3h0m0 1.4h0m1.8-.2h0m.3-3h0m.3 1.2h0m1.6 2.2h0m.1-3.8h0m1.9 3.3h0m2.2 1h0m.8-4.2h0m2 3.5h0m.3-3.4h0m1.1-.2h0m1.1 3.6h0m2.2-3.1h0m.2 1.6h0m1.1-2.8h0m.6 4.8h0m1-2.2h0m.9 1.3h0m.6-3.9h0m.9 2.9h0m.4 1.6h0m.4-3.9h0m1.3 1.9h0m.6-2.3h0m.9 4h0m1-1.9h0m1 2.2h0m.4-4h0m.6 2.5h0m1-1.8h0m2.6 3.5h0m.7-1.8h0m1.5-2.7h0m1.7 4.7h0m0-4.7h0m2.1 4.8h0m3.5-2.3h0m1.2 2.1h0m.6-4.6h0m.8 2.8h0m2.6 0h0m.5 2h0m.2-4.5h0m1.4 2.2h0m.5-1.9h0m.8 3.8h0m.2-2.4h0m1.2 2.8h0m1.1-4.6h0m.3 2h0m.8 2.6h0m.4-4.1h0m1.7 1.7h0m.6 2h0m.2-3.6h0m.6 1h0m1.8-1.4h0m2.1 .2h0m.3 3.5h0m.7-1.4h0m2.2 .2h0m.8-2.4h0m.9 4.3h0m1.3-.5h0m.3-3.4h0m1.2 1h0m1.4 2.6h0m1-2.6h0m.9 2.5h0m.7-2h0m1.7-1.9h0m.6 3.9h0m0-2.6h0m1.1 1.9h0m.5-3.3h0m.6 1.6h0m-102.5 8.3h0m1.6-3.9h0m1.2 2h0m.6-1.9h0m1.2 3.5h0m2-.2h0m1.6-3.3h0m.1 3.4h0m1.5-2h0m.6-1.1h0m.3 3.4h0m1.7-1.6h0m1-2.6h0m0 3.8h0m.4-2.1h0m.9 2.8h0m.2-4.7h0m.9 2h0m1.7-1.1h0m.7 1.8h0m1.7-2.8h0m.6 2.6h0m2 2h0m1.1-1.9h0m.3-2.3h0m.4 4.6h0m1.1-3.1h0m1.6-1.9h0m.3 3.1h0m.9 1.1h0m1.1-2.2h0m2 2.7h0m.5-2h0m2-1.6h0m.9 1.1h0m.3-1.3h0m.7 3.3h0m.4-1.6h0m1.4-2.6h0m1.6 2.6h0m1.2-2.1h0m1.8-.5h0m1.9 2.4h0m1.5-.1h0m1.3 2h0m1.5-1.3h0m.1-2.8h0m.1 4h0m1.9-1.4h0m.6-2h0m.3 4.1h0m1.6-2.2h0m1.1-2.1h0m.1 2.2h0m1.5-2.1h0m0 4.1h0m.9-2.4h0m1.9 2.3h0m.3-4.1h0m.2 2.2h0m1.6-2.9h0m1.2 2.7h0m1.3-1.8h0m.8 2.2h0m1-2.2h0m1.1 1.7h0m.9-1.6h0m.5 3.6h0m1.4-.1h0m.2-4h0m1.4 1.8h0m1.4 1.7h0m.1-3.9h0m1.6 0h0m.3 4.9h0m1.9-4.1h0m.9 4.1h0m.8-2.3h0m.4-2.4h0m1.2 2.8h0m1.3 1.8h0m3.1-1h0m0-3.6h0m.5 2.2h0m1.9-2h0m1.8-.3h0m1.3 2.1h0m.7 2.7h0m.1-4.9h0m1.5 2.2h0m1.1 2.1h0m0-3.2h0m1.1 1.4h0m.6 1.7h0m.4-4h0m.8 1.9h0m-95.2 5.9h0m.4-1.5h0m.5 3.4h0m1.3-1.4h0m.2-2.6h0m.6 4.6h0m1-2.3h0m1 1.9h0m.4-3.8h0m1 2.2h0m.8-2.3h0m.2 3.8h0m1.8-2h0m.9 1.7h0m1-1.9h0m.7 2.3h0m.2-3.8h0m1.3 1.9h0m.5 2.3h0m.5-4.4h0m1.6 4h0m.1-1.8h0m.5-2.2h0m2.2 0h0m.5 4.5h0m.9-2.6h0m.3 1.9h0m1.2-3h0m1.1 1.4h0m1.2-1.7h0m.2 1.6h0m1 2.2h0m.6-3.6h0m.3 1.5h0m1.3 2.3h0m2.2-4.7h0m2 1.8h0m1 2.4h0m1.5-.3h0m0-1.5h0m1.8-.4h0m1.2 2.7h0m.3-4.3h0m.8 1.7h0m.5 2.6h0m.1-4.1h0m.9 1.9h0m2.2 1.4h0m.4-1.2h0m1.5-2.8h0m2.4 4.1h0m.1-3.2h0m1.2 2.2h0m.2-2.3h0m.5 3.4h0m.9-1.4h0m.7 1.6h0m.1-4.2h0m2 2.5h0m1 1.2h0m.8-1.9h0m1.4-1.7h0m.3 4.2h0m1.2-2.2h0m.5 2.6h0m.1-4.9h0m.9 2.2h0m1.6 1.8h0m1.6 1.1h0m.6-4.6h0m1.8 4.1h0m.6-4.7h0m1.2 4.4h0m.2-4.4h0m1.7 2.3h0m.6 2.7h0m.8-4.7h0m.3 2.6h0m1.2 1.1h0m.6-2.8h0m1.4 3.7h0m0-2.8h0m.3-1.5h0m1.8 2.6h0m.4-1.9h0m.5 3.4h0m.9-1.7h0m1.5-2.3h0m.3 1.9h0m1-2.5h0m0 4.1h0m2.1-1.8h0m.7 1.6h0m.8-1.9h0m1-1.6h0m1.1 3.4h0m.4-1.1h0m.8-2h0m0 3.1h0m2.6-2.9h0m2.8-.4h0m-92 6.4h0m0 3h0m1.9-1.2h0m.9 1.8h0m.1-4.2h0m1.2 1.8h0m.8 2.7h0m.4-4.9h0m1.3 3h0m.1-3h0m.2 4.5h0m1.3-2.5h0m1.6-1.8h0m.3 2.9h0m1.2 1.8h0m.6-4.7h0m.4 1.7h0m1.8-1.9h0m1.1 2.7h0m.8-2.2h0m.8 4.5h0m3.1-2.4h0m.2 1.5h0m.5-3.6h0m1.5 1.6h0m.3-2h0m.6 4.2h0m.8-1.7h0m1.3-2.7h0m.6 2.5h0m.1 2.4h0m2.3-2.5h0m1.4-1.7h0m1.5 1.8h0m1.1 1.4h0m1.1-1.7h0m.4-2.1h0m.7 3.9h0m1-2h0m.6-1.7h0m.9 4.1h0m1.1-1.4h0m1.2 1.5h0m.1-4h0m.9 2.6h0m1.6-.2h0m.9-1.8h0m.4 3.5h0m.9-1.7h0m1 1.6h0m.6-3.7h0m.8 2.1h0m1.3 2h0m.3-4.7h0m.7 2.5h0m1.1-1.6h0m.6 3.5h0m1.7-4.1h0m.4 3.5h0m1.4-1.5h0m.4 2.5h0m.6-4.6h0m.3 1.8h0m1.2 2.5h0m1.5-2.3h0m1 1.7h0m.2-3h0m1.2 1.3h0m1.3-1.4h0m.7 1.2h0m.8-2.1h0m1.1 2.4h0m1.3-2.2h0m1.1 2.5h0m.9-2.4h0m2.9 .8h0m.5 3.4h0m1-1.8h0m.3 1.3h0m.2-4h0m2.5 .9h0m0 3.1h0m.5-.9h0m1.2-2.9h0m2.9 .7h0m.4 2.9h0m1.1-.9h0m.3-2.7h0m0 4.6h0m1.7-2.2h0m.9 2.3h0m.6-2.6h0m3.2 2.5h0m-87.6 3.1h0m1.1 2.9h0m0-4.6h0m2 2.3h0m.9 1.9h0m2 .2h0m1.2-2.7h0m.6 2.1h0m.7-4.1h0m.9 2.4h0m1.3 1.7h0m.1-4.2h0m.9 2.7h0m1.4 1.2h0m1.3-1.1h0m.8-2.8h0m.2 4.8h0m.3-1.8h0m1.2 .9h0m1.7-.8h0m.4-3.1h0m1 5h0m2.3-1.1h0m0-3h0m1.8 4h0m.3-4.5h0m.9 2h0m.5 2.3h0m.8-4.2h0m.4 2.5h0m1 2.1h0m1.3-2.5h0m1-2.4h0m.9 4.9h0m.9-2.5h0m.7-2.1h0m.5 3.8h0m.6-1.6h0m1 1.9h0m1-4h0m.8 2.1h0m.5 1.4h0m2-2h0m.6-1h0m.3 3.2h0m.7-1.8h0m1.2 2.3h0m.7-4.6h0m.7 2.4h0m.7 1.8h0m0-3.5h0m1.6 2h0m.7 2h0m.6-4.3h0m1.5 3.7h0m1.8-1.3h0m.7-2.8h0m6.3-.2h0m0 1.9h0m11.6 2.3h0m3 .7h0m.1-2.5h0m1-1.5h0m1.1 3.4h0m.1-1.9h0m1.1 2.2h0m.2-3.5h0m2 1.7h0m.6-1.7h0m.1 3.4h0m.6-2.2h0m2.9 .7h0m1.4-2.9h0m.3 2.8h0m.8-1.8h0m.2 3.5h0m2.2-1.8h0m.9-2.6h0m1.3 2.4h0m1.7-.1h0m.9 1.4h0m0-2.9h0m3.5 .9h0m-94.1 3.9h0m0 4.5h0m2.1-3.9h0m.7 2.1h0m1-2.3h0m.2 4.6h0m1.7-2h0m.6 .9h0m.1-3.2h0m.7 2h0m2-1.7h0m.9 1.7h0m1.5-1.9h0m.9 2.3h0m.5-2.7h0m.9 2.5h0m1.3-2.3h0m.9 3.8h0m.6-1.3h0m.8 1.4h0m.1-3.3h0m1.5 .7h0m.8-1.7h0m.6 4.2h0m.6-1.9h0m.7 2.4h0m.5-4h0m2.5-.7h0m.5 2.1h0m1.1 1.8h0m.5-3.5h0m1.5 2.2h0m0-1.7h0m.4 3.9h0m.9-2.8h0m.9 3.7h0m.9-5.4h0m0 3.4h0m1.3-1.8h0m.7-1.5h0m1.6 1.4h0m.9 3h0m.5-2.4h0m.5 3.3h0m.7-1h0m.3-3.8h0m1 1.3h0m1.3-1.7h0m.1 3.4h0m1.3-1.5h0m.8-1.7h0m1.2 1.1h0m11.4 .5h0m6.7 3.4h0m.8-1h0m1.7-1.7h0m.9 1.8h0m.1-4.5h0m.8 2.2h0m.5 1.4h0m1.2-3.7h0m1.5 .6h0m1.8 5h0m.8-1.4h0m2-4.5h0m.8 1.9h0m1.2-1.1h0m.2 3.7h0m1.1-2.3h0m.7-1.5h0m1.2 3.4h0m.5-1.6h0m0 3.3h0m.8-5.7h0m.7 3.9h0m.9-1h0m.5-2.9h0m3.4 3.8h0m.8-2h0m.3-1h0m-86.8 7h0m.7 2h0m.2-3.5h0m1 1.9h0m.8 2.5h0m1.5-2h0m1.2-2.9h0m.1 3.7h0m1.4 1.3h0m.5-4.4h0m1.4 1.4h0m.4-1.3h0m1.3 1.1h0m2-1.4h0m.3 1.7h0m1.6-1.5h0m4.7 .3h0m.2 1.1h0m1.3-1.5h0m1.9 2.4h0m.6-2h0m.6 2.1h0m1.8 1.3h0m.5-3.7h0m.1 1.9h0m1.9 1.5h0m.3-3.1h0m.4 1.5h0m2.4 3.3h0m.6-3.3h0m.4 1.8h0m.5-3.3h0m1.3-.1h0m19.1 3.8h0m2.7 1.2h0m.7-2.8h0m.7 1.2h0m.8-2.2h0m1.1 1.9h0m.2-3.1h0m.5 4.9h0m.2-3.3h0m1.7 2.1h0m.8-1.8h0m1.3 2.1h0m.5-3.9h0m.1 1h0m1.5-1.3h0m.4 3.8h0m1.2-2h0m1.4 2.1h0m.2-2.2h0m1.9 .6h0m1.2-2.2h0m1 4.2h0m.4-2.4h0m1.6-2.1h0m.5 1.9h0m1.3-2.2h0m.8 2.4h0m5.6-2.3h0m-84.4 6.1h0m1.2 4.5h0m.2-2.1h0m1.1-2.6h0m.2 3.7h0m1.1-2h0m.9-1.3h0m1 3.7h0m5.5-1.8h0m.9-2.1h0m15 .2h0m.2 3.1h0m1.5-1.6h0m1.2-1.2h0m4.3 3.4h0m8.5 1.5h0m3.1-1h0m.5 1.2h0m3.3-1.3h0m1.2 1.4h0m.8-4h0m.1 2.2h0m.2-3.8h0m1.8 1.3h0m.3-1.6h0m.3 4.5h0m1.7-1.7h0m.2 1.8h0m2.1-2.9h0m.6 2.7h0m1.4-2.7h0m1 2.5h0m1.3-1.5h0m1.8-.2h0m2 1.5h0m0-1.7h0m1.5-1.9h0m.7 3.4h0m.6-1.1h0m2.8-.7h0m.7-1.9h0m-71.6 10.2h0m1-4.3h0m1.8 4.1h0m.6-1.7h0m1.2-2.4h0m.7 4.5h0m.4-2.3h0m1.4 1.5h0m2.5-.3h0m1.2 2.4h0m5-2.2h0m3.8-1h0m1.6-2.5h0m8.1 1.3h0m1.8 .6h0m.6 1.8h0m1.7-1.8h0m0 3.3h0m1.2-1.1h0m1.4-2.2h0m.2 2h0m1.6 1.5h0m.1-3.2h0m.3 1.2h0m2.4-1.5h0m0 1.9h0m1.7-1.5h0m1 1h0m1.9 1.1h0m1-2.7h0m2.1-1.6h0m.4 2.1h0m1.2 1.1h0m1.2-1.2h0m.1 3.7h0m.7-2.2h0m1-3.3h0m1.1 1.3h0m1 1.7h0m.5 2h0m1.8-.9h0m.3-2.3h0m1.1-2.1h0m1.4 2.4h0m.7-2h0m2.9 0h0m-63.8 8.7h0m.4-1.2h0m1.3 1.3h0m.1-3.4h0m1.7 .4h0m1.9 2.1h0m2.3-.8h0m6.5-.4h0m6.7 1.1h0m8.4 3.5h0m4.9-3.9h0m.7 3.7h0m.4-5.3h0m.1 3.3h0m1-1.4h0m.9 3h0m1-.9h0m1.2 0h0m3.8 1.3h0m1.1-5.5h0m.2 3.3h0m1.6-1.9h0m.6 1.9h0m1.6-1.3h0m1.4 3.4h0m.9-3.9h0m1 2.5h0m1.2-3.7h0m-53.1 7.6h0m.9-1.7h0m.6 1.5h0m.1 3.5h0m.9-2.3h0m32.8-1.4h0m2 2.1h0m1.1 1.9h0m1.2-5.5h0m.6 1.2h0m1.5 2.6h0m.6 1.7h0m1-2.5h0m3-3h0m.4 1.7h0m.8-1.7h0m-47.7 6.1h0m1.5 5h0m1.1-1.2h0m30.6-.3h0m6.2-2.8h0m-39.4 6.2h0" stroke="#e0e0e0" stroke-width="2.3" stroke-linecap="round" fill="none"/>
<path d="M482.3 601.8h0m73.6 0h0m4.4 .9h0m5.6-5.7h0m4.3 .6h0m-94.3 7.1h0m1.7 .8h0m53.5-1.9h0m14.5 1.1h0m15.9 2.9h0m15.4-2.1h0m4.1-.6h0m-33.3 7.6h0m7-3.5h0m13.3 0h0m3.4 5.8h0m-100.7 1.9h0m48.1 2.5h0m46-.2h0m-50.9 2.3h0m3 5.3h0m13.3-3.3h0m4.9-1.2h0m-60.7 7.9h0m10.2-1.1h0m12.9 4h0m25-.6h0m17.7-3.4h0m11.1 1.3h0m4.8-1.5h0m.7 3.2h0m12-4.7h0m-74.8 9.3h0m17 .1h0m14.8 1.2h0m4.5 0h0m1.8-1.1h0m27.1-2.6h0m-85.8 9.9h0m5.6-2.4h0m12.6 2.4h0m44.3-.1h0m20.1 .8h0m1.8-2.3h0m-58.2 3.3h0m.7 2.4h0m.9 1.6h0m4.3-3.3h0m7.4-.2h0m18.2 0h0m.5 1.8h0m16.6 1.6h0m4.7-3h0m-68 8.9h0m4.1-4h0m22.9-.1h0m36.1 2.4h0m-65 3.8h0m8.7 2.4h0m25.9-.3h0m4.6 .5h0m19.7-2.7h0m11.4 3.6h0m6.3-3h0m-86.1 9.6h0m33-3.8h0m9.1 .3h0m3.4 1.3h0m20.4 0h0m-3.8 10.2h0m-57.4 5.6h0m1.5 2.3h0m1.8-.8h0m4.9 4.1h0m29.2-3.8h0m-38.3 8.4h0m9.8-.6h0m25.7 1.7h0m2.2-3.3h0m6 1.5h0m-35.3 2.2h0m3.4 1.8h0m6.9 4.2h0m-23.9 2.1h0m2.3 3.7h0m12.2-5.7h0m13.1 3.6h0m-20.4 3.2h0m11.7 .8h0m10.9-.2h0" stroke="#f8c4b6" stroke-width="2.3" stroke-linecap="round" fill="none"/>
<path d="M470.3 601h0m6-2.2h0m6.6 .5h0m35.7-2.3h0m13.6 5.9h0m3.7-5.3h0m33.8 4.1h0m-85.2 3.7h0m0 3h0m72.2 .5h0m7.3-2.2h0m1.2-1h0m6.6 2.8h0m11-5.4h0m1.3 .1h0m-108.7 6.1h0m49.7 3.5h0m.4-1.8h0m3.1-.4h0m31.1 .7h0m18.7-1.6h0m-58.1 7.5h0m9.9 1.5h0m6.2-1.8h0m7.8 2.2h0m2.3 0h0m8.9-.4h0m-72.8 2.7h0m3 1.8h0m7.9 1.1h0m6.1-2.2h0m.7 2.6h0m3.4 2h0m3.9-4.4h0m6.1 1.8h0m-35.6 4.6h0m2.6 1.7h0m66.3-1.7h0m5.2 3.1h0m10.4-3.5h0m-71.2 8.5h0m42.1-.9h0m1-1.7h0m2.3 .8h0m5.1-.1h0m18.2 3.1h0m-84.2 4.3h0m17.5-2.6h0m4.3 5h0m4.3-4.3h0m13.3 .3h0m33.7 3.1h0m2.4-4.2h0m7 4.2h0m-69.2 3.8h0m5.6 2.6h0m8.6-4.4h0m11.2 4h0m21.3-2.2h0m24.4 .2h0m-80.2 7.9h0m17.5 .6h0m14-.9h0m-36.1 4.6h0m.8-2.8h0m10.8 .4h0m20.7 .5h0m15.4-.3h0m-28.1 9.8h0m58.7 .1h0m7.3-3.6h0m-83.2 6.9h0m23.1 2.1h0m-1.2 6.6h0m26.7 1.2h0m-7.5 3.6h0m12 .1h0m-35.1 5.7h0m15.6-2.7h0m.4 1.9h0m8.3-1.9h0m-9.2 10.6h0m-40.1 4.8h0m21.9-.8h0m8.4-1.2h0m-27.5 5.1h0m1.5 .4h0m2.3-.3h0m6.7 .2h0m4.4 .5h0m5.3 .1h0m1.7-.2h0" stroke="#fa9880" stroke-width="2.3" stroke-linecap="round" fill="none"/>
<path d="M501.7 601.4h0m21.8-2.6h0m-45.8 9.6h0m3.9-1.5h0m88.4 6.3h0m9.4-2.4h0m-101.8 10.2h0m45.9-2.7h0m59.1 1h0m2.4-1.8h0m-38.8 5.6h0m12.5 1.1h0m13.5 .5h0m-73.6 6.3h0m12-.7h0m2.8-1.8h0m21 3.9h0m37-1.6h0m-62.3 5.8h0m27.6 1.3h0m-21.2 5.8h0m9.2 .1h0m6.8 .1h0m-15.5 3.7h0m11.2 4.1h0m29 3.9h0m0-3.2h0m-82.4 5.8h0m-1.4 7h0m7.2 2.3h0m62.8-3.3h0m3.2 3h0m-12 7.6h0m19.1-5.3h0m-75.1 17.2h0m49.5-3.8h0m-53.1 9.3h0m6.1-4.9h0m29.9 1.3h0m-34.2 5.6h0m39.8 1.1h0m-33.1 10.9h0m4.1 .2h0m11.1 .7h0" stroke="#fc6244" stroke-width="2.3" stroke-linecap="round" fill="none"/>
<path d="M520.1 597.3h0m-34.7 9.2h0m-11.2 8h0m83.5-3.3h0m-76 5.4h0m74.4 3.7h0m-36.9 2.3h0m4.3 4.2h0m29.8-4.7h0m13.4 .1h0m4.8 10.6h0m-43.7 1.3h0m-23.4 10h0m41.8-1.7h0m-6.8 10.9h0m5 .4h0m-51.2 5.8h0m64 2.4h0m-83.5 7.3h0m52 3.7h0m-51.5 7.9h0m11.1 23.9h0" stroke="#ff2c0c" stroke-width="2.3" stroke-linecap="round" fill="none"/>
</g>
<rect x="473.1" y="599.6" width="137.8" height="105.1" fill="none" stroke="#111" stroke-width="1.9"/>
<text x="607.9" y="698.5" font-size="16" font-weight="bold" fill="#111" text-anchor="end">Trem2<tspan dy="-5.8" font-size="9.6">ko</tspan></text>
<rect x="428" y="712.4" width="181.9" height="9.6" fill="url(#cbg)"/>
<line x1="466.4" y1="712.4" x2="466.4" y2="722" stroke="#fff" stroke-width="0.9" opacity="0.75"/>
<line x1="504.8" y1="712.4" x2="504.8" y2="722" stroke="#fff" stroke-width="0.9" opacity="0.75"/>
<line x1="543.2" y1="712.4" x2="543.2" y2="722" stroke="#fff" stroke-width="0.9" opacity="0.75"/>
<line x1="581.6" y1="712.4" x2="581.6" y2="722" stroke="#fff" stroke-width="0.9" opacity="0.75"/>
<text x="430.4" y="736.4" font-size="12.8" font-weight="bold" fill="#111" text-anchor="middle">0</text>
<text x="467.5" y="736.4" font-size="12.8" font-weight="bold" fill="#111" text-anchor="middle">1</text>
<text x="504.8" y="736.4" font-size="12.8" font-weight="bold" fill="#111" text-anchor="middle">2</text>
<text x="545.6" y="736.4" font-size="12.8" font-weight="bold" fill="#111" text-anchor="middle">3</text>
<text x="583.2" y="736.4" font-size="12.8" font-weight="bold" fill="#111" text-anchor="middle">4</text>
<clipPath id="uc5"><rect x="721.6" y="599.6" width="138.1" height="105.1"/></clipPath>
<g clip-path="url(#uc5)">
<path d="M859.2 596.5h0m-114.9 5.6h0m17.7-2.9h0m15-.4h0m31.5 2.9h0m-75.5 5.9h0m16.3-2h0m38 2.4h0m18.5-.1h0m11.1-.4h0m9-2.7h0m8.9 3h0m3.7-2.6h0m4.8 1.7h0m5.3-1.5h0m3.5-.8h0m7.9-.4h0m1.1 2.6h0m-121.1 7.4h0m28.9-4.1h0m2.9 4h0m4.4-2.7h0m3.2 2.1h0m4.4-1.9h0m2.5 1.3h0m8.7-1.4h0m3.7-1.1h0m2.4 2.7h0m2.8-1.9h0m3.7 0h0m8.2 2.7h0m20.4-.2h0m1.1-3.7h0m2 3.5h0m-115.1 3.5h0m13.5 3.4h0m3.8-3.3h0m13.4 .5h0m1.5 1.5h0m3 1.2h0m4.2-.9h0m1.6-2.2h0m6.7 1.9h0m13.9 .2h0m6.4-2.3h0m2.1 2.9h0m5.9-3.4h0m7.6 .8h0m8.5 2.6h0m4.3-.4h0m4.5-.8h0m4.4-3.2h0m6.9 3.6h0m4.5-3.5h0m1.4 3.7h0m6.5-2.4h0m-117.7 5.7h0m2.9 2.7h0m6.9 .2h0m15.5 .1h0m4.9-2.4h0m3-1.3h0m6.7 4.4h0m3.4-1.9h0m1.5-1.8h0m3.9 .1h0m3.3 3.3h0m3-1.5h0m2.4-1.6h0m.6 2.7h0m8.1 .2h0m8.1-.1h0m16-4h0m4 1.8h0m3.3 2.6h0m.5-3.9h0m9.9 4.2h0m2-3h0m5.4 2.6h0m11.6-1.1h0m-130 3.3h0m28.8 2.1h0m8.1-1.7h0m14.1 3h0m.8-3.2h0m5.6 2.6h0m3.4-2.6h0m1.7 2h0m22.5 .2h0m1.7-1.6h0m1.6 2.5h0m4.8 .5h0m1.8-3.9h0m7.7-.7h0m15.9 3.2h0m4.8 1h0m.6-3.3h0m2.6 2.7h0m7.5 .7h0m-136.3 5h0m36.8-2.4h0m10.5-.7h0m1.4 4.5h0m3.1-3.3h0m4.7 3.4h0m4.6-1.7h0m24.9-3.1h0m1.9 3.7h0m1.8-3h0m10.5 .6h0m1.1 2.8h0m2.8-3.3h0m1.5 2.3h0m16.7 1.3h0m6.6-1h0m2.9-2.3h0m4.4 3h0m-136 5h0m14.2 .9h0m3.6-.1h0m27.4 .2h0m6-3.4h0m2.4 2.1h0m4.4-1.9h0m27 .2h0m4.2-.1h0m1.9 2.7h0m.6-3.7h0m3.1 4.8h0m12.8-3h0m5.8 1.6h0m3.7 .2h0m3.1-3.8h0m15.6 4.4h0m-123.9 5h0m4.6-2h0m2.4 2.7h0m19.6-.8h0m2.2 .1h0m4.8 .7h0m4.4-3.8h0m2.3 2.7h0m35.1 1.2h0m5-2.6h0m1.2 2.5h0m2.6-4.1h0m3.5 .9h0m8.6-.4h0m7.1 .3h0m1.4 2.8h0m4.4 1.2h0m2.7-4.2h0m4.2 3.3h0m1.6-2.6h0m3.5 3.1h0m1.7-3.5h0m-138.9 8.6h0m20.6-2.9h0m8.1-.1h0m18.2-.4h0m5.9 4.1h0m6.6-4h0m4.2 4.4h0m22.2-2.7h0m3.7-1.9h0m3.4 1.3h0m3.4-.3h0m1.7 3.4h0m6.7-3.9h0m4 1h0m3.4 .3h0m4.5-1.7h0m3.3 5.7h0m3.2-5h0m7.5-.6h0m4.4 0h0m.9 4.3h0m-138.6 7.2h0m31.3-4.3h0m9.4 2.4h0m3.2-.7h0m1.6-1.5h0m1.6 1.9h0m5.1 .2h0m4.3-.2h0m3.3 .5h0m26.2 0h0m4.1 .7h0m2.7-4.7h0m2.9 .5h0m2.4 4.2h0m2.3-3.6h0m4.8 1.7h0m3.4 1.6h0m3.1-1.1h0m2.8-2.4h0m2.6 2h0m1.1-2.3h0m2.5 3h0m2.4 .5h0m4.5-1.4h0m2.4-2.9h0m4.2 1.7h0m2.2 3h0m2.5-.3h0m2.7-2.5h0m.7 1.3h0m-135.5 6.3h0m13.7-1.9h0m5 1.4h0m1.5-2.3h0m4.7 .9h0m1.6 1.3h0m6.1-1.6h0m3.7-.3h0m1 3.5h0m31.1 0h0m3.3-.9h0m12.7-3.5h0m6.1 3.9h0m1.7-3.6h0m5.4 4h0m3.3-3.8h0m4.1 1h0m1 2.5h0m2-2.4h0m2.3 1.3h0m2-1.6h0m5.9-.6h0m3.8 .7h0m4.4-1.1h0m-133.5 7h0m10 2.8h0m14.8-1.1h0m4.1 .1h0m4.6 1.6h0m1.1-4.3h0m1.4 3.9h0m26.7-3.7h0m6.6 5.3h0m4.6-4.8h0m2.7 .4h0m4.1 .1h0m17.6 2.7h0m1.9-2.7h0m4-.4h0m.4 3.3h0m4.9-1.1h0m.6-2.8h0m2.1 2.5h0m4 .8h0m2.2 1.9h0m.5-4h0m-107.3 10.1h0m8.7-4.7h0m7.9-.9h0m10 1h0m17.2 1.5h0m7.1-2.8h0m5.6 4.2h0m5.7-2.9h0m2.9 .3h0m4.9 2.7h0m3-3.2h0m5.8 2.3h0m1-2.1h0m6.4 3.3h0m1.8-3h0m20.2 2.1h0m10.6-2.5h0m-93.2 9.2h0m21.7-1.4h0m8.2 .9h0m8 .1h0m5.9-3.7h0m4.2 .6h0m7.4 .7h0m2.1 1.9h0m-62.5 6h0m14.3-2.7h0m26.7-.6h0m8.7 2.6h0m6.6-2.3h0m48 3.2h0m4.1-3h0m-83.7 9.5h0m19.5-4.2h0m5 .1h0m11.1 .6h0m2.2 3.6h0m37.2-.7h0m-19.2 6.7h0m-25.2 1.7h0" stroke="#e0e0e0" stroke-width="3.5" stroke-linecap="round" fill="none"/>
<path d="M771.2 607.2h0m56.6 5.8h0m-55.8 4.5h0m7.8-1.9h0m-16.9 10.3h0m21-3.9h0m37 3.2h0m10.8 .3h0m-47.9 2.7h0m53.1-.4h0m2.4 2.6h0m-88.2 3.2h0m32.8 .9h0m37.5 0h0m12.1 .8h0m3.3-1.5h0m-106.7 9.4h0m2.8 .1h0m14-2.7h0m17.5 0h0m18.5 2.7h0m-49.3 5.8h0m19.3 .1h0m16.5-3.1h0m-35.7 8.8h0m3.1 0h0m4.8 .8h0m2.4-.4h0m7.7 .7h0m4-.2h0m7.1-.7h0m2-2.6h0m1.4 3h0m7-3.4h0m54.5 2.3h0m-93 4.4h0m19.7-.7h0m3.2 .7h0m4.2-.5h0m12-.6h0m-25.2 8.3h0m15.9-1.3h0m44.2 1.5h0m31.6-1.4h0m-113 5.6h0m18.9-1.1h0m39.8 3.7h0m19.2-1.1h0m-63.8 6.1h0m9.8 .6h0m15 0h0m57.7-.5h0m1.6-2.1h0m-45.1 6.2h0m10.2 2.1h0m-16.9 3.7h0" stroke="#f8c4b6" stroke-width="3.5" stroke-linecap="round" fill="none"/>
<path d="M823.5 601.4h0m-31.6 3.8h0m-56 9.2h0m18.2-4.1h0m102.1 6.1h0m-65 7h0m20-1.4h0m13.2 2.7h0m-66.5 4.6h0m67.5-1.9h0m6.8 3.8h0m21.1 3.8h0m-105 7.5h0m6-1.8h0m5.3 2.6h0m92.4-3h0m-96.5 8.2h0m5.2-1.9h0m3.8-.1h0m-25.4 6.6h0m4.3 3.8h0m10.8-5.7h0m3.4 1.1h0m2.5 2.3h0m1.7-1.5h0m9.6 2.7h0m60.3-.6h0m11.6-.6h0m-111.5 9.9h0m47.2 1.6h0m-29.9 4h0m60.2 3.5h0m-14.2 7.8h0m21.5 2.5h0m-88.1 6.5h0m62 5.4h0" stroke="#fa9880" stroke-width="3.5" stroke-linecap="round" fill="none"/>
<path d="M823.4 608h0m18.9-4.3h0m-60.9 9h0m77.2 .7h0m-88.6 21.4h0m79.2-1.5h0m-84.9 9.9h0m9.6 .1h0m39.4-.5h0m25.3 5.8h0m-57.2 12.4h0m-38.1 3.9h0m55.3 13.9h0" stroke="#fc6244" stroke-width="3.5" stroke-linecap="round" fill="none"/>
<path d="M826.8 640.3h0m-52.2 44h0" stroke="#ff2c0c" stroke-width="3.5" stroke-linecap="round" fill="none"/>
</g>
<rect x="721.6" y="599.6" width="138.1" height="105.1" fill="none" stroke="#111" stroke-width="1.9"/>
<text x="725.6" y="615.1" font-size="16" font-style="italic" fill="#111">Lpl</text>
<text x="853.7" y="698.5" font-size="16" font-weight="bold" fill="#111" text-anchor="end">WT</text>
<clipPath id="uc6"><rect x="866.4" y="599.6" width="137.9" height="105.1"/></clipPath>
<g clip-path="url(#uc6)">
<path d="M982.3 596.2h0m7.5 .6h0m13.6-.6h0m-53.9 3.3h0m5.9 .3h0m12.1 2h0m4 .6h0m2.8 .1h0m4-.5h0m5.7-3.7h0m.9 3.7h0m7.8-.7h0m7.1-.1h0m2.9 0h0m-74.1 6.6h0m4.5-1h0m2-2.6h0m3 4.7h0m3.8-5.1h0m4.2 3.6h0m4.7-.1h0m1.8-3.9h0m2.9 .3h0m1.5 3.5h0m3.8 .3h0m2.4-3.5h0m.8 2.5h0m6.8 0h0m2.6-2.8h0m2.4 3.4h0m4.2-3.5h0m1.5 4.3h0m2.4-4.5h0m.8 4.3h0m1.5-3.1h0m2.8 2.4h0m.8-3h0m1.7 3.9h0m4.2-1.7h0m3 .9h0m3.5 .4h0m3.7-.4h0m-88.9 7.5h0m8.5-2.4h0m4 .8h0m4.1-.3h0m1.8 2.2h0m.3-2.5h0m6.3-2h0m1.7 1.4h0m3.4 .9h0m1 2.1h0m.6-5.1h0m2.4 2.2h0m2-2.3h0m.3 3h0m2.6-2.8h0m1 3.6h0m1.9-3.2h0m1.1 4.1h0m4.4-1h0m1.6-3.2h0m2.1 2.1h0m1.8-3h0m1.8 3.7h0m1.7 1.4h0m1.8-1h0m2.3-3.6h0m.8 2.9h0m1.8-2.4h0m1.4 2.8h0m2.8-2.3h0m1.2 2.7h0m1.4-2.8h0m.7 4h0m1.9-2.6h0m3.5 1h0m1-2.4h0m3.2-1.3h0m1.3 5h0m2.6-5.2h0m2.7 4h0m1-3.3h0m.6 2.7h0m-90.9 7.8h0m1-3.2h0m3.6 1.2h0m3.3-.5h0m2 2.7h0m.7-2.7h0m4.3 .5h0m.9-2.6h0m.8 4.4h0m2-3.1h0m4.1-1.1h0m5 4h0m6.3 .6h0m2.6-2.4h0m.9 2.1h0m.6-5h0m1.1 2h0m2 3.1h0m.5-5.1h0m1.8 3h0m2.1 .4h0m3.5 2h0m.8-2.9h0m.9-2.5h0m2.3 2.1h0m2-1.3h0m5.7 2.5h0m2.4-1.2h0m2.5-2.2h0m2 2.2h0m1.8-1.4h0m1.9 2.5h0m3.1-.2h0m1.3-3.1h0m2.3 2.1h0m1.4-1.7h0m1.5 2h0m2.8 3.4h0m.7-3.1h0m1.4-2.1h0m1.7 2.9h0m2.7-3.3h0m.3 5.3h0m1.3-2.7h0m-113.5 7.4h0m22.6-1.3h0m9.3 1.6h0m1-2.6h0m1.1 2.7h0m1.6-1.5h0m2 2.8h0m8.3-5.6h0m1.8 1.6h0m1.2 3.4h0m3.6-.3h0m.4-4.9h0m.9 3.1h0m2.8 1.8h0m1.7-2.7h0m.6 1.9h0m1.3-1.7h0m2.5 1.9h0m1.4-2.9h0m2.6 4h0m1.5-3.4h0m.8 2.7h0m17.4-3.2h0m.4-1.5h0m1.3 1.3h0m4.2 1h0m4.6 2.6h0m0-3h0m2.7 .1h0m1.6 3h0m1-2.4h0m3.3 2.8h0m1.1-3.7h0m1.2-1.6h0m.3 4.9h0m2.8-.1h0m.1-3.1h0m1.8 1.1h0m-120.1 7h0m8.9-1.9h0m2.3 2.4h0m8.5-3.7h0m1 4.1h0m2.7-2.6h0m1.5 1.3h0m5.1-1.2h0m1.9 1.7h0m2.7 .6h0m1.5-2.6h0m1.8 2.8h0m5.3-3.5h0m7.3 0h0m4.1 .7h0m1.6 1.5h0m1.1-1.8h0m2.4 2h0m1.2-2.5h0m1.4 2.6h0m4.3 1.2h0m2.3-3.8h0m1.1 2.3h0m1.6-.9h0m2.4 1.6h0m1.9-3h0m22.9 2.9h0m.2-1.9h0m2.6-2.4h0m0 4.9h0m3.5-.3h0m2.4-2.8h0m.1 1.8h0m2.3-1.5h0m2.2 2.5h0m1.8-2.7h0m4.2-.7h0m1.4 2.6h0m2.1-1h0m-125.5 7h0m4.1 1.2h0m4.6-4.1h0m2.8 2.3h0m2.1-.1h0m4.2 1.5h0m5-3.5h0m6.4 3h0m2.4 .8h0m4.3-1.1h0m1.2 2h0m.2-5.2h0m1.1 4.1h0m3.7-.2h0m1.5-3.7h0m12.6 3.8h0m4.7-.6h0m0-1.7h0m2.4 2.1h0m2.1-3.7h0m1.8 3.9h0m2-3.5h0m.6 3.3h0m1.9-3.1h0m1.9 1.9h0m3-2h0m.6 2.4h0m1.7-2.5h0m22.3 2.5h0m3.1-3h0m1 3.3h0m2.7-2.5h0m.5 2.1h0m3.4-.3h0m2.6-1.4h0m1.1 2.5h0m1.6-2.6h0m1.9 2.9h0m1.9-3.1h0m3.7-.2h0m-127.8 8.5h0m3.5-1.1h0m9.4-1.4h0m6.8 0h0m.5 2.6h0m2.6-3.3h0m1 3.5h0m2.9-3.3h0m2.3 2.6h0m2.4 1h0m4.3-.8h0m1.4-3.1h0m1.7 2.3h0m2.7-.2h0m2.3-1.7h0m1.8 2.2h0m1.8 2.8h0m3.4-5.5h0m11.8 3.5h0m2.2-3.3h0m13.4-.5h0m3.6 .5h0m19.9 3h0m2.1 1.7h0m1.6-2.7h0m1.5-1.6h0m1.6 1.7h0m1.7 3.2h0m.3-5.5h0m.6 4h0m2.4 1.3h0m.9-4.5h0m.4 2.6h0m1.7-3.8h0m2.1 3.8h0m1.6-2.7h0m3.1 1.7h0m.3-2.3h0m2.8 2.5h0m-128.3 3.7h0m0 4.3h0m1.5-1.4h0m7.1-.4h0m1.4-2.9h0m1.6 4.6h0m.8-1.4h0m4.1-1.1h0m7.2 1.4h0m3.4-.4h0m1.3-3h0m1 2.5h0m3-2.4h0m0 5.1h0m2-.5h0m3.3-2.1h0m1.9-2.8h0m1.8 1.9h0m3.2 0h0m.2 3.7h0m1.9-4.7h0m1.7 1.3h0m3.1 .9h0m2.1-2.6h0m2.2 4.2h0m5-2h0m2.4-2.9h0m2.7 2.4h0m1.4 2.7h0m10.8-.4h0m3.5 .4h0m3.4-2.4h0m2.6-2.6h0m4.1 .6h0m2.5 4.1h0m4-4h0m1.5 2.4h0m1.3-2.4h0m2 2.7h0m2.3 1.4h0m2.4-2.1h0m.1-2.2h0m3.3 2h0m1.8 2.7h0m.4-2.2h0m1.6 1.9h0m1.6-1.7h0m5.7-3.2h0m.7 5.5h0m1.1-3.1h0m3-1.6h0m.1 1.6h0m2 2.6h0m1.1-5.1h0m-128.1 7.8h0m2.4-1.6h0m4.1 2h0m1.1 3.7h0m1.9-3.4h0m3.2-2h0m.9 1.8h0m1.5-2h0m1.7 1.6h0m2.1 2.9h0m.9-4.5h0m1.4 1.3h0m4.1 1h0m1.1 3.2h0m2.1-3.6h0m4.9 3.6h0m1.9-3.4h0m.3-1.9h0m1.8 4.2h0m1.3-2.1h0m1.8-2.1h0m.4 5.2h0m3-.2h0m2.1-3.8h0m2.1 2.9h0m.6-1.2h0m1 2.1h0m.7-5h0m1.5 2.7h0m2.6 1.4h0m1.1-2.4h0m2.6-1.6h0m.2 4.9h0m.9-2.4h0m2.5 2.8h0m1.1-3.7h0m1 2.4h0m3.6 .9h0m.2-5.5h0m3 2.5h0m.6 3.1h0m1.2-5.1h0m.9 1.6h0m1.4 2.5h0m2-2h0m1.7 3.2h0m2.8 .1h0m.1-5.8h0m2.1 1.8h0m1.4-1.5h0m.5 4.3h0m3-.2h0m1-4.1h0m1.1 1.6h0m2.9 3h0m.2-1.9h0m4.1-.1h0m1.3 2.4h0m1.5-5h0m1.1 1.4h0m5 3.8h0m.3-5.6h0m2.1 2.4h0m2.9-.7h0m1.5 2.5h0m1-2.4h0m1.7 3h0m1.1-4.4h0m1.2 1.9h0m2.5 3.1h0m1-2.4h0m1.5-2.6h0m.4 4h0m1.3-2.9h0m1.8 4.2h0m-118.3 4.3h0m3.2-.3h0m2.4-1.6h0m1-2.1h0m.5 4.8h0m1.5-3.2h0m2.3 2.2h0m.7-1.6h0m4.5 0h0m2.4 .3h0m1.8 2.5h0m1.7-3.9h0m3.7 .3h0m2.1 3.1h0m2.3-3.1h0m5.6 3.3h0m1.8-2.2h0m1.3 3h0m.6-3.6h0m6.8 2.6h0m.7-2.7h0m1.5 2.9h0m1.4-3.3h0m2.5 3.4h0m3.5 .7h0m2.3-4.3h0m3.4 1.4h0m1.4 1.3h0m4.1 .3h0m.8-2.6h0m2.6 3.8h0m1.6-3h0m1.7 1.8h0m.7-1.5h0m4.5-.3h0m1.6 2.6h0m1.5-3.4h0m1.7 2.9h0m2.7-1.7h0m2.1-1.1h0m6 1.9h0m2.3-1.6h0m.6 3.1h0m2.7-3.6h0m.9 3.7h0m1.5-3h0m3 1.5h0m1.6-2.1h0m2.1 3.4h0m2-4h0m.9 3.1h0m2.3-1.6h0m-116.4 9.5h0m2-2.3h0m1.8-2.6h0m2.7 .4h0m2.1 2.4h0m2.6-3.3h0m1.5 3.6h0m.7-2.1h0m2.5 1h0m1.8-1.7h0m2.3 2.5h0m3.5 .9h0m1.1-3.4h0m1.5 2.7h0m1.6-3.1h0m3 3.7h0m2.3 .1h0m2.9-2.6h0m.2 1.8h0m2.5-1.9h0m1.7 2.1h0m2.8-2.5h0m1 3.3h0m2.5-3.9h0m.6 2.4h0m2.9-1.6h0m.5 2.1h0m2-3.6h0m1.9 3.9h0m1.8-2.1h0m1.9 1.2h0m1.6-3.1h0m1.1 4.6h0m2.9-2.9h0m1.7 2h0m7.3 2h0m0-2.2h0m1.4-3.2h0m.4 4.4h0m1.8-4.6h0m.7 5.5h0m1.9-1.2h0m1.9-3.9h0m1.7 2.6h0m1.9-2.2h0m1.8 3.5h0m1.5-3.1h0m2.5 2.5h0m1.1-2.4h0m1.6 2.3h0m1-2.1h0m.3 3.9h0m1.5-2.4h0m3-2.2h0m.6 2.2h0m2.3-2h0m5.7 2.6h0m.7-2.4h0m5.2 2.7h0m3.3-.7h0m2.7-1.4h0m1.9 2h0m-130.9 3.2h0m7.3 1.3h0m5.3 2.9h0m.1-1.8h0m.8-3.2h0m2.6 2.9h0m.8-2.5h0m1.3 1.7h0m2.3-2.7h0m.5 5.4h0m.4-1.1h0m6.6-3.3h0m1.6 3.3h0m.5-3.5h0m3.1 3.4h0m1.8-3.7h0m.7 3.2h0m2.3 2.1h0m.5-4.7h0m2 2.7h0m.9-3.6h0m.4 5.4h0m1.9-2h0m2-3h0m2.4 5.3h0m2.9-1.7h0m.8 1.7h0m.5-5.5h0m2.2 2.7h0m1.2-2.8h0m.6 3.8h0m2.4-3.8h0m2 3h0m1.6-2h0m2.8 2.6h0m.4 1.8h0m.6-5.4h0m.6 2.6h0m3.2-1.7h0m1.5 1.8h0m2 3h0m0-5.4h0m1.2 3.1h0m1.3-3.1h0m.4 5.1h0m1.3-1.8h0m2.7-2.7h0m1 1.7h0m3.4-.2h0m3.9 .5h0m2.9 .9h0m1.8 1.3h0m.9-4.6h0m2.5 3.4h0m1.2 1.5h0m.4-4.3h0m1.5 1.7h0m2.7 .8h0m3.7-.2h0m1.2-3.6h0m5.3 2.4h0m2.8-2h0m2.1 2.4h0m.9-1.7h0m.6 4.3h0m.5-1.5h0m1.9-2.6h0m2.2 2.5h0m2.7-3.6h0m.4 3.4h0m3-2.8h0m1.5 2.3h0m-130.4 5.1h0m4.4-.3h0m2.9 1.1h0m9.5-2.8h0m5.1 1.9h0m1.5-1.2h0m2.7-.5h0m2.1 1.8h0m2 2.5h0m.9-1.1h0m3.8-.4h0m2.9 1.8h0m.7-1.7h0m4.6-.4h0m.1 2.7h0m1.1-5.4h0m2.7 4.5h0m2.1-2.5h0m1.8 3.6h0m2.4-3.5h0m.3-1.6h0m.5 4.7h0m2.3-2.8h0m1.8 2.1h0m1.7-1.6h0m2.5-3h0m.1 2.8h0m2.7 2.6h0m.9-1.9h0m2.3-3.4h0m1.1 2.8h0m4.4 .2h0m4.8 2.5h0m1-5.2h0m.5 2.3h0m3-2.9h0m1.7 2.1h0m.7-1.6h0m.3 4.5h0m1.7-2.3h0m3.2-.7h0m2.9 2.9h0m2-1.1h0m2.7-1.5h0m8.1 3.4h0m3.2-5h0m3.4 1.6h0m6.1 .3h0m2.2 2.1h0m1.1-2h0m4.2 .4h0m1.3-2.5h0m2.3 3.2h0m-127.6 2.2h0m9.3 .3h0m9.6 1.3h0m.8 4.2h0m6.8-2.6h0m2-1.5h0m2.1-1.4h0m.5 4.3h0m5.8-4.4h0m.4 5.1h0m3.2 0h0m3.4-3.3h0m9.5 .2h0m4.5 1h0m.1 1.8h0m.9-4.8h0m5.4 1.7h0m1.8-1.8h0m.3 4.4h0m.7-1.7h0m3.1 1.5h0m.9-1.9h0m.9-2.4h0m.6 4.3h0m1.8-1.2h0m6.2-1.2h0m3.1 3.4h0m2.4-2.4h0m5.7-.6h0m1.6 3h0m1.3-2.4h0m1.7-2.9h0m1.9 4.8h0m10.4-1.4h0m.1 .7h0m4.8-1.6h0m.8-2.3h0m1.3 1.8h0m.1 3h0m2.8-.8h0m2.1-1.9h0m1.7 2.4h0m.3-2.3h0m1.7 3.1h0m0-5.1h0m2.6 2.4h0m-111 4.6h0m15 3.8h0m15.6-2.8h0m.8 1.5h0m4.2 .8h0m5.9-2.8h0m3.5 .1h0m4.7 1.8h0m1.5-1.8h0m3.5-.8h0m3.8-.1h0m6.5 .5h0m4.5-.2h0m25.7 2.5h0m2.4-2.1h0m1.2 2.5h0m2.6-2.5h0m1.1 3.5h0m2-3.5h0m1.2 2.9h0m3.8 .3h0m-86.9 1.5h0m68.4 4.1h0m2.8-3.9h0m5.4 4.1h0m2.1-4.5h0m1.9 2.8h0m.8-2.3h0m.5 5.1h0m1.3-1h0m2.8-1.5h0m-11.6 3.1h0m3.9 1.2h0m1 2.7h0m5.6-4.3h0m1.9 3.6h0m-14.8 4.7h0m9.4-1.4h0m5.4 1.1h0m2.4-.9h0" stroke="#e0e0e0" stroke-width="3.6" stroke-linecap="round" fill="none"/>
<path d="M960.5 602.1h0m26.1 18.5h0m-73.1 6.3h0m-14.5 4h0m19-1.2h0m8.7-.1h0m-35.9 16h0m10.9 11.1h0m2.8 4.9h0m1.8 2.1h0m47.6 2.5h0m35.8 14.6h0m8.5-5.7h0m-115.9 6.4h0m19.3 2.1h0m4.9 2.8h0m-1.1 2.9h0" stroke="#f8c4b6" stroke-width="3.6" stroke-linecap="round" fill="none"/>
<path d="M977.8 606.5h0m20.5-2.7h0m-69.7 6.3h0m32.4 2.7h0m-25.3 4.6h0m2.6 9.3h0m-50.6 7.2h0m14.7 3.2h0m20.3-2h0m-29.5 7.5h0m7.8 1.9h0m8.2-4.7h0m87.1 4.9h0m-101.5 1.2h0m102.2 1.6h0m-95 3.5h0m18.1 8.7h0m22-1.7h0m53.1 9.7h0m6.1-3.3h0m-76.6 5.5h0m41.7 4.7h0m-44.4 2.9h0m-9.2 10.8h0" stroke="#fa9880" stroke-width="3.6" stroke-linecap="round" fill="none"/>
<path d="M946.1 618.6h0m37.6 7.5h0m-76.3 10.9h0m4.5 8.7h0m-1.8 8.4h0m48.4-.5h0m-65 29.9h0" stroke="#fc6244" stroke-width="3.6" stroke-linecap="round" fill="none"/>
<path d="M912.2 639.5h0m-6.4 11.3h0m2.8 4.9h0m-18.7 2.7h0m52.7 32.9h0" stroke="#ff2c0c" stroke-width="3.6" stroke-linecap="round" fill="none"/>
</g>
<rect x="866.4" y="599.6" width="137.9" height="105.1" fill="none" stroke="#111" stroke-width="1.9"/>
<text x="1001.3" y="698.5" font-size="16" font-weight="bold" fill="#111" text-anchor="end">Trem2<tspan dy="-5.8" font-size="9.6">ko</tspan></text>
<clipPath id="uc7"><rect x="1027.6" y="599.6" width="137.9" height="105.1"/></clipPath>
<g clip-path="url(#uc7)">
<path d="M1114.8 597h0m23.3 1.8h0m1.7 7.8h0m4.3-2.9h0m17.6 3h0m-87.2 6h0m50.5-.3h0m15.1 .5h0m6.7 .5h0m-77.5 2.7h0m14.7 .5h0m4.7 2h0m4.6-2.7h0m19.3 .1h0m15.9 2.2h0m1.3-2h0m4.9-.1h0m1.5 1.7h0m6.3 1.5h0m1.8-3.1h0m-82.9 10.4h0m27.3-1.6h0m2.8-1.9h0m15.5 1.8h0m6.8 0h0m2.4 1.6h0m3.4 .2h0m.4-4.7h0m8.7 1.1h0m5.2-1.7h0m13.8 4.8h0m-114.1 5.5h0m9.4 .7h0m14.7-5.2h0m3.2 3h0m33.9 2.4h0m28.9-.9h0m2.2-4.6h0m5.4 2.5h0m-87.9 9h0m10.3-4h0m7 1h0m13.4 .1h0m3.4-.5h0m2.9 2.9h0m3.4 .8h0m1-4.1h0m2.7-1.7h0m1.2 3.1h0m1.8-2.8h0m2.6 2.1h0m5.4 2.3h0m1.5-2.5h0m.7 1.9h0m3.6-4.1h0m5 4.9h0m16.2-2.7h0m5.6 .3h0m6 2h0m-106.3 2.4h0m30.5 3.3h0m16.4-3h0m4 .1h0m2.2 2.4h0m2.7 .2h0m6.7-1.7h0m2.6 0h0m7.3 .5h0m1.9 2h0m4.4-2.2h0m11.9 0h0m6.4-1.4h0m12 1h0m15.3 1.6h0m10.7 .6h0m-122.4 5.4h0m3.5 .1h0m13.3-2.1h0m7.2 .5h0m7.9 1.4h0m2.5-2.3h0m2.1 2h0m43.5 1.3h0m17.5-.9h0m3 1h0m2-2.5h0m15.3-.8h0m7.8 .5h0m-115.6 5.5h0m11.3 3h0m4.7-1.3h0m9.1-1.4h0m7.1-.2h0m13.1-.8h0m2.1 3.6h0m29.9-.1h0m4-.1h0m1.8-2.7h0m4.3 2.7h0m2.6-3.6h0m1.7 3.6h0m9.3-3.4h0m3.6 .7h0m5.9 4.2h0m-91.6 3.2h0m6.5-1.6h0m13.8 4.3h0m5.6-1.7h0m4-.2h0m3.1-.4h0m2.8 1.2h0m10.4-2.8h0m1.9 1.2h0m3.5-.1h0m7.2 1.1h0m.3-3.2h0m4 .4h0m6.3 1.9h0m2.4 .3h0m3.8-.1h0m3.6 .3h0m5.2-3.2h0m5.9 2.9h0m-132.9 5.1h0m5.5 3h0m16.1-1.4h0m6.1-1.5h0m3.2-2.2h0m.7 2.7h0m13.1-2.2h0m7.1 0h0m.4 4.4h0m2.5 .8h0m.3-5.8h0m3 3.5h0m.2-3.5h0m3.4 2.4h0m3.4 .7h0m5.4-2.8h0m3-.2h0m2.1 3.6h0m1.3 1.8h0m1.9-2.8h0m1.4 3.1h0m6.1-3.7h0m6.2 .7h0m3.6-.5h0m2.9-1.2h0m21.2-.9h0m7.6 .6h0m-126 9.7h0m2.2-1.4h0m6.5 .3h0m4.5 1.9h0m5.4-3.5h0m9.7-1.5h0m6.6 4.5h0m6.1-1.6h0m27.1-2.8h0m2.2 1.5h0m1.9 3.9h0m11.3-.5h0m0-2.5h0m3.4-2.8h0m4.5 3h0m2.4-2.2h0m3.2 0h0m1.8 1.5h0m1.1 3.3h0m3.9-4.9h0m7.3-.3h0m7.1 .2h0m.7 5h0m1.2-2.2h0m1.8 2.5h0m0-5.3h0m9.6 2.3h0m1.1-2.9h0m-139.9 6h0m9.2 1.4h0m15.1 3.4h0m4.1-4.5h0m3.2 4.2h0m14.2-.1h0m8.2 0h0m5.5-2.3h0m.6 3h0m2.1-2.6h0m7.3 .6h0m3.7 .1h0m13.4-2.8h0m13.8 5h0m.7-5.1h0m5.9 2.7h0m3.1-.2h0m14.3-1.3h0m4.7 2.9h0m3.9 1.1h0m2.7-.8h0m-132.5 5.9h0m5.9-2.7h0m9.1 3.4h0m4.4-2.7h0m7.7-.3h0m15.4 .4h0m3.5-1.3h0m2.2 .6h0m21.6-.6h0m7.6 .1h0m23.6 2.9h0m2.5-2.6h0m5.6 2.4h0m4.1-2.7h0m2 3.2h0m3.2-4.7h0m2.6 1.9h0m16.9 2.3h0m-100.7 3h0m11-.7h0m9.9 3.5h0m6.8 1h0m14.6-1.2h0m4.4 .1h0m31.5 0h0m6.5-3h0m14.6 3.4h0m-113.7 6h0m22.7-3.3h0m1.1 1.9h0m4.8 .5h0m18.6-2.9h0m24.4 2.5h0m10.7 1.2h0m4.1 .5h0m7-1h0m4.6-1.8h0m1.3 1.8h0m17.6-2.3h0m-116.9 6.1h0m13.7 2.5h0m6.3-.5h0m23.3-2.4h0m8-.9h0m6.4 1.3h0m16.9 1.9h0m12-2.1h0m2.8 2.3h0m8.9-2.2h0m3.4-.9h0m14.8 .3h0m-82.4 5.3h0m40.3 3.8h0m1.8-3.2h0m11.5 0h0m4.9 2.9h0m4.6 .2h0" stroke="#e0e0e0" stroke-width="3.5" stroke-linecap="round" fill="none"/>
<path d="M1120.4 601.8h0m14.9 .4h0m14.2-.3h0m-24.7 5.2h0m21-.4h0m-60.2 7.1h0m26.8-3h0m13.3-1.7h0m8.5 .6h0m-60.2 9.3h0m3-2.8h0m10.6 4.3h0m37.3-1.3h0m7.5-.5h0m13.8-.7h0m-71 8.6h0m7.5 0h0m37.8-3.2h0m2.5 3.5h0m8-.1h0m-99.9 2.2h0m19.8 4h0m1.9-3.5h0m12.9 2.7h0m4.2-2.2h0m3.1 2.7h0m35.7-5.7h0m8.9 2.9h0m16.6 3h0m-79.5 5h0m2.7-2.5h0m.9 3h0m6.9-.4h0m22.4-.6h0m7.3 .8h0m12-3.3h0m4.5 3.3h0m25.2-2h0m12.9-1.9h0m-108.4 7.3h0m7.2 2.4h0m4.5-3.4h0m2.6-.5h0m7.3-.1h0m4.5-.1h0m2.6 3.2h0m1.5-2.1h0m1.9 1.8h0m1.3-2.1h0m5.7 3.4h0m10.4 .3h0m9.2-2.6h0m65.3-1.3h0m-120.4 5.1h0m4.5 1h0m2.8-.9h0m4.7 .9h0m5.3 3.4h0m.6-2.7h0m3.7 1h0m5.5 .6h0m10.2-2.7h0m3.8 0h0m2.9-.5h0m3.9 .5h0m38.3 3.9h0m24.4-1.7h0m10.1 .1h0m-129.8 2.9h0m4.3 4.4h0m2.5 1h0m1.3-2.5h0m1.5-2.1h0m3.9 4.7h0m6.1-2h0m9-2.7h0m5.7-.7h0m6.2 4.3h0m36.1-.1h0m20.1-3.3h0m13.4-.5h0m5.1 3.8h0m4.4-.4h0m-106.8 7.6h0m6.7-2.4h0m7.3-.9h0m30.1-2.4h0m29.6 1h0m6.2-.8h0m8.1 5.3h0m1.9-2h0m3.7 1.8h0m7.1-4.2h0m-107.6 10.5h0m4.5-5.8h0m2.6 6h0m15.3-4.9h0m6-.8h0m2.3 3.4h0m3.1-1.1h0m2.2 2.9h0m20.4-2.1h0m3.4 0h0m11.5 .5h0m1.2-3.7h0m6.6 4.8h0m.4-4.1h0m12.1 1.9h0m5.8-2.6h0m1 4.9h0m1.5-1.8h0m5.7-2.3h0m1.1 1.4h0m6.2-1.1h0m1.1 1.9h0m11.8-2.8h0m-125.7 11.3h0m19.3-1.1h0m1.4-2.6h0m1.2-1.2h0m2.7 1.2h0m3.7 2.6h0m1.9-3.9h0m6.9 5.1h0m2.2-.3h0m3.5-3.5h0m1.7 1.5h0m4.4-.9h0m4.8 2.1h0m7.2-3.8h0m12.4 0h0m2.6 4.8h0m10.2-.7h0m7-2.6h0m1.8 .5h0m10-2.6h0m1.9 3.1h0m9.1-3.4h0m2.4 2.8h0m8.2 1.9h0m-143.2 6.8h0m21.6-.8h0m5.1-2.9h0m9.9 .1h0m1.7 2.6h0m4.8 1h0m5.4-2.7h0m3.2-.7h0m5.3 3.8h0m38.5-1.1h0m5.7-3.3h0m29.6 .3h0m5.2-1.5h0m-136.9 10.7h0m11.3-.3h0m20.2 .1h0m6.2-3.8h0m8.7 3.6h0m9-2h0m2.6 2.4h0m5.6-2.3h0m13.6-1.5h0m33.2 0h0m-86.6 6.8h0m5.5 2.9h0m4.8-3.4h0m2.5 2.9h0m1.6-3.4h0m6.5 .9h0m5 2.2h0m7.6 1.3h0m13-3.7h0m5.3 2.1h0m8.8-3.1h0m24.2 4.4h0m6.8-.2h0m16.9-2.8h0m-105.3 4.4h0m2.3 3.7h0m9.2-3.7h0m.9 2.7h0m2.4-1h0m10.3-1.8h0m40.7 1.8h0m-54.6 4.8h0m11.7 2.2h0m-26.9 4.1h0m7.1-.1h0m12.8 2.6h0" stroke="#f8c4b6" stroke-width="3.5" stroke-linecap="round" fill="none"/>
<path d="M1142.5 595.7h0m14.1 .2h0m-16 3.4h0m-62.9 14.2h0m15.3-1.6h0m21 .5h0m7.6 .3h0m-22.8 3.5h0m23.5 4.3h0m25.5-4.7h0m-44 9.2h0m27.6-1.4h0m-74.9 6h0m10 .5h0m18.9 .3h0m.9-3.4h0m5.5 3.4h0m13.5-2.7h0m1.2 1.1h0m29 .9h0m-72.8 6.6h0m6 1.6h0m11.4-4.8h0m4 0h0m11.6 2.4h0m7.7-1.2h0m-48.5 9.7h0m42.1 .5h0m16.1-3.3h0m50.5 3.2h0m-108.9 5.7h0m15-.7h0m5.1-3.3h0m68.6 0h0m4.2 2.3h0m14.7 0h0m-115.1 6h0m2.9-2.8h0m6.5 .1h0m3 .4h0m2.8 2.6h0m5.6-2.5h0m11.7 2.8h0m31.5-2.4h0m26.7 2.6h0m11.3 0h0m1-2.9h0m-116.2 4.7h0m4 .6h0m6.8-.1h0m8.6 .5h0m2.8-.2h0m1.3 3h0m2.8-3h0m4.3-.4h0m11.4 3.6h0m4.5-.9h0m36.1 .5h0m15.5 1.8h0m6.4-4.7h0m16.5 3.4h0m11.8-1.3h0m-125.6 4.1h0m6.4 2.2h0m7.8-.5h0m.1 2.4h0m12.3-4.4h0m.5 2.4h0m6.8 2.7h0m4.5-3.1h0m31.3-1.3h0m9.1 1.7h0m31.5 .1h0m7.1-.2h0m-119.8 8.7h0m.5-5.1h0m7.3 2.8h0m3.3 1.3h0m1.9-4h0m2.8 3h0m9.1 1.8h0m3.4-5.2h0m9.5 2.6h0m2.6-.8h0m12.4 3.7h0m21-3.1h0m20.2-2.3h0m7.5 1.7h0m-103.7 5.4h0m7.2 .2h0m13.8 1.1h0m7.8-.5h0m9.6-2h0m4.2 2.5h0m10.4-2.5h0m.8 1.4h0m17.6 1.5h0m20.9 2.1h0m20.6-.2h0m-96.1 1.1h0m6.7 4.3h0m31.3-3.4h0m1.9 3.5h0m6.7 .6h0m12.5-3.2h0m5.8 2.6h0m28.7 1.3h0m-110 2.7h0m35.2-.3h0m10.8-.4h0m50.4 .7h0m33.8-1.8h0m-129.2 9.4h0m1.7-2.5h0m41 4.3h0m66.5-2.4h0m-108.8 5.6h0m19.3-1.5h0m24 2.2h0m9.6-3.6h0m.6 2.6h0m5.6-1.5h0m60.1 1.8h0m-115.1 6.3h0m2-3.2h0m17.2 .8h0" stroke="#fa9880" stroke-width="3.5" stroke-linecap="round" fill="none"/>
<path d="M1133.8 599.6h0m5.5 1.6h0m-9.4 19.3h0m11.6-5.1h0m-30.8 8.9h0m-33.6 7.7h0m25.8-2.7h0m4.8 3h0m2.1-1.9h0m-62.3 7.5h0m29.7-.1h0m27.2 .4h0m-45.7 5.7h0m.4-3.1h0m90.4 .9h0m16.7-2.7h0m-130.1 10.1h0m21.6 5h0m23-1.7h0m27.1 2.6h0m32.1-2.9h0m-89.9 8.7h0m15.1 .4h0m2.3-2.5h0m10.7 3.8h0m33.8-1.3h0m15.1 0h0m-62.5 5.1h0m18-.4h0m48.6 .9h0m6.6-.2h0m-67.8 5.4h0m66.7 2.3h0m5.6-.2h0m3.4-2.2h0m-90.5 5h0m5.7 3.1h0m28 0h0m24.1-3.2h0m10.2 1.6h0m-57.3 4.5h0m52.5-1.8h0m43.3 4.6h0m-106.6 2.6h0m33.3 3.9h0m11.2 4.4h0m55.5-2.4h0m-19.2 13.6h0" stroke="#fc6244" stroke-width="3.5" stroke-linecap="round" fill="none"/>
<path d="M1051.8 654.4h0m72.9 9.7h0m-78.8 5.8h0m79 15.5h0" stroke="#ff2c0c" stroke-width="3.5" stroke-linecap="round" fill="none"/>
</g>
<rect x="1027.6" y="599.6" width="137.9" height="105.1" fill="none" stroke="#111" stroke-width="1.9"/>
<text x="1031.6" y="615.1" font-size="16" font-style="italic" fill="#111">Cxcl16</text>
<text x="1159.5" y="698.5" font-size="16" font-weight="bold" fill="#111" text-anchor="end">WT</text>
<clipPath id="uc8"><rect x="1172.4" y="599.6" width="138.1" height="105.1"/></clipPath>
<g clip-path="url(#uc8)">
<path d="M1269 596.2h0m19-1.2h0m6.8 1.8h0m10.9-1.8h0m-22 7.5h0m.5-3.5h0m10.4 1.6h0m10.6 .1h0m6.9-2.3h0m-42.7 9.7h0m1.8-3.2h0m12.7 3h0m.6-2.9h0m4-1h0m4.4-.3h0m.7 3.2h0m7.1-3.1h0m4.2 4.2h0m-54.1 5h0m7.6-2.4h0m13.4 2.5h0m2.8-3.1h0m6 1.2h0m2.8 2.9h0m4.7-2.9h0m6.1 2.2h0m5.2-2.6h0m5.1-.1h0m1.8 3.5h0m1.5-4.6h0m2 3.7h0m.9-3h0m3.3 2.9h0m-40.7 6.6h0m9.2-3.4h0m1.8 2.1h0m5.7-1.8h0m7.1-.4h0m2.5 .3h0m5.5 1.4h0m2.2-1h0m3.6-1.1h0m2.6 3.1h0m-102.4 3.4h0m1.3 1.3h0m34.1 1.9h0m24.9-4h0m12.9 1.3h0m6 1.4h0m4 1.1h0m6.1 1.4h0m2.5-2.3h0m1.3-3.2h0m2.3 .8h0m2.2 3.4h0m1.6-3.3h0m-89.9 7.6h0m2.3-2.5h0m22 5.5h0m4.1-5.7h0m28.4 0h0m2.2 4.3h0m2.5 1.2h0m2.4-5.4h0m3.7 4.3h0m3.2-1.5h0m3 .8h0m1.9-3.4h0m5.2 2.7h0m2.5-2.1h0m7.8 4.4h0m-104.9 4.8h0m3.5-1h0m25.7 1h0m6-1.1h0m27.6 .1h0m7.5-2.8h0m1.9 2.4h0m9.9 2.6h0m1-2.9h0m9.6-1.8h0m4.7 4.5h0m4.7-2.9h0m4.1 1.8h0m-118.3 5.7h0m19.8 1.4h0m7.6-4.7h0m27.4 1.9h0m12.8 3.4h0m3-2.8h0m4.8-2.3h0m9.6 3.2h0m1.8-2.9h0m8.9 2.9h0m3.2-3.4h0m.1 4.5h0m0-1.2h0m3.4 1.2h0m11.3-3.9h0m1.3 2.7h0m3.4-1.6h0m-128.3 9.6h0m27.5-2.8h0m4.7-1h0m23.7 3.2h0m3.4-.2h0m8.8 .4h0m1.9-5.3h0m12.9 5h0m6.7-.2h0m6.6-4.2h0m3 1.5h0m.8 3h0m9-2.9h0m20 .5h0m-126.7 4.8h0m14.1 3h0m14.6-4.5h0m5.7 3.5h0m9.2 1.3h0m.5-1.9h0m35.1 2.1h0m4.6 .5h0m5.6-2.6h0m1.9-2.8h0m26.6 2.5h0m8.6-.2h0m-119.9 8.3h0m4-3h0m13.7 2.5h0m10.8 .3h0m17.6-3.2h0m.4 3.5h0m2.5-3.2h0m2.8 2.6h0m4.4-1.8h0m2.2 2.2h0m2.1-1.4h0m1.4 2.2h0m4.6 .4h0m26.1-.3h0m.3-3.2h0m12.9 3.4h0m11.8-1.4h0m2.6-2.5h0m-118.9 6.1h0m10 .2h0m25.9 2.2h0m5.8 1.1h0m6.3-4.4h0m3.1 .3h0m16 3.1h0m3.5-2.7h0m1.5 3.8h0m41.1-.4h0m-125.8 5.3h0m9.2-2.3h0m9.5 3.1h0m6.8-.1h0m8.5-3.2h0m20.3 3.4h0m5.3-1.3h0m.1-2h0m47.4 3.1h0m11.8-2.3h0m-108.8 7.5h0m17.1-3.1h0m2.8 3h0m4.6-3h0m18.7-.4h0m2.7 .7h0m45.8 .2h0m2 2.5h0m8.8-1.6h0m.5 .9h0m2.2-1h0m4-.5h0m3.1-.1h0m1.9 2.1h0m5 .1h0m-115.3 5.1h0m31.5-2.9h0m9.9 4.2h0m39.5-1.3h0m8.1 .8h0m3.6-.7h0m2.9-2.4h0m1.5 2.7h0m.9-1.9h0m3.6-.1h0m3 2.1h0m4.7-3.2h0m3.8 .7h0m2.1 3.7h0m.7-2.8h0m-95.6 5.7h0m1.2 2.4h0m3.2-3.9h0m66.1 5.6h0m7.6-5.8h0m14.2 .5h0m4.6 .9h0m-105.6 8.7h0m74.1 .5h0m1.9-3.3h0m12.4 3h0m2.6 1.4h0m2.3-5.3h0m1.9 3.8h0m-3.6 4.2h0m-6.6 6.6h0" stroke="#e0e0e0" stroke-width="3.5" stroke-linecap="round" fill="none"/>
<path d="M1276 601.4h0m20.3-1.7h0m12.8 1.8h0m-33.7 6.1h0m22.9-1h0m4.6 .9h0m.7-3.9h0m-38.1 10.3h0m9.9-1.2h0m16.2 1.3h0m1-3.3h0m4.2 .6h0m5.6 2.2h0m-40.2 4.7h0m.3-2.6h0m12.1 5.3h0m2.5-5h0m8 .4h0m-65.8 6.5h0m19.8 1.8h0m17.2-2.5h0m17 2.1h0m6.3 1.1h0m1.9-4h0m5.5 3.3h0m10-2.4h0m11.4 4.6h0m3.1-.1h0m1.5-1.7h0m-77.2 5.7h0m39.9 .8h0m16.8 1.1h0m21.4-2h0m-80.5 7.7h0m4.2-3.9h0m27.7 2.5h0m9.7-3.4h0m1.3 2.3h0m6.8 .8h0m1.7-2.6h0m.5 4.3h0m12-2.3h0m5-.5h0m.8-1.4h0m2.2 2.4h0m-120.7 3.2h0m22.7 4.2h0m14.2-1.3h0m25.8 2h0m35.2-2.2h0m17.3-2.9h0m2 3.2h0m2.8 0h0m2.1 1.7h0m-129 1.3h0m16.4 2.9h0m17.7 1.2h0m34.8-2h0m60.5 2.6h0m-114.6 .7h0m20.7 2.9h0m42.6-2.8h0m4.7 3.4h0m21.5-3.6h0m7.6 0h0m7.6 .4h0m-109.4 7.7h0m3 1h0m18.6-.4h0m8.5 2.9h0m44-3.2h0m-74 6.3h0m20.2 2.7h0m52.7-2.7h0m36 3h0m6.9-.5h0m-123.2 2.5h0m43.7 0h0m26.7-.7h0m42.9 .9h0m9.5 3.6h0m9.2-4h0m-8.3 8h0m-69.2 2.9h0m-30.7 10.4h0m100.8-3.8h0m-14.5 6.7h0m4.4-.5h0" stroke="#f8c4b6" stroke-width="3.5" stroke-linecap="round" fill="none"/>
<path d="M1283.4 595.5h0m25.2 1.3h0m-28.1 4.6h0m23-1.7h0m-30.5 8.7h0m8.9-4.8h0m6 3.5h0m18.6-2.1h0m2.9 3.2h0m2.3-3h0m-53.8 7.7h0m22.4-.5h0m16.9 .4h0m-43.3 5.4h0m38.4-2.8h0m9.3 3.8h0m6.8-.8h0m-54.7 6.7h0m35.8-4.1h0m15.7 3.3h0m-80.2 5.8h0m2.1 0h0m61.8 2.4h0m-65.3 3.1h0m71.2 1.3h0m-89.4 4.1h0m79 2.9h0m4.2 .5h0m6.8-4.3h0m3.5 1.3h0m5.8 3.3h0m-99.8 3.9h0m4.3-.5h0m27.1 2h0m14.3-2.4h0m40.5 .7h0m18 .1h0m-117.2 7.7h0m41.7 .4h0m3.5-.9h0m40.6-.1h0m15.9-1.5h0m3.1 2.4h0m14.2-5.4h0m-84.1 10.1h0m19.4-1.8h0m11.9 .1h0m-30.8 5.2h0m24 4.2h0m49.4 5.5h0m.1 15.7h0m.7-1.2h0m-95.8 6h0" stroke="#fa9880" stroke-width="3.5" stroke-linecap="round" fill="none"/>
<path d="M1256.5 618.9h0m38.7-.6h0m9.1-1.9h0m-63.2 5.4h0m40.2 5.3h0m1.8 4.4h0m22.8-.3h0m-10.3 3.2h0m-39.1 22.3h0m-43.1 2.4h0m54.5 .1h0m-66.8 3.8h0m81.4 1.3h0m30.7 .9h0m-125.2 11.7h0m48.5 1.7h0m66.1 4.6h0m-87.9 8.1h0m8.3 .6h0m76.2 2.7h0" stroke="#fc6244" stroke-width="3.5" stroke-linecap="round" fill="none"/>
<path d="M1291.8 607.1h0m21.3-.6h0m-21.8 12.4h0m-4.8 16.9h0m-27.9 21.6h0m-40.9 21.2h0" stroke="#ff2c0c" stroke-width="3.5" stroke-linecap="round" fill="none"/>
</g>
<rect x="1172.4" y="599.6" width="138.1" height="105.1" fill="none" stroke="#111" stroke-width="1.9"/>
<text x="1307.5" y="698.5" font-size="16" font-weight="bold" fill="#111" text-anchor="end">Trem2<tspan dy="-5.8" font-size="9.6">ko</tspan></text>
<rect x="821.3" y="712.4" width="181.9" height="9.6" fill="url(#cbg)"/>
<line x1="859.7" y1="712.4" x2="859.7" y2="722" stroke="#fff" stroke-width="0.9" opacity="0.75"/>
<line x1="898.1" y1="712.4" x2="898.1" y2="722" stroke="#fff" stroke-width="0.9" opacity="0.75"/>
<line x1="936.5" y1="712.4" x2="936.5" y2="722" stroke="#fff" stroke-width="0.9" opacity="0.75"/>
<line x1="974.9" y1="712.4" x2="974.9" y2="722" stroke="#fff" stroke-width="0.9" opacity="0.75"/>
<text x="824" y="736.4" font-size="12.8" font-weight="bold" fill="#111" text-anchor="middle">0</text>
<text x="860.8" y="736.4" font-size="12.8" font-weight="bold" fill="#111" text-anchor="middle">1</text>
<text x="898.1" y="736.4" font-size="12.8" font-weight="bold" fill="#111" text-anchor="middle">2</text>
<text x="938.9" y="736.4" font-size="12.8" font-weight="bold" fill="#111" text-anchor="middle">3</text>
<text x="976.5" y="736.4" font-size="12.8" font-weight="bold" fill="#111" text-anchor="middle">4</text>
<rect x="1127.3" y="712.4" width="181.9" height="9.6" fill="url(#cbg)"/>
<line x1="1175.9" y1="712.4" x2="1175.9" y2="722" stroke="#fff" stroke-width="0.9" opacity="0.75"/>
<line x1="1225.2" y1="712.4" x2="1225.2" y2="722" stroke="#fff" stroke-width="0.9" opacity="0.75"/>
<line x1="1274.3" y1="712.4" x2="1274.3" y2="722" stroke="#fff" stroke-width="0.9" opacity="0.75"/>
<text x="1130.3" y="736.4" font-size="12.8" font-weight="bold" fill="#111" text-anchor="middle">0</text>
<text x="1176.4" y="736.4" font-size="12.8" font-weight="bold" fill="#111" text-anchor="middle">1</text>
<text x="1225.2" y="736.4" font-size="12.8" font-weight="bold" fill="#111" text-anchor="middle">2</text>
<text x="1275.6" y="736.4" font-size="12.8" font-weight="bold" fill="#111" text-anchor="middle">3</text>
<clipPath id="uc9"><rect x="1411.2" y="599.6" width="138.4" height="105.3"/></clipPath>
<g clip-path="url(#uc9)">
<path d="M1531.7 604h0m-25.7 8h0m-32.9 6.7h0m58.7 5.7h0m-58.8 7.5h0m28.1-.1h0m18.4-2.4h0m15.1-.4h0m-63.4 8.8h0m49.1 1.8h0m-49.6 8.5h0m34 6.8h0m-63 7.9h0m2.2-3.8h0m.1 26.4h0m2.4 3.3h0m3.3-.1h0m3 3.5h0m3.1-1.1h0m4.2-.2h0m4.4-2.2h0m-6.3 5.4h0m5.9 0h0" stroke="#e0e0e0" stroke-width="5.2" stroke-linecap="round" fill="none"/>
<path d="M1475.2 602.4h0m-10.6 4.5h0m4.1-1.8h0m57.4-.4h0m-60.9 10h0m6.4-4.2h0m2.4-1h0m2.8 2.8h0m6.6-1.3h0m27.7 .8h0m-30.7 4.3h0m2.6 1.3h0m5.5-1.4h0m12.2-.5h0m5.1 3.7h0m17.4-4h0m8 3.4h0m-52.3 3.5h0m13.6 4.4h0m20.3-2.4h0m21.9-2.8h0m4.5 0h0m-62 10.2h0m1.4-1.6h0m9.9 2.7h0m7.2-4.9h0m.7 3h0m1.7-1.7h0m11.8 .6h0m.5 2.3h0m4-2.5h0m9-.1h0m4.5 .3h0m10-.5h0m5.3-1.7h0m7.8 5.4h0m-63.8 5.3h0m17-3.8h0m10.3 2h0m21.5 2.6h0m3.3-4.4h0m10.3 3.7h0m-77.7 6.6h0m7.4-3.6h0m31.2 1h0m5 2.1h0m10.4 .1h0m2.3-3.2h0m11.5-2.1h0m5.3 .2h0m9.1 1.6h0m-103.3 7.6h0m4.6 .7h0m6-1.5h0m19.7-1.2h0m4.9 3.7h0m3.5-1.9h0m45.3 .9h0m1.6-3.3h0m8.7 .9h0m-94.8 9.6h0m5.3-1.6h0m11.3-3.1h0m11.3-.1h0m27.8 .5h0m11.5 .9h0m5.2 0h0m17.2-1.1h0m11 1.5h0m-94.2 6.8h0m8 1.4h0m1.8-2.7h0m14.6 .2h0m7.3 0h0m29.3 .3h0m10-1.4h0m-81.7 5.9h0m1.3 2.5h0m6.7 .5h0m6.9 1.7h0m7.7-2.3h0m3.7-.8h0m55.4 1.2h0m13.3-1.9h0m-102.1 8.5h0m6.5-2.9h0m3 3.1h0m3.6 .3h0m11.6-1.6h0m4.7 .7h0m10.8-2.3h0m-29.1 5h0m7.7 4.9h0m7.9-3.7h0m.4 5.9h0m.3 3.6h0m7.4-3.1h0m-7 11.1h0m5.3-.8h0" stroke="#f8c4b6" stroke-width="5.2" stroke-linecap="round" fill="none"/>
<path d="M1488.2 612.5h0m15.6-2.9h0m4.8-.4h0m24.4 4.8h0m-42.1 6.9h0m-5.9 2h0m3 1.9h0m5.2-3.2h0m3.5 3.5h0m9.9 1h0m3.5-4.7h0m11.3 4.1h0m5.5-1.5h0m10.1 .6h0m4.6 1.8h0m-50.9 1.3h0m12.3 .7h0m12.2 4.3h0m7.1-.4h0m9.5 0h0m3.6-.1h0m4.4-1h0m8-2h0m-65.9 9.3h0m7.8-3.7h0m2.7-1.6h0m9.6 5.1h0m7-2.3h0m10 .5h0m4.5-1.1h0m4.3-.7h0m7.2 .8h0m18.7-.7h0m-76.5 9.5h0m14.8-5.3h0m13.9 .8h0m9.2 2.3h0m1.6-2h0m13.3-.3h0m-61.8 5.6h0m6.1 2.3h0m48.7 .4h0m15.3 1h0m3.9-.4h0m-103.6 4.7h0m35.1 1.6h0m44.5 .5h0m-83.3 6.4h0m19.4 .4h0m78.3-.1h0m-81.6 1.6h0m12.4 3.1h0m5.4 2.7h0m-24.7 9.1h0m10.4-1.3h0m5.4-1.6h0m16 1.6h0m-39.2 4.3h0m18.9 1.1h0" stroke="#fa9880" stroke-width="5.2" stroke-linecap="round" fill="none"/>
<path d="M1491.4 619h0m45-1.8h0m-69.3 20.3h0m67.2 5h0m-69.7 5.8h0m67.9-1.8h0m-61.8 8.4h0m57.6 .2h0m-80.6 5.3h0m14.4-1.4h0m-4.3 6.6h0m-1.2 7.6h0m5.1 12.1h0" stroke="#fc6244" stroke-width="5.2" stroke-linecap="round" fill="none"/>
<path d="M1483.6 604.5h0m16.4 43.9h0" stroke="#ff2c0c" stroke-width="5.2" stroke-linecap="round" fill="none"/>
</g>
<rect x="1411.2" y="599.6" width="138.4" height="105.3" fill="none" stroke="#111" stroke-width="1.9"/>
<text x="1415.2" y="615.1" font-size="16" font-style="italic" fill="#111">Arsb</text>
<text x="1543.6" y="698.7" font-size="16" font-weight="bold" fill="#111" text-anchor="end">WT</text>
<clipPath id="uc10"><rect x="1556" y="599.6" width="138.1" height="105.3"/></clipPath>
<g clip-path="url(#uc10)">
<path d="M1677.8 595.3h0m-54 13h0m10.3-.4h0m21-4.1h0m22.1-.2h0m2.5 .4h0m-64 10h0m.8-3.2h0m13.3 3.1h0m52.4 0h0m-47.1 1.9h0m13.3 .4h0m2.1 2.4h0m26 .5h0m4.5-1.7h0m5.9 1.6h0m2.7 2h0m-34.7 .3h0m.3 3.2h0m3.3-2.8h0m8.4 4.1h0m8.7-.5h0m-30.1 7.4h0m17.2-1.3h0m17.5-.7h0m8.1-2.7h0m-34.2 7.7h0m6 1.8h0m9.1-2.7h0m12.8 2.8h0m-82.1 5.6h0m-13.7 5.2h0m18.4 1.8h0m7.3-4.7h0m1.8 2.7h0m9.8 .9h0m59 .8h0m-101.1 5.5h0m12.3-2.3h0m9.6-1.1h0m10.4-.1h0m45.5 2.6h0m-74.3 2.6h0m12.8 1.6h0m-20.8 9.6h0m8.4-4.6h0m9.1 5.1h0m5.4 .1h0m3.4-4.1h0m-20.6 6.6h0m2.8-.9h0m-4.9 7h0m10.1 0h0m13.1 1h0m-13 17.5h0" stroke="#e0e0e0" stroke-width="5.2" stroke-linecap="round" fill="none"/>
<path d="M1643.1 595.2h0m45.2-1.5h0m-51.9 5.2h0m2.9 2.3h0m27.5-3.8h0m2.3 4.4h0m6.3-4.4h0m3.1 4.6h0m4.4 .2h0m6.1-1.8h0m2-3.1h0m7.7 2.9h0m-38.8 7.5h0m1.2-1.8h0m3.8-.2h0m6.7-.2h0m15.5 1.8h0m-54.7 5h0m4.1 .4h0m10.3-.2h0m3.7-.7h0m4 2.2h0m3.2-3.6h0m1.5 4.3h0m1.9-1.7h0m6.4-.4h0m2.5-3.1h0m1.1 2.1h0m20.5-.5h0m1-1.6h0m-49.2 6h0m17.6 2.7h0m13.6-2.1h0m15.4 3.4h0m2.7-3.2h0m-54.6 10.3h0m13.2-.1h0m26.2-3.8h0m16.3-.5h0m-42.1 10.2h0m6.7-4.2h0m40.1 .3h0m-100.4 10h0m11-4.4h0m12.8 4h0m44.7 0h0m6-1.6h0m-90.8 7.1h0m32.9-.5h0m26.9-3.6h0m16.7 1.8h0m6.1 .3h0m-68.6 7.9h0m25.9-3.2h0m-20.7 10.2h0m-13.8 1.7h0m-8.1 7.9h0m12.7 .3h0m5.4-1.3h0m-3.5 7.9h0m31.1-3.7h0m-35.8 10h0m4.8 7.1h0m1.4-3.6h0m-3.8 7.7h0m-7.1 3.7h0" stroke="#f8c4b6" stroke-width="5.2" stroke-linecap="round" fill="none"/>
<path d="M1640.2 594.8h0m-22.4 4h0m27.8-.6h0m3.5 3h0m43.8 1.5h0m-66.4 1h0m11.6 3.8h0m14.7 1.3h0m11.7-1h0m9.6 .5h0m5 .4h0m-39.6 5.8h0m2.5-2.8h0m37 2.7h0m-51.5 5.4h0m28.1-.3h0m16.7-.2h0m24-1.4h0m-55.2 6.6h0m22.5-2h0m8.2 3.3h0m2.7-3.5h0m-34.1 7.2h0m14.5-.6h0m18.5 .3h0m-89.8 9.6h0m9.8-5.6h0m42.2 1.4h0m11.1 3.3h0m-63.1 6.8h0m13.4 1.5h0m14.2 2.4h0m5.7-3.1h0m-33.1 6.5h0m33.3 1.8h0m64.8-2h0m-85.9 9.8h0m27.1-1.4h0m-36.1 5.5h0m2.3-2.7h0m0 6.6h0m8.3 4h0m3.4 1.8h0" stroke="#fa9880" stroke-width="5.2" stroke-linecap="round" fill="none"/>
<path d="M1619.6 600.8h0m33.2 4.9h0m29.6 1.8h0m-13.3 6.2h0m11.4-2.8h0m-16.1 5.2h0m1 3.7h0m22-3.8h0m-86.7 34h0m78.9-4.7h0m-82.9 7h0m26.6 .3h0m5.5 15.7h0m5.3-4.5h0" stroke="#fc6244" stroke-width="5.2" stroke-linecap="round" fill="none"/>
<path d="M1617.4 626.4h0m47.5 8.6h0" stroke="#ff2c0c" stroke-width="5.2" stroke-linecap="round" fill="none"/>
</g>
<rect x="1556" y="599.6" width="138.1" height="105.3" fill="none" stroke="#111" stroke-width="1.9"/>
<text x="1691.1" y="698.7" font-size="16" font-weight="bold" fill="#111" text-anchor="end">Trem2<tspan dy="-5.8" font-size="9.6">ko</tspan></text>
<clipPath id="uc11"><rect x="1715.4" y="598.5" width="138.3" height="105.9"/></clipPath>
<g clip-path="url(#uc11)">
<path d="M1827.4 602.4h0m6-2.5h0m5.3 .5h0m1.7 2.5h0m-44.9 3.1h0m25.6 .7h0m1.7 1.6h0m9.1 .5h0m2.3-2.3h0m8 .7h0m-50.8 2h0m2.5 4h0m5.9 .4h0m13.4-1.5h0m2.6 .5h0m10.4-1.4h0m4.5 .7h0m.5 3h0m3.9-2.7h0m8.6-.2h0m4 1.2h0m-80.3 4.3h0m2.7-.9h0m3.6 4.2h0m19.2-.3h0m.5-5.4h0m.9 3.8h0m13.2 .1h0m4.5-1.7h0m1.5-.9h0m8.5-.8h0m9.4 5.3h0m2.8-1.7h0m1.2-4.2h0m4.1 4.7h0m2.2 .8h0m.2-2h0m2.3-2.2h0m2.3 1.5h0m3.9 2.7h0m-73.9 4h0m30.9-1h0m1.5-1.2h0m6.8 3.2h0m3.4-4.2h0m6.7 3.5h0m3-2.2h0m5.9 2.1h0m1.6-2.9h0m1.6 2.8h0m4.2 0h0m12.4 2.1h0m-84.7 2h0m24.9 1.6h0m1.1-1.8h0m2.9 1h0m3-1.5h0m1.5 3.4h0m4.5 0h0m1.6-3.8h0m1.9 2.8h0m2.5-1.8h0m4.1 3.9h0m1.9-4.1h0m4.5 2.7h0m.2-3h0m6.5 2.3h0m7-.3h0m-49.5 4.3h0m1.3 1.5h0m2.1-2.2h0m4.2 .1h0m2.6 3.4h0m5.8 0h0m1.8-4h0m.5 4.5h0m3.6-3.1h0m2.8 1.1h0m18.8-2.2h0m6.8 2.7h0m2.9-1.8h0m.9 1.9h0m-91.3 7.4h0m34.9-.4h0m7-2.9h0m.7 1.6h0m6.5-1.9h0m2.7 3.9h0m2.8-4.4h0m2.7 3.3h0m.5-1.9h0m3.8 .7h0m8.2 .6h0m6.4-2.7h0m9.5-.2h0m-49 6.6h0m6.3 3.6h0m1.8-3.9h0m2 3h0m4.1-1.8h0m3.4-.3h0m2 3.3h0m1.4-4.3h0m4.1 3.9h0m-56.8 5.3h0m19.7-.2h0m16.1-1.9h0m2.9 3.2h0m6.9-3.4h0m2.8 2.1h0m4.2 1.4h0m2.3-3.1h0m.1 1.4h0m2.7-1.9h0m-31.7 9.4h0m8.5 0h0m18.1-1.3h0m1.5-3h0m9.7 2.9h0m-47.3 6.5h0m-10.5 4.6h0m13.7-1.9h0m.2 4.9h0m17.2-5h0m2.6 1.6h0m-41.6 8.5h0m3.2-3.9h0m20.8 6.3h0m12.9 .7h0m-21.9 9.4h0m6.1-4.4h0m15.3 2.9h0m-15.9 10.7h0" stroke="#e0e0e0" stroke-width="4.8" stroke-linecap="round" fill="none"/>
<path d="M1820.8 625h0m-4.8 6.3h0m33-3.3h0m-66.4 14.9h0m35-2.7h0m-26.2 10h0m-30 2.1h0m6 3.1h0m23.1 .7h0m-22.4 5.4h0m1.3-2.3h0m2.4 1.9h0m7.9-1.8h0m9-1.6h0m2.7 1.3h0m4.3-1.7h0m3.3 4.5h0m4.8-1.8h0m-27.4 7.5h0m3.1-2.8h0m6.3 3h0m3.3 .3h0m4.6-1.1h0m15.2-1.5h0m-35.7 7h0m35.7-1.8h0m2.2 3.6h0m-35.4 1.1h0m12 0h0m11 4h0m5-.9h0m-7 4.5h0m8-1.1h0m2.2 3.4h0" stroke="#f8c4b6" stroke-width="4.8" stroke-linecap="round" fill="none"/>
<path d="M1754.5 643.5h0m-3.4 6.5h0m26-2.1h0m3.9 6.1h0m-21.7 6.8h0m5.4 1.5h0m10.4-3h0m9 0h0m-34.6 8.8h0m5.9-1h0m5.3-3.9h0m6.9 4.8h0m3.4-4.1h0m3.7 1h0m7.5 3.2h0m2.2-4h0m4.4 .4h0m9.4 1.6h0m-31.6 3h0m2.8 4.7h0m2.2-3h0m6.4-1.3h0m2.6 4h0m4.2-2.1h0m1.6 2.3h0m.7-2.2h0m3.8 2h0m2.7 .5h0m6.3 .1h0m-27.8 4.9h0m4.5-.4h0m2.6-3.3h0m1.5 5.2h0m2.7-3.3h0m2.6 2.4h0m5.4-.4h0m5.8-2.2h0m13.5-.4h0m-57.7 5h0m17.6 2.1h0m2 1.6h0m2.5-2.2h0m2.8 1.3h0m5.3-2.4h0m3.9 1.5h0m6.3 1.9h0m8.6-3.7h0m-37.1 9h0m14.2-1.4h0m14.8 3h0m-13.6 2.3h0" stroke="#fa9880" stroke-width="4.8" stroke-linecap="round" fill="none"/>
<path d="M1757.7 658.5h0m1.3 10h0m5.5-.4h0m-8 1h0m4.9 7.3h0m1.6 2h0m30.2-1.5h0m-31.8 4.9h0m3.8 1.5h0m3.9 2h0m11.6 1h0m4.9-1h0m-.3 5.1h0m8.1-2.1h0m2.7 0h0m-29.5 7h0m10.9 1.7h0m6-2.7h0m8.6 .9h0m-.7 4.7h0" stroke="#fc6244" stroke-width="4.8" stroke-linecap="round" fill="none"/>
</g>
<rect x="1715.4" y="598.5" width="138.3" height="105.9" fill="none" stroke="#111" stroke-width="1.9"/>
<text x="1719.4" y="614" font-size="16" font-style="italic" fill="#111">Ifit2</text>
<text x="1847.7" y="698.2" font-size="16" font-weight="bold" fill="#111" text-anchor="end">WT</text>
<clipPath id="uc12"><rect x="1860" y="598.5" width="138.2" height="105.9"/></clipPath>
<g clip-path="url(#uc12)">
<path d="M1943 594.9h0m4 .2h0m13.8-1h0m15.1 1.9h0m2-2.2h0m-53.4 4.1h0m1.3 1.5h0m6.4-1.9h0m2.4 2.7h0m4.6-.3h0m1.1 3h0m3.4-2.8h0m3.9-.8h0m11.9-1.5h0m2.8-.6h0m.1 3.5h0m3.6 .7h0m1.7-4.4h0m1.8 2.2h0m3.3-2h0m2.2 2.3h0m15.8-1.7h0m2 1.3h0m4.3 1.2h0m-69.3 8h0m1.7-2.3h0m10.8 1.2h0m1.6 1h0m1.9-2.6h0m4.3 1.2h0m4.6-.5h0m2 1.9h0m.7-4.8h0m.4 2h0m2.1-1h0m2.2 4h0m0-1.6h0m2.4-3.6h0m.9 5.2h0m2.1-3h0m2.7-2.1h0m1.9 3.1h0m3.1-.1h0m4.5 2.3h0m1.9-1.6h0m.3-2.9h0m.1 4.3h0m3.7-1.8h0m.9-3.1h0m3.4 3.2h0m1.5-3.6h0m5.9 5.3h0m.2-1.8h0m1.9-3h0m-63.9 9.5h0m15.5-3.2h0m3.7 1.3h0m7.9 1.1h0m2.7 2.1h0m4.2-4.3h0m2 1.3h0m3.7-1.6h0m2.3 2.4h0m2.1 .2h0m4.8-.6h0m2.1-2.6h0m6.1 .8h0m2.2 2.7h0m4.6-.6h0m1.3-1.9h0m2.3 1.6h0m-72 3.2h0m5.4 2.4h0m2.1-1.3h0m3 2h0m1.3-1.5h0m3 1.9h0m23.7-2.9h0m10 1.9h0m4.5-2.3h0m2.8 5.5h0m1.2-5.4h0m2.2 2.5h0m6.3-2h0m.7 3.7h0m4.5-1.8h0m-62.2 4.3h0m8.6 0h0m1.5 3.2h0m2.7-2.5h0m5.2-1.5h0m15.5 .3h0m2.1 2.3h0m-39.1 6.8h0m1.7-1.8h0m8.3 1.1h0m23.8-1.8h0m-20.5 9.5h0m4.2 .2h0m4.9 5.6h0m5.1-1.6h0m-32.3 4h0m6.6 5h0m23.6-4.8h0m-35.4 5.8h0m16.7-.5h0m14.2 1.5h0m-20.4 7.4h0m-9.3 7.9h0m9.3 .2h0" stroke="#e0e0e0" stroke-width="4.8" stroke-linecap="round" fill="none"/>
<path d="M1940.3 642.4h0m-14.3 17.7h0m6-2.3h0m-9.1 5.4h0" stroke="#f8c4b6" stroke-width="4.8" stroke-linecap="round" fill="none"/>
<path d="M1988 594.4h0m-30.8 5.2h0m22.3 1.7h0m-42.7 2.2h0m40.4 11.3h0m-35.4 24.6h0m-38.8 9.7h0m63.9-3.5h0m-60.9 5.8h0m-.3 7.7h0m11.6 2.3h0m-2.4 8.7h0m18.9-.3h0m-26.3 15.2h0m11.4-2.3h0m-4.8 5.9h0" stroke="#fa9880" stroke-width="4.8" stroke-linecap="round" fill="none"/>
<path d="M1940.2 630.5h0m-4.4 5.9h0m-16.6 14.7h0m23.4 2.9h0m-40.6 5h0m13.6-1.6h0m-12.4 10.2h0m5.5-1.1h0m.8 14.1h0m.7 1.9h0m7.6 3.6h0m-5.7 6.6h0m8.5-.5h0" stroke="#fc6244" stroke-width="4.8" stroke-linecap="round" fill="none"/>
<path d="M1907.6 661.7h0m2.4-4h0m4 4.1h0m-15.7 2h0m10.8 10.4h0m7.3-1.7h0m-11.8 13.1h0m.5-2.5h0m8.3 3.3h0m-4 2.2h0" stroke="#ff2c0c" stroke-width="4.8" stroke-linecap="round" fill="none"/>
</g>
<rect x="1860" y="598.5" width="138.2" height="105.9" fill="none" stroke="#111" stroke-width="1.9"/>
<text x="1995.2" y="698.2" font-size="16" font-weight="bold" fill="#111" text-anchor="end">Trem2<tspan dy="-5.8" font-size="9.6">ko</tspan></text>
<rect x="1814.7" y="711.8" width="182.6" height="10.2" fill="url(#cbg)"/>
<line x1="1853.5" y1="711.8" x2="1853.5" y2="722" stroke="#fff" stroke-width="0.9" opacity="0.75"/>
<line x1="1892" y1="711.8" x2="1892" y2="722" stroke="#fff" stroke-width="0.9" opacity="0.75"/>
<line x1="1930.5" y1="711.8" x2="1930.5" y2="722" stroke="#fff" stroke-width="0.9" opacity="0.75"/>
<line x1="1969" y1="711.8" x2="1969" y2="722" stroke="#fff" stroke-width="0.9" opacity="0.75"/>
<text x="1817.3" y="736.2" font-size="12.8" font-weight="bold" fill="#111" text-anchor="middle">0</text>
<text x="1854.5" y="736.2" font-size="12.8" font-weight="bold" fill="#111" text-anchor="middle">1</text>
<text x="1891.5" y="736.2" font-size="12.8" font-weight="bold" fill="#111" text-anchor="middle">2</text>
<text x="1932.5" y="736.2" font-size="12.8" font-weight="bold" fill="#111" text-anchor="middle">3</text>
<text x="1970.3" y="736.2" font-size="12.8" font-weight="bold" fill="#111" text-anchor="middle">4</text>
<defs><filter id="bl05" x="-20%" y="-20%" width="140%" height="140%"><feGaussianBlur stdDeviation="0.55"/></filter><filter id="bl1" x="-5%" y="-5%" width="110%" height="110%"><feGaussianBlur stdDeviation="0.9"/></filter><filter id="bl6" x="-10%" y="-10%" width="120%" height="120%"><feGaussianBlur stdDeviation="14"/></filter><radialGradient id="gh"><stop offset="0" stop-color="#19a634" stop-opacity="0.9"/><stop offset="0.5" stop-color="#128428" stop-opacity="0.6"/><stop offset="0.8" stop-color="#0c661c" stop-opacity="0.3"/><stop offset="1" stop-color="#084614" stop-opacity="0"/></radialGradient><radialGradient id="gb"><stop offset="0" stop-color="#2cea50"/><stop offset="0.55" stop-color="#1ec83e" stop-opacity="0.85"/><stop offset="1" stop-color="#149a2c" stop-opacity="0"/></radialGradient><radialGradient id="gc"><stop offset="0" stop-color="#8affb0"/><stop offset="0.6" stop-color="#4cf87a" stop-opacity="0.7"/><stop offset="1" stop-color="#2cea50" stop-opacity="0"/></radialGradient></defs>
<clipPath id="mp1"><rect x="10.6" y="746.6" width="349.6" height="349"/></clipPath>
<rect x="10.6" y="746.6" width="349.6" height="349" fill="#010b04"/>
<g clip-path="url(#mp1)">
<g filter="url(#bl1)" fill="none" stroke-linecap="round" stroke-linejoin="round">
<path d="M280.3 757.8L275.2 788.2L277.1 823.5" stroke="#22cc44" stroke-width="2" opacity="1"/>
<path d="M138.7 842.7L151.5 823.5L157.3 799.5" stroke="#22cc44" stroke-width="1.4" opacity="0.9"/>
<path d="M145.1 830.5L164.3 838.5" stroke="#22cc44" stroke-width="1.3" opacity="0.9"/>
<path d="M10.6 891.4L42.6 893.3L74.7 895.9" stroke="#22cc44" stroke-width="1.4" opacity="0.9"/>
<path d="M10.6 858.7L68.3 860.6" stroke="#22cc44" stroke-width="1.3" opacity="0.7"/>
<path d="M260.4 913.2L286.1 897.1L311.7 887.5L322.9 892.3" stroke="#22cc44" stroke-width="1.6" opacity="0.9"/>
<path d="M85.9 927.6L103.5 942L135.5 953.2" stroke="#22cc44" stroke-width="1.3" opacity="0.7999999999999999"/>
<path d="M327.7 860.3L343.7 845.9L360.4 832.4" stroke="#22cc44" stroke-width="1.4" opacity="0.9"/>
<path d="M292.5 1062.1L298.9 1079.7L305.3 1096.4" stroke="#22cc44" stroke-width="1.4" opacity="0.7"/>
<path d="M355.9 945.2L350.1 964.4" stroke="#22cc44" stroke-width="1.4" opacity="0.7"/>
<path d="M183.6 794.6L199.6 820.3L206 842.7" stroke="#22cc44" stroke-width="1.1" opacity="0.6"/>
<path d="M207.6 906.8L222 919.6L230 930.8" stroke="#22cc44" stroke-width="1.6" opacity="0.9"/>
<path d="M330.9 797.8L318.1 785L308.5 769" stroke="#22cc44" stroke-width="1.2" opacity="0.7"/>
<path d="M330.9 797.8L322.9 820.3L314.9 839.5" stroke="#22cc44" stroke-width="1.3" opacity="0.7"/>
<path d="M103.5 1034.9L87.5 1025.3L78.8 1022.7" stroke="#22cc44" stroke-width="1.3" opacity="0.9"/>
<path d="M103.5 1034.9L111.5 1015" stroke="#22cc44" stroke-width="1.8" opacity="1"/>
<path d="M151.5 1034.9L167.6 1018.9L177.8 1010.2" stroke="#22cc44" stroke-width="1.1" opacity="0.7"/>
<path d="M218.8 1044.5L210.8 1030.1" stroke="#22cc44" stroke-width="1.4" opacity="0.9"/>
<path d="M218.8 1044.5L222 1066.3" stroke="#22cc44" stroke-width="1.4" opacity="0.9"/>
<path d="M340.5 991.6L346 975.6" stroke="#22cc44" stroke-width="1.1" opacity="0.6"/>
<path d="M79.5 900.3L82.7 919.6" stroke="#22cc44" stroke-width="1.1" opacity="0.6"/>
<path d="M303.7 746.6L306.9 753" stroke="#22cc44" stroke-width="2.2" opacity="1"/>
<path d="M260.4 913.2L266.8 935.6L282.9 938.8" stroke="#22cc44" stroke-width="1.1" opacity="0.6"/>
<path d="M241.2 804.3L247.6 829.9L254 842.7" stroke="#22cc44" stroke-width="0.9" opacity="0.5"/>
<path d="M217.2 935.6L234.8 929.2" stroke="#22cc44" stroke-width="0.9" opacity="0.5"/>
</g>
<g filter="url(#bl1)">
<ellipse cx="79.5" cy="769" rx="15.4" ry="15.4" fill="url(#gh)" opacity="0.8" transform="rotate(0 79.5 769)"/>
<polygon points="67.9,762.6 71.1,762.5 71.8,755.5 77,759.8 82.8,753.8 84.2,759.5 90,758.7 88.5,764.8 93.9,764.7 89.6,769.1 97.5,774.9 87.5,777.2 86.7,783.9 80.9,780.2 77.4,784.1 74.6,778.4 64.8,781.7 69.8,774.7 66,770.3 69.1,767.4" fill="#189e32" opacity="0.7"/>
<line x1="79.5" y1="769" x2="72.2" y2="793.2" stroke="#22b844" stroke-width="1.3" opacity="0.8"/>
<line x1="79.5" y1="769" x2="101.6" y2="765.3" stroke="#22b844" stroke-width="1.4" opacity="0.8"/>
<line x1="79.5" y1="769" x2="52.3" y2="767.7" stroke="#22b844" stroke-width="0.9" opacity="0.8"/>
<line x1="79.5" y1="769" x2="73.5" y2="796.3" stroke="#22b844" stroke-width="1.1" opacity="0.8"/>
<line x1="79.5" y1="769" x2="99.2" y2="761.3" stroke="#22b844" stroke-width="1.3" opacity="0.8"/>
<line x1="79.5" y1="769" x2="54.4" y2="772.2" stroke="#22b844" stroke-width="1" opacity="0.8"/>
<ellipse cx="80.5" cy="768.2" rx="10" ry="10.2" fill="url(#gb)" opacity="1" transform="rotate(0 79.5 769)"/>
<ellipse cx="81.9" cy="770.8" rx="10" ry="10.2" fill="url(#gb)" opacity="1" transform="rotate(0 79.5 769)"/>
<ellipse cx="79.5" cy="769" rx="5.4" ry="5.8" fill="url(#gc)" opacity="1" transform="rotate(0 79.5 769)"/>
<ellipse cx="151.5" cy="752.4" rx="7.7" ry="7.7" fill="url(#gh)" opacity="0.6" transform="rotate(0 151.5 752.4)"/>
<polygon points="157.2,756.1 155.5,756.1 155.7,760.3 152.3,756.7 149.8,760.8 149.5,757 147.4,758.3 148.3,755.1 143.4,754.1 147,752.6 144.3,749.8 147.4,749.3 145.6,745.6 149,747.5 150.9,742.7 152,748.3 154.7,746 154.9,749 158.3,747.4 156.1,751.4 159.4,752.7 156.4,753" fill="#189e32" opacity="0.4"/>
<ellipse cx="152.5" cy="751.8" rx="5" ry="5.1" fill="url(#gb)" opacity="0.3" transform="rotate(0 151.5 752.4)"/>
<ellipse cx="151.9" cy="753.3" rx="5" ry="5.1" fill="url(#gb)" opacity="0.3" transform="rotate(0 151.5 752.4)"/>
<ellipse cx="210.8" cy="765.8" rx="12" ry="10" fill="url(#gh)" opacity="0.5" transform="rotate(60 210.8 765.8)"/>
<polygon points="207.7,756.2 211.2,757.9 214.7,757.9 214.6,762.2 220.3,761.6 216.6,765.3 223.3,767.4 216.5,768.4 219,772.9 214,772.8 213.2,776.7 210.2,772.7 208.2,776 206.5,771.5 202.9,771.1 203.2,766.5 200.2,762.6 205.6,762.3 203.7,759.1 207.9,759.3" fill="#189e32" opacity="0.3"/>
<ellipse cx="210.8" cy="765.5" rx="8.4" ry="6.7" fill="url(#gb)" opacity="0.2" transform="rotate(60 210.8 765.8)"/>
<ellipse cx="212.2" cy="767.8" rx="8.4" ry="6.7" fill="url(#gb)" opacity="0.2" transform="rotate(60 210.8 765.8)"/>
<ellipse cx="282.9" cy="770.6" rx="20.8" ry="11.5" fill="url(#gh)" opacity="0.8" transform="rotate(100 282.9 770.6)"/>
<polygon points="282.7,754.9 285,757.4 288.7,752.1 287.2,762.2 290.6,758.2 288.3,764.5 294.3,766.5 290.4,768.6 295.4,772.1 288.9,776.3 293.6,783.5 287,780.9 285.3,791.8 282.8,780.1 281.4,787.3 278.9,783.7 274.6,787.8 276.7,777.9 273.6,779.2 275.8,774 272.2,772.9 275.3,767.4 274.1,763.8 278.2,764.3 276.1,757.1 280.7,758.1" fill="#189e32" opacity="0.7"/>
<line x1="282.9" y1="770.6" x2="291.8" y2="756" stroke="#22b844" stroke-width="1.3" opacity="0.8"/>
<ellipse cx="283" cy="768.5" rx="16.5" ry="7.7" fill="url(#gb)" opacity="1" transform="rotate(100 282.9 770.6)"/>
<ellipse cx="280.7" cy="768.9" rx="16.5" ry="7.7" fill="url(#gb)" opacity="1" transform="rotate(100 282.9 770.6)"/>
<ellipse cx="282.9" cy="770.6" rx="8.9" ry="4.3" fill="url(#gc)" opacity="1" transform="rotate(100 282.9 770.6)"/>
<ellipse cx="330.9" cy="797.8" rx="10.5" ry="9.2" fill="url(#gh)" opacity="0.6" transform="rotate(0 330.9 797.8)"/>
<polygon points="340.7,791.4 338,796.4 341,798.2 337.8,800 340.7,805.6 333.4,802.2 333,805.8 331.1,802.6 325.4,807.7 326.7,801.7 320.4,803.4 324.6,799.5 322,797.8 323.9,795.7 321.2,790.3 327.8,793.4 328.7,786.8 330.6,791.7 333.5,790 334.6,794.5" fill="#189e32" opacity="0.5"/>
<ellipse cx="329.9" cy="799.7" rx="7.2" ry="6.1" fill="url(#gb)" opacity="0.5" transform="rotate(0 330.9 797.8)"/>
<ellipse cx="330.6" cy="796.4" rx="7.2" ry="6.1" fill="url(#gb)" opacity="0.5" transform="rotate(0 330.9 797.8)"/>
<ellipse cx="313.3" cy="825.1" rx="10.2" ry="7.7" fill="url(#gh)" opacity="0.7" transform="rotate(80 313.3 825.1)"/>
<polygon points="320.3,817.8 318.7,823.1 321.7,826.4 317.9,827.8 319.3,831.5 316.3,829.6 317.4,835.9 312.9,831.6 311.4,834.4 311.1,829 306.7,831.3 309.2,826.5 304.1,823.6 308.1,821.9 306.9,819 310.4,820.8 310.2,815.9 313.5,820 315.6,817.3 315.9,820.7" fill="#189e32" opacity="0.5"/>
<ellipse cx="312.4" cy="826.6" rx="7.5" ry="5.1" fill="url(#gb)" opacity="0.6" transform="rotate(80 313.3 825.1)"/>
<ellipse cx="311.8" cy="824.1" rx="7.5" ry="5.1" fill="url(#gb)" opacity="0.6" transform="rotate(80 313.3 825.1)"/>
<ellipse cx="313.3" cy="825.1" rx="4" ry="2.9" fill="url(#gc)" opacity="0.8" transform="rotate(80 313.3 825.1)"/>
<ellipse cx="138.7" cy="845.9" rx="15.4" ry="9.2" fill="url(#gh)" opacity="0.8" transform="rotate(100 138.7 845.9)"/>
<polygon points="142.8,857.4 139.6,854.6 137.8,859.3 137.6,853.8 134.2,860.6 135.6,852.2 130.7,854.1 133,849 130.2,847.3 132.3,845.4 127.5,842.5 133.4,841.6 133,832.6 136.6,839.7 136.9,829 138.9,835.7 141.5,828.2 141.1,838.1 147.6,833.4 144.8,840.4 149.3,839.9 144.4,843.6 149.6,845.3 143.4,848.5 148.8,853.4 142,852.7" fill="#189e32" opacity="0.7"/>
<line x1="138.7" y1="845.9" x2="123.4" y2="841.8" stroke="#22b844" stroke-width="1.1" opacity="0.8"/>
<ellipse cx="138.3" cy="845.3" rx="12" ry="6.1" fill="url(#gb)" opacity="1" transform="rotate(100 138.7 845.9)"/>
<ellipse cx="137.8" cy="844.1" rx="12" ry="6.1" fill="url(#gb)" opacity="1" transform="rotate(100 138.7 845.9)"/>
<ellipse cx="138.7" cy="845.9" rx="6.5" ry="3.5" fill="url(#gc)" opacity="1" transform="rotate(100 138.7 845.9)"/>
<ellipse cx="109.9" cy="844.3" rx="10.5" ry="9.2" fill="url(#gh)" opacity="0.5" transform="rotate(70 109.9 844.3)"/>
<polygon points="116.4,854 111.4,850.7 111,857.3 108.7,850.6 106.4,852.1 106.3,848 100.2,850.4 103.1,845.1 101.1,843.4 103.7,842.4 101.1,836.8 105.4,839.5 105,833.8 109.1,838.7 110.9,832.5 111.5,838.7 115.4,834.2 113.4,840.1 118.4,838.9 115.8,842.4 118,844.7 115.9,845.8 118.1,849.9 114.3,848.5" fill="#189e32" opacity="0.3"/>
<ellipse cx="111.6" cy="845.1" rx="7.2" ry="6.1" fill="url(#gb)" opacity="0.2" transform="rotate(70 109.9 844.3)"/>
<ellipse cx="111" cy="844.3" rx="7.2" ry="6.1" fill="url(#gb)" opacity="0.2" transform="rotate(70 109.9 844.3)"/>
<ellipse cx="34.6" cy="860.3" rx="11.8" ry="7.7" fill="url(#gh)" opacity="0.6" transform="rotate(0 34.6 860.3)"/>
<polygon points="31.8,852.3 34.4,855.1 37.5,850.7 39,856.3 44.4,853.5 40.2,858.9 48,859 42.1,860.8 47.9,863.2 39.7,863.2 41.6,866.6 38,864.1 38.7,869.5 33.7,864.3 30.8,867.7 31.6,864.2 25.5,866.7 29.6,862.6 25.5,861.7 27.4,859.9 25.2,857.5 28.5,857.9 26,854.3 30.9,855.9" fill="#189e32" opacity="0.5"/>
<ellipse cx="35.6" cy="861.3" rx="9" ry="5.1" fill="url(#gb)" opacity="0.5" transform="rotate(0 34.6 860.3)"/>
<ellipse cx="36.1" cy="860.5" rx="9" ry="5.1" fill="url(#gb)" opacity="0.5" transform="rotate(0 34.6 860.3)"/>
<ellipse cx="60.2" cy="865.1" rx="5.4" ry="5.4" fill="url(#gh)" opacity="0.7" transform="rotate(0 60.2 865.1)"/>
<polygon points="56.1,867.9 57.3,865.6 53.6,864.5 56.8,864.5 55.5,863 57.8,862.4 58.1,860.9 59.2,861.5 60.3,859 61.3,862.2 63,859.5 62.6,862.7 65.6,861.9 63,864.5 65.6,865.8 64.1,866.3 65.5,868.5 62.6,867.9 63.9,870.8 61,868.4 59.5,871.3 58.8,868.5 57.1,870.4 58,867.6" fill="#189e32" opacity="0.6"/>
<ellipse cx="60.6" cy="865.3" rx="3.5" ry="3.6" fill="url(#gb)" opacity="0.8" transform="rotate(0 60.2 865.1)"/>
<ellipse cx="61.3" cy="864.7" rx="3.5" ry="3.6" fill="url(#gb)" opacity="0.8" transform="rotate(0 60.2 865.1)"/>
<ellipse cx="60.2" cy="865.1" rx="1.9" ry="2" fill="url(#gc)" opacity="0.9" transform="rotate(0 60.2 865.1)"/>
<ellipse cx="15.4" cy="861.9" rx="10.5" ry="9.2" fill="url(#gh)" opacity="0.6" transform="rotate(90 15.4 861.9)"/>
<polygon points="21.8,851.3 19.7,857.6 24.5,856.4 21.2,860.1 25.7,860.8 22,863.4 25.4,867.7 20.3,866.6 21,870 18.4,868 16.5,872.9 15.6,869.2 12.7,872.2 13,867.8 8.4,869 10.3,865.7 6.5,866.5 9.2,861.7 4.9,860.2 10.8,859.5 5.8,854.9 12.2,858 11.9,851.6 14.1,855.6 16.3,852.6 17.4,855.3" fill="#189e32" opacity="0.4"/>
<ellipse cx="16.6" cy="861" rx="7.2" ry="6.1" fill="url(#gb)" opacity="0.3" transform="rotate(90 15.4 861.9)"/>
<ellipse cx="15.8" cy="860.9" rx="7.2" ry="6.1" fill="url(#gb)" opacity="0.3" transform="rotate(90 15.4 861.9)"/>
<ellipse cx="194.8" cy="839.5" rx="12.9" ry="10.8" fill="url(#gh)" opacity="0.6" transform="rotate(60 194.8 839.5)"/>
<polygon points="184.7,834.2 188.6,833.9 185.8,828.9 190.8,832.2 192.4,824.6 194.5,830.7 198.2,829.2 197.1,834.1 204.4,830.2 200.8,836 204.5,838 201.7,840.3 208.1,841.8 201,843.5 204.5,847.2 199.4,844.6 199,849.4 196.8,846.4 193.5,854.5 193.8,847.7 190.2,852.1 190,844.3 184.1,846 188.2,840.6 184.1,839.1 188.7,837.8" fill="#189e32" opacity="0.4"/>
<ellipse cx="193.5" cy="838.3" rx="9.1" ry="7.2" fill="url(#gb)" opacity="0.3" transform="rotate(60 194.8 839.5)"/>
<ellipse cx="194.6" cy="840.6" rx="9.1" ry="7.2" fill="url(#gb)" opacity="0.3" transform="rotate(60 194.8 839.5)"/>
<ellipse cx="231.6" cy="860.3" rx="13.8" ry="11.5" fill="url(#gh)" opacity="0.5" transform="rotate(50 231.6 860.3)"/>
<polygon points="223.5,869.8 225.3,863.5 219.1,862.2 224.8,859.4 221.7,855.8 225.2,855 225,845.5 229.7,853.4 231.6,845.1 235.2,852.9 238.6,850.9 238.7,857.9 243.1,859.5 239.8,861.4 241.4,865.4 237.5,866.4 240.9,874.4 232.9,868 231.6,873.6 229.5,866.8" fill="#189e32" opacity="0.3"/>
<ellipse cx="233.1" cy="858.8" rx="9.7" ry="7.7" fill="url(#gb)" opacity="0.2" transform="rotate(50 231.6 860.3)"/>
<ellipse cx="231.4" cy="859.5" rx="9.7" ry="7.7" fill="url(#gb)" opacity="0.2" transform="rotate(50 231.6 860.3)"/>
<ellipse cx="121.1" cy="884.3" rx="12.2" ry="9.6" fill="url(#gh)" opacity="0.8" transform="rotate(-30 121.1 884.3)"/>
<polygon points="129.9,877.6 128.5,880 132.3,882.2 128.1,884.8 129.5,887.3 126,887.7 128.5,893.7 122.8,890.6 119.4,896.3 118,891.1 113.1,896.2 114.9,890.1 107.8,889.6 115.3,886.1 109.9,883 113.7,882 111.7,879 118.2,880.1 118.1,873.5 122.1,879.2 124.7,875.6 125,879.8" fill="#189e32" opacity="0.7"/>
<line x1="121.1" y1="884.3" x2="134" y2="887.1" stroke="#22b844" stroke-width="1.2" opacity="0.8"/>
<line x1="121.1" y1="884.3" x2="116.7" y2="894.8" stroke="#22b844" stroke-width="1.3" opacity="0.8"/>
<ellipse cx="122.3" cy="885.8" rx="8.7" ry="6.4" fill="url(#gb)" opacity="1" transform="rotate(-30 121.1 884.3)"/>
<ellipse cx="120.3" cy="884" rx="8.7" ry="6.4" fill="url(#gb)" opacity="1" transform="rotate(-30 121.1 884.3)"/>
<ellipse cx="121.1" cy="884.3" rx="4.7" ry="3.6" fill="url(#gc)" opacity="1" transform="rotate(-30 121.1 884.3)"/>
<ellipse cx="204.4" cy="881.1" rx="10.1" ry="8.5" fill="url(#gh)" opacity="0.6" transform="rotate(70 204.4 881.1)"/>
<polygon points="199.6,869.7 204,875.3 207.4,871.9 207.1,875.4 211.6,875.2 209.7,879.9 211.7,881.4 210.4,884.3 210.9,887 207.7,885.7 207.4,889.4 205.2,886.7 201.5,890.7 201.8,885.6 197,888.1 200.4,882.5 196,881.7 198.6,878.5 196.9,874.8 200.8,876.4" fill="#189e32" opacity="0.4"/>
<ellipse cx="203.9" cy="882" rx="7.1" ry="5.6" fill="url(#gb)" opacity="0.3" transform="rotate(70 204.4 881.1)"/>
<ellipse cx="204" cy="882.5" rx="7.1" ry="5.6" fill="url(#gb)" opacity="0.3" transform="rotate(70 204.4 881.1)"/>
<ellipse cx="230" cy="895.5" rx="13.3" ry="10" fill="url(#gh)" opacity="0.4" transform="rotate(80 230 895.5)"/>
<polygon points="235.4,905.2 232.3,903.4 228.7,910.4 227.4,903.3 222.3,907.4 224.7,898.6 217.3,897.3 224.6,893.8 219.5,888.4 225.3,888 225.7,883.4 230.2,889.1 232.6,882.5 233.1,890.5 239.4,888.6 235.2,894.9 242.3,897.8 234.7,899.6" fill="#189e32" opacity="0.3"/>
<ellipse cx="231.5" cy="893.6" rx="9.7" ry="6.7" fill="url(#gb)" opacity="0.1" transform="rotate(80 230 895.5)"/>
<ellipse cx="229.5" cy="897" rx="9.7" ry="6.7" fill="url(#gb)" opacity="0.1" transform="rotate(80 230 895.5)"/>
<ellipse cx="207.6" cy="906.8" rx="15.1" ry="10.8" fill="url(#gh)" opacity="0.8" transform="rotate(30 207.6 906.8)"/>
<polygon points="205.5,918.3 203.3,911.1 198.1,912.9 200.8,907.7 196.1,906.4 197.7,903.3 196.9,901.3 201.2,901.3 201.5,897 204.9,899.4 206.9,894.9 209.4,898.8 214.1,894.7 214.2,903.1 222.1,903.4 217.5,907.1 223.7,910.6 216.9,912 219,915.7 212.6,915 212.7,919.7 208,913.8" fill="#189e32" opacity="0.7"/>
<line x1="207.6" y1="906.8" x2="218" y2="917.9" stroke="#22b844" stroke-width="0.9" opacity="0.8"/>
<line x1="207.6" y1="906.8" x2="210.3" y2="887.4" stroke="#22b844" stroke-width="1" opacity="0.8"/>
<ellipse cx="205.4" cy="906.4" rx="11.2" ry="7.2" fill="url(#gb)" opacity="1" transform="rotate(30 207.6 906.8)"/>
<ellipse cx="208.3" cy="904.7" rx="11.2" ry="7.2" fill="url(#gb)" opacity="1" transform="rotate(30 207.6 906.8)"/>
<ellipse cx="207.6" cy="906.8" rx="6" ry="4" fill="url(#gc)" opacity="1" transform="rotate(30 207.6 906.8)"/>
<ellipse cx="260.4" cy="913.2" rx="14.8" ry="13.1" fill="url(#gh)" opacity="0.8" transform="rotate(20 260.4 913.2)"/>
<polygon points="242.9,915.2 250,912.5 243.9,906.9 252.5,909.1 250.6,902.8 256.2,905.7 255.5,899.9 259.4,905.4 262.9,902.4 263.7,906.5 272.2,904.1 269.2,908 274.8,909.1 270.1,913.9 277.1,917.5 269.1,917.9 273.9,925.5 264.1,919.4 267.4,929.2 261.2,919.9 257.9,926.7 255.6,919.4 247.9,923.5 253,918" fill="#189e32" opacity="0.7"/>
<line x1="260.4" y1="913.2" x2="280" y2="912.6" stroke="#22b844" stroke-width="1.1" opacity="0.8"/>
<line x1="260.4" y1="913.2" x2="247.1" y2="932.4" stroke="#22b844" stroke-width="1.4" opacity="0.8"/>
<line x1="260.4" y1="913.2" x2="276" y2="925" stroke="#22b844" stroke-width="1.1" opacity="0.8"/>
<line x1="260.4" y1="913.2" x2="253.2" y2="899.7" stroke="#22b844" stroke-width="1" opacity="0.8"/>
<line x1="260.4" y1="913.2" x2="257.1" y2="931.7" stroke="#22b844" stroke-width="1.3" opacity="0.8"/>
<ellipse cx="262.4" cy="914.7" rx="10.2" ry="8.7" fill="url(#gb)" opacity="1" transform="rotate(20 260.4 913.2)"/>
<ellipse cx="261.4" cy="910.9" rx="10.2" ry="8.7" fill="url(#gb)" opacity="1" transform="rotate(20 260.4 913.2)"/>
<ellipse cx="260.4" cy="913.2" rx="5.5" ry="4.9" fill="url(#gc)" opacity="1" transform="rotate(20 260.4 913.2)"/>
<ellipse cx="85.9" cy="927.6" rx="11.3" ry="8.5" fill="url(#gh)" opacity="0.6" transform="rotate(60 85.9 927.6)"/>
<polygon points="84.5,938.6 83.7,932.6 79.8,934.3 81.4,930.9 78,928.7 79.7,927.3 76.4,922.7 80.6,923.2 77.5,917.1 82.6,921.3 83.6,918.6 85.5,920.7 87.1,915.5 87.9,923.4 91.5,921.4 90,925.8 94,925.9 90.7,927.7 95.1,930.6 91.9,932.1 95.2,936.3 89.9,934.4 89.9,938.1 86.8,934" fill="#189e32" opacity="0.5"/>
<ellipse cx="85.9" cy="927.9" rx="8.2" ry="5.6" fill="url(#gb)" opacity="0.5" transform="rotate(60 85.9 927.6)"/>
<ellipse cx="85" cy="926.4" rx="8.2" ry="5.6" fill="url(#gb)" opacity="0.5" transform="rotate(60 85.9 927.6)"/>
<ellipse cx="103.5" cy="1034.9" rx="12.9" ry="10.8" fill="url(#gh)" opacity="0.8" transform="rotate(-60 103.5 1034.9)"/>
<polygon points="93.5,1029.8 98.4,1030.5 99.5,1025.6 103.1,1026 105.3,1021.3 106.4,1028.9 113.9,1025.1 110,1030.3 113.1,1033.3 109.4,1034.9 113.7,1040 107.6,1039.6 109.4,1046.8 103.7,1043.3 101.6,1049.1 100.1,1042.4 94.9,1043 97.2,1038.3 92.6,1038.7 95.4,1035" fill="#189e32" opacity="0.7"/>
<line x1="103.5" y1="1034.9" x2="113.6" y2="1047.6" stroke="#22b844" stroke-width="1" opacity="0.8"/>
<line x1="103.5" y1="1034.9" x2="120" y2="1045.6" stroke="#22b844" stroke-width="1" opacity="0.8"/>
<line x1="103.5" y1="1034.9" x2="103.6" y2="1050.8" stroke="#22b844" stroke-width="1" opacity="0.8"/>
<ellipse cx="101.6" cy="1036.8" rx="9.1" ry="7.2" fill="url(#gb)" opacity="1" transform="rotate(-60 103.5 1034.9)"/>
<ellipse cx="102.9" cy="1035.9" rx="9.1" ry="7.2" fill="url(#gb)" opacity="1" transform="rotate(-60 103.5 1034.9)"/>
<ellipse cx="103.5" cy="1034.9" rx="4.9" ry="4" fill="url(#gc)" opacity="1" transform="rotate(-60 103.5 1034.9)"/>
<ellipse cx="133.9" cy="1044.5" rx="12.3" ry="11.5" fill="url(#gh)" opacity="0.6" transform="rotate(0 133.9 1044.5)"/>
<polygon points="142.6,1049.5 138.8,1051.7 140.5,1057.6 133.7,1052.3 131.1,1058.7 130.7,1049.7 122.6,1052.6 127,1046.9 122.1,1043.8 127.1,1043.1 122.1,1038.3 129.2,1039.8 130.9,1033.8 132.7,1037.3 138.2,1034.3 137.9,1037.6 142.6,1038.8 140.9,1042.9 148.5,1044.1 141.5,1046.5" fill="#189e32" opacity="0.4"/>
<ellipse cx="134.5" cy="1044.2" rx="8.2" ry="7.7" fill="url(#gb)" opacity="0.3" transform="rotate(0 133.9 1044.5)"/>
<ellipse cx="132.2" cy="1042.4" rx="8.2" ry="7.7" fill="url(#gb)" opacity="0.3" transform="rotate(0 133.9 1044.5)"/>
<ellipse cx="218.8" cy="1044.5" rx="11.3" ry="10" fill="url(#gh)" opacity="0.8" transform="rotate(0 218.8 1044.5)"/>
<polygon points="224.5,1052.2 221.5,1051.2 222,1056.5 219.1,1051.6 215.9,1054.5 215.7,1050.4 210.5,1053.1 212.4,1047.5 206,1049.8 211.5,1044.3 206.8,1043 212.8,1041.5 209.5,1037.2 213.6,1038.9 213.3,1034.5 216.8,1038.6 218,1033 219.7,1039.5 223,1036.4 223.4,1040.3 230.4,1037.1 226,1043 232.2,1044.5 226.5,1045.2 230.2,1048.2 223.7,1047.6" fill="#189e32" opacity="0.7"/>
<line x1="218.8" y1="1044.5" x2="221.8" y2="1027" stroke="#22b844" stroke-width="1" opacity="0.8"/>
<line x1="218.8" y1="1044.5" x2="228.6" y2="1035.3" stroke="#22b844" stroke-width="1.2" opacity="0.8"/>
<ellipse cx="220.9" cy="1045.6" rx="7.8" ry="6.7" fill="url(#gb)" opacity="1" transform="rotate(0 218.8 1044.5)"/>
<ellipse cx="216.9" cy="1044.2" rx="7.8" ry="6.7" fill="url(#gb)" opacity="1" transform="rotate(0 218.8 1044.5)"/>
<ellipse cx="218.8" cy="1044.5" rx="4.2" ry="3.7" fill="url(#gc)" opacity="1" transform="rotate(0 218.8 1044.5)"/>
<ellipse cx="159.5" cy="1062.1" rx="11.3" ry="10" fill="url(#gh)" opacity="0.6" transform="rotate(-30 159.5 1062.1)"/>
<polygon points="156.7,1072.1 156.4,1067.3 152.9,1069.4 154.9,1065.6 148.4,1066.5 151.7,1063 150.3,1060.5 153.6,1059.7 149.9,1055.9 156.6,1056.9 155.7,1053.4 159.9,1056.1 161.3,1050.4 162.8,1056.6 168.1,1053 165.4,1058.7 168.6,1058.3 165.7,1061.2 168.6,1062.3 166.4,1064.6 169.4,1070.2 163.1,1066.8 163.6,1073.5 159.3,1067.6" fill="#189e32" opacity="0.4"/>
<ellipse cx="159.6" cy="1060.5" rx="7.8" ry="6.7" fill="url(#gb)" opacity="0.3" transform="rotate(-30 159.5 1062.1)"/>
<ellipse cx="158.5" cy="1062" rx="7.8" ry="6.7" fill="url(#gb)" opacity="0.3" transform="rotate(-30 159.5 1062.1)"/>
<ellipse cx="199.6" cy="1076.5" rx="11.3" ry="10" fill="url(#gh)" opacity="0.6" transform="rotate(0 199.6 1076.5)"/>
<polygon points="190.5,1074.8 192.9,1072.2 192.4,1067.2 197,1071.4 199.4,1063.9 201.6,1071.4 206,1067.5 205.4,1071.9 212,1073.2 207,1076.3 211.1,1079.4 206.4,1079.8 208.5,1084.4 202.5,1082.4 200.1,1087 197.4,1081.8 193.7,1088 195,1080.4 188.3,1080.9 192.1,1076.2" fill="#189e32" opacity="0.4"/>
<ellipse cx="198.8" cy="1076.7" rx="7.8" ry="6.7" fill="url(#gb)" opacity="0.3" transform="rotate(0 199.6 1076.5)"/>
<ellipse cx="199.4" cy="1076.5" rx="7.8" ry="6.7" fill="url(#gb)" opacity="0.3" transform="rotate(0 199.6 1076.5)"/>
<ellipse cx="321.3" cy="1018.9" rx="19.2" ry="16.9" fill="url(#gh)" opacity="0.4" transform="rotate(80 321.3 1018.9)"/>
<polygon points="325,997.8 326.2,1008.7 333.6,1000.1 328.7,1012.3 339,1010 331.1,1016.9 337,1023.8 330.8,1023 332.3,1029.2 327.7,1031 327.6,1033.7 322.4,1031.1 318.3,1040.2 318.2,1028.2 309.3,1035.5 312.1,1027.8 304,1027.7 311.4,1021 306.2,1016.2 311,1013.2 304.7,1003.4 316.5,1010.2 312.7,998.9 319.7,1006.1" fill="#189e32" opacity="0.3"/>
<ellipse cx="319" cy="1017.4" rx="13.2" ry="11.3" fill="url(#gb)" opacity="0.1" transform="rotate(80 321.3 1018.9)"/>
<ellipse cx="318.8" cy="1018.8" rx="13.2" ry="11.3" fill="url(#gb)" opacity="0.1" transform="rotate(80 321.3 1018.9)"/>
<ellipse cx="356.5" cy="1009.3" rx="8.8" ry="6.9" fill="url(#gh)" opacity="0.6" transform="rotate(80 356.5 1009.3)"/>
<polygon points="353.9,1016.1 354.2,1013 350.1,1013.8 352,1010.8 350.6,1009.8 352.7,1007.6 349,1003 354,1005.9 353.3,1000.4 355.4,1004.7 356.9,1001.8 358.6,1004.3 361.1,1003.2 359.7,1007.2 362.8,1007.3 360.2,1008.7 364.7,1011.2 360.4,1011.9 361.2,1015.4 358.7,1014.4 357.5,1018.2 355.8,1015.3" fill="#189e32" opacity="0.5"/>
<ellipse cx="357.3" cy="1009" rx="6.3" ry="4.6" fill="url(#gb)" opacity="0.5" transform="rotate(80 356.5 1009.3)"/>
<ellipse cx="355.9" cy="1008.1" rx="6.3" ry="4.6" fill="url(#gb)" opacity="0.5" transform="rotate(80 356.5 1009.3)"/>
<ellipse cx="15.4" cy="1086.1" rx="8.7" ry="7.7" fill="url(#gh)" opacity="0.6" transform="rotate(0 15.4 1086.1)"/>
<polygon points="20.4,1094 15.8,1090.7 12.5,1095.1 13.1,1089.9 8.5,1092.7 9.7,1087.8 7.7,1087.2 9.5,1084.9 8,1082.3 11.4,1082.5 11.7,1077.7 15.6,1081.6 16.3,1079.6 18.7,1081.5 24.1,1080.4 20.5,1084.2 25.7,1084.4 19.7,1087.1 23.3,1090.2 18.5,1089.5" fill="#189e32" opacity="0.4"/>
<ellipse cx="14.7" cy="1085.7" rx="6" ry="5.1" fill="url(#gb)" opacity="0.3" transform="rotate(0 15.4 1086.1)"/>
<ellipse cx="16.9" cy="1084.7" rx="6" ry="5.1" fill="url(#gb)" opacity="0.3" transform="rotate(0 15.4 1086.1)"/>
<ellipse cx="250.8" cy="921.2" rx="6.1" ry="6.1" fill="url(#gh)" opacity="0.7" transform="rotate(0 250.8 921.2)"/>
<polygon points="258.1,921.6 254.4,922.9 257.2,925.9 253.6,924 252.9,926.9 251.5,925 250.9,927.9 249.8,924.9 247.7,926.4 247.3,923.5 245.5,924.3 246.5,922.3 244.2,921.1 246.6,919.7 244.7,916.5 248.8,918.1 247.6,915.2 250.3,917.5 252.1,915 252,917.8 254.2,916 254.3,918.7 257.4,917.8 254.5,920.8" fill="#189e32" opacity="0.5"/>
<ellipse cx="250.3" cy="921.9" rx="4" ry="4.1" fill="url(#gb)" opacity="0.6" transform="rotate(0 250.8 921.2)"/>
<ellipse cx="249.8" cy="921.7" rx="4" ry="4.1" fill="url(#gb)" opacity="0.6" transform="rotate(0 250.8 921.2)"/>
<ellipse cx="250.8" cy="921.2" rx="2.2" ry="2.3" fill="url(#gc)" opacity="0.8" transform="rotate(0 250.8 921.2)"/>
</g>
<g filter="url(#bl05)">
<ellipse cx="80.3" cy="769.9" rx="3.6" ry="4.4" fill="#3ad0dc" opacity="0.9"/>
<ellipse cx="151.4" cy="751.6" rx="2.3" ry="2.8" fill="#2a9ce8" opacity="0.9"/>
<ellipse cx="210.9" cy="766.1" rx="3" ry="3.6" fill="#2272e8" opacity="0.9"/>
<ellipse cx="282.3" cy="769.8" rx="3.5" ry="4.2" fill="#3ad0dc" opacity="0.9"/>
<ellipse cx="331.4" cy="796.9" rx="2.8" ry="3.4" fill="#2a9ce8" opacity="0.9"/>
<ellipse cx="313.3" cy="825.7" rx="2.3" ry="2.8" fill="#2a9ce8" opacity="0.9"/>
<ellipse cx="139.3" cy="845.3" rx="2.8" ry="3.4" fill="#3ad0dc" opacity="0.9"/>
<ellipse cx="110" cy="844.4" rx="2.8" ry="3.4" fill="#2272e8" opacity="0.9"/>
<ellipse cx="34.3" cy="859.9" rx="2.3" ry="2.8" fill="#2a9ce8" opacity="0.9"/>
<ellipse cx="60.3" cy="864.2" rx="2.3" ry="2.8" fill="#3ad0dc" opacity="0.9"/>
<ellipse cx="16" cy="862.5" rx="2.8" ry="3.4" fill="#2a9ce8" opacity="0.9"/>
<ellipse cx="193.9" cy="840.5" rx="3.2" ry="3.9" fill="#2a9ce8" opacity="0.9"/>
<ellipse cx="231.4" cy="859.6" rx="3.5" ry="4.2" fill="#2272e8" opacity="0.9"/>
<ellipse cx="121.2" cy="884.7" rx="2.9" ry="3.5" fill="#3ad0dc" opacity="0.9"/>
<ellipse cx="204.8" cy="881.4" rx="2.5" ry="3.1" fill="#2a9ce8" opacity="0.9"/>
<ellipse cx="230.1" cy="894.9" rx="3" ry="3.6" fill="#2272e8" opacity="0.9"/>
<ellipse cx="208.4" cy="906.2" rx="3.2" ry="3.9" fill="#3ad0dc" opacity="0.9"/>
<ellipse cx="260.6" cy="914.1" rx="3.6" ry="4.4" fill="#3ad0dc" opacity="0.9"/>
<ellipse cx="85.9" cy="928" rx="2.5" ry="3.1" fill="#2a9ce8" opacity="0.9"/>
<ellipse cx="103.4" cy="1035.4" rx="3.2" ry="3.9" fill="#3ad0dc" opacity="0.9"/>
<ellipse cx="133.6" cy="1044.4" rx="3.5" ry="4.2" fill="#2a9ce8" opacity="0.9"/>
<ellipse cx="219.7" cy="1044.7" rx="3" ry="3.6" fill="#3ad0dc" opacity="0.9"/>
<ellipse cx="159.3" cy="1063" rx="3" ry="3.6" fill="#2a9ce8" opacity="0.9"/>
<ellipse cx="199.9" cy="1075.5" rx="3" ry="3.6" fill="#2a9ce8" opacity="0.9"/>
<ellipse cx="321.3" cy="1018.2" rx="3.6" ry="4.4" fill="#2272e8" opacity="0.9"/>
<ellipse cx="357.3" cy="1008.3" rx="2.3" ry="2.8" fill="#2a9ce8" opacity="0.9"/>
<ellipse cx="14.9" cy="1086.9" rx="2.3" ry="2.8" fill="#2a9ce8" opacity="0.9"/>
<ellipse cx="250.9" cy="920.5" rx="2.3" ry="2.8" fill="#2a9ce8" opacity="0.9"/>
<circle cx="170.8" cy="905.8" r="1.3" fill="#30c8f0"/>
<circle cx="148.3" cy="977.9" r="1.4" fill="#30c8f0"/>
<circle cx="116.3" cy="951.6" r="1.3" fill="#30c8f0"/>
<circle cx="327.7" cy="1054.1" r="1.5" fill="#30c8f0"/>
<circle cx="60.2" cy="896.5" r="1.3" fill="#30c8f0"/>
<circle cx="44.2" cy="1054.7" r="0.8" fill="#30c8f0"/>
<circle cx="77.9" cy="977.9" r="1.2" fill="#ff3a18"/>
<circle cx="125.3" cy="984.3" r="1.7" fill="#ff3a18"/>
<circle cx="185.2" cy="985.9" r="1" fill="#e03418"/>
<circle cx="42.6" cy="1034.9" r="1.6" fill="#ff3a18"/>
<circle cx="52.2" cy="778.6" r="1" fill="#e03418"/>
<circle cx="87.5" cy="825.1" r="0.9" fill="#e03418"/>
<circle cx="194.8" cy="831.5" r="1.6" fill="#ff3a18"/>
<circle cx="190" cy="829.2" r="1.3" fill="#ff3a18"/>
<circle cx="25" cy="857.1" r="1.6" fill="#ff3a18"/>
<circle cx="319.7" cy="885.9" r="1" fill="#e03418"/>
<circle cx="106.7" cy="1030.1" r="1.6" fill="#ff3a18"/>
<circle cx="257.2" cy="912.5" r="1.6" fill="#ff3a18"/>
<circle cx="194.8" cy="846.5" r="1.2" fill="#ff3a18"/>
<circle cx="255.6" cy="897.1" r="1" fill="#e03418"/>
<circle cx="334.8" cy="1085.5" r="0.9" fill="#e03418"/>
<circle cx="58.6" cy="1002.8" r="0.8" fill="#e03418"/>
<circle cx="358.1" cy="1033.3" r="0.9" fill="#e03418"/>
</g>
</g>
<clipPath id="mp2"><rect x="367" y="746.6" width="349.6" height="349"/></clipPath>
<rect x="367" y="746.6" width="349.6" height="349" fill="#010b04"/>
<g clip-path="url(#mp2)">
<g filter="url(#bl1)" fill="none" stroke-linecap="round" stroke-linejoin="round">
<path d="M447.1 765.8L446.4 786.6L443.9 813.9" stroke="#22cc44" stroke-width="1.3" opacity="0.7999999999999999"/>
<path d="M480.7 773.8L472.7 794.6L464.7 805.9" stroke="#22cc44" stroke-width="1.1" opacity="0.7"/>
<path d="M480.7 773.8L493.5 754.6" stroke="#22cc44" stroke-width="1.1" opacity="0.7"/>
<path d="M416.6 837.9L397.4 833.1" stroke="#22cc44" stroke-width="1.1" opacity="0.7999999999999999"/>
<path d="M416.6 837.9L434.3 849.1" stroke="#22cc44" stroke-width="1.1" opacity="0.7999999999999999"/>
<path d="M416.6 837.9L405.4 818.7" stroke="#22cc44" stroke-width="1.1" opacity="0.7999999999999999"/>
<path d="M416.6 837.9L426.3 821.9" stroke="#22cc44" stroke-width="1.1" opacity="0.7999999999999999"/>
<path d="M671.3 975.6L642.5 980.4L618.4 994.8" stroke="#22cc44" stroke-width="1.4" opacity="0.7999999999999999"/>
<path d="M668.1 916.4L669.7 951.6L674.5 958" stroke="#22cc44" stroke-width="1.4" opacity="0.7999999999999999"/>
<path d="M554.4 905.2L565.6 926L575.2 946.8" stroke="#22cc44" stroke-width="1.3" opacity="0.7999999999999999"/>
<path d="M644.1 754.6L643.1 785" stroke="#22cc44" stroke-width="1.3" opacity="0.9"/>
<path d="M578.4 794.6L559.2 813.9" stroke="#22cc44" stroke-width="1.1" opacity="0.6"/>
<path d="M429.5 975.6L443.9 985.2" stroke="#22cc44" stroke-width="1.3" opacity="0.9"/>
<path d="M429.5 975.6L423.1 999.6" stroke="#22cc44" stroke-width="0.9" opacity="0.6"/>
<path d="M692.1 953.2L703.3 961.2L706.5 974" stroke="#22cc44" stroke-width="1.4" opacity="0.9"/>
<path d="M379.8 794.6L392.6 817.1" stroke="#22cc44" stroke-width="1.1" opacity="0.5"/>
</g>
<g filter="url(#bl1)">
<ellipse cx="405.4" cy="777" rx="12.2" ry="10.1" fill="url(#gh)" opacity="0.6" transform="rotate(60 405.4 777)"/>
<polygon points="405.9,787.4 402.4,784 399.7,784.8 399.8,780.8 393.5,776.2 398.1,774.1 396.2,770.2 401.6,770.7 402,763.1 405.1,768.7 410,767.1 409.4,773.2 413.5,772 411,776.2 415.9,780.3 411.4,781.4 411.6,787.6 408,784" fill="#189e32" opacity="0.5"/>
<ellipse cx="407.2" cy="776.5" rx="8.6" ry="6.8" fill="url(#gb)" opacity="0.5" transform="rotate(60 405.4 777)"/>
<ellipse cx="405.8" cy="776.4" rx="8.6" ry="6.8" fill="url(#gb)" opacity="0.5" transform="rotate(60 405.4 777)"/>
<ellipse cx="447.1" cy="786.6" rx="15.2" ry="8.5" fill="url(#gh)" opacity="0.7" transform="rotate(95 447.1 786.6)"/>
<polygon points="437.8,793.6 441.8,788.9 436.4,786.4 441.5,783.9 438.4,778.2 444.2,779.9 442.9,771.1 446.6,778.1 447.4,772.9 449,779.5 452.5,775.9 451.2,781.6 456.5,780.4 452.4,784.5 456.4,787.5 451.5,788.4 455.7,795.8 449.7,792 450.4,801.5 447.3,794.2 445.8,798.6 445.2,794.2 441.4,802 443.2,793.3" fill="#189e32" opacity="0.6"/>
<line x1="447.1" y1="786.6" x2="453.6" y2="778.1" stroke="#22b844" stroke-width="0.9" opacity="0.8"/>
<ellipse cx="448.4" cy="786.4" rx="12.1" ry="5.6" fill="url(#gb)" opacity="0.8" transform="rotate(95 447.1 786.6)"/>
<ellipse cx="447.8" cy="785" rx="12.1" ry="5.6" fill="url(#gb)" opacity="0.8" transform="rotate(95 447.1 786.6)"/>
<ellipse cx="447.1" cy="786.6" rx="6.5" ry="3.2" fill="url(#gc)" opacity="0.9" transform="rotate(95 447.1 786.6)"/>
<ellipse cx="480.7" cy="773.8" rx="12.2" ry="10.1" fill="url(#gh)" opacity="0.6" transform="rotate(80 480.7 773.8)"/>
<polygon points="472.9,769.2 476.6,769.7 473.3,761.4 479.3,767.7 482.7,760.4 482.5,768.4 488.1,763.1 486.4,768.5 492.1,767.6 487.7,773.8 491.4,776.4 486.6,777.4 486.8,781.4 484,780 482.5,784.4 479.8,779.8 476,786.8 477.2,780.7 471.4,779.8 474.6,775.6 468.2,774.8 475,772.4" fill="#189e32" opacity="0.4"/>
<ellipse cx="482.7" cy="774.5" rx="8.6" ry="6.8" fill="url(#gb)" opacity="0.3" transform="rotate(80 480.7 773.8)"/>
<ellipse cx="481.6" cy="775.8" rx="8.6" ry="6.8" fill="url(#gb)" opacity="0.3" transform="rotate(80 480.7 773.8)"/>
<ellipse cx="528.8" cy="749.8" rx="13" ry="9.3" fill="url(#gh)" opacity="0.7" transform="rotate(110 528.8 749.8)"/>
<polygon points="520.5,747.6 525,745.9 525.4,737.5 527.9,743.4 531.6,739.5 531.6,743.5 538.3,741.2 535,746.3 540.2,748.2 534.1,751.2 536.4,756.6 531.2,754.7 530.7,763.1 527.8,755.9 522.4,760.8 523.9,754.7 517.5,754.9 522,750.9" fill="#189e32" opacity="0.6"/>
<ellipse cx="528.5" cy="747.9" rx="9.7" ry="6.2" fill="url(#gb)" opacity="0.8" transform="rotate(110 528.8 749.8)"/>
<ellipse cx="529.1" cy="751.3" rx="9.7" ry="6.2" fill="url(#gb)" opacity="0.8" transform="rotate(110 528.8 749.8)"/>
<ellipse cx="528.8" cy="749.8" rx="5.2" ry="3.5" fill="url(#gc)" opacity="0.9" transform="rotate(110 528.8 749.8)"/>
<ellipse cx="554.4" cy="753" rx="12.2" ry="10.1" fill="url(#gh)" opacity="0.7" transform="rotate(90 554.4 753)"/>
<polygon points="561,742 557.9,748.6 562.4,748.3 560.8,750.2 564.3,753.1 560.3,754.7 563.4,756.2 559.9,758.4 559.5,761.3 556.9,759.6 555.7,766.1 554.8,759 551.8,766.4 551.7,759.7 548.1,762.4 549.7,756.2 542.7,758.3 549.1,754 544.5,751 549.1,750.7 544.6,746.3 551,748.4 550.5,742.5 553.8,746.7 554.4,740.5 556.8,745.5" fill="#189e32" opacity="0.6"/>
<ellipse cx="555.3" cy="752.7" rx="8.6" ry="6.8" fill="url(#gb)" opacity="0.8" transform="rotate(90 554.4 753)"/>
<ellipse cx="554.3" cy="753.8" rx="8.6" ry="6.8" fill="url(#gb)" opacity="0.8" transform="rotate(90 554.4 753)"/>
<ellipse cx="554.4" cy="753" rx="4.6" ry="3.8" fill="url(#gc)" opacity="0.9" transform="rotate(90 554.4 753)"/>
<ellipse cx="578.4" cy="794.6" rx="18.9" ry="17.8" fill="url(#gh)" opacity="0.6" transform="rotate(-30 578.4 794.6)"/>
<polygon points="588.6,808.1 582.9,805.7 578.2,814.5 576,803.9 569.2,816.5 572,803.9 566.3,805.5 565,798.7 561.9,796.3 568.2,793.9 559.5,786.1 569.3,787.9 565.4,780.5 575.3,782.8 574.7,775.9 580.7,784.6 588.1,778 585.9,786.3 597.8,783.5 587.8,791 594,792.3 591.5,796.5 596.9,800.5 587,801.1" fill="#189e32" opacity="0.4"/>
<ellipse cx="580" cy="797.9" rx="12.7" ry="11.8" fill="url(#gb)" opacity="0.3" transform="rotate(-30 578.4 794.6)"/>
<ellipse cx="579.9" cy="794.4" rx="12.7" ry="11.8" fill="url(#gb)" opacity="0.3" transform="rotate(-30 578.4 794.6)"/>
<ellipse cx="644.1" cy="769" rx="13.7" ry="7.6" fill="url(#gh)" opacity="0.7" transform="rotate(95 644.1 769)"/>
<polygon points="637.5,760.7 640.9,762.2 639.9,757.3 643,761 645.5,754.9 644.9,761.3 649.3,755.3 648,762.3 651.6,758 648.9,766.2 653.6,768 649.4,768.8 650.4,773.4 647.8,773.7 650.4,779.1 646.6,775.7 645.6,780.4 643.8,776.8 642,785 642.5,775 637.6,781 639.5,774 635.8,774.8 639.8,770.5 637.7,768.2 639,767.2" fill="#189e32" opacity="0.6"/>
<ellipse cx="643" cy="769.8" rx="10.9" ry="5.1" fill="url(#gb)" opacity="0.8" transform="rotate(95 644.1 769)"/>
<ellipse cx="645" cy="768.7" rx="10.9" ry="5.1" fill="url(#gb)" opacity="0.8" transform="rotate(95 644.1 769)"/>
<ellipse cx="644.1" cy="769" rx="5.9" ry="2.9" fill="url(#gc)" opacity="0.9" transform="rotate(95 644.1 769)"/>
<ellipse cx="379.8" cy="794.6" rx="19.2" ry="16.9" fill="url(#gh)" opacity="0.4" transform="rotate(60 379.8 794.6)"/>
<polygon points="384.9,818 378.6,804.3 373.6,812 374.9,801.9 362.8,801.9 368.7,797.2 364.3,791.8 369.2,788.3 366.8,782.7 374.2,785.3 377.7,776.8 381.1,783.4 388.7,778.4 386.6,785.8 393.9,788.7 388.7,793.3 401.9,796.1 389.9,800.2 392.5,805.1 385.6,806.3" fill="#189e32" opacity="0.2"/>
<ellipse cx="382.3" cy="792.6" rx="13.2" ry="11.3" fill="url(#gb)" opacity="0.1" transform="rotate(60 379.8 794.6)"/>
<ellipse cx="378.8" cy="793.5" rx="13.2" ry="11.3" fill="url(#gb)" opacity="0.1" transform="rotate(60 379.8 794.6)"/>
<ellipse cx="507.9" cy="829.9" rx="16.2" ry="15.2" fill="url(#gh)" opacity="0.5" transform="rotate(0 507.9 829.9)"/>
<polygon points="515.9,842.5 509.6,840.9 507.3,847 504,837.9 500.4,842.3 500,836.8 493.3,836 499,830.1 490.5,825.4 497.7,825.2 493,817.4 503.8,821.2 504,810.9 509.1,819.5 516.2,812.3 515.4,821.1 521.5,818.7 516.9,826.9 522.5,828.2 517,832.5 525.7,838.4 517.1,837" fill="#189e32" opacity="0.4"/>
<ellipse cx="505.6" cy="826.9" rx="10.9" ry="10.1" fill="url(#gb)" opacity="0.2" transform="rotate(0 507.9 829.9)"/>
<ellipse cx="507" cy="829" rx="10.9" ry="10.1" fill="url(#gb)" opacity="0.2" transform="rotate(0 507.9 829.9)"/>
<ellipse cx="416.6" cy="837.9" rx="12.6" ry="11.8" fill="url(#gh)" opacity="0.7" transform="rotate(0 416.6 837.9)"/>
<polygon points="431.8,838 424.1,840.4 429.8,845.8 421.4,842.6 423.9,851.4 417.7,844.7 417.1,849.7 415.2,844.2 408.1,849.1 410.5,844.4 404,843.4 409.9,838.7 403.7,838.5 409.6,836.1 407.5,832 411.2,831.7 412.5,827.5 414,830.1 417.4,823.3 419.3,830.5 422.8,826.7 422.6,833.2 429.3,831.4 423.8,835.9" fill="#189e32" opacity="0.6"/>
<line x1="416.6" y1="837.9" x2="396.9" y2="843.9" stroke="#22b844" stroke-width="1.1" opacity="0.8"/>
<line x1="416.6" y1="837.9" x2="405" y2="830.4" stroke="#22b844" stroke-width="1.4" opacity="0.8"/>
<line x1="416.6" y1="837.9" x2="402.3" y2="837.9" stroke="#22b844" stroke-width="1" opacity="0.8"/>
<line x1="416.6" y1="837.9" x2="398.2" y2="842.9" stroke="#22b844" stroke-width="1" opacity="0.8"/>
<line x1="416.6" y1="837.9" x2="409.4" y2="825" stroke="#22b844" stroke-width="0.8" opacity="0.8"/>
<ellipse cx="416.3" cy="840.3" rx="8.5" ry="7.9" fill="url(#gb)" opacity="0.8" transform="rotate(0 416.6 837.9)"/>
<ellipse cx="415.8" cy="839.5" rx="8.5" ry="7.9" fill="url(#gb)" opacity="0.8" transform="rotate(0 416.6 837.9)"/>
<ellipse cx="416.6" cy="837.9" rx="4.6" ry="4.4" fill="url(#gc)" opacity="0.9" transform="rotate(0 416.6 837.9)"/>
<ellipse cx="575.2" cy="836.3" rx="10.5" ry="9.3" fill="url(#gh)" opacity="0.6" transform="rotate(0 575.2 836.3)"/>
<polygon points="584.1,839.8 580.8,839.5 583.2,843 578.3,840.6 576.6,847.5 574.8,842.5 571.6,844 572.2,840.5 569,842.3 570.7,838.7 565.2,838.9 567.8,835.8 564.2,832 568.9,832.6 568.6,830.7 572.6,830.7 572.3,827.3 575.2,830.6 578.3,827.2 579.6,831.1 583.4,829.8 581.4,833.1 584.8,835.5 582.1,836.9" fill="#189e32" opacity="0.5"/>
<ellipse cx="575.8" cy="834.5" rx="7.3" ry="6.2" fill="url(#gb)" opacity="0.5" transform="rotate(0 575.2 836.3)"/>
<ellipse cx="575.4" cy="835.1" rx="7.3" ry="6.2" fill="url(#gb)" opacity="0.5" transform="rotate(0 575.2 836.3)"/>
<ellipse cx="642.5" cy="831.5" rx="15.7" ry="7.6" fill="url(#gh)" opacity="0.6" transform="rotate(-50 642.5 831.5)"/>
<polygon points="640.4,841.5 639.4,838.3 632.5,843.3 634.9,837.8 632.7,838 635.4,833.9 635.4,829.6 638.2,828 640.2,824.4 642.9,824.1 647.3,816.6 645.8,824.5 653.9,818.2 647.8,826.7 654.8,825.2 648.6,829 651.6,833.4 646.7,835.1 647,838.1 642.8,838.1" fill="#189e32" opacity="0.4"/>
<ellipse cx="642.8" cy="832.3" rx="12.9" ry="5.1" fill="url(#gb)" opacity="0.3" transform="rotate(-50 642.5 831.5)"/>
<ellipse cx="643.7" cy="831.3" rx="12.9" ry="5.1" fill="url(#gb)" opacity="0.3" transform="rotate(-50 642.5 831.5)"/>
<ellipse cx="672.9" cy="825.1" rx="11.2" ry="9.3" fill="url(#gh)" opacity="0.7" transform="rotate(90 672.9 825.1)"/>
<polygon points="682.2,821.9 678.3,824.7 681.4,827.8 677.9,828.4 679.5,833.4 674.7,831 674.1,837 671.1,830.7 666.8,835.1 667.7,829 664.9,829 667.6,824.8 661.6,823 668.2,822 667.1,817.3 671.3,819 672.4,814 674.5,819.9 677.6,817.1 677.3,820.2" fill="#189e32" opacity="0.6"/>
<ellipse cx="672.4" cy="823.4" rx="7.9" ry="6.2" fill="url(#gb)" opacity="0.8" transform="rotate(90 672.9 825.1)"/>
<ellipse cx="673.2" cy="826.7" rx="7.9" ry="6.2" fill="url(#gb)" opacity="0.8" transform="rotate(90 672.9 825.1)"/>
<ellipse cx="672.9" cy="825.1" rx="4.2" ry="3.5" fill="url(#gc)" opacity="0.9" transform="rotate(90 672.9 825.1)"/>
<ellipse cx="696.9" cy="849.1" rx="12.9" ry="10.1" fill="url(#gh)" opacity="0.6" transform="rotate(80 696.9 849.1)"/>
<polygon points="694.8,833.7 697.1,842 703.9,836.7 701.6,843.3 707.6,845.6 703.4,849.5 706.2,852.4 702.8,853.7 704.1,860.4 698.6,856.5 694.6,861.1 694.3,855.5 690.5,857.1 690.3,852 684.1,850.6 691.9,846.7 688.8,840.6 693.9,843.5" fill="#189e32" opacity="0.4"/>
<ellipse cx="697" cy="849.2" rx="9.2" ry="6.8" fill="url(#gb)" opacity="0.3" transform="rotate(80 696.9 849.1)"/>
<ellipse cx="698.1" cy="849.4" rx="9.2" ry="6.8" fill="url(#gb)" opacity="0.3" transform="rotate(80 696.9 849.1)"/>
<ellipse cx="591.2" cy="855.5" rx="12.7" ry="7.6" fill="url(#gh)" opacity="0.7" transform="rotate(-60 591.2 855.5)"/>
<polygon points="584.9,853.7 588.2,852.6 587.1,848.6 590.4,849.3 592.8,842.1 592.8,848.6 596.3,843.2 594.9,850.4 600.2,846.3 597.6,851.4 599.9,852.3 596.3,856.2 600.3,857.6 595.5,859.3 595.2,865 591.5,861.7 589.6,864.6 589.2,863.2 586.2,867.8 586.1,861.4 583.9,861.6 585.5,859 582.2,858.6 586.9,855.1" fill="#189e32" opacity="0.5"/>
<ellipse cx="589.8" cy="855.8" rx="9.9" ry="5.1" fill="url(#gb)" opacity="0.6" transform="rotate(-60 591.2 855.5)"/>
<ellipse cx="592.7" cy="856.5" rx="9.9" ry="5.1" fill="url(#gb)" opacity="0.6" transform="rotate(-60 591.2 855.5)"/>
<ellipse cx="591.2" cy="855.5" rx="5.3" ry="2.9" fill="url(#gc)" opacity="0.8" transform="rotate(-60 591.2 855.5)"/>
<ellipse cx="648.9" cy="855.5" rx="15" ry="11.8" fill="url(#gh)" opacity="0.6" transform="rotate(10 648.9 855.5)"/>
<polygon points="642.8,863.9 642.6,861.6 635.5,859.7 641.3,855.7 636.6,853.4 641.5,852.8 637,847.8 644.8,849.4 646.8,845.3 649.9,848.1 655.9,842.2 654.1,850.1 661.3,850.2 658.1,855.3 663.6,857.7 658.6,859.6 660.1,865.9 654.1,862.2 653,867.1 648.9,863.6" fill="#189e32" opacity="0.4"/>
<ellipse cx="651.2" cy="856.2" rx="10.8" ry="7.9" fill="url(#gb)" opacity="0.3" transform="rotate(10 648.9 855.5)"/>
<ellipse cx="649.2" cy="854.3" rx="10.8" ry="7.9" fill="url(#gb)" opacity="0.3" transform="rotate(10 648.9 855.5)"/>
<ellipse cx="395.8" cy="873.1" rx="11.2" ry="9.3" fill="url(#gh)" opacity="0.7" transform="rotate(40 395.8 873.1)"/>
<polygon points="385.9,868.1 391.5,868.5 391.1,865.4 393.2,866.2 394.5,860.6 396.3,866 399.9,865.2 399.6,868.8 404.7,868.3 402.9,871.9 408.2,873.1 401.7,874.5 404.6,879.5 401.5,877.7 404,884.2 397.7,879 396.9,883.5 394.9,878 389.9,882.8 391.1,878 385.7,877.8 389.5,873.8 386.3,873.3 390.5,870.9" fill="#189e32" opacity="0.6"/>
<ellipse cx="395.6" cy="873.9" rx="7.9" ry="6.2" fill="url(#gb)" opacity="0.8" transform="rotate(40 395.8 873.1)"/>
<ellipse cx="396.7" cy="871.9" rx="7.9" ry="6.2" fill="url(#gb)" opacity="0.8" transform="rotate(40 395.8 873.1)"/>
<ellipse cx="395.8" cy="873.1" rx="4.2" ry="3.5" fill="url(#gc)" opacity="0.9" transform="rotate(40 395.8 873.1)"/>
<ellipse cx="369.6" cy="876.3" rx="7.7" ry="6.8" fill="url(#gh)" opacity="0.6" transform="rotate(90 369.6 876.3)"/>
<polygon points="373.1,882.9 370.7,881.4 368.7,884.8 368.2,880.6 366.3,883.3 366.1,880.2 362.8,879.9 365.9,876.6 363.1,874.6 365.4,874.7 363.1,870.2 367.7,873 367.4,870.4 369.6,871.2 370.8,869.1 372.3,871.8 376.5,871.2 373.6,874.5 377,874.7 373.4,876.7 376,880.4 372.5,879.6" fill="#189e32" opacity="0.5"/>
<ellipse cx="368.9" cy="876.3" rx="5.3" ry="4.5" fill="url(#gb)" opacity="0.5" transform="rotate(90 369.6 876.3)"/>
<ellipse cx="369.8" cy="875.6" rx="5.3" ry="4.5" fill="url(#gb)" opacity="0.5" transform="rotate(90 369.6 876.3)"/>
<ellipse cx="608.8" cy="874.7" rx="10.7" ry="8.5" fill="url(#gh)" opacity="0.6" transform="rotate(80 608.8 874.7)"/>
<polygon points="612,883.9 608.7,881.7 607.2,885.7 606.1,881.1 602.1,881.5 604.5,877.6 600.5,876 604.2,874.2 599.1,868.5 604.8,869.8 604.9,866.6 606.6,868.2 607.6,865.8 610.2,869.5 612.6,865.7 612.2,871.8 616.5,871.6 614,874.1 619.7,875.7 614.5,877.4 615.3,882.6 611,879.5" fill="#189e32" opacity="0.5"/>
<ellipse cx="607.6" cy="874.7" rx="7.7" ry="5.6" fill="url(#gb)" opacity="0.5" transform="rotate(80 608.8 874.7)"/>
<ellipse cx="607.3" cy="875.8" rx="7.7" ry="5.6" fill="url(#gb)" opacity="0.5" transform="rotate(80 608.8 874.7)"/>
<ellipse cx="575.2" cy="887.5" rx="11.5" ry="10.1" fill="url(#gh)" opacity="0.7" transform="rotate(20 575.2 887.5)"/>
<polygon points="575.2,874.7 577.3,881.4 581,876.2 579.3,883.3 587.5,882.8 581.8,886.3 589.3,886.1 581.5,889.4 587.2,892.5 580.4,890.8 581.1,895.8 578.1,892.9 577.3,896.3 574.2,894.7 570.1,898.2 572.6,892.3 566.2,895.7 568.9,891.1 564.5,889.4 569.5,888 565.8,885.4 569.2,884 566.2,880.9 571.4,882.6 571.8,878.6 574.4,882.4" fill="#189e32" opacity="0.6"/>
<ellipse cx="573.5" cy="886" rx="7.9" ry="6.8" fill="url(#gb)" opacity="0.8" transform="rotate(20 575.2 887.5)"/>
<ellipse cx="576.8" cy="888.4" rx="7.9" ry="6.8" fill="url(#gb)" opacity="0.8" transform="rotate(20 575.2 887.5)"/>
<ellipse cx="575.2" cy="887.5" rx="4.3" ry="3.8" fill="url(#gc)" opacity="0.9" transform="rotate(20 575.2 887.5)"/>
<ellipse cx="453.5" cy="895.5" rx="16.3" ry="14.4" fill="url(#gh)" opacity="0.7" transform="rotate(60 453.5 895.5)"/>
<polygon points="470.8,890.3 464.3,894.2 470.6,899 462.5,901.7 465.5,911.1 457.5,903.4 456.3,908.7 452.3,904.8 448.6,911.2 447.5,902.5 440.6,907.8 443.9,900.1 436.3,897.7 444,892.4 438.3,885.9 446.1,889 445.1,879.8 449.9,884.3 454.3,882.2 456.7,888.3 462,881 460.7,890.5" fill="#189e32" opacity="0.6"/>
<ellipse cx="452.4" cy="892.8" rx="11.2" ry="9.6" fill="url(#gb)" opacity="0.8" transform="rotate(60 453.5 895.5)"/>
<ellipse cx="451.1" cy="892.7" rx="11.2" ry="9.6" fill="url(#gb)" opacity="0.8" transform="rotate(60 453.5 895.5)"/>
<ellipse cx="453.5" cy="895.5" rx="6" ry="5.4" fill="url(#gc)" opacity="0.9" transform="rotate(60 453.5 895.5)"/>
<ellipse cx="479.1" cy="890.7" rx="13" ry="8.5" fill="url(#gh)" opacity="0.7" transform="rotate(80 479.1 890.7)"/>
<polygon points="488,888.1 483.9,891.9 489.4,897.7 483,898 483,900.8 480,897.7 477.4,900.2 475.9,896.9 472.3,895.2 473.6,892.9 470.7,888.6 474.5,887.6 473,882.1 476.5,883.7 478.9,879 480.3,883.7 485.6,880.9 483.2,888.3" fill="#189e32" opacity="0.5"/>
<ellipse cx="480.2" cy="890" rx="9.9" ry="5.6" fill="url(#gb)" opacity="0.6" transform="rotate(80 479.1 890.7)"/>
<ellipse cx="479.4" cy="890.8" rx="9.9" ry="5.6" fill="url(#gb)" opacity="0.6" transform="rotate(80 479.1 890.7)"/>
<ellipse cx="479.1" cy="890.7" rx="5.3" ry="3.2" fill="url(#gc)" opacity="0.8" transform="rotate(80 479.1 890.7)"/>
<ellipse cx="461.5" cy="913.2" rx="21.1" ry="18.6" fill="url(#gh)" opacity="0.4" transform="rotate(30 461.5 913.2)"/>
<polygon points="463.8,892.7 464.8,902.4 474.7,895.9 472.9,905.8 480.5,905 475.7,909.9 479.2,913.7 472.5,915.7 481.6,922.2 471.3,920.7 474.6,934.2 466.7,924.2 463,929.9 460.8,923.5 452.3,931.2 456,920.9 444.5,927.5 452.3,918 443.4,916.7 450.4,911.6 443.6,905.8 450.5,905.8 447.8,900.5 453.1,900.8 452.7,891.9 458.3,901.4" fill="#189e32" opacity="0.2"/>
<ellipse cx="461.9" cy="916.6" rx="14.5" ry="12.4" fill="url(#gb)" opacity="0.1" transform="rotate(30 461.5 913.2)"/>
<ellipse cx="463.3" cy="916.3" rx="14.5" ry="12.4" fill="url(#gb)" opacity="0.1" transform="rotate(30 461.5 913.2)"/>
<ellipse cx="637.7" cy="895.5" rx="13.7" ry="7.6" fill="url(#gh)" opacity="0.6" transform="rotate(85 637.7 895.5)"/>
<polygon points="635,885.4 637.5,886.2 640.5,882.4 640.4,891.4 644.3,889.6 642.1,894.4 644.4,899 641.4,900 641.9,905.2 638.9,903 636.9,911.4 636.3,901.2 631.6,907.3 633,898.9 628.1,896.9 632.8,892.6 631.9,888.9 634.6,890.3" fill="#189e32" opacity="0.4"/>
<ellipse cx="638.4" cy="896.6" rx="10.9" ry="5.1" fill="url(#gb)" opacity="0.3" transform="rotate(85 637.7 895.5)"/>
<ellipse cx="638.5" cy="896.8" rx="10.9" ry="5.1" fill="url(#gb)" opacity="0.3" transform="rotate(85 637.7 895.5)"/>
<ellipse cx="565.6" cy="926" rx="16.3" ry="8.5" fill="url(#gh)" opacity="0.6" transform="rotate(60 565.6 926)"/>
<polygon points="564.4,935.9 562.8,929.4 558.1,929.2 558.5,924.9 556,919.8 559.9,921 556.1,912.4 561.8,916.2 564.2,914.6 566.6,920.5 571.2,920 571.2,924.8 574.8,928.6 571.3,928.8 575.5,935.3 571.3,933.9 571,940.9 566.1,935.3" fill="#189e32" opacity="0.5"/>
<ellipse cx="565.1" cy="926.6" rx="13.2" ry="5.6" fill="url(#gb)" opacity="0.5" transform="rotate(60 565.6 926)"/>
<ellipse cx="564.6" cy="925.6" rx="13.2" ry="5.6" fill="url(#gb)" opacity="0.5" transform="rotate(60 565.6 926)"/>
<ellipse cx="668.1" cy="932.4" rx="16.3" ry="8.5" fill="url(#gh)" opacity="0.7" transform="rotate(80 668.1 932.4)"/>
<polygon points="665.2,946.5 665.2,938.2 658.8,939.3 663.7,932.2 660.5,929.7 662.7,926.8 661.9,920.1 666.1,922.8 668.1,917.5 669.3,925.4 673.5,920.6 672.4,927.7 676.5,929.6 673.5,934.9 675.7,939.2 672.4,940.2 671.9,945.5 668.9,940.9" fill="#189e32" opacity="0.6"/>
<ellipse cx="666.8" cy="932.7" rx="13.2" ry="5.6" fill="url(#gb)" opacity="0.8" transform="rotate(80 668.1 932.4)"/>
<ellipse cx="668" cy="931.8" rx="13.2" ry="5.6" fill="url(#gb)" opacity="0.8" transform="rotate(80 668.1 932.4)"/>
<ellipse cx="668.1" cy="932.4" rx="7.1" ry="3.2" fill="url(#gc)" opacity="0.9" transform="rotate(80 668.1 932.4)"/>
<ellipse cx="491.9" cy="943.6" rx="15.3" ry="14.4" fill="url(#gh)" opacity="0.6" transform="rotate(-20 491.9 943.6)"/>
<polygon points="487.3,932.5 490.5,936.3 495.5,928.5 496.1,936.4 501.4,935.1 500.6,940.6 507.2,945.6 498.9,946.3 500.3,952.5 497.6,952.3 494.5,956.8 489.1,951.5 479.9,957.9 483.5,951 476.3,949.7 482.1,944 473.8,938.1 485.4,936.5" fill="#189e32" opacity="0.4"/>
<ellipse cx="494.3" cy="945.4" rx="10.3" ry="9.6" fill="url(#gb)" opacity="0.3" transform="rotate(-20 491.9 943.6)"/>
<ellipse cx="491.7" cy="940.7" rx="10.3" ry="9.6" fill="url(#gb)" opacity="0.3" transform="rotate(-20 491.9 943.6)"/>
<ellipse cx="447.1" cy="954.8" rx="12.6" ry="11.8" fill="url(#gh)" opacity="0.6" transform="rotate(0 447.1 954.8)"/>
<polygon points="458.7,956 455,957.2 460.1,960.6 453.5,961.2 457.1,966.5 451.1,962.8 449.2,967.2 446.7,962.5 443.5,965.9 442.2,962.3 437.7,963.6 440.7,958.6 432.7,956.7 440.7,955.3 431.7,951.1 440.2,950.3 436.5,946.7 442.4,948 443.4,941.1 446.8,946 448.1,942.5 450.1,946.5 453.7,945.6 454,949.7 461.3,949.1 453.4,953" fill="#189e32" opacity="0.4"/>
<ellipse cx="444.8" cy="955" rx="8.5" ry="7.9" fill="url(#gb)" opacity="0.3" transform="rotate(0 447.1 954.8)"/>
<ellipse cx="445.2" cy="956.7" rx="8.5" ry="7.9" fill="url(#gb)" opacity="0.3" transform="rotate(0 447.1 954.8)"/>
<ellipse cx="519.1" cy="954.8" rx="13.5" ry="10.1" fill="url(#gh)" opacity="0.7" transform="rotate(-55 519.1 954.8)"/>
<polygon points="511.2,950.3 515.5,951 512.1,944.3 518.3,948.4 519.8,943.9 520.7,947.7 523.5,942.5 524.5,947.3 527.4,945.5 524.6,950.5 532.4,949.1 525.2,954.8 530.3,956.6 525.9,958.1 524.6,961.7 522.5,960.5 521.5,966.6 518.7,961.1 516,969.5 516.7,961.3 512.3,964.2 514.2,959.5 509.2,962.1 511.9,956.9 506.8,955.8 511.3,953.8" fill="#189e32" opacity="0.6"/>
<ellipse cx="519.5" cy="955.3" rx="9.9" ry="6.8" fill="url(#gb)" opacity="0.8" transform="rotate(-55 519.1 954.8)"/>
<ellipse cx="517.3" cy="953.7" rx="9.9" ry="6.8" fill="url(#gb)" opacity="0.8" transform="rotate(-55 519.1 954.8)"/>
<ellipse cx="519.1" cy="954.8" rx="5.3" ry="3.8" fill="url(#gc)" opacity="0.9" transform="rotate(-55 519.1 954.8)"/>
<ellipse cx="703.3" cy="961.2" rx="12.4" ry="9.3" fill="url(#gh)" opacity="0.7" transform="rotate(50 703.3 961.2)"/>
<polygon points="713.4,965.5 709.6,966.7 709.6,969.2 706.5,966.2 706.9,972.2 704.5,966.8 702.1,970 701.6,967.2 697.4,971.1 698.8,964.9 694.1,963 697.7,961 691.7,958.5 696.6,958.9 695.2,954.9 699,955.5 696.6,950.3 700.3,953.4 701,952 704.8,954.8 706.2,952.5 707.9,956.3 710.8,956.2 708.2,960.3 714.9,960.4 710.2,962.2" fill="#189e32" opacity="0.6"/>
<ellipse cx="701.9" cy="960.3" rx="9.1" ry="6.2" fill="url(#gb)" opacity="0.8" transform="rotate(50 703.3 961.2)"/>
<ellipse cx="703.4" cy="962.6" rx="9.1" ry="6.2" fill="url(#gb)" opacity="0.8" transform="rotate(50 703.3 961.2)"/>
<ellipse cx="703.3" cy="961.2" rx="4.9" ry="3.5" fill="url(#gc)" opacity="0.9" transform="rotate(50 703.3 961.2)"/>
<ellipse cx="429.5" cy="975.6" rx="13.9" ry="11" fill="url(#gh)" opacity="0.7" transform="rotate(-50 429.5 975.6)"/>
<polygon points="437.5,984.3 432.6,982.1 432.1,987.2 429.3,984.8 426.5,986.6 425.5,983.9 421.9,984.5 423.3,981 418.3,980.6 421,977.2 416.7,977.6 422.2,973.9 421.2,969.7 426,971.3 425.4,965.5 426.8,968 431.5,961.5 431.9,968.2 435.6,961.9 434.5,970 439,967.1 437.5,970.8 439.4,971.6 437.8,974.7 442.5,978.9 436.2,979.9" fill="#189e32" opacity="0.6"/>
<ellipse cx="429.9" cy="973.4" rx="10" ry="7.3" fill="url(#gb)" opacity="0.8" transform="rotate(-50 429.5 975.6)"/>
<ellipse cx="427.6" cy="975.2" rx="10" ry="7.3" fill="url(#gb)" opacity="0.8" transform="rotate(-50 429.5 975.6)"/>
<ellipse cx="429.5" cy="975.6" rx="5.4" ry="4.1" fill="url(#gc)" opacity="0.9" transform="rotate(-50 429.5 975.6)"/>
<ellipse cx="533.6" cy="983.6" rx="18.3" ry="10.1" fill="url(#gh)" opacity="0.6" transform="rotate(-40 533.6 983.6)"/>
<polygon points="530.1,995.7 529,990.3 517.7,996.5 525.8,988.3 517.6,986.7 526,983 524.6,978.8 531,978.5 533.4,970.4 537.5,974.9 542.5,969.8 542.9,976.2 548.5,973.6 541.6,982 549.3,984.6 538.5,986.1 538.4,995.9 534.2,990.1" fill="#189e32" opacity="0.5"/>
<ellipse cx="533.7" cy="984.3" rx="14.5" ry="6.8" fill="url(#gb)" opacity="0.5" transform="rotate(-40 533.6 983.6)"/>
<ellipse cx="534.7" cy="984.2" rx="14.5" ry="6.8" fill="url(#gb)" opacity="0.5" transform="rotate(-40 533.6 983.6)"/>
<ellipse cx="392.6" cy="985.2" rx="22" ry="22" fill="url(#gh)" opacity="0.4" transform="rotate(0 392.6 985.2)"/>
<polygon points="370.9,985 378.3,978.9 375.5,972.5 385.8,973.4 389,959.4 394.9,969.2 401.8,969.1 403.2,976.1 417.4,974.1 406.5,985.6 411.4,991.1 404.2,994 404.1,1007.6 396.9,999.9 387,1009.8 384.6,998.7 372.4,998.5 379.6,990.2" fill="#189e32" opacity="0.2"/>
<ellipse cx="395.4" cy="986.8" rx="14.3" ry="14.7" fill="url(#gb)" opacity="0.1" transform="rotate(0 392.6 985.2)"/>
<ellipse cx="395.2" cy="983.5" rx="14.3" ry="14.7" fill="url(#gb)" opacity="0.1" transform="rotate(0 392.6 985.2)"/>
<ellipse cx="671.3" cy="975.6" rx="14.4" ry="12.7" fill="url(#gh)" opacity="0.6" transform="rotate(0 671.3 975.6)"/>
<polygon points="683.4,974.4 680.7,976.8 686.6,981.7 679.3,979.2 678.5,984.5 674.8,981.7 676.5,988.8 671.9,983.3 668.9,991.5 668.3,983.2 659.1,987.1 664.1,979.4 654.7,980.7 664,977 658.1,975.3 664.2,973.7 656.1,967 664.2,969.9 662.8,964 668.5,968.2 671.4,964.6 673.5,969.3 678.1,965.7 676.7,969.4 686.3,967.3 679.8,972.4" fill="#189e32" opacity="0.4"/>
<ellipse cx="670.1" cy="976.1" rx="9.9" ry="8.5" fill="url(#gb)" opacity="0.3" transform="rotate(0 671.3 975.6)"/>
<ellipse cx="669.1" cy="975.8" rx="9.9" ry="8.5" fill="url(#gb)" opacity="0.3" transform="rotate(0 671.3 975.6)"/>
<ellipse cx="656.9" cy="994.8" rx="16.3" ry="14.4" fill="url(#gh)" opacity="0.4" transform="rotate(60 656.9 994.8)"/>
<polygon points="639.1,995.7 648.1,992.4 645.5,986.6 651.8,988.7 650.6,978.2 657.4,983.4 660.6,975.8 660.4,987.7 669.9,984.7 663.9,992.7 672.5,994.7 666.9,998 667.5,1003.6 663.4,1003.4 662.2,1012.1 656.5,1005.4 653.1,1012.9 651.6,1002.8 643.3,1005.1 648.3,997.2" fill="#189e32" opacity="0.2"/>
<ellipse cx="658.6" cy="994.4" rx="11.2" ry="9.6" fill="url(#gb)" opacity="0.1" transform="rotate(60 656.9 994.8)"/>
<ellipse cx="658.3" cy="997.3" rx="11.2" ry="9.6" fill="url(#gb)" opacity="0.1" transform="rotate(60 656.9 994.8)"/>
<ellipse cx="706.5" cy="1009.3" rx="13.2" ry="11" fill="url(#gh)" opacity="0.5" transform="rotate(20 706.5 1009.3)"/>
<polygon points="698.2,997.7 704.9,1003.4 704.9,999.5 708.2,1002.7 710.9,1000.5 710.6,1004 716,1004.1 714.6,1007 717.7,1007.7 713.4,1009.9 720.9,1014.3 713.3,1013.4 715.4,1020 711.9,1016.6 709.8,1019.9 707.4,1015.5 702.5,1022.1 703.1,1013.8 698.7,1017 699.1,1013.5 694.3,1013.8 700.3,1010.2 696,1006.9 699.8,1006.8 694,1001.7 700.7,1004.2" fill="#189e32" opacity="0.4"/>
<ellipse cx="704.6" cy="1009.7" rx="9.3" ry="7.3" fill="url(#gb)" opacity="0.2" transform="rotate(20 706.5 1009.3)"/>
<ellipse cx="706.6" cy="1008" rx="9.3" ry="7.3" fill="url(#gb)" opacity="0.2" transform="rotate(20 706.5 1009.3)"/>
<ellipse cx="395.8" cy="1018.9" rx="12.5" ry="11" fill="url(#gh)" opacity="0.5" transform="rotate(80 395.8 1018.9)"/>
<polygon points="393.1,1007.3 395.9,1011.4 399.8,1006.2 400.8,1012.1 405.6,1014.4 401.2,1017.5 406.7,1022.7 400.9,1021.8 401.7,1028.4 397.3,1025.9 395.2,1030.9 393.5,1024.7 389.8,1027.1 390,1023.1 386.6,1018.8 389.8,1016.6 387.5,1013.9 392.1,1013.9" fill="#189e32" opacity="0.4"/>
<ellipse cx="395.8" cy="1018.7" rx="8.6" ry="7.3" fill="url(#gb)" opacity="0.2" transform="rotate(80 395.8 1018.9)"/>
<ellipse cx="394.3" cy="1020.6" rx="8.6" ry="7.3" fill="url(#gb)" opacity="0.2" transform="rotate(80 395.8 1018.9)"/>
<ellipse cx="524" cy="1025.3" rx="11.5" ry="10.1" fill="url(#gh)" opacity="0.5" transform="rotate(0 524 1025.3)"/>
<polygon points="534.3,1029.8 530.6,1028.9 532.4,1033.3 526.9,1030.6 528,1037.8 523.1,1032.5 522.3,1035.2 521.3,1029.8 517.2,1033.4 518.4,1029.1 512.5,1030.5 516.3,1025.2 513.3,1023.8 518.6,1022.8 513.3,1017.6 519.1,1021.1 518.1,1013.4 522.6,1019.4 523.4,1012.3 525.1,1020.2 528.3,1017.4 529.9,1020.2 535.4,1019.4 531.1,1022.2 535.2,1023.2 532,1026.9" fill="#189e32" opacity="0.4"/>
<ellipse cx="525.4" cy="1024.7" rx="7.9" ry="6.8" fill="url(#gb)" opacity="0.2" transform="rotate(0 524 1025.3)"/>
<ellipse cx="521.9" cy="1025" rx="7.9" ry="6.8" fill="url(#gb)" opacity="0.2" transform="rotate(0 524 1025.3)"/>
<ellipse cx="549.6" cy="1025.3" rx="12.2" ry="10.1" fill="url(#gh)" opacity="0.5" transform="rotate(60 549.6 1025.3)"/>
<polygon points="558.8,1028.8 555.4,1031.3 556.9,1036.9 550.8,1033 547.2,1037.4 546.5,1032.4 542.7,1030.7 543.1,1026.9 539.8,1023.6 543.5,1021.8 541.9,1016.9 547.1,1019.7 547.3,1014.5 549.9,1019.6 553.3,1015.3 554,1020.9 560.8,1022.6 556.4,1025" fill="#189e32" opacity="0.4"/>
<ellipse cx="551.5" cy="1024.1" rx="8.6" ry="6.8" fill="url(#gb)" opacity="0.2" transform="rotate(60 549.6 1025.3)"/>
<ellipse cx="547.5" cy="1024.6" rx="8.6" ry="6.8" fill="url(#gb)" opacity="0.2" transform="rotate(60 549.6 1025.3)"/>
<ellipse cx="475.9" cy="1041.3" rx="15.2" ry="12.7" fill="url(#gh)" opacity="0.6" transform="rotate(30 475.9 1041.3)"/>
<polygon points="469.8,1028.1 475.8,1033.2 480.8,1028.3 481.5,1036.3 489.7,1034 485.4,1039.7 488.8,1043.5 484.1,1046 485.9,1051.1 478.6,1049.4 476.3,1054.8 473.6,1048.2 466.9,1053.8 468.9,1044.4 460.9,1043.3 466.6,1040.2 462.1,1031.5 470.6,1035.7" fill="#189e32" opacity="0.5"/>
<ellipse cx="476.1" cy="1041.7" rx="10.7" ry="8.5" fill="url(#gb)" opacity="0.5" transform="rotate(30 475.9 1041.3)"/>
<ellipse cx="476.9" cy="1043.3" rx="10.7" ry="8.5" fill="url(#gb)" opacity="0.5" transform="rotate(30 475.9 1041.3)"/>
<ellipse cx="429.5" cy="1041.3" rx="24.4" ry="22.8" fill="url(#gh)" opacity="0.4" transform="rotate(0 429.5 1041.3)"/>
<polygon points="419.1,1064.7 419.1,1053.3 409.4,1060.3 413.1,1048.3 409,1043 413.9,1040.5 408.5,1030.9 418.2,1029.1 412.8,1018.2 425.2,1028.4 429,1016.4 434.4,1028 445.6,1018.4 441.7,1032.4 456.8,1031.5 445.2,1039.9 453.8,1043 442.4,1047.4 449.7,1057.7 436.4,1053.2 435.5,1059.6 429.4,1054.4" fill="#189e32" opacity="0.2"/>
<ellipse cx="427.6" cy="1038.8" rx="16.3" ry="15.2" fill="url(#gb)" opacity="0.1" transform="rotate(0 429.5 1041.3)"/>
<ellipse cx="432.6" cy="1039.1" rx="16.3" ry="15.2" fill="url(#gb)" opacity="0.1" transform="rotate(0 429.5 1041.3)"/>
<ellipse cx="530.4" cy="1047.7" rx="12.2" ry="10.1" fill="url(#gh)" opacity="0.5" transform="rotate(80 530.4 1047.7)"/>
<polygon points="538.8,1046.2 536.2,1048.9 542.1,1054.9 536,1053.7 534.7,1057.3 530.4,1053.7 527.8,1060 526.1,1053.9 522.5,1055.3 524.2,1049.6 521.5,1045.6 524.7,1045.4 522,1039 527.3,1040.3 528.3,1037.4 531.8,1042.1 535.5,1039.6 535.9,1043.4" fill="#189e32" opacity="0.4"/>
<ellipse cx="530.7" cy="1045.9" rx="8.6" ry="6.8" fill="url(#gb)" opacity="0.2" transform="rotate(80 530.4 1047.7)"/>
<ellipse cx="532.2" cy="1048.6" rx="8.6" ry="6.8" fill="url(#gb)" opacity="0.2" transform="rotate(80 530.4 1047.7)"/>
<ellipse cx="600.8" cy="1054.1" rx="11.5" ry="10.1" fill="url(#gh)" opacity="0.6" transform="rotate(-20 600.8 1054.1)"/>
<polygon points="589.6,1054.8 593.3,1053.7 591.1,1048.7 597.1,1050.3 595.1,1045.5 599.2,1048.3 601.1,1044.6 602.1,1047.9 606.1,1044.4 606.2,1049.6 609.4,1048.9 608.2,1051.7 615,1053.5 607.2,1055.3 612.7,1060.6 604.6,1058 605.7,1061.9 603.4,1060.6 600,1065.5 599.5,1060.4 596.2,1063.2 595.6,1060.3 591.6,1058.7 593.3,1056" fill="#189e32" opacity="0.4"/>
<ellipse cx="601.8" cy="1053.1" rx="7.9" ry="6.8" fill="url(#gb)" opacity="0.3" transform="rotate(-20 600.8 1054.1)"/>
<ellipse cx="601" cy="1055.4" rx="7.9" ry="6.8" fill="url(#gb)" opacity="0.3" transform="rotate(-20 600.8 1054.1)"/>
<ellipse cx="631.3" cy="1054.1" rx="12.5" ry="11" fill="url(#gh)" opacity="0.5" transform="rotate(60 631.3 1054.1)"/>
<polygon points="634.2,1065.9 631.3,1063 626.2,1067 627.2,1060.8 623.5,1060.8 624.1,1058.1 620.6,1058.1 623.3,1054.5 621.2,1051.7 624.2,1050.7 623.6,1047.4 627.5,1048.3 624.4,1042.3 629.9,1046.4 630.5,1044.1 633.5,1047.2 635.9,1042.6 635.5,1048.6 640.4,1049.3 638.4,1051.9 643.7,1053.2 638.9,1055.1 642.3,1059 637,1060.2 640.8,1065.1 634.6,1060.9" fill="#189e32" opacity="0.4"/>
<ellipse cx="630.2" cy="1052.6" rx="8.6" ry="7.3" fill="url(#gb)" opacity="0.2" transform="rotate(60 631.3 1054.1)"/>
<ellipse cx="633.5" cy="1053.6" rx="8.6" ry="7.3" fill="url(#gb)" opacity="0.2" transform="rotate(60 631.3 1054.1)"/>
<ellipse cx="687.3" cy="1049.3" rx="16.3" ry="14.4" fill="url(#gh)" opacity="0.4" transform="rotate(20 687.3 1049.3)"/>
<polygon points="699.2,1038.8 697,1044.1 701.3,1045.4 696.2,1049.7 703.1,1057.7 696.5,1056.2 695.4,1061.7 690.8,1059.3 684.5,1067 684.2,1058.1 675,1059.7 678.3,1053.6 673.8,1051 677.7,1048.8 673.2,1042.3 678.2,1043 676.2,1035.9 684.8,1041.2 688.2,1036.5 691.5,1041.8" fill="#189e32" opacity="0.2"/>
<ellipse cx="689.9" cy="1051.9" rx="11.2" ry="9.6" fill="url(#gb)" opacity="0.1" transform="rotate(20 687.3 1049.3)"/>
<ellipse cx="686.4" cy="1049.4" rx="11.2" ry="9.6" fill="url(#gb)" opacity="0.1" transform="rotate(20 687.3 1049.3)"/>
<ellipse cx="567.2" cy="1089.3" rx="9.6" ry="8.5" fill="url(#gh)" opacity="0.5" transform="rotate(80 567.2 1089.3)"/>
<polygon points="570.7,1082.1 570.5,1084.1 573.7,1083.4 572.8,1086.4 575.7,1089.1 573.1,1091.2 574.1,1092.4 571.5,1093.5 571.8,1095.4 569.9,1095.6 568.1,1100 566.3,1094.5 563.1,1097.9 563.4,1093.6 558.6,1095.6 561.7,1090.9 558.5,1089.2 562.4,1088.7 557.3,1084.8 563.3,1086.2 560.4,1081.1 565.7,1083.8 565,1078.4 568.3,1083.9" fill="#189e32" opacity="0.4"/>
<ellipse cx="567.1" cy="1088.9" rx="6.6" ry="5.6" fill="url(#gb)" opacity="0.2" transform="rotate(80 567.2 1089.3)"/>
<ellipse cx="567.3" cy="1089.9" rx="6.6" ry="5.6" fill="url(#gb)" opacity="0.2" transform="rotate(80 567.2 1089.3)"/>
<ellipse cx="424.7" cy="749.8" rx="9.1" ry="7.6" fill="url(#gh)" opacity="0.5" transform="rotate(0 424.7 749.8)"/>
<polygon points="418.8,756.6 420.2,753.7 416.6,754.4 418.5,750.7 415.2,749.1 418.8,748.2 414.5,745.5 421.1,746.2 419.3,741.3 422.8,745.8 425.4,743.3 426.2,745.6 428.1,744 428.2,746.5 434.1,745.5 429.3,748.8 435.8,749.9 430.5,750.8 432.4,753.1 429,753.7 428.7,755.9 425.7,753.6 424.1,758.1 423.4,754.7" fill="#189e32" opacity="0.4"/>
<ellipse cx="424.2" cy="749.8" rx="6.4" ry="5.1" fill="url(#gb)" opacity="0.2" transform="rotate(0 424.7 749.8)"/>
<ellipse cx="424.9" cy="750.8" rx="6.4" ry="5.1" fill="url(#gb)" opacity="0.2" transform="rotate(0 424.7 749.8)"/>
</g>
<g filter="url(#bl05)">
<ellipse cx="404.8" cy="778" rx="2.8" ry="3.4" fill="#2a9ce8" opacity="0.9"/>
<ellipse cx="447.8" cy="786" rx="2.3" ry="2.8" fill="#3ad0dc" opacity="0.9"/>
<ellipse cx="481.5" cy="773.4" rx="2.8" ry="3.4" fill="#2a9ce8" opacity="0.9"/>
<ellipse cx="529.4" cy="749.2" rx="2.5" ry="3.1" fill="#3ad0dc" opacity="0.9"/>
<ellipse cx="555.1" cy="753.7" rx="2.8" ry="3.4" fill="#3ad0dc" opacity="0.9"/>
<ellipse cx="578.5" cy="795" rx="3.6" ry="4.4" fill="#2a9ce8" opacity="0.9"/>
<ellipse cx="644.6" cy="769.3" rx="2.3" ry="2.8" fill="#3ad0dc" opacity="0.9"/>
<ellipse cx="379.5" cy="795.2" rx="3.6" ry="4.4" fill="#2272e8" opacity="0.9"/>
<ellipse cx="508.7" cy="830" rx="3.6" ry="4.4" fill="#2a9ce8" opacity="0.9"/>
<ellipse cx="417.4" cy="837.6" rx="3.2" ry="3.9" fill="#3ad0dc" opacity="0.9"/>
<ellipse cx="575.1" cy="836.6" rx="2.5" ry="3.1" fill="#2a9ce8" opacity="0.9"/>
<ellipse cx="642.1" cy="832.1" rx="2.3" ry="2.8" fill="#2a9ce8" opacity="0.9"/>
<ellipse cx="673.5" cy="824.5" rx="2.5" ry="3.1" fill="#3ad0dc" opacity="0.9"/>
<ellipse cx="696.7" cy="849.9" rx="2.8" ry="3.4" fill="#2a9ce8" opacity="0.9"/>
<ellipse cx="591.2" cy="854.6" rx="2.3" ry="2.8" fill="#3ad0dc" opacity="0.9"/>
<ellipse cx="649.5" cy="854.9" rx="3.2" ry="3.9" fill="#2a9ce8" opacity="0.9"/>
<ellipse cx="395.8" cy="873.9" rx="2.5" ry="3.1" fill="#3ad0dc" opacity="0.9"/>
<ellipse cx="370.1" cy="876.8" rx="2.3" ry="2.8" fill="#2a9ce8" opacity="0.9"/>
<ellipse cx="607.9" cy="874.2" rx="2.3" ry="2.8" fill="#2a9ce8" opacity="0.9"/>
<ellipse cx="574.4" cy="888.5" rx="2.8" ry="3.4" fill="#3ad0dc" opacity="0.9"/>
<ellipse cx="452.9" cy="894.9" rx="3.6" ry="4.4" fill="#3ad0dc" opacity="0.9"/>
<ellipse cx="479.5" cy="891.3" rx="2.3" ry="2.8" fill="#3ad0dc" opacity="0.9"/>
<ellipse cx="461.9" cy="913.2" rx="3.6" ry="4.4" fill="#2272e8" opacity="0.9"/>
<ellipse cx="638.4" cy="895.7" rx="2.3" ry="2.8" fill="#2a9ce8" opacity="0.9"/>
<ellipse cx="564.7" cy="926.6" rx="2.3" ry="2.8" fill="#2a9ce8" opacity="0.9"/>
<ellipse cx="667.1" cy="933.4" rx="2.3" ry="2.8" fill="#3ad0dc" opacity="0.9"/>
<ellipse cx="492.1" cy="943.8" rx="3.6" ry="4.4" fill="#2a9ce8" opacity="0.9"/>
<ellipse cx="446.6" cy="955.5" rx="3.2" ry="3.9" fill="#2a9ce8" opacity="0.9"/>
<ellipse cx="518.9" cy="955" rx="2.8" ry="3.4" fill="#3ad0dc" opacity="0.9"/>
<ellipse cx="702.4" cy="961.6" rx="2.5" ry="3.1" fill="#3ad0dc" opacity="0.9"/>
<ellipse cx="430.1" cy="975.9" rx="3" ry="3.6" fill="#3ad0dc" opacity="0.9"/>
<ellipse cx="534.2" cy="983.8" rx="2.8" ry="3.4" fill="#2a9ce8" opacity="0.9"/>
<ellipse cx="392.7" cy="985.9" rx="3.6" ry="4.4" fill="#2272e8" opacity="0.9"/>
<ellipse cx="670.7" cy="975.4" rx="3.5" ry="4.2" fill="#2a9ce8" opacity="0.9"/>
<ellipse cx="657.5" cy="995.3" rx="3.6" ry="4.4" fill="#2272e8" opacity="0.9"/>
<ellipse cx="707.3" cy="1009.7" rx="3" ry="3.6" fill="#2a9ce8" opacity="0.9"/>
<ellipse cx="396.2" cy="1019.1" rx="3" ry="3.6" fill="#2a9ce8" opacity="0.9"/>
<ellipse cx="523.4" cy="1025.8" rx="2.8" ry="3.4" fill="#2a9ce8" opacity="0.9"/>
<ellipse cx="550.2" cy="1024.7" rx="2.8" ry="3.4" fill="#2a9ce8" opacity="0.9"/>
<ellipse cx="475.7" cy="1041.1" rx="3.5" ry="4.2" fill="#2a9ce8" opacity="0.9"/>
<ellipse cx="429.9" cy="1040.4" rx="3.6" ry="4.4" fill="#2272e8" opacity="0.9"/>
<ellipse cx="529.6" cy="1048.5" rx="2.8" ry="3.4" fill="#2a9ce8" opacity="0.9"/>
<ellipse cx="601.4" cy="1053.9" rx="2.8" ry="3.4" fill="#2a9ce8" opacity="0.9"/>
<ellipse cx="630.6" cy="1053.1" rx="3" ry="3.6" fill="#2a9ce8" opacity="0.9"/>
<ellipse cx="686.6" cy="1050.1" rx="3.6" ry="4.4" fill="#2272e8" opacity="0.9"/>
<ellipse cx="566.4" cy="1090" rx="2.3" ry="2.8" fill="#2a9ce8" opacity="0.9"/>
<ellipse cx="424" cy="750.4" rx="2.3" ry="2.8" fill="#2a9ce8" opacity="0.9"/>
<circle cx="574.6" cy="840.1" r="1.6" fill="#30c8f0"/>
<circle cx="485.5" cy="770.6" r="1.3" fill="#ff3a18"/>
<circle cx="474.3" cy="788.2" r="1.2" fill="#ff3a18"/>
<circle cx="578.4" cy="831.5" r="1.6" fill="#ff3a18"/>
<circle cx="567.2" cy="841.1" r="1.2" fill="#ff3a18"/>
<circle cx="572" cy="841.1" r="1.8" fill="#ff3a18"/>
<circle cx="650.5" cy="821.9" r="1.3" fill="#ff3a18"/>
<circle cx="664.9" cy="855.5" r="1.3" fill="#ff3a18"/>
<circle cx="692.1" cy="858.7" r="1.2" fill="#ff3a18"/>
<circle cx="600.8" cy="859.7" r="1" fill="#e03418"/>
<circle cx="370.2" cy="877.9" r="2" fill="#ff3a18"/>
<circle cx="572" cy="927.6" r="1.6" fill="#ff3a18"/>
<circle cx="562.4" cy="921.2" r="1.2" fill="#ff3a18"/>
<circle cx="640.9" cy="910" r="1.2" fill="#ff3a18"/>
<circle cx="482.3" cy="945.2" r="1.2" fill="#ff3a18"/>
<circle cx="532" cy="985.2" r="1.6" fill="#ff3a18"/>
<circle cx="540" cy="978.8" r="1.3" fill="#ff3a18"/>
<circle cx="548" cy="976.6" r="1" fill="#e03418"/>
<circle cx="650.5" cy="991.6" r="1.3" fill="#ff3a18"/>
<circle cx="711.3" cy="1010.9" r="1.2" fill="#ff3a18"/>
<circle cx="520.7" cy="1020.5" r="1.3" fill="#ff3a18"/>
<circle cx="528.8" cy="1022.1" r="1.2" fill="#ff3a18"/>
<circle cx="546.4" cy="1022.1" r="1.2" fill="#ff3a18"/>
<circle cx="472.7" cy="1036.5" r="1.4" fill="#ff3a18"/>
<circle cx="479.1" cy="1046.1" r="1.3" fill="#ff3a18"/>
<circle cx="483.9" cy="1049.3" r="1.2" fill="#ff3a18"/>
<circle cx="391" cy="1058.9" r="2.1" fill="#ff3a18"/>
<circle cx="394.2" cy="1050.9" r="1.2" fill="#ff3a18"/>
<circle cx="596" cy="1055.7" r="1.4" fill="#ff3a18"/>
<circle cx="700.1" cy="937.2" r="0.8" fill="#e03418"/>
<circle cx="424.7" cy="792.1" r="0.8" fill="#e03418"/>
<circle cx="413.4" cy="993.2" r="0.8" fill="#e03418"/>
<circle cx="399" cy="921.2" r="0.8" fill="#e03418"/>
<circle cx="575.2" cy="885" r="1.3" fill="#ff3a18"/>
<circle cx="411.8" cy="841.1" r="1.4" fill="#ff3a18"/>
<circle cx="391" cy="1090.9" r="1" fill="#e03418"/>
</g>
</g>
<clipPath id="mp3"><rect x="723" y="746.6" width="349.6" height="349"/></clipPath>
<rect x="723" y="746.6" width="349.6" height="349" fill="#010a03"/>
<g clip-path="url(#mp3)">
<g filter="url(#bl1)" fill="none" stroke-linecap="round" stroke-linejoin="round">
<path d="M838.3 765.8L851.1 794.6L863.9 813.9L871 820.9" stroke="#22cc44" stroke-width="1.1" opacity="0.65"/>
<path d="M963.2 813.9L979.2 818.7L995.3 833.1L1012.9 847.5" stroke="#22cc44" stroke-width="1.2" opacity="0.7"/>
<path d="M923.2 849.1L916.8 826.7L914.5 805.9" stroke="#22cc44" stroke-width="1.2" opacity="0.7999999999999999"/>
<path d="M750.2 812.3L767.8 829.9L787.1 842.7" stroke="#22cc44" stroke-width="1.4" opacity="0.7999999999999999"/>
<path d="M747 866.7L742.2 842.7L748.6 829.9" stroke="#22cc44" stroke-width="1.1" opacity="0.6"/>
<path d="M796.7 905.2L783.9 881.1L775.9 865.1" stroke="#22cc44" stroke-width="1.2" opacity="0.7"/>
<path d="M796.7 905.2L806.3 918" stroke="#22cc44" stroke-width="1.8" opacity="1"/>
<path d="M839.9 975.6L857.5 948.4L873.5 926" stroke="#22cc44" stroke-width="1" opacity="0.6"/>
<path d="M839.9 914.8L836.7 935.6L831.9 942" stroke="#22cc44" stroke-width="1.1" opacity="0.7"/>
<path d="M960 1018.9L968 1002.8L980.8 1002.8" stroke="#22cc44" stroke-width="1.3" opacity="0.7999999999999999"/>
<path d="M747 866.7L735.8 881.1" stroke="#22cc44" stroke-width="1.1" opacity="0.6"/>
<path d="M963.2 813.9L971.2 788.2L976 778.6" stroke="#22cc44" stroke-width="1.6" opacity="0.7999999999999999"/>
<path d="M801.5 1036.5L809.5 1054.1L807.9 1062.1" stroke="#22cc44" stroke-width="1.4" opacity="0.7999999999999999"/>
<path d="M793.5 1047.7L774.2 1036.5" stroke="#22cc44" stroke-width="0.9" opacity="0.6"/>
<path d="M876.7 1050.9L854.3 1033.3L847.9 1025.3" stroke="#22cc44" stroke-width="1.3" opacity="0.7"/>
<path d="M1028.9 1044.5L1032.1 1025.3" stroke="#22cc44" stroke-width="1.1" opacity="0.7"/>
<path d="M780.7 767.4L774.2 749.8" stroke="#22cc44" stroke-width="1.8" opacity="0.9"/>
<path d="M952 882.7L936 895.5" stroke="#22cc44" stroke-width="1.4" opacity="0.7999999999999999"/>
</g>
<g filter="url(#bl1)">
<ellipse cx="780.7" cy="767.4" rx="16.5" ry="12.4" fill="url(#gh)" opacity="0.8" transform="rotate(80 780.7 767.4)"/>
<polygon points="784.9,749 785.7,760 793.9,758.5 788.3,765.5 795.2,768.4 788.1,771.8 792.9,780.3 784.7,774.6 782.7,783.2 781.3,778.3 776.3,786.1 776,776.1 770.2,773.5 771.8,769.3 765.7,765.5 772.6,763 768.4,753.4 776.1,759.7 775.8,751.5 780.6,757" fill="#189e32" opacity="0.7"/>
<line x1="780.7" y1="767.4" x2="784.5" y2="746.4" stroke="#22b844" stroke-width="1.1" opacity="0.8"/>
<line x1="780.7" y1="767.4" x2="790" y2="751.2" stroke="#22b844" stroke-width="1.1" opacity="0.8"/>
<ellipse cx="780.2" cy="766" rx="12.1" ry="8.3" fill="url(#gb)" opacity="1" transform="rotate(80 780.7 767.4)"/>
<ellipse cx="779.8" cy="769.6" rx="12.1" ry="8.3" fill="url(#gb)" opacity="1" transform="rotate(80 780.7 767.4)"/>
<ellipse cx="780.7" cy="767.4" rx="6.5" ry="4.6" fill="url(#gc)" opacity="1" transform="rotate(80 780.7 767.4)"/>
<ellipse cx="838.3" cy="765.8" rx="11.1" ry="8" fill="url(#gh)" opacity="0.6" transform="rotate(80 838.3 765.8)"/>
<polygon points="846.1,773.1 842.7,771.2 841.5,778.6 838.7,772.9 836.4,778 835.6,770.3 830.9,773.3 834.2,766.1 830.2,763.1 834,763.2 831.8,755.3 835.6,759.6 836.5,753.7 839.6,758.6 844,758.2 842.4,763.5 846.7,762.8 842.7,766.3" fill="#189e32" opacity="0.4"/>
<ellipse cx="838" cy="766.2" rx="8.3" ry="5.3" fill="url(#gb)" opacity="0.3" transform="rotate(80 838.3 765.8)"/>
<ellipse cx="837.2" cy="764.3" rx="8.3" ry="5.3" fill="url(#gb)" opacity="0.3" transform="rotate(80 838.3 765.8)"/>
<ellipse cx="956.8" cy="773.8" rx="14.9" ry="12.4" fill="url(#gh)" opacity="0.6" transform="rotate(60 956.8 773.8)"/>
<polygon points="940.8,772.9 948.9,772.1 943.3,766.1 950.4,767.3 947.7,758 954.3,765.5 956.9,760.8 958.6,764 963.9,761.9 961.8,768.1 966.6,770.1 965.2,773.5 971.3,775.7 964.9,778.3 968.9,785 960.3,780.2 963.1,789 956.4,781.5 953.6,788.2 953.3,780.6 947.9,782.6 950.1,776.4" fill="#189e32" opacity="0.5"/>
<ellipse cx="956.2" cy="775.2" rx="10.5" ry="8.3" fill="url(#gb)" opacity="0.5" transform="rotate(60 956.8 773.8)"/>
<ellipse cx="954.4" cy="774.2" rx="10.5" ry="8.3" fill="url(#gb)" opacity="0.5" transform="rotate(60 956.8 773.8)"/>
<ellipse cx="750.2" cy="812.3" rx="20.2" ry="16.8" fill="url(#gh)" opacity="0.8" transform="rotate(60 750.2 812.3)"/>
<polygon points="730,815.7 740.6,810.5 731.6,801.2 742,804.7 738.7,791.4 747.4,798.8 750.6,793.8 755.7,800.9 761,800.5 759.2,806.7 770.4,808.7 759.6,815.4 770,823 759.1,822.6 758.6,827.6 753.4,825.4 749.5,830.7 746.2,822.2 736,828.2 743,816.6" fill="#189e32" opacity="0.7"/>
<line x1="750.2" y1="812.3" x2="777.7" y2="802" stroke="#22b844" stroke-width="1.4" opacity="0.8"/>
<line x1="750.2" y1="812.3" x2="722.6" y2="824.4" stroke="#22b844" stroke-width="1.4" opacity="0.8"/>
<line x1="750.2" y1="812.3" x2="755" y2="839.4" stroke="#22b844" stroke-width="1.3" opacity="0.8"/>
<ellipse cx="751.4" cy="812.4" rx="14.2" ry="11.2" fill="url(#gb)" opacity="1" transform="rotate(60 750.2 812.3)"/>
<ellipse cx="748.7" cy="811.2" rx="14.2" ry="11.2" fill="url(#gb)" opacity="1" transform="rotate(60 750.2 812.3)"/>
<ellipse cx="750.2" cy="812.3" rx="7.6" ry="6.3" fill="url(#gc)" opacity="1" transform="rotate(60 750.2 812.3)"/>
<ellipse cx="795.1" cy="844.3" rx="14.9" ry="12.4" fill="url(#gh)" opacity="0.6" transform="rotate(80 795.1 844.3)"/>
<polygon points="808.3,855.2 800.3,849.9 803,859.4 795.9,852.2 791.6,858.3 792.1,852.3 786.3,855.2 789.6,847.5 784.5,845.1 788.8,841.8 780.5,836.1 789.1,836.5 789,832.5 793.1,834.1 796.2,830.9 798.9,835.2 805.4,831.4 802.3,840.7 809.6,842.6 803.2,845.9" fill="#189e32" opacity="0.5"/>
<ellipse cx="795.2" cy="842" rx="10.5" ry="8.3" fill="url(#gb)" opacity="0.5" transform="rotate(80 795.1 844.3)"/>
<ellipse cx="794.2" cy="845.9" rx="10.5" ry="8.3" fill="url(#gb)" opacity="0.5" transform="rotate(80 795.1 844.3)"/>
<ellipse cx="963.2" cy="813.9" rx="17.9" ry="14.1" fill="url(#gh)" opacity="0.8" transform="rotate(70 963.2 813.9)"/>
<polygon points="974.8,810.4 970.6,815.7 977,824.3 968.8,821.1 970.7,829.6 964.2,823.6 959.4,834.4 958.9,820.6 950.6,825 954.1,814.5 948,812 955,807.8 954.8,802.1 960.7,805.4 962.3,793.9 965.6,802.1 970.1,803.2 969.7,808.9" fill="#189e32" opacity="0.7"/>
<line x1="963.2" y1="813.9" x2="943.1" y2="801.1" stroke="#22b844" stroke-width="0.9" opacity="0.8"/>
<line x1="963.2" y1="813.9" x2="973.9" y2="825.3" stroke="#22b844" stroke-width="1" opacity="0.8"/>
<ellipse cx="966" cy="814.2" rx="12.9" ry="9.4" fill="url(#gb)" opacity="1" transform="rotate(70 963.2 813.9)"/>
<ellipse cx="965.4" cy="811.6" rx="12.9" ry="9.4" fill="url(#gb)" opacity="1" transform="rotate(70 963.2 813.9)"/>
<ellipse cx="963.2" cy="813.9" rx="6.9" ry="5.3" fill="url(#gc)" opacity="1" transform="rotate(70 963.2 813.9)"/>
<ellipse cx="992.1" cy="845.9" rx="13.8" ry="11.5" fill="url(#gh)" opacity="0.6" transform="rotate(70 992.1 845.9)"/>
<polygon points="1001.6,858.9 994.9,853.3 994.1,858.8 989.9,854.5 984.5,855.9 986.6,850.2 979.7,848.1 985.1,844.1 981.9,838.4 988.2,840.4 985.8,833.3 991.8,838.4 994.2,834.9 997.1,840.2 1001.2,839.9 998,844.9 1004.7,848.7 997.6,850.1" fill="#189e32" opacity="0.4"/>
<ellipse cx="990" cy="848.3" rx="9.7" ry="7.7" fill="url(#gb)" opacity="0.3" transform="rotate(70 992.1 845.9)"/>
<ellipse cx="992.8" cy="845.7" rx="9.7" ry="7.7" fill="url(#gb)" opacity="0.3" transform="rotate(70 992.1 845.9)"/>
<ellipse cx="923.2" cy="849.1" rx="17" ry="15" fill="url(#gh)" opacity="0.8" transform="rotate(60 923.2 849.1)"/>
<polygon points="906.3,857.8 912.2,851.3 908.7,848.6 912.8,844.3 910.2,838.4 916.1,841.1 915.5,831.6 919.8,839.7 924.1,834.5 925.4,839.5 933.3,832.4 930.9,841.6 937.8,839.1 932.2,846.2 942.1,852.4 933.6,852.8 939.5,860.8 930.3,857.1 931.3,868.1 926.1,858.1 922.6,864 921,857.7 914.2,865.8 916.2,856.5" fill="#189e32" opacity="0.7"/>
<line x1="923.2" y1="849.1" x2="917.6" y2="831.4" stroke="#22b844" stroke-width="1.1" opacity="0.8"/>
<line x1="923.2" y1="849.1" x2="942.5" y2="835.4" stroke="#22b844" stroke-width="0.8" opacity="0.8"/>
<line x1="923.2" y1="849.1" x2="940.3" y2="848.3" stroke="#22b844" stroke-width="1.4" opacity="0.8"/>
<line x1="923.2" y1="849.1" x2="928.6" y2="823.4" stroke="#22b844" stroke-width="0.8" opacity="0.8"/>
<ellipse cx="925.8" cy="851.5" rx="11.7" ry="10" fill="url(#gb)" opacity="1" transform="rotate(60 923.2 849.1)"/>
<ellipse cx="924.1" cy="850.8" rx="11.7" ry="10" fill="url(#gb)" opacity="1" transform="rotate(60 923.2 849.1)"/>
<ellipse cx="923.2" cy="849.1" rx="6.3" ry="5.6" fill="url(#gc)" opacity="1" transform="rotate(60 923.2 849.1)"/>
<ellipse cx="747" cy="866.7" rx="13.8" ry="11.5" fill="url(#gh)" opacity="0.6" transform="rotate(70 747 866.7)"/>
<polygon points="753.1,877.8 749.5,873.9 747.5,881.9 743.2,874.8 738,878.3 740.9,870.1 736.8,866.5 738.8,864.7 736.8,859.2 742.3,859.2 742.2,854.4 747.2,858.6 751.1,853.4 752.3,862.1 756.3,862.4 754.7,865.9 761.5,870.2 751.9,871.5" fill="#189e32" opacity="0.4"/>
<ellipse cx="749.1" cy="866.1" rx="9.7" ry="7.7" fill="url(#gb)" opacity="0.3" transform="rotate(70 747 866.7)"/>
<ellipse cx="748.3" cy="867.9" rx="9.7" ry="7.7" fill="url(#gb)" opacity="0.3" transform="rotate(70 747 866.7)"/>
<ellipse cx="775.9" cy="863.5" rx="12" ry="10.6" fill="url(#gh)" opacity="0.4" transform="rotate(0 775.9 863.5)"/>
<polygon points="768.6,851.8 774.7,858 777.4,853.1 778.2,857.2 783.3,854.4 780.6,859.2 788.8,859.2 783.9,862.9 787.6,864.4 782,866.9 786.1,870.5 779.2,869.8 778.6,874.1 776,869.3 771.6,875.6 772.1,868 766.6,871.5 769.3,865.9 764.8,865.7 769.6,863.2 765.7,859.1 770.6,858.8" fill="#189e32" opacity="0.3"/>
<ellipse cx="777.5" cy="865.5" rx="8.3" ry="7.1" fill="url(#gb)" opacity="0.1" transform="rotate(0 775.9 863.5)"/>
<ellipse cx="775.6" cy="864.9" rx="8.3" ry="7.1" fill="url(#gb)" opacity="0.1" transform="rotate(0 775.9 863.5)"/>
<ellipse cx="952" cy="882.7" rx="19" ry="16.8" fill="url(#gh)" opacity="0.8" transform="rotate(70 952 882.7)"/>
<polygon points="937.8,876.2 944.4,877.1 938.9,865.1 950.1,872.8 952.3,863.9 957.7,871.8 966.1,870.3 960.9,877.9 970.1,880.9 961,886.2 969.3,895.5 959.9,893 955.6,906 951.4,894.4 943.6,900.7 943.1,889.8 933.5,891.9 941,883" fill="#189e32" opacity="0.7"/>
<line x1="952" y1="882.7" x2="949.4" y2="864.7" stroke="#22b844" stroke-width="1.3" opacity="0.8"/>
<line x1="952" y1="882.7" x2="939.2" y2="862" stroke="#22b844" stroke-width="1.1" opacity="0.8"/>
<line x1="952" y1="882.7" x2="932" y2="887.8" stroke="#22b844" stroke-width="1.1" opacity="0.8"/>
<ellipse cx="948.8" cy="882.7" rx="13.1" ry="11.2" fill="url(#gb)" opacity="1" transform="rotate(70 952 882.7)"/>
<ellipse cx="953" cy="882.3" rx="13.1" ry="11.2" fill="url(#gb)" opacity="1" transform="rotate(70 952 882.7)"/>
<ellipse cx="952" cy="882.7" rx="7.1" ry="6.3" fill="url(#gc)" opacity="1" transform="rotate(70 952 882.7)"/>
<ellipse cx="796.7" cy="905.2" rx="11.1" ry="8" fill="url(#gh)" opacity="0.8" transform="rotate(60 796.7 905.2)"/>
<polygon points="789.5,906.6 792.2,905 789.4,902 791.5,901.9 790.3,899.3 792.9,900.4 791,894.4 794.1,898.2 796.5,896.9 797,898 800.7,898.5 799.1,901.3 803.2,901.6 802,903.5 807,905.4 801.8,907.1 803.9,909.4 800.6,909.3 802,912.3 799.9,911.5 799.7,915.5 797.6,910.8 794.5,914.3 794.8,910.1 789.5,911.6 792.9,908" fill="#189e32" opacity="0.7"/>
<ellipse cx="797.8" cy="905.3" rx="8.3" ry="5.3" fill="url(#gb)" opacity="1" transform="rotate(60 796.7 905.2)"/>
<ellipse cx="795.5" cy="903.6" rx="8.3" ry="5.3" fill="url(#gb)" opacity="1" transform="rotate(60 796.7 905.2)"/>
<ellipse cx="796.7" cy="905.2" rx="4.5" ry="3" fill="url(#gc)" opacity="1" transform="rotate(60 796.7 905.2)"/>
<ellipse cx="815.9" cy="914.8" rx="12.7" ry="10.6" fill="url(#gh)" opacity="0.6" transform="rotate(60 815.9 914.8)"/>
<polygon points="806.9,910.6 810.7,910.8 809.6,906.2 812.1,908.2 812.7,901.1 815.2,907.6 818,905.3 819.4,909.9 822.8,905.8 821.6,910.7 825,912.1 823.3,914.1 829.1,917.7 823.5,918.9 824.7,922.1 821.3,921.5 820.6,926 818.3,922.6 814.4,927.5 815.1,920.6 812,924.2 812.6,919.2 804.2,920.9 808.4,917.3 802.7,914.5 808,911.6" fill="#189e32" opacity="0.5"/>
<ellipse cx="813.8" cy="913.9" rx="9" ry="7.1" fill="url(#gb)" opacity="0.5" transform="rotate(60 815.9 914.8)"/>
<ellipse cx="816.4" cy="916.7" rx="9" ry="7.1" fill="url(#gb)" opacity="0.5" transform="rotate(60 815.9 914.8)"/>
<ellipse cx="839.9" cy="914.8" rx="11.2" ry="8.8" fill="url(#gh)" opacity="0.6" transform="rotate(80 839.9 914.8)"/>
<polygon points="845.2,924.1 841,921.5 838.2,927.2 837,921.3 832.6,920.5 834.8,916 829.3,915.1 834.7,912.3 833.3,907.2 837.4,908.6 838.4,901.3 841.2,907.1 843,906 844.9,910.6 849.1,910 845.1,915.3 849.9,920 844.8,918.9" fill="#189e32" opacity="0.5"/>
<ellipse cx="838.2" cy="914.6" rx="8" ry="5.9" fill="url(#gb)" opacity="0.5" transform="rotate(80 839.9 914.8)"/>
<ellipse cx="841.3" cy="915.3" rx="8" ry="5.9" fill="url(#gb)" opacity="0.5" transform="rotate(80 839.9 914.8)"/>
<ellipse cx="820.7" cy="935.6" rx="9.5" ry="8" fill="url(#gh)" opacity="0.6" transform="rotate(60 820.7 935.6)"/>
<polygon points="826.7,944.8 821.6,940.8 821.2,944.9 819.1,940 814.6,944.1 817.1,937.8 813.7,937.1 816.2,935.9 812,932.3 815.2,932.2 812.6,927.7 818.2,930.5 818.8,928 821,929.9 823.3,928.6 823.6,932.1 826.5,929.8 825.9,934.2 829.2,934.5 826.2,937.4 829.4,940.7 824.1,939.6" fill="#189e32" opacity="0.5"/>
<ellipse cx="822.2" cy="935.4" rx="6.7" ry="5.3" fill="url(#gb)" opacity="0.5" transform="rotate(60 820.7 935.6)"/>
<ellipse cx="820.3" cy="934.3" rx="6.7" ry="5.3" fill="url(#gb)" opacity="0.5" transform="rotate(60 820.7 935.6)"/>
<ellipse cx="889.6" cy="910" rx="16.4" ry="8" fill="url(#gh)" opacity="0.6" transform="rotate(-60 889.6 910)"/>
<polygon points="884.2,921.6 884.6,917.8 879.3,921.5 883.5,913.1 879.4,911 885,908.5 886.3,901.2 889,904.3 891.3,898.4 894,900.9 900.8,894.8 896.8,903 899.9,904 895.9,910 896.4,914.9 891.8,915 889.3,924.8 888.1,919.4" fill="#189e32" opacity="0.5"/>
<ellipse cx="888.5" cy="908.6" rx="13.4" ry="5.3" fill="url(#gb)" opacity="0.5" transform="rotate(-60 889.6 910)"/>
<ellipse cx="890.3" cy="909.3" rx="13.4" ry="5.3" fill="url(#gb)" opacity="0.5" transform="rotate(-60 889.6 910)"/>
<ellipse cx="928" cy="942" rx="21.4" ry="9.7" fill="url(#gh)" opacity="0.6" transform="rotate(35 928 942)"/>
<polygon points="939.7,954.2 934.5,950.5 936,956.2 930.3,950.7 927.4,953.3 923.4,946 919,948 920.4,942.3 910.4,940.4 915.9,938.1 906.8,932.3 915.7,934.3 908.4,927.1 921.3,935.3 918,928.4 924.8,933.1 927.7,929.8 928,934.6 931.9,934.7 933.5,940.3 944.5,942 938.8,942.9 945.6,946.9 937.4,946.3 948.6,954.2 937.2,950.2" fill="#189e32" opacity="0.4"/>
<ellipse cx="929.3" cy="941.8" rx="17.7" ry="6.5" fill="url(#gb)" opacity="0.3" transform="rotate(35 928 942)"/>
<ellipse cx="927" cy="942.7" rx="17.7" ry="6.5" fill="url(#gb)" opacity="0.3" transform="rotate(35 928 942)"/>
<ellipse cx="839.9" cy="975.6" rx="16" ry="14.1" fill="url(#gh)" opacity="0.8" transform="rotate(60 839.9 975.6)"/>
<polygon points="828.6,969.1 832.8,968.2 830.9,958.2 838.1,967.1 837.8,957.5 842.6,966.7 848.4,962.4 845,969.7 852.7,966.1 850.3,974.4 856.5,976.4 849.6,980 852.9,984.5 845.7,981.8 849.8,990.6 841.6,985.3 840.8,990.9 837.7,985.9 831.4,992.1 834.7,982.1 827.3,982.6 829.9,977 823.7,972.9 830.6,973.6" fill="#189e32" opacity="0.7"/>
<line x1="839.9" y1="975.6" x2="820.4" y2="969.3" stroke="#22b844" stroke-width="1" opacity="0.8"/>
<line x1="839.9" y1="975.6" x2="833.6" y2="951.4" stroke="#22b844" stroke-width="0.9" opacity="0.8"/>
<ellipse cx="840.9" cy="974.9" rx="11" ry="9.4" fill="url(#gb)" opacity="1" transform="rotate(60 839.9 975.6)"/>
<ellipse cx="840" cy="978" rx="11" ry="9.4" fill="url(#gb)" opacity="1" transform="rotate(60 839.9 975.6)"/>
<ellipse cx="839.9" cy="975.6" rx="5.9" ry="5.3" fill="url(#gc)" opacity="1" transform="rotate(60 839.9 975.6)"/>
<ellipse cx="920" cy="1001.2" rx="19.1" ry="10.6" fill="url(#gh)" opacity="0.7" transform="rotate(95 920 1001.2)"/>
<polygon points="910.3,1004.3 912.4,1002 910.2,998.1 913.9,993.9 912.5,989.6 917.2,993.6 916.5,980.1 919.8,991.5 922.3,986.2 924.1,990.7 929.6,988 924.9,997.2 933.2,993.7 926,999.9 929.7,1005 924.5,1005.6 929.6,1015.5 924,1011.5 923.8,1022.3 919.3,1012.9 917.8,1016.2 916.5,1009.4 911,1017.8 914.9,1005.3" fill="#189e32" opacity="0.5"/>
<ellipse cx="922" cy="1001.4" rx="15.2" ry="7.1" fill="url(#gb)" opacity="0.6" transform="rotate(95 920 1001.2)"/>
<ellipse cx="919.5" cy="999.5" rx="15.2" ry="7.1" fill="url(#gb)" opacity="0.6" transform="rotate(95 920 1001.2)"/>
<ellipse cx="920" cy="1001.2" rx="8.2" ry="4" fill="url(#gc)" opacity="0.8" transform="rotate(95 920 1001.2)"/>
<ellipse cx="960" cy="1018.9" rx="14.9" ry="12.4" fill="url(#gh)" opacity="0.8" transform="rotate(70 960 1018.9)"/>
<polygon points="953.5,1028.2 954.3,1023.2 945,1023.1 950.8,1018 947.4,1016.1 952.8,1014.7 949,1008.5 957,1011.9 957.1,1004.1 960.1,1009.9 963.9,1005.3 963.6,1011.2 967.3,1009.9 966.3,1015 971.9,1016.9 968.7,1020 975.3,1023.5 966.1,1024.1 967.7,1029 963.4,1025.5 963.2,1031.6 960.2,1026.5 958.4,1033 956.5,1025.8" fill="#189e32" opacity="0.7"/>
<line x1="960" y1="1018.9" x2="954.8" y2="1003.8" stroke="#22b844" stroke-width="1.1" opacity="0.8"/>
<line x1="960" y1="1018.9" x2="945.7" y2="1010.9" stroke="#22b844" stroke-width="1.2" opacity="0.8"/>
<ellipse cx="958.6" cy="1018.6" rx="10.5" ry="8.3" fill="url(#gb)" opacity="1" transform="rotate(70 960 1018.9)"/>
<ellipse cx="960.4" cy="1019.6" rx="10.5" ry="8.3" fill="url(#gb)" opacity="1" transform="rotate(70 960 1018.9)"/>
<ellipse cx="960" cy="1018.9" rx="5.6" ry="4.6" fill="url(#gc)" opacity="1" transform="rotate(70 960 1018.9)"/>
<ellipse cx="801.5" cy="1036.5" rx="17.3" ry="12.4" fill="url(#gh)" opacity="0.8" transform="rotate(70 801.5 1036.5)"/>
<polygon points="785.4,1027.7 793.7,1028.6 792.7,1023.6 798,1027.8 795.3,1020.1 800.9,1027.1 803.3,1021.9 805,1028.6 809.2,1024.1 809.2,1031.1 813.3,1031.5 808,1036.1 817.3,1039.5 807.8,1040.3 812.5,1047.4 806.6,1044.5 810.3,1051.7 803.7,1046.2 802.1,1054.9 800.9,1045.4 796.9,1050.5 796.9,1044.3 790.1,1044.4 795.5,1039.9 787.6,1038.3 794.8,1035.8" fill="#189e32" opacity="0.7"/>
<line x1="801.5" y1="1036.5" x2="794.6" y2="1051" stroke="#22b844" stroke-width="0.8" opacity="0.8"/>
<ellipse cx="801.7" cy="1038.7" rx="12.9" ry="8.3" fill="url(#gb)" opacity="1" transform="rotate(70 801.5 1036.5)"/>
<ellipse cx="801.7" cy="1037.7" rx="12.9" ry="8.3" fill="url(#gb)" opacity="1" transform="rotate(70 801.5 1036.5)"/>
<ellipse cx="801.5" cy="1036.5" rx="6.9" ry="4.6" fill="url(#gc)" opacity="1" transform="rotate(70 801.5 1036.5)"/>
<ellipse cx="793.5" cy="1047.7" rx="11" ry="9.7" fill="url(#gh)" opacity="0.6" transform="rotate(0 793.5 1047.7)"/>
<polygon points="784.4,1050.4 787.1,1047.5 780.5,1044.7 788.3,1045 786.7,1038.8 791,1043.3 792.7,1039.6 795.4,1042.7 798.9,1039.2 798.6,1044 805,1044 799.1,1047.3 805,1051.8 799.3,1050.4 801.6,1057.9 795.9,1052 794.1,1057.7 790.8,1054.1 787.8,1056.3 787.3,1052" fill="#189e32" opacity="0.4"/>
<ellipse cx="792.3" cy="1047.3" rx="7.6" ry="6.5" fill="url(#gb)" opacity="0.3" transform="rotate(0 793.5 1047.7)"/>
<ellipse cx="791.8" cy="1048.3" rx="7.6" ry="6.5" fill="url(#gb)" opacity="0.3" transform="rotate(0 793.5 1047.7)"/>
<ellipse cx="876.7" cy="1050.9" rx="14.6" ry="11.5" fill="url(#gh)" opacity="0.7" transform="rotate(30 876.7 1050.9)"/>
<polygon points="889.2,1051 883.8,1053.7 890.1,1061.2 881.2,1057.6 881.9,1063.3 875.9,1057.4 871.9,1061.2 871,1055.8 864.5,1055.7 867.4,1051.3 861.4,1045.7 869.7,1046.1 866.9,1037.6 874.2,1043.4 877.9,1040.1 878.9,1044.1 887.1,1043.7 883.8,1049.1" fill="#189e32" opacity="0.6"/>
<line x1="876.7" y1="1050.9" x2="877.2" y2="1035.6" stroke="#22b844" stroke-width="0.9" opacity="0.8"/>
<ellipse cx="878.6" cy="1051.8" rx="10.5" ry="7.7" fill="url(#gb)" opacity="0.8" transform="rotate(30 876.7 1050.9)"/>
<ellipse cx="877.8" cy="1049.6" rx="10.5" ry="7.7" fill="url(#gb)" opacity="0.8" transform="rotate(30 876.7 1050.9)"/>
<ellipse cx="876.7" cy="1050.9" rx="5.6" ry="4.3" fill="url(#gc)" opacity="0.9" transform="rotate(30 876.7 1050.9)"/>
<ellipse cx="1028.9" cy="1044.5" rx="16.2" ry="9.7" fill="url(#gh)" opacity="0.8" transform="rotate(95 1028.9 1044.5)"/>
<polygon points="1023.4,1033.7 1026.7,1035.2 1028.6,1031.3 1030.2,1035.4 1034.1,1032.1 1033.2,1038.9 1039,1037.1 1035.5,1041.5 1039.4,1045.3 1034.6,1048.2 1035.3,1052.1 1032.2,1053.5 1031.8,1060 1029.2,1055.3 1025.8,1058.1 1024.4,1053.9 1019.6,1058.7 1024,1048.4 1019.3,1046.8 1022.7,1043.2 1019,1040.2 1024.7,1038.3" fill="#189e32" opacity="0.7"/>
<line x1="1028.9" y1="1044.5" x2="1012.6" y2="1040.4" stroke="#22b844" stroke-width="1.1" opacity="0.8"/>
<ellipse cx="1028.9" cy="1044.8" rx="12.6" ry="6.5" fill="url(#gb)" opacity="1" transform="rotate(95 1028.9 1044.5)"/>
<ellipse cx="1030.2" cy="1043.3" rx="12.6" ry="6.5" fill="url(#gb)" opacity="1" transform="rotate(95 1028.9 1044.5)"/>
<ellipse cx="1028.9" cy="1044.5" rx="6.8" ry="3.6" fill="url(#gc)" opacity="1" transform="rotate(95 1028.9 1044.5)"/>
<ellipse cx="1062.5" cy="1070.1" rx="13" ry="9.7" fill="url(#gh)" opacity="0.7" transform="rotate(80 1062.5 1070.1)"/>
<polygon points="1072.5,1065.8 1069,1069.5 1072.1,1072.6 1068.8,1075.1 1070.1,1083.1 1064.8,1077.7 1061.9,1082.6 1060.8,1076.3 1057.1,1078.5 1056.5,1073 1053.8,1071.6 1056.7,1067.4 1053.7,1062.6 1059,1063.3 1058.3,1056.4 1062.7,1061.8 1065.5,1056.9 1066.1,1064.1" fill="#189e32" opacity="0.5"/>
<ellipse cx="1061" cy="1069.7" rx="9.5" ry="6.5" fill="url(#gb)" opacity="0.6" transform="rotate(80 1062.5 1070.1)"/>
<ellipse cx="1062.8" cy="1069.4" rx="9.5" ry="6.5" fill="url(#gb)" opacity="0.6" transform="rotate(80 1062.5 1070.1)"/>
<ellipse cx="1062.5" cy="1070.1" rx="5.1" ry="3.6" fill="url(#gc)" opacity="0.8" transform="rotate(80 1062.5 1070.1)"/>
<ellipse cx="960" cy="1092.5" rx="18" ry="15" fill="url(#gh)" opacity="0.4" transform="rotate(0 960 1092.5)"/>
<polygon points="976,1097.7 966.4,1098.3 968.5,1106.6 963.1,1100.6 958.5,1106.3 956.9,1101.6 952.4,1105 950,1098.5 939.8,1099.6 948.6,1095.1 943.9,1089.9 948.1,1088.1 943.7,1081.6 952.8,1084.6 953.6,1077.5 959.5,1081.8 966.1,1077.4 966.1,1085 973.2,1083.8 970.3,1088.5 974.7,1090.2 971.6,1093" fill="#189e32" opacity="0.3"/>
<ellipse cx="958.2" cy="1094.1" rx="12.7" ry="10" fill="url(#gb)" opacity="0.1" transform="rotate(0 960 1092.5)"/>
<ellipse cx="960.1" cy="1095.4" rx="12.7" ry="10" fill="url(#gb)" opacity="0.1" transform="rotate(0 960 1092.5)"/>
<ellipse cx="942.4" cy="863.5" rx="9.4" ry="7.1" fill="url(#gh)" opacity="0.7" transform="rotate(80 942.4 863.5)"/>
<polygon points="934.7,864.1 938.3,861.9 936.1,860.4 939.8,860 938.4,856.1 940.7,858.6 942.8,853.1 943.1,859 945.9,854.6 945.6,859.3 949.4,860.2 946.9,863.3 949.7,865.6 947.2,866 949.3,869.8 944.5,867.4 945.3,873.6 942.2,868.8 941.5,871.6 940.6,868.5 935.8,869.1 938.5,865.4" fill="#189e32" opacity="0.5"/>
<ellipse cx="941.6" cy="862.1" rx="6.9" ry="4.7" fill="url(#gb)" opacity="0.6" transform="rotate(80 942.4 863.5)"/>
<ellipse cx="941.6" cy="862.5" rx="6.9" ry="4.7" fill="url(#gb)" opacity="0.6" transform="rotate(80 942.4 863.5)"/>
<ellipse cx="942.4" cy="863.5" rx="3.7" ry="2.7" fill="url(#gc)" opacity="0.8" transform="rotate(80 942.4 863.5)"/>
</g>
<g filter="url(#bl05)">
<ellipse cx="780.4" cy="767.2" rx="3.2" ry="3.9" fill="#3ad0dc" opacity="0.9"/>
<ellipse cx="839.3" cy="765" rx="2.3" ry="2.8" fill="#2a9ce8" opacity="0.9"/>
<ellipse cx="957.2" cy="773.3" rx="3.2" ry="3.9" fill="#2a9ce8" opacity="0.9"/>
<ellipse cx="749.4" cy="812.1" rx="3.6" ry="4.4" fill="#3ad0dc" opacity="0.9"/>
<ellipse cx="795.2" cy="843.7" rx="3.2" ry="3.9" fill="#2a9ce8" opacity="0.9"/>
<ellipse cx="963.1" cy="813.9" rx="3.6" ry="4.4" fill="#3ad0dc" opacity="0.9"/>
<ellipse cx="992.3" cy="846.9" rx="3" ry="3.6" fill="#2a9ce8" opacity="0.9"/>
<ellipse cx="923" cy="849.9" rx="3.6" ry="4.4" fill="#3ad0dc" opacity="0.9"/>
<ellipse cx="746.4" cy="866.9" rx="3" ry="3.6" fill="#2a9ce8" opacity="0.9"/>
<ellipse cx="776.1" cy="864.1" rx="2.8" ry="3.4" fill="#2272e8" opacity="0.9"/>
<ellipse cx="951.4" cy="882.6" rx="3.6" ry="4.4" fill="#3ad0dc" opacity="0.9"/>
<ellipse cx="796.7" cy="904.7" rx="2.3" ry="2.8" fill="#3ad0dc" opacity="0.9"/>
<ellipse cx="816.8" cy="915.6" rx="2.8" ry="3.4" fill="#2a9ce8" opacity="0.9"/>
<ellipse cx="839.2" cy="914.8" rx="2.3" ry="2.8" fill="#2a9ce8" opacity="0.9"/>
<ellipse cx="820.3" cy="935.6" rx="2.3" ry="2.8" fill="#2a9ce8" opacity="0.9"/>
<ellipse cx="889" cy="910" rx="2.3" ry="2.8" fill="#2a9ce8" opacity="0.9"/>
<ellipse cx="927.6" cy="941.1" rx="2.5" ry="3.1" fill="#2a9ce8" opacity="0.9"/>
<ellipse cx="839" cy="976.2" rx="3.6" ry="4.4" fill="#3ad0dc" opacity="0.9"/>
<ellipse cx="920.5" cy="1001.8" rx="2.8" ry="3.4" fill="#2a9ce8" opacity="0.9"/>
<ellipse cx="959.1" cy="1017.9" rx="3.2" ry="3.9" fill="#3ad0dc" opacity="0.9"/>
<ellipse cx="801.7" cy="1035.6" rx="3.2" ry="3.9" fill="#3ad0dc" opacity="0.9"/>
<ellipse cx="793.5" cy="1047.6" rx="2.5" ry="3.1" fill="#2a9ce8" opacity="0.9"/>
<ellipse cx="875.8" cy="1050.6" rx="3" ry="3.6" fill="#3ad0dc" opacity="0.9"/>
<ellipse cx="1028.5" cy="1045.1" rx="2.5" ry="3.1" fill="#3ad0dc" opacity="0.9"/>
<ellipse cx="1062.5" cy="1070.7" rx="2.5" ry="3.1" fill="#2a9ce8" opacity="0.9"/>
<ellipse cx="960.6" cy="1092.2" rx="3.6" ry="4.4" fill="#2272e8" opacity="0.9"/>
<ellipse cx="942.5" cy="863.3" rx="2.3" ry="2.8" fill="#2a9ce8" opacity="0.9"/>
<circle cx="769.4" cy="833.1" r="2.1" fill="#ff3a18"/>
<circle cx="889.6" cy="902.9" r="2" fill="#ff3a18"/>
<circle cx="894.4" cy="903.6" r="1.4" fill="#ff3a18"/>
<circle cx="833.5" cy="976.6" r="3.4" fill="#ff3a18"/>
<circle cx="836.7" cy="982" r="2.1" fill="#ff3a18"/>
<circle cx="1070.5" cy="927.6" r="2.3" fill="#ff3a18"/>
<circle cx="1024.1" cy="928.5" r="0.9" fill="#e03418"/>
<circle cx="995.3" cy="832.4" r="1.2" fill="#ff3a18"/>
<circle cx="1001.7" cy="834.7" r="1.2" fill="#ff3a18"/>
<circle cx="1008.1" cy="839.5" r="1.2" fill="#ff3a18"/>
<circle cx="985.7" cy="825.1" r="1.2" fill="#ff3a18"/>
<circle cx="972.8" cy="813.9" r="1.2" fill="#ff3a18"/>
<circle cx="790.3" cy="866.7" r="1" fill="#e03418"/>
<circle cx="745.4" cy="860.3" r="1.2" fill="#ff3a18"/>
<circle cx="750.2" cy="858.7" r="0.9" fill="#e03418"/>
<circle cx="819.1" cy="929.2" r="1.3" fill="#ff3a18"/>
<circle cx="822.3" cy="931.7" r="1.2" fill="#ff3a18"/>
<circle cx="1067.3" cy="1066.9" r="1.6" fill="#ff3a18"/>
<circle cx="833.5" cy="748.2" r="1.6" fill="#ff3a18"/>
<circle cx="953.6" cy="871.5" r="1" fill="#e03418"/>
<circle cx="961.6" cy="777" r="1" fill="#e03418"/>
<circle cx="921.6" cy="985.2" r="0.9" fill="#e03418"/>
</g>
</g>
<clipPath id="mp4"><rect x="1078.6" y="746.6" width="350" height="349"/></clipPath>
<rect x="1078.6" y="746.6" width="350" height="349" fill="#031a09"/>
<g clip-path="url(#mp4)">
<g filter="url(#bl6)" opacity="0.28">
<ellipse cx="1161.2" cy="782.6" rx="38.9" ry="23.9" fill="#0a3313"/>
<ellipse cx="1101.9" cy="886.8" rx="57.1" ry="40" fill="#0a3313"/>
<ellipse cx="1346.4" cy="824.1" rx="43.8" ry="26.9" fill="#0a3313"/>
<ellipse cx="1139" cy="783.7" rx="32.5" ry="43.2" fill="#0a3313"/>
<ellipse cx="1368.7" cy="1028.1" rx="53" ry="24.8" fill="#0a3313"/>
<ellipse cx="1187" cy="965.4" rx="50.6" ry="41.4" fill="#0a3313"/>
<ellipse cx="1386.6" cy="776.9" rx="46.2" ry="36.8" fill="#0a3313"/>
<ellipse cx="1255.7" cy="808.6" rx="41.6" ry="22.2" fill="#0a3313"/>
<ellipse cx="1405.7" cy="1048.7" rx="44.2" ry="27.5" fill="#0a3313"/>
<ellipse cx="1396.7" cy="946.4" rx="55.9" ry="41.2" fill="#0a3313"/>
<ellipse cx="1256.5" cy="891.1" rx="46" ry="30.8" fill="#0a3313"/>
<ellipse cx="1135.1" cy="853.1" rx="53.4" ry="21.1" fill="#0a3313"/>
<ellipse cx="1094.8" cy="965.2" rx="34.8" ry="33.4" fill="#0a3313"/>
<ellipse cx="1243.5" cy="866.3" rx="59.9" ry="24.9" fill="#0a3313"/>
<ellipse cx="1223.1" cy="817.3" rx="47.1" ry="26.9" fill="#0a3313"/>
<ellipse cx="1203.1" cy="1007.3" rx="36.2" ry="34" fill="#0a3313"/>
<ellipse cx="1395.1" cy="781.8" rx="27.2" ry="25.7" fill="#0a3313"/>
<ellipse cx="1346.4" cy="961.4" rx="33.3" ry="28.3" fill="#0a3313"/>
<ellipse cx="1140.7" cy="906.8" rx="26.5" ry="37.4" fill="#0a3313"/>
<ellipse cx="1392.2" cy="1079.8" rx="50.7" ry="44" fill="#0a3313"/>
<ellipse cx="1085" cy="847.5" rx="58.8" ry="39.4" fill="#0a3313"/>
<ellipse cx="1222.2" cy="1075.8" rx="46.7" ry="40.4" fill="#0a3313"/>
<ellipse cx="1181.3" cy="813.4" rx="40.5" ry="23.4" fill="#0a3313"/>
<ellipse cx="1212.2" cy="1082.3" rx="36.6" ry="20.2" fill="#0a3313"/>
<ellipse cx="1094.3" cy="805.8" rx="52.4" ry="29.1" fill="#0a3313"/>
<ellipse cx="1180.2" cy="780.5" rx="59.4" ry="30.6" fill="#0a3313"/>
</g>
<g filter="url(#bl1)" fill="none" stroke-linecap="round" stroke-linejoin="round">
<path d="M1176.3 945.2L1158.7 924.4" stroke="#22cc44" stroke-width="1.4" opacity="0.7999999999999999"/>
<path d="M1176.3 945.2L1182.7 919.6" stroke="#22cc44" stroke-width="1.2" opacity="0.7999999999999999"/>
<path d="M1176.3 945.2L1205.1 934L1214.7 913.2" stroke="#22cc44" stroke-width="1.2" opacity="0.7999999999999999"/>
<path d="M1176.3 945.2L1184.3 967.6L1193.9 985.2" stroke="#22cc44" stroke-width="1.4" opacity="0.7999999999999999"/>
<path d="M1176.3 945.2L1181.1 977.2L1174.7 990" stroke="#22cc44" stroke-width="1.2" opacity="0.7"/>
<path d="M1296.4 868.3L1312.4 852.3L1317.2 844.3" stroke="#22cc44" stroke-width="1.3" opacity="0.7999999999999999"/>
<path d="M1347.7 823.5L1349.3 881.1" stroke="#22cc44" stroke-width="1.1" opacity="0.6"/>
<path d="M1360.5 884.3L1361.1 926" stroke="#22cc44" stroke-width="1.1" opacity="0.7"/>
<path d="M1405.3 964.4L1387.7 975.6L1379.7 977.2" stroke="#22cc44" stroke-width="1.1" opacity="0.7"/>
<path d="M1163.5 993.2L1162.5 1028.5L1174.7 1058.9" stroke="#22cc44" stroke-width="1.3" opacity="0.7999999999999999"/>
<path d="M1246.8 1028.5L1245.8 1066.9" stroke="#22cc44" stroke-width="1.1" opacity="0.7"/>
<path d="M1344.5 1036.5L1357.3 1017.3" stroke="#22cc44" stroke-width="1.2" opacity="0.7"/>
<path d="M1366.9 1042.9L1376.5 1060.5L1384.5 1070.1" stroke="#22cc44" stroke-width="1.2" opacity="0.7"/>
<path d="M1133.1 855.5L1144.3 831.5L1147.5 828.3" stroke="#22cc44" stroke-width="1.3" opacity="0.7999999999999999"/>
<path d="M1168.3 823.5L1167.6 874.7" stroke="#22cc44" stroke-width="1.1" opacity="0.7"/>
<path d="M1107.4 926L1106.8 970.8" stroke="#22cc44" stroke-width="1.1" opacity="0.7"/>
<path d="M1334.8 756.2L1350.9 777" stroke="#22cc44" stroke-width="1.1" opacity="0.6"/>
<path d="M1280.4 964.4L1302.8 983.6L1317.2 1002.8" stroke="#22cc44" stroke-width="1.3" opacity="0.7"/>
<path d="M1227.5 958L1232.3 935.6" stroke="#22cc44" stroke-width="1.1" opacity="0.6"/>
</g>
<g filter="url(#bl1)">
<ellipse cx="1109" cy="794.6" rx="16.2" ry="10.6" fill="url(#gh)" opacity="0.7" transform="rotate(40 1109 794.6)"/>
<polygon points="1115.7,809.5 1109,803.5 1104.4,805.4 1104.4,798.7 1097.1,800.7 1099.6,794.9 1096.5,790.4 1101,790.4 1098.7,784.9 1103.6,786.6 1104.8,782.8 1108.4,788.4 1112.5,783.3 1114.1,790.7 1119.2,790.4 1116.6,795.5 1123.7,798 1117.2,800.5 1121,807.5 1114.5,801.6" fill="#189e32" opacity="0.6"/>
<ellipse cx="1108.7" cy="796.5" rx="12.4" ry="7" fill="url(#gb)" opacity="0.8" transform="rotate(40 1109 794.6)"/>
<ellipse cx="1109.3" cy="796.6" rx="12.4" ry="7" fill="url(#gb)" opacity="0.8" transform="rotate(40 1109 794.6)"/>
<ellipse cx="1109" cy="794.6" rx="6.7" ry="4" fill="url(#gc)" opacity="0.9" transform="rotate(40 1109 794.6)"/>
<ellipse cx="1165.1" cy="809.1" rx="15.6" ry="8.6" fill="url(#gh)" opacity="0.6" transform="rotate(100 1165.1 809.1)"/>
<polygon points="1158.2,798.2 1162.7,800.7 1164,793.6 1166.3,801 1171.6,792.7 1169.5,800 1174.7,801.3 1171.4,805 1176.3,807.8 1169,811.7 1172.4,817.7 1167.5,817.2 1165.2,822.1 1164.6,819.4 1160.8,826.2 1160.9,817.5 1154.8,818.1 1158.7,811.9 1155,809.9 1159.4,806.1" fill="#189e32" opacity="0.5"/>
<ellipse cx="1166.1" cy="809" rx="12.4" ry="5.8" fill="url(#gb)" opacity="0.5" transform="rotate(100 1165.1 809.1)"/>
<ellipse cx="1165.2" cy="807.4" rx="12.4" ry="5.8" fill="url(#gb)" opacity="0.5" transform="rotate(100 1165.1 809.1)"/>
<ellipse cx="1360.5" cy="753" rx="13.8" ry="11.5" fill="url(#gh)" opacity="0.7" transform="rotate(0 1360.5 753)"/>
<polygon points="1354.3,741.6 1360,745 1363.3,743.3 1367.4,747.1 1371.7,746.9 1370,750.7 1372.8,754.8 1366.9,757.1 1370.2,764.4 1363,758.6 1358.8,766.8 1357.3,761.2 1350.6,763.4 1352.9,756.8 1345.4,753.8 1352.5,751 1347.2,747.7 1355.7,748.3" fill="#189e32" opacity="0.6"/>
<ellipse cx="1361.5" cy="752.2" rx="9.7" ry="7.7" fill="url(#gb)" opacity="0.8" transform="rotate(0 1360.5 753)"/>
<ellipse cx="1362.2" cy="751.8" rx="9.7" ry="7.7" fill="url(#gb)" opacity="0.8" transform="rotate(0 1360.5 753)"/>
<ellipse cx="1360.5" cy="753" rx="5.2" ry="4.3" fill="url(#gc)" opacity="0.9" transform="rotate(0 1360.5 753)"/>
<ellipse cx="1357.3" cy="778.6" rx="14.6" ry="11.5" fill="url(#gh)" opacity="0.6" transform="rotate(60 1357.3 778.6)"/>
<polygon points="1363.9,769.1 1363.9,775.9 1370.1,779.5 1364.1,780.5 1367.2,788.2 1362.6,787.7 1361.5,793.9 1357,786.3 1351.6,790 1352.2,783 1344,782.7 1349.9,778.3 1342.8,774.4 1350.1,773 1349.8,769 1353.7,769.5 1356.3,761.9 1359.8,771" fill="#189e32" opacity="0.4"/>
<ellipse cx="1356.5" cy="779.2" rx="10.5" ry="7.7" fill="url(#gb)" opacity="0.4" transform="rotate(60 1357.3 778.6)"/>
<ellipse cx="1355.3" cy="778.2" rx="10.5" ry="7.7" fill="url(#gb)" opacity="0.4" transform="rotate(60 1357.3 778.6)"/>
<ellipse cx="1331.6" cy="793" rx="15" ry="12.5" fill="url(#gh)" opacity="0.6" transform="rotate(0 1331.6 793)"/>
<polygon points="1325.6,803.2 1324.2,798.1 1316.1,799.3 1323.3,794.7 1319.3,790.2 1321.7,789.2 1319.3,780.9 1326.1,785.2 1331.5,781.7 1333.5,784.2 1338.9,779.5 1339.5,787.2 1348.2,787.1 1340.5,791.6 1346.1,794.5 1339.5,797.2 1342,802.6 1334.9,800.3 1331.9,805.2 1330,801" fill="#189e32" opacity="0.4"/>
<ellipse cx="1330.3" cy="795.1" rx="10.6" ry="8.3" fill="url(#gb)" opacity="0.4" transform="rotate(0 1331.6 793)"/>
<ellipse cx="1331.4" cy="793.4" rx="10.6" ry="8.3" fill="url(#gb)" opacity="0.4" transform="rotate(0 1331.6 793)"/>
<ellipse cx="1286.8" cy="821.9" rx="16.9" ry="11.5" fill="url(#gh)" opacity="0.6" transform="rotate(70 1286.8 821.9)"/>
<polygon points="1277.7,813.6 1281.6,813.8 1281.7,804.7 1284.7,811 1289.2,804.9 1289.6,813.2 1294.8,810.5 1293.3,816.1 1296.5,818.5 1294,822.2 1300,829.4 1293.4,828.7 1295.8,833.2 1289.6,830.2 1287.9,835.3 1286.6,832.7 1281.6,836.1 1282.7,827.2 1277.5,829.7 1279.4,824.3 1274.8,821.3 1278.1,818.5" fill="#189e32" opacity="0.4"/>
<ellipse cx="1285.1" cy="821.4" rx="12.7" ry="7.7" fill="url(#gb)" opacity="0.4" transform="rotate(70 1286.8 821.9)"/>
<ellipse cx="1285.4" cy="820.9" rx="12.7" ry="7.7" fill="url(#gb)" opacity="0.4" transform="rotate(70 1286.8 821.9)"/>
<ellipse cx="1330" cy="823.5" rx="23.6" ry="22.1" fill="url(#gh)" opacity="0.4" transform="rotate(0 1330 823.5)"/>
<polygon points="1357.1,832.7 1341.5,831 1346.6,845.6 1336.2,835.3 1333.9,841.8 1328.2,834.5 1321.5,841.7 1322.6,837.5 1313.3,836.9 1317.6,830.4 1309.3,828.4 1312.6,823.1 1301.6,817 1318.1,816.8 1309.3,805.1 1322.7,814.1 1318.9,797.9 1326.6,809.2 1334.1,799.3 1333,809.2 1343.5,799.5 1339.9,814.8 1353.6,812.8 1345.6,818.3 1359,824.5 1344.9,827.5" fill="#189e32" opacity="0.3"/>
<ellipse cx="1331.9" cy="824.4" rx="15.8" ry="14.7" fill="url(#gb)" opacity="0.1" transform="rotate(0 1330 823.5)"/>
<ellipse cx="1330.3" cy="828" rx="15.8" ry="14.7" fill="url(#gb)" opacity="0.1" transform="rotate(0 1330 823.5)"/>
<ellipse cx="1347.7" cy="849.1" rx="21.8" ry="10.6" fill="url(#gh)" opacity="0.6" transform="rotate(95 1347.7 849.1)"/>
<polygon points="1350.9,864.1 1347.6,863 1344.7,865.6 1344.1,859.3 1340.3,861.9 1341.7,856 1334.7,853.1 1342.3,848 1338.1,844.5 1342.4,839.8 1343.7,835.2 1346.3,838.8 1346.9,826.2 1349.6,834.4 1355,830 1351.9,841 1356,840.2 1354.3,845.9 1357.8,849.8 1354.4,852.3 1355.5,858.8 1351.2,858.4" fill="#189e32" opacity="0.5"/>
<ellipse cx="1349.7" cy="848.4" rx="17.9" ry="7" fill="url(#gb)" opacity="0.4" transform="rotate(95 1347.7 849.1)"/>
<ellipse cx="1349.5" cy="851.1" rx="17.9" ry="7" fill="url(#gb)" opacity="0.4" transform="rotate(95 1347.7 849.1)"/>
<ellipse cx="1398.9" cy="853.9" rx="13.8" ry="11.5" fill="url(#gh)" opacity="0.7" transform="rotate(90 1398.9 853.9)"/>
<polygon points="1389.2,848 1394.5,849.4 1392.1,843.6 1397.5,846.9 1398.8,842.2 1400.8,847 1402.6,842.2 1404.5,847.7 1409.6,847 1405,850.6 1413.7,852.4 1405.3,854.7 1407.7,859.9 1403.4,859.6 1406.1,866.6 1400.3,860.7 1398.8,866.2 1397.5,860.5 1393.7,864.6 1395.4,859.4 1389.8,861.8 1391.6,855.8 1384.2,855.8 1392.6,853.1" fill="#189e32" opacity="0.6"/>
<ellipse cx="1401.1" cy="856.1" rx="9.7" ry="7.7" fill="url(#gb)" opacity="0.8" transform="rotate(90 1398.9 853.9)"/>
<ellipse cx="1399.8" cy="856.2" rx="9.7" ry="7.7" fill="url(#gb)" opacity="0.8" transform="rotate(90 1398.9 853.9)"/>
<ellipse cx="1398.9" cy="853.9" rx="5.2" ry="4.3" fill="url(#gc)" opacity="0.9" transform="rotate(90 1398.9 853.9)"/>
<ellipse cx="1133.1" cy="855.5" rx="20.2" ry="8.6" fill="url(#gh)" opacity="0.6" transform="rotate(-65 1133.1 855.5)"/>
<polygon points="1119.7,862.2 1127.7,854.2 1126.8,845.5 1131.2,848 1134.3,840.5 1135.9,845.4 1142,834.6 1138.8,846.9 1144,845.1 1140.5,853.3 1141.6,857.7 1136.2,859.3 1137.2,869.8 1132.8,864.8 1129.7,870.2 1127.9,866.6 1122.4,870.9 1125,861.5" fill="#189e32" opacity="0.4"/>
<ellipse cx="1134.1" cy="856.6" rx="16.9" ry="5.8" fill="url(#gb)" opacity="0.4" transform="rotate(-65 1133.1 855.5)"/>
<ellipse cx="1131.8" cy="857.3" rx="16.9" ry="5.8" fill="url(#gb)" opacity="0.4" transform="rotate(-65 1133.1 855.5)"/>
<ellipse cx="1168.3" cy="852.3" rx="19" ry="7.7" fill="url(#gh)" opacity="0.6" transform="rotate(92 1168.3 852.3)"/>
<polygon points="1166.8,835.2 1168.3,843.7 1171.8,833.6 1170.4,844.4 1174.1,838.2 1172.7,847.4 1176.5,848.3 1173.3,850.4 1176.6,855.6 1171.7,856 1175.5,864.1 1170.9,858.5 1171.6,866.4 1169,861.9 1167.4,867.7 1166.8,863.4 1162.9,871 1164.8,858.6 1161.2,862.9 1163.9,855.5 1161.2,852.4 1164.3,851 1161,843.6 1165.4,846.1 1163.6,837.3 1165.7,842.2" fill="#189e32" opacity="0.5"/>
<ellipse cx="1169.5" cy="851" rx="16" ry="5.1" fill="url(#gb)" opacity="0.4" transform="rotate(92 1168.3 852.3)"/>
<ellipse cx="1169.7" cy="853.2" rx="16" ry="5.1" fill="url(#gb)" opacity="0.4" transform="rotate(92 1168.3 852.3)"/>
<ellipse cx="1296.4" cy="868.3" rx="17.6" ry="10.6" fill="url(#gh)" opacity="0.7" transform="rotate(-50 1296.4 868.3)"/>
<polygon points="1311,864.9 1304.9,868.9 1307.7,873 1300.4,873.8 1299.4,877.9 1298,877 1295.7,881.5 1292.4,878.7 1289.4,881.3 1289,877 1285.9,876.9 1287.8,874.4 1284.3,874 1287.8,869.2 1285.8,868.3 1290,863.8 1288.8,859.8 1292.9,862.3 1295,857.2 1297.2,859.2 1299.8,856.1 1301.6,857.8 1310.5,852.9 1304,861.5 1308.1,861.3 1305,865.1" fill="#189e32" opacity="0.6"/>
<ellipse cx="1297" cy="868.8" rx="13.7" ry="7" fill="url(#gb)" opacity="0.7" transform="rotate(-50 1296.4 868.3)"/>
<ellipse cx="1294.2" cy="866.3" rx="13.7" ry="7" fill="url(#gb)" opacity="0.7" transform="rotate(-50 1296.4 868.3)"/>
<ellipse cx="1296.4" cy="868.3" rx="7.4" ry="4" fill="url(#gc)" opacity="0.9" transform="rotate(-50 1296.4 868.3)"/>
<ellipse cx="1209.9" cy="900.3" rx="20.5" ry="19.2" fill="url(#gh)" opacity="0.4" transform="rotate(0 1209.9 900.3)"/>
<polygon points="1190.9,895.4 1197.9,893.6 1195.7,884.6 1203.7,889.2 1205.2,880.6 1212.2,888.3 1219.5,881.4 1218.9,888.9 1230.3,889 1222.2,898.3 1229.6,899.6 1221.3,903 1226.2,909.3 1217.6,908.6 1220.2,919.9 1212.6,913.9 1205.7,918.8 1204.6,909.5 1194.8,920.6 1202.1,906.4 1193.3,903.5 1197,899.9" fill="#189e32" opacity="0.3"/>
<ellipse cx="1207.7" cy="898.3" rx="13.7" ry="12.8" fill="url(#gb)" opacity="0.1" transform="rotate(0 1209.9 900.3)"/>
<ellipse cx="1213.7" cy="899.5" rx="13.7" ry="12.8" fill="url(#gb)" opacity="0.1" transform="rotate(0 1209.9 900.3)"/>
<ellipse cx="1093" cy="906.8" rx="14.8" ry="10.6" fill="url(#gh)" opacity="0.7" transform="rotate(0 1093 906.8)"/>
<polygon points="1084.5,897.9 1089.6,901.1 1090.2,897.3 1094.5,900.5 1099.9,895.8 1098.2,902.4 1106.5,901.8 1100.5,906.6 1105.2,908.3 1099.9,909.5 1103.8,915 1096,911.8 1095.8,917.5 1091,913.9 1088,915.2 1087.2,911.5 1077.3,912.6 1084.6,907.6 1076.5,904.8 1085.2,902.6" fill="#189e32" opacity="0.6"/>
<ellipse cx="1094.3" cy="906.1" rx="11" ry="7" fill="url(#gb)" opacity="0.8" transform="rotate(0 1093 906.8)"/>
<ellipse cx="1092.5" cy="906.8" rx="11" ry="7" fill="url(#gb)" opacity="0.8" transform="rotate(0 1093 906.8)"/>
<ellipse cx="1093" cy="906.8" rx="5.9" ry="4" fill="url(#gc)" opacity="0.9" transform="rotate(0 1093 906.8)"/>
<ellipse cx="1360.5" cy="903.6" rx="15.9" ry="7.7" fill="url(#gh)" opacity="0.6" transform="rotate(100 1360.5 903.6)"/>
<polygon points="1369.7,900.8 1364.9,906.2 1367.4,913.3 1362.7,909.8 1362.5,919.5 1359,913.1 1356.7,916.1 1355.8,911.3 1352.7,911.1 1354.8,905.3 1351.2,901.7 1356.2,899.5 1357.3,891.3 1360.3,895.7 1361.8,889.3 1363.3,894.3 1367.9,891.5 1365.9,899.8" fill="#189e32" opacity="0.4"/>
<ellipse cx="1361.4" cy="905.1" rx="13" ry="5.1" fill="url(#gb)" opacity="0.4" transform="rotate(100 1360.5 903.6)"/>
<ellipse cx="1361.8" cy="904.3" rx="13" ry="5.1" fill="url(#gb)" opacity="0.4" transform="rotate(100 1360.5 903.6)"/>
<ellipse cx="1405.3" cy="913.2" rx="13.1" ry="11.5" fill="url(#gh)" opacity="0.7" transform="rotate(0 1405.3 913.2)"/>
<polygon points="1394.5,902.3 1402.7,907.8 1403.2,901.4 1405.9,905.4 1411.1,901.8 1410.4,907.8 1416.7,905.8 1411,910.6 1417.8,911.4 1412.7,914.2 1416,918 1411,918.9 1412,921.4 1406.6,919.5 1404.7,925.6 1403,919 1397.1,925.2 1399.8,917 1392.2,916.4 1398.1,914 1394,911.4 1397.3,908.8" fill="#189e32" opacity="0.6"/>
<ellipse cx="1406.1" cy="914.1" rx="9" ry="7.7" fill="url(#gb)" opacity="0.8" transform="rotate(0 1405.3 913.2)"/>
<ellipse cx="1405.9" cy="912" rx="9" ry="7.7" fill="url(#gb)" opacity="0.8" transform="rotate(0 1405.3 913.2)"/>
<ellipse cx="1405.3" cy="913.2" rx="4.8" ry="4.3" fill="url(#gc)" opacity="0.9" transform="rotate(0 1405.3 913.2)"/>
<ellipse cx="1176.3" cy="945.2" rx="17.4" ry="15.4" fill="url(#gh)" opacity="0.7" transform="rotate(0 1176.3 945.2)"/>
<polygon points="1188.5,931.2 1185.6,941.4 1192,941.7 1186.3,946.8 1195.3,953 1183.8,953.9 1181.4,962.5 1175.3,955.5 1169.5,962.7 1169.8,950.8 1163.5,953.1 1164.3,947.2 1155.7,941.7 1166.7,940.5 1163.1,932.5 1173,938.1 1176,928.4 1180.5,937.3" fill="#189e32" opacity="0.6"/>
<line x1="1176.3" y1="945.2" x2="1199.6" y2="933.6" stroke="#22b844" stroke-width="0.9" opacity="0.7"/>
<line x1="1176.3" y1="945.2" x2="1181.2" y2="918.2" stroke="#22b844" stroke-width="1.4" opacity="0.7"/>
<line x1="1176.3" y1="945.2" x2="1168.7" y2="925.4" stroke="#22b844" stroke-width="1.1" opacity="0.7"/>
<ellipse cx="1177.3" cy="945.9" rx="12" ry="10.2" fill="url(#gb)" opacity="0.7" transform="rotate(0 1176.3 945.2)"/>
<ellipse cx="1174.3" cy="947.7" rx="12" ry="10.2" fill="url(#gb)" opacity="0.7" transform="rotate(0 1176.3 945.2)"/>
<ellipse cx="1176.3" cy="945.2" rx="6.5" ry="5.8" fill="url(#gc)" opacity="0.9" transform="rotate(0 1176.3 945.2)"/>
<ellipse cx="1107.4" cy="948.4" rx="17.9" ry="7.7" fill="url(#gh)" opacity="0.6" transform="rotate(92 1107.4 948.4)"/>
<polygon points="1113.9,949 1112.4,950.7 1112.9,954.8 1110.7,953.7 1110.8,960.5 1109.2,957.1 1108,963.7 1107.2,957.9 1103.4,965.7 1104.2,957.5 1099.9,959.8 1103,952.5 1098,955 1102.2,949.6 1100.8,943.7 1102.5,943.1 1100.9,937.4 1105.1,939.6 1104.3,931 1106.7,936.5 1109.8,929.8 1108.8,938.7 1111.2,935.8 1110.9,942.5 1116.2,938.1 1112.4,945.8" fill="#189e32" opacity="0.5"/>
<ellipse cx="1108.1" cy="948.3" rx="15" ry="5.1" fill="url(#gb)" opacity="0.4" transform="rotate(92 1107.4 948.4)"/>
<ellipse cx="1106.7" cy="949.2" rx="15" ry="5.1" fill="url(#gb)" opacity="0.4" transform="rotate(92 1107.4 948.4)"/>
<ellipse cx="1227.5" cy="958" rx="17" ry="13.5" fill="url(#gh)" opacity="0.6" transform="rotate(-50 1227.5 958)"/>
<polygon points="1214.3,962.1 1219.7,957.8 1215.9,953.3 1221.3,951.7 1223.1,946 1227.9,948 1232.3,943.5 1234.1,949.1 1241.5,945.6 1237.9,953.3 1245.2,957 1235.8,960.4 1239.1,969.1 1229.4,965.3 1228.7,975.2 1224.4,966.9 1218,971.4 1219.7,963.6" fill="#189e32" opacity="0.4"/>
<ellipse cx="1225.5" cy="957.8" rx="12.2" ry="9" fill="url(#gb)" opacity="0.3" transform="rotate(-50 1227.5 958)"/>
<ellipse cx="1230.3" cy="959.5" rx="12.2" ry="9" fill="url(#gb)" opacity="0.3" transform="rotate(-50 1227.5 958)"/>
<ellipse cx="1326.8" cy="943.6" rx="13.1" ry="11.5" fill="url(#gh)" opacity="0.6" transform="rotate(0 1326.8 943.6)"/>
<polygon points="1313,941.7 1320.8,940.5 1314.2,934.7 1323.2,938.3 1321.9,931 1326.3,935.2 1330.2,931 1330.1,936.2 1334.7,935.1 1333.9,938.5 1337.8,941.3 1336.3,943.8 1338.7,946.5 1335.4,947.2 1334.8,950.6 1331.7,949.5 1330.7,957.6 1327.7,951.9 1323.5,954.1 1324,949.8 1319.1,951.5 1319.7,947.2 1316.5,947.6 1318.5,944.2" fill="#189e32" opacity="0.4"/>
<ellipse cx="1326.4" cy="944.7" rx="9" ry="7.7" fill="url(#gb)" opacity="0.4" transform="rotate(0 1326.8 943.6)"/>
<ellipse cx="1329.1" cy="943.3" rx="9" ry="7.7" fill="url(#gb)" opacity="0.4" transform="rotate(0 1326.8 943.6)"/>
<ellipse cx="1363.7" cy="951.6" rx="14.2" ry="12.5" fill="url(#gh)" opacity="0.6" transform="rotate(0 1363.7 951.6)"/>
<polygon points="1346.6,949.7 1354.3,948.8 1353.1,944.2 1358.7,946.1 1358.7,939.5 1362.6,943.4 1367.2,937.5 1366.8,943.8 1374.9,939.7 1370.5,946.6 1376.6,947.6 1372.6,950.2 1380.5,953.2 1370.9,954 1375.6,960.4 1368.9,959.5 1369.4,963.5 1364.5,959.4 1361.5,964.1 1359,959.6 1352.8,962.6 1357,955.3 1351.3,954.8 1355.2,953.3" fill="#189e32" opacity="0.4"/>
<ellipse cx="1361.9" cy="950.3" rx="9.7" ry="8.3" fill="url(#gb)" opacity="0.4" transform="rotate(0 1363.7 951.6)"/>
<ellipse cx="1364.2" cy="949.8" rx="9.7" ry="8.3" fill="url(#gb)" opacity="0.4" transform="rotate(0 1363.7 951.6)"/>
<ellipse cx="1405.3" cy="964.4" rx="16.1" ry="13.5" fill="url(#gh)" opacity="0.6" transform="rotate(-30 1405.3 964.4)"/>
<polygon points="1404,977 1402.9,971.5 1396.4,979.5 1399.2,969.8 1393.5,971.6 1395.3,966.8 1387.9,966 1395.2,963.6 1389.1,958 1398.6,957.6 1399.5,951.6 1403.7,955.3 1406.9,951.6 1407.5,954.9 1413.9,953.2 1412.2,957.4 1421.7,953.5 1415,961.8 1421.4,962.4 1413.8,965.2 1420.5,970.9 1410.3,969.5 1415.1,978.7 1407.7,971.1" fill="#189e32" opacity="0.4"/>
<ellipse cx="1404.1" cy="966.2" rx="11.4" ry="9" fill="url(#gb)" opacity="0.4" transform="rotate(-30 1405.3 964.4)"/>
<ellipse cx="1406" cy="965" rx="11.4" ry="9" fill="url(#gb)" opacity="0.4" transform="rotate(-30 1405.3 964.4)"/>
<ellipse cx="1302.8" cy="983.6" rx="20.2" ry="8.6" fill="url(#gh)" opacity="0.6" transform="rotate(40 1302.8 983.6)"/>
<polygon points="1307.8,978 1306.4,980.7 1313.1,983.9 1312.2,985.2 1318.8,988.3 1312.7,988.5 1316.1,992.8 1310.9,991.5 1314.4,998.4 1307.9,992.5 1309,994.7 1303.3,990.9 1300.2,994.8 1300,988.9 1295.6,987.1 1294.9,984.5 1287.3,981.1 1294.5,981.4 1286.5,975 1293.8,976.8 1288.4,970.7 1295.5,975.1 1293.8,970.7 1300,976.2 1301.1,972.7 1304.4,978.8" fill="#189e32" opacity="0.4"/>
<ellipse cx="1302.5" cy="983.2" rx="16.9" ry="5.8" fill="url(#gb)" opacity="0.4" transform="rotate(40 1302.8 983.6)"/>
<ellipse cx="1304.2" cy="984.5" rx="16.9" ry="5.8" fill="url(#gb)" opacity="0.4" transform="rotate(40 1302.8 983.6)"/>
<ellipse cx="1314" cy="996.4" rx="16.2" ry="10.6" fill="url(#gh)" opacity="0.6" transform="rotate(70 1314 996.4)"/>
<polygon points="1323.1,988.6 1320.8,993 1326.9,997.9 1321.6,1000.1 1326.6,1007.8 1318.7,1002.4 1320,1012 1315.7,1006.6 1315.2,1009.1 1312.9,1005.7 1309.7,1006.3 1308.1,1000.7 1301.2,999.4 1307.3,995.3 1300.6,988.6 1306.5,990.2 1306.6,984.8 1309.9,988.1 1310.8,980.7 1314,988.3 1318.3,980.2 1317.6,988.5" fill="#189e32" opacity="0.4"/>
<ellipse cx="1312.8" cy="996.7" rx="12.4" ry="7" fill="url(#gb)" opacity="0.4" transform="rotate(70 1314 996.4)"/>
<ellipse cx="1315.6" cy="995.7" rx="12.4" ry="7" fill="url(#gb)" opacity="0.4" transform="rotate(70 1314 996.4)"/>
<ellipse cx="1256.4" cy="999.6" rx="16.2" ry="10.6" fill="url(#gh)" opacity="0.7" transform="rotate(40 1256.4 999.6)"/>
<polygon points="1271.2,1010.3 1264,1007.5 1263.6,1010.6 1257.9,1007.6 1254.7,1012.4 1253,1005.9 1246.7,1006.5 1249.4,1000.5 1240.2,996.5 1249.6,996.1 1245.1,991.8 1249.7,993 1251.1,988.4 1255,990.8 1259.8,987 1259.5,993 1265.2,994.1 1263.4,998.9 1272.9,1003.1 1263.6,1002.5" fill="#189e32" opacity="0.6"/>
<ellipse cx="1257.8" cy="998.1" rx="12.4" ry="7" fill="url(#gb)" opacity="0.7" transform="rotate(40 1256.4 999.6)"/>
<ellipse cx="1254.7" cy="1001.3" rx="12.4" ry="7" fill="url(#gb)" opacity="0.7" transform="rotate(40 1256.4 999.6)"/>
<ellipse cx="1256.4" cy="999.6" rx="6.7" ry="4" fill="url(#gc)" opacity="0.9" transform="rotate(40 1256.4 999.6)"/>
<ellipse cx="1206.7" cy="1015.7" rx="21.1" ry="9.6" fill="url(#gh)" opacity="0.6" transform="rotate(-60 1206.7 1015.7)"/>
<polygon points="1221.5,1002.4 1213.6,1011.8 1219.8,1015.6 1212.8,1019 1212.8,1026.6 1206.8,1025.9 1204.2,1032.3 1202.4,1027.5 1196.8,1032.3 1199.8,1023.3 1193.4,1026.5 1199.2,1020.4 1193.3,1016.4 1200.6,1012 1198.4,1005.9 1204.9,1008.2 1209.3,996.3 1210.7,1005.2 1216.1,997.9 1215.1,1006.1" fill="#189e32" opacity="0.5"/>
<ellipse cx="1206.3" cy="1014.2" rx="17.5" ry="6.4" fill="url(#gb)" opacity="0.5" transform="rotate(-60 1206.7 1015.7)"/>
<ellipse cx="1205.5" cy="1015.9" rx="17.5" ry="6.4" fill="url(#gb)" opacity="0.5" transform="rotate(-60 1206.7 1015.7)"/>
<ellipse cx="1298" cy="1018.9" rx="16.7" ry="12.5" fill="url(#gh)" opacity="0.5" transform="rotate(60 1298 1018.9)"/>
<polygon points="1299.4,1034.3 1296.4,1026 1291.7,1028.4 1291,1024.5 1284.5,1023.6 1288.8,1019.6 1282.6,1013.8 1289.5,1014 1285.1,1006.3 1294.6,1011.6 1293.8,1004.3 1297.5,1009.5 1302.8,1004.5 1302.7,1010.6 1309.5,1009.7 1305.1,1017.5 1315,1020.5 1305.1,1021.4 1312.9,1030.3 1305.5,1026.7 1305.9,1036.1 1301.2,1030" fill="#189e32" opacity="0.4"/>
<ellipse cx="1300.4" cy="1019" rx="12.2" ry="8.3" fill="url(#gb)" opacity="0.3" transform="rotate(60 1298 1018.9)"/>
<ellipse cx="1296.1" cy="1018.6" rx="12.2" ry="8.3" fill="url(#gb)" opacity="0.3" transform="rotate(60 1298 1018.9)"/>
<ellipse cx="1163.5" cy="1025.3" rx="19" ry="7.7" fill="url(#gh)" opacity="0.7" transform="rotate(85 1163.5 1025.3)"/>
<polygon points="1169.1,1035.6 1167.2,1034.3 1166.6,1042.3 1164.1,1034.7 1163,1042 1161.2,1035.9 1159.9,1036.6 1159.3,1032 1157.1,1027.8 1158.8,1026 1155.1,1019.3 1158,1019.5 1155.8,1010 1160.1,1014.1 1159.9,1005.7 1162.6,1013.9 1165.3,1005 1165.7,1015.9 1168,1012.6 1167.8,1018.4 1172.1,1020.2 1167.5,1025.4 1171.2,1029 1168.2,1031.8" fill="#189e32" opacity="0.5"/>
<ellipse cx="1163.1" cy="1025.3" rx="16" ry="5.1" fill="url(#gb)" opacity="0.6" transform="rotate(85 1163.5 1025.3)"/>
<ellipse cx="1164.7" cy="1025.4" rx="16" ry="5.1" fill="url(#gb)" opacity="0.6" transform="rotate(85 1163.5 1025.3)"/>
<ellipse cx="1163.5" cy="1025.3" rx="8.6" ry="2.9" fill="url(#gc)" opacity="0.8" transform="rotate(85 1163.5 1025.3)"/>
<ellipse cx="1344.5" cy="1036.5" rx="16.1" ry="11.5" fill="url(#gh)" opacity="0.6" transform="rotate(-50 1344.5 1036.5)"/>
<polygon points="1330.2,1048.6 1336,1040.8 1331.2,1038.9 1337.6,1036.8 1335.9,1031.9 1339.7,1032.6 1338.9,1022.7 1343.5,1029 1345,1022.2 1346.9,1028.5 1353.5,1023.5 1351.7,1030.7 1358.9,1026.9 1351.8,1034.9 1356.2,1036.9 1352.3,1039.3 1353.6,1042.5 1347.1,1043.9 1346.3,1052.6 1342.4,1045.4 1340.5,1048.2 1340.1,1044.1" fill="#189e32" opacity="0.5"/>
<ellipse cx="1344.8" cy="1034.3" rx="12" ry="7.7" fill="url(#gb)" opacity="0.4" transform="rotate(-50 1344.5 1036.5)"/>
<ellipse cx="1342.9" cy="1037" rx="12" ry="7.7" fill="url(#gb)" opacity="0.4" transform="rotate(-50 1344.5 1036.5)"/>
<ellipse cx="1398.9" cy="1033.3" rx="17" ry="13.5" fill="url(#gh)" opacity="0.7" transform="rotate(90 1398.9 1033.3)"/>
<polygon points="1406.2,1016.7 1405.7,1027.3 1413,1025.4 1406.8,1032.2 1415.1,1035.1 1407.2,1039.1 1410.5,1047.8 1401.5,1041.9 1399.4,1047.3 1396.7,1044.3 1391.8,1046.6 1393.6,1039.5 1384.8,1039.1 1390.5,1033.7 1382.2,1029.3 1391.4,1026.7 1388.2,1017.7 1395.4,1024.8 1398.3,1014.5 1401.4,1022.5" fill="#189e32" opacity="0.6"/>
<ellipse cx="1398.4" cy="1031.1" rx="12.2" ry="9" fill="url(#gb)" opacity="0.8" transform="rotate(90 1398.9 1033.3)"/>
<ellipse cx="1400.4" cy="1035.4" rx="12.2" ry="9" fill="url(#gb)" opacity="0.8" transform="rotate(90 1398.9 1033.3)"/>
<ellipse cx="1398.9" cy="1033.3" rx="6.6" ry="5" fill="url(#gc)" opacity="0.9" transform="rotate(90 1398.9 1033.3)"/>
<ellipse cx="1113.8" cy="1041.3" rx="21.5" ry="20.2" fill="url(#gh)" opacity="0.4" transform="rotate(0 1113.8 1041.3)"/>
<polygon points="1122.4,1058.2 1119.9,1055.1 1118,1065.7 1111.2,1052.7 1105.2,1060.2 1105.4,1050.6 1098.7,1051.1 1100.7,1047.5 1090.6,1047.1 1102.8,1040.9 1091.2,1034.7 1104.4,1035.2 1100.1,1027.9 1105.4,1030.4 1109.8,1023.2 1113.2,1028.6 1116.4,1015.7 1120,1027.6 1129,1023.4 1125.4,1033.8 1131.9,1032.6 1124.5,1039.7 1138,1043.9 1125.4,1044 1137.1,1053.1 1123,1048.7" fill="#189e32" opacity="0.3"/>
<ellipse cx="1115.5" cy="1040.6" rx="14.4" ry="13.5" fill="url(#gb)" opacity="0.1" transform="rotate(0 1113.8 1041.3)"/>
<ellipse cx="1110.2" cy="1038.2" rx="14.4" ry="13.5" fill="url(#gb)" opacity="0.1" transform="rotate(0 1113.8 1041.3)"/>
<ellipse cx="1246.8" cy="1050.9" rx="15.9" ry="7.7" fill="url(#gh)" opacity="0.6" transform="rotate(92 1246.8 1050.9)"/>
<polygon points="1251.3,1066.3 1248.7,1060.3 1246.7,1068 1245.6,1060.4 1244.7,1064.7 1244.1,1058.8 1239.3,1063 1241.8,1056.6 1238,1056.7 1241.8,1051.5 1240.5,1047.8 1242.3,1046.4 1241.6,1043.3 1244.5,1044.2 1243.8,1038.7 1246.4,1042 1247.6,1038.1 1248.3,1041.8 1250.8,1039.7 1250.7,1045.2 1255.4,1041.4 1250.8,1048.9 1254.1,1050.5 1251.8,1053.9 1253.1,1055.5 1250.1,1057" fill="#189e32" opacity="0.4"/>
<ellipse cx="1246.2" cy="1050.9" rx="13" ry="5.1" fill="url(#gb)" opacity="0.4" transform="rotate(92 1246.8 1050.9)"/>
<ellipse cx="1245.6" cy="1050.8" rx="13" ry="5.1" fill="url(#gb)" opacity="0.4" transform="rotate(92 1246.8 1050.9)"/>
<ellipse cx="1376.5" cy="1060.5" rx="16" ry="9.6" fill="url(#gh)" opacity="0.6" transform="rotate(50 1376.5 1060.5)"/>
<polygon points="1375.9,1075.2 1373.8,1066 1371.3,1068 1372,1063.2 1363.2,1060.6 1367.7,1058.5 1363.3,1054.6 1370,1055.8 1364.3,1050.3 1370.2,1052.6 1368.9,1046.1 1372.7,1051.3 1375.8,1050.3 1376.6,1052.1 1380.1,1049.3 1381.2,1055.2 1386.8,1055.4 1383.6,1058.4 1388,1062.5 1382.5,1063.3 1391.5,1070 1382.8,1066.2 1384.6,1070.8 1382.2,1069.1 1381.1,1074.9 1378.8,1069.4" fill="#189e32" opacity="0.4"/>
<ellipse cx="1377.8" cy="1059.6" rx="12.5" ry="6.4" fill="url(#gb)" opacity="0.4" transform="rotate(50 1376.5 1060.5)"/>
<ellipse cx="1375.2" cy="1061.4" rx="12.5" ry="6.4" fill="url(#gb)" opacity="0.4" transform="rotate(50 1376.5 1060.5)"/>
<ellipse cx="1325.2" cy="1073.3" rx="14.2" ry="12.5" fill="url(#gh)" opacity="0.6" transform="rotate(0 1325.2 1073.3)"/>
<polygon points="1336.5,1077.1 1331,1077.1 1333.9,1083.9 1328.7,1079.5 1326.3,1086.1 1324,1080.5 1320.7,1084.8 1319.5,1080.1 1310.8,1080.4 1317.6,1075.8 1310.8,1072 1318.4,1071.4 1313.6,1065.7 1319.1,1067.9 1318.5,1062.5 1323.7,1065.8 1326.5,1062 1329.4,1066.4 1335,1062.4 1331.5,1068.8 1339.1,1069.1 1333.7,1073.9" fill="#189e32" opacity="0.5"/>
<ellipse cx="1324.8" cy="1073.8" rx="9.7" ry="8.3" fill="url(#gb)" opacity="0.4" transform="rotate(0 1325.2 1073.3)"/>
<ellipse cx="1326.7" cy="1072.4" rx="9.7" ry="8.3" fill="url(#gb)" opacity="0.4" transform="rotate(0 1325.2 1073.3)"/>
<ellipse cx="1093" cy="775.4" rx="13.5" ry="9.6" fill="url(#gh)" opacity="0.6" transform="rotate(60 1093 775.4)"/>
<polygon points="1083.9,773.5 1086.9,772.1 1083.3,766 1089.4,768.5 1089.8,763.7 1091.8,766.9 1095,765.3 1096.3,768.7 1100.9,766.3 1099.2,772.3 1102.1,775.7 1099.3,777.2 1104.7,783.7 1097.4,780.9 1100.5,788.6 1096.2,783.7 1094.8,788.7 1091.7,782.3 1088,782.9 1087.9,780.6 1081.5,779 1087.2,775.8" fill="#189e32" opacity="0.5"/>
<ellipse cx="1093.3" cy="776.5" rx="10" ry="6.4" fill="url(#gb)" opacity="0.5" transform="rotate(60 1093 775.4)"/>
<ellipse cx="1093.1" cy="773.7" rx="10" ry="6.4" fill="url(#gb)" opacity="0.5" transform="rotate(60 1093 775.4)"/>
<ellipse cx="1206.7" cy="769" rx="14.8" ry="10.6" fill="url(#gh)" opacity="0.6" transform="rotate(-40 1206.7 769)"/>
<polygon points="1218.7,768.8 1213.1,770.8 1217.3,775.8 1212.3,774.4 1209.8,779.8 1206.8,775.9 1204.8,781.9 1202.8,775.7 1195.8,781 1199,775.1 1191.1,776.3 1199.4,770.2 1196.1,769.6 1199.2,767.8 1198.6,762.3 1203.8,764.2 1202.2,759.5 1207.3,762.9 1208.8,755.7 1211.1,761.2 1216,758.3 1212.5,764.8 1221.7,762.9 1215.7,767.1" fill="#189e32" opacity="0.4"/>
<ellipse cx="1204.8" cy="767.7" rx="11" ry="7" fill="url(#gb)" opacity="0.4" transform="rotate(-40 1206.7 769)"/>
<ellipse cx="1207.2" cy="768.2" rx="11" ry="7" fill="url(#gb)" opacity="0.4" transform="rotate(-40 1206.7 769)"/>
<ellipse cx="1134.7" cy="751.4" rx="9.8" ry="8.6" fill="url(#gh)" opacity="0.6" transform="rotate(0 1134.7 751.4)"/>
<polygon points="1126.1,757.3 1129,752 1126.1,750 1128.8,747.7 1126.6,744.9 1133,746.2 1133.2,741.4 1136.4,746.6 1139.5,744.6 1139.9,749 1145.3,749.5 1141.2,752.1 1141.5,755.2 1137.8,754.8 1139.1,761.5 1134.4,756.4 1131,758.6 1130.3,755.9" fill="#189e32" opacity="0.5"/>
<ellipse cx="1133" cy="750.5" rx="6.7" ry="5.8" fill="url(#gb)" opacity="0.5" transform="rotate(0 1134.7 751.4)"/>
<ellipse cx="1134.8" cy="753.2" rx="6.7" ry="5.8" fill="url(#gb)" opacity="0.5" transform="rotate(0 1134.7 751.4)"/>
<ellipse cx="1088.2" cy="833.1" rx="13.4" ry="10.6" fill="url(#gh)" opacity="0.5" transform="rotate(70 1088.2 833.1)"/>
<polygon points="1084.7,817.8 1088.1,824.4 1091.9,820.3 1091.1,827.9 1098.6,826.4 1094.6,830.4 1099,835.1 1095.2,835.5 1098.9,844.1 1092.9,840.2 1092.4,846.9 1088.2,841.5 1086.6,844.7 1084.3,838.5 1080.2,840.7 1082.7,834.1 1077.1,832.4 1082.6,829.7 1077.7,821.6 1084.4,827.1" fill="#189e32" opacity="0.4"/>
<ellipse cx="1090.4" cy="833.1" rx="9.6" ry="7" fill="url(#gb)" opacity="0.3" transform="rotate(70 1088.2 833.1)"/>
<ellipse cx="1086.6" cy="831.8" rx="9.6" ry="7" fill="url(#gb)" opacity="0.3" transform="rotate(70 1088.2 833.1)"/>
<ellipse cx="1238.8" cy="749.8" rx="8.7" ry="7.7" fill="url(#gh)" opacity="0.6" transform="rotate(0 1238.8 749.8)"/>
<polygon points="1231.7,747.4 1234.8,746.4 1235.3,743 1238,744.9 1241.7,742.5 1242.1,745.6 1247,744.5 1243.3,748.3 1246.3,750.7 1244,751.5 1245.3,756.2 1240.4,754 1238.4,759.2 1236.9,753.9 1233.6,757.7 1235.3,752.2 1229.1,751.5 1234.3,749.2" fill="#189e32" opacity="0.4"/>
<ellipse cx="1239.4" cy="749" rx="6" ry="5.1" fill="url(#gb)" opacity="0.4" transform="rotate(0 1238.8 749.8)"/>
<ellipse cx="1238.7" cy="750.4" rx="6" ry="5.1" fill="url(#gb)" opacity="0.4" transform="rotate(0 1238.8 749.8)"/>
<ellipse cx="1426.1" cy="759.4" rx="9.8" ry="8.6" fill="url(#gh)" opacity="0.5" transform="rotate(0 1426.1 759.4)"/>
<polygon points="1435.8,756.1 1432.5,758 1436.8,761.1 1430.6,761.7 1432.8,763.7 1430.1,764.6 1428.1,768.1 1426.7,763.7 1423.6,766.6 1422.7,763.3 1420.1,765.6 1421.4,761 1414.6,760.2 1419.4,758.1 1418.1,757.1 1421.8,755.9 1420.8,753.2 1424.6,753.4 1426.2,751.4 1428.3,753.4 1430.9,753.5 1429.9,756.4" fill="#189e32" opacity="0.4"/>
<ellipse cx="1424.7" cy="761" rx="6.7" ry="5.8" fill="url(#gb)" opacity="0.3" transform="rotate(0 1426.1 759.4)"/>
<ellipse cx="1426.6" cy="757.8" rx="6.7" ry="5.8" fill="url(#gb)" opacity="0.3" transform="rotate(0 1426.1 759.4)"/>
</g>
<g filter="url(#bl05)">
<ellipse cx="1109.7" cy="794.1" rx="2.5" ry="3.1" fill="#3ad0dc" opacity="0.9"/>
<ellipse cx="1164.4" cy="810" rx="2.3" ry="2.8" fill="#2a9ce8" opacity="0.9"/>
<ellipse cx="1360.9" cy="752.1" rx="2.8" ry="3.4" fill="#3ad0dc" opacity="0.9"/>
<ellipse cx="1356.6" cy="778.1" rx="2.8" ry="3.4" fill="#2a9ce8" opacity="0.9"/>
<ellipse cx="1332.3" cy="793.5" rx="3" ry="3.6" fill="#2a9ce8" opacity="0.9"/>
<ellipse cx="1286.9" cy="821.6" rx="2.8" ry="3.4" fill="#2a9ce8" opacity="0.9"/>
<ellipse cx="1331" cy="822.5" rx="3.6" ry="4.4" fill="#2272e8" opacity="0.9"/>
<ellipse cx="1347.9" cy="848.2" rx="2.5" ry="3.1" fill="#2a9ce8" opacity="0.9"/>
<ellipse cx="1399" cy="854.3" rx="2.8" ry="3.4" fill="#3ad0dc" opacity="0.9"/>
<ellipse cx="1133.9" cy="856.3" rx="2.3" ry="2.8" fill="#2a9ce8" opacity="0.9"/>
<ellipse cx="1168.5" cy="852.2" rx="2.3" ry="2.8" fill="#2a9ce8" opacity="0.9"/>
<ellipse cx="1296.2" cy="868.2" rx="2.5" ry="3.1" fill="#3ad0dc" opacity="0.9"/>
<ellipse cx="1210.7" cy="900.6" rx="3.6" ry="4.4" fill="#2272e8" opacity="0.9"/>
<ellipse cx="1092.3" cy="907.3" rx="2.5" ry="3.1" fill="#3ad0dc" opacity="0.9"/>
<ellipse cx="1361.5" cy="904.3" rx="2.3" ry="2.8" fill="#2a9ce8" opacity="0.9"/>
<ellipse cx="1405.7" cy="912.4" rx="2.8" ry="3.4" fill="#3ad0dc" opacity="0.9"/>
<ellipse cx="1175.8" cy="945.1" rx="3.6" ry="4.4" fill="#3ad0dc" opacity="0.9"/>
<ellipse cx="1108.2" cy="948" rx="2.3" ry="2.8" fill="#2a9ce8" opacity="0.9"/>
<ellipse cx="1227.2" cy="958.2" rx="3.2" ry="3.9" fill="#2a9ce8" opacity="0.9"/>
<ellipse cx="1326.9" cy="942.9" rx="2.8" ry="3.4" fill="#2a9ce8" opacity="0.9"/>
<ellipse cx="1363.7" cy="951.2" rx="3" ry="3.6" fill="#2a9ce8" opacity="0.9"/>
<ellipse cx="1405.9" cy="964" rx="3.2" ry="3.9" fill="#2a9ce8" opacity="0.9"/>
<ellipse cx="1303.8" cy="982.7" rx="2.3" ry="2.8" fill="#2a9ce8" opacity="0.9"/>
<ellipse cx="1313.3" cy="996.9" rx="2.5" ry="3.1" fill="#2a9ce8" opacity="0.9"/>
<ellipse cx="1256.8" cy="1000.2" rx="2.5" ry="3.1" fill="#3ad0dc" opacity="0.9"/>
<ellipse cx="1207.7" cy="1016.6" rx="2.3" ry="2.8" fill="#2a9ce8" opacity="0.9"/>
<ellipse cx="1297.7" cy="1019.1" rx="3" ry="3.6" fill="#2a9ce8" opacity="0.9"/>
<ellipse cx="1164.3" cy="1024.5" rx="2.3" ry="2.8" fill="#3ad0dc" opacity="0.9"/>
<ellipse cx="1344.5" cy="1036.9" rx="2.8" ry="3.4" fill="#2a9ce8" opacity="0.9"/>
<ellipse cx="1399.8" cy="1033.1" rx="3.2" ry="3.9" fill="#3ad0dc" opacity="0.9"/>
<ellipse cx="1113" cy="1041" rx="3.6" ry="4.4" fill="#2272e8" opacity="0.9"/>
<ellipse cx="1246.3" cy="1050.3" rx="2.3" ry="2.8" fill="#2a9ce8" opacity="0.9"/>
<ellipse cx="1377.3" cy="1060.6" rx="2.3" ry="2.8" fill="#2a9ce8" opacity="0.9"/>
<ellipse cx="1325.9" cy="1072.7" rx="3" ry="3.6" fill="#2a9ce8" opacity="0.9"/>
<ellipse cx="1093.6" cy="776.2" rx="2.3" ry="2.8" fill="#2a9ce8" opacity="0.9"/>
<ellipse cx="1207.4" cy="769.7" rx="2.5" ry="3.1" fill="#2a9ce8" opacity="0.9"/>
<ellipse cx="1134" cy="750.8" rx="2.3" ry="2.8" fill="#2a9ce8" opacity="0.9"/>
<ellipse cx="1088.6" cy="833.8" rx="2.5" ry="3.1" fill="#2a9ce8" opacity="0.9"/>
<ellipse cx="1239.1" cy="749.7" rx="2.3" ry="2.8" fill="#2a9ce8" opacity="0.9"/>
<ellipse cx="1426.5" cy="759.3" rx="2.3" ry="2.8" fill="#2a9ce8" opacity="0.9"/>
<circle cx="1206.1" cy="1054.7" r="2" fill="#ff3a18"/>
<circle cx="1314" cy="993.2" r="1.4" fill="#ff3a18"/>
<circle cx="1317.2" cy="1002.8" r="1.2" fill="#ff3a18"/>
<circle cx="1312.4" cy="987.5" r="1.2" fill="#ff3a18"/>
<circle cx="1296.4" cy="1015.7" r="1.3" fill="#ff3a18"/>
<circle cx="1301.2" cy="1025.3" r="1.3" fill="#ff3a18"/>
<circle cx="1293.2" cy="1010.9" r="1" fill="#e03418"/>
<circle cx="1302.8" cy="1030.1" r="1.2" fill="#ff3a18"/>
<circle cx="1129.8" cy="860.3" r="1.3" fill="#ff3a18"/>
<circle cx="1165.1" cy="805.9" r="1.2" fill="#ff3a18"/>
<circle cx="1334.8" cy="794.6" r="1" fill="#e03418"/>
<circle cx="1325.2" cy="789.8" r="0.9" fill="#e03418"/>
<circle cx="1400.5" cy="967.6" r="1.2" fill="#ff3a18"/>
<circle cx="1410.1" cy="962.8" r="1" fill="#e03418"/>
<circle cx="1331.6" cy="938.8" r="1" fill="#e03418"/>
<circle cx="1233.9" cy="958.6" r="1" fill="#e03418"/>
<circle cx="1358.9" cy="778.6" r="0.9" fill="#e03418"/>
<circle cx="1245.2" cy="1047.7" r="1" fill="#e03418"/>
<circle cx="1161.9" cy="983.6" r="0.9" fill="#e03418"/>
<circle cx="1136.3" cy="749.8" r="1.3" fill="#ff3a18"/>
<circle cx="1285.2" cy="818.7" r="1" fill="#e03418"/>
<circle cx="1349.3" cy="1031.7" r="0.9" fill="#e03418"/>
<circle cx="1326.8" cy="1074.9" r="0.9" fill="#e03418"/>
</g>
</g>
<text x="17.5" y="778.5" font-size="37" font-weight="bold" fill="#ffffff">d</text>
<text x="17.4" y="1087.6" font-size="28.7" fill="#ffffff" stroke="#fff" stroke-width="0.9">WT-AβE3</text>
<text x="372" y="1087.6" font-size="28.7" fill="#ffffff" stroke="#fff" stroke-width="0.9">Trem2<tspan dy="-10.3" font-size="17.2">ko</tspan><tspan dy="10.3">-AβE3</tspan></text>
<text x="729.5" y="1087.6" font-size="28.7" fill="#ffffff" stroke="#fff" stroke-width="0.9">WT-AβE4</text>
<text x="1084.5" y="1087.6" font-size="28.7" fill="#ffffff" stroke="#fff" stroke-width="0.9">Trem2<tspan dy="-10.3" font-size="17.2">ko</tspan><tspan dy="10.3">-AβE4</tspan></text>
<text x="1081.2" y="774.5" font-size="28.5" fill="#ff0a20" stroke="#ff0a20" stroke-width="0.7">555-labeled Aβ</text>
<text x="1425" y="774.5" font-size="28.5" fill="#08ee18" text-anchor="end" stroke="#08ee18" stroke-width="0.7">IBA1</text>
<text x="1378.7" y="1080.6" font-size="20.7" fill="#ffffff" text-anchor="middle" stroke="#fff" stroke-width="0.5">100 µm</text>
<line x1="1333.2" y1="1087.9" x2="1424.2" y2="1087.9" stroke="#ffffff" stroke-width="4.2"/>
<g>
<path d="M1618.4 834C1619.1 836 1620.8 841.9 1622.6 846C1624.4 850.1 1627.6 853.6 1629.1 858.6C1630.6 863.6 1630.7 869.9 1631.6 876C1632.5 882.1 1633.3 888.7 1634.5 895.5C1635.7 902.3 1639.1 909.6 1638.9 916.6C1638.7 923.6 1633.5 930.8 1633.5 937.8C1633.5 944.8 1636.8 952.5 1638.9 958.9C1641 965.3 1644.2 971.6 1646.1 976C1648 980.4 1650.2 982.5 1650.3 985.3C1650.4 988.1 1648.6 989.3 1646.9 992.6C1645.2 995.9 1642.4 1000.9 1640.1 1005C1637.8 1009.1 1635.4 1011 1633.3 1017C1631.2 1023 1629.2 1034.2 1627.3 1040.7C1625.4 1047.2 1623.6 1051.9 1622.1 1056C1620.6 1060.1 1619 1063.9 1618.4 1065.5L1617.8 1065.5C1617.2 1063.9 1615.6 1060.1 1614.1 1056C1612.6 1051.9 1610.8 1047.2 1608.9 1040.7C1607 1034.2 1605 1023 1602.9 1017C1600.8 1011 1598.4 1009.1 1596.1 1005C1593.8 1000.9 1591 995.9 1589.3 992.6C1587.6 989.3 1585.8 988.1 1585.9 985.3C1586 982.5 1588.2 980.4 1590.1 976C1592 971.6 1595.2 965.3 1597.3 958.9C1599.4 952.5 1602.7 944.8 1602.7 937.8C1602.7 930.8 1597.5 923.6 1597.3 916.6C1597.1 909.6 1600.5 902.3 1601.7 895.5C1602.9 888.7 1603.7 882.1 1604.6 876C1605.5 869.9 1605.6 863.6 1607.1 858.6C1608.6 853.6 1611.8 850.1 1613.6 846C1615.4 841.9 1617.1 836 1617.8 834Z" fill="#b955d6" stroke="#0a0a0a" stroke-width="3" stroke-linejoin="round"/>
<line x1="1618.1" y1="811" x2="1618.1" y2="836" stroke="#0a0a0a" stroke-width="3" stroke-linecap="round"/>
<line x1="1597.8" y1="918.5" x2="1638.4" y2="918.5" stroke="#0a0a0a" stroke-width="2.2"/>
<line x1="1597.1" y1="959.7" x2="1639.1" y2="959.7" stroke="#0a0a0a" stroke-width="2.2"/>
<line x1="1589.6" y1="992.6" x2="1646.6" y2="992.6" stroke="#0a0a0a" stroke-width="2.2"/>
<path d="M1702.8 826C1703.3 827.7 1704.9 832.8 1705.7 836C1706.5 839.2 1707.8 842.2 1707.8 845.4C1707.8 848.6 1706.5 851.9 1705.7 855C1704.9 858.1 1703.4 859.8 1702.9 864C1702.4 868.2 1702.8 874.7 1702.8 880C1702.8 885.3 1702.3 892 1702.9 896C1703.5 900 1703.5 901 1706.5 904C1709.5 907 1717.1 910.7 1721 914C1724.9 917.3 1727.7 920.9 1730 924C1732.3 927.1 1734.4 929.7 1734.7 932.5C1735 935.3 1733 938.4 1732 941C1731 943.6 1729.4 945.5 1728.9 948.3C1728.4 951 1728.6 954.5 1729.1 957.5C1729.6 960.5 1731.1 963.6 1732 966C1732.9 968.4 1734.4 969.5 1734.7 972C1735 974.5 1735.2 978.3 1734.1 981.3C1733 984.3 1730.5 986.7 1728 990C1725.5 993.3 1721.5 997.3 1718.9 1001C1716.3 1004.7 1714.3 1008.5 1712.5 1012C1710.7 1015.5 1709.3 1018.9 1708 1022.2C1706.7 1025.5 1705.5 1029 1704.7 1032C1703.9 1035 1703.2 1038.7 1702.9 1040L1702.1 1040C1701.8 1038.7 1701.1 1035 1700.3 1032C1699.5 1029 1698.3 1025.5 1697 1022.2C1695.7 1018.9 1694.3 1015.5 1692.5 1012C1690.7 1008.5 1688.7 1004.7 1686.1 1001C1683.5 997.3 1679.5 993.3 1677 990C1674.5 986.7 1672 984.3 1670.9 981.3C1669.8 978.3 1670 974.5 1670.3 972C1670.6 969.5 1672.1 968.4 1673 966C1673.9 963.6 1675.4 960.5 1675.9 957.5C1676.4 954.5 1676.6 951 1676.1 948.3C1675.6 945.5 1674 943.6 1673 941C1672 938.4 1670 935.3 1670.3 932.5C1670.6 929.7 1672.7 927.1 1675 924C1677.3 920.9 1680.1 917.3 1684 914C1687.9 910.7 1695.5 907 1698.5 904C1701.5 901 1701.5 900 1702.1 896C1702.7 892 1702.2 885.3 1702.2 880C1702.2 874.7 1702.6 868.2 1702.1 864C1701.6 859.8 1700.1 858.1 1699.3 855C1698.5 851.9 1697.2 848.6 1697.2 845.4C1697.2 842.2 1698.5 839.2 1699.3 836C1700.1 832.8 1701.7 827.7 1702.2 826Z" fill="#efcdf8" stroke="#0a0a0a" stroke-width="3" stroke-linejoin="round"/>
<line x1="1702.5" y1="809.8" x2="1702.5" y2="828" stroke="#0a0a0a" stroke-width="3" stroke-linecap="round"/>
<line x1="1702.5" y1="1038" x2="1702.5" y2="1060.4" stroke="#0a0a0a" stroke-width="3" stroke-linecap="round"/>
<line x1="1670.8" y1="932.5" x2="1734.2" y2="932.5" stroke="#0a0a0a" stroke-width="2.2"/>
<line x1="1676.5" y1="957.5" x2="1728.5" y2="957.5" stroke="#0a0a0a" stroke-width="2.2"/>
<line x1="1671.3" y1="981.3" x2="1733.7" y2="981.3" stroke="#0a0a0a" stroke-width="2.2"/>
<path d="M1804.3 886C1804.9 887.2 1806.7 890.5 1808 893C1809.3 895.5 1810.8 897.7 1811.9 900.8C1813 903.9 1814.5 907.4 1814.5 911.4C1814.5 915.4 1812.1 920.7 1812 924.5C1811.9 928.3 1813.2 930.9 1814 934C1814.8 937.1 1816.6 939.6 1816.8 943C1817 946.4 1815.5 950.4 1815 954.1C1814.5 957.8 1814.1 961.6 1814 965C1813.9 968.4 1814.2 971.9 1814.6 974.7C1815 977.5 1815.6 979.4 1816.5 982C1817.4 984.6 1818.9 987.8 1820.2 990.5C1821.5 993.2 1822.9 995.4 1824.5 998C1826.1 1000.6 1827.9 1003.6 1829.6 1006.4C1831.3 1009.2 1833.3 1012.1 1834.5 1015C1835.7 1017.9 1837.1 1021 1837 1023.5C1836.9 1026 1835.5 1027.5 1834 1030.1C1832.5 1032.7 1830.5 1035.9 1828 1039C1825.5 1042.1 1822 1045.4 1819.2 1048.6C1816.4 1051.8 1813.5 1055 1811 1058C1808.5 1061 1805.4 1065.1 1804.3 1066.5L1803.7 1066.5C1802.6 1065.1 1799.5 1061 1797 1058C1794.5 1055 1791.6 1051.8 1788.8 1048.6C1786 1045.4 1782.5 1042.1 1780 1039C1777.5 1035.9 1775.5 1032.7 1774 1030.1C1772.5 1027.5 1771.1 1026 1771 1023.5C1770.9 1021 1772.3 1017.9 1773.5 1015C1774.7 1012.1 1776.7 1009.2 1778.4 1006.4C1780.1 1003.6 1781.9 1000.6 1783.5 998C1785.1 995.4 1786.5 993.2 1787.8 990.5C1789.1 987.8 1790.6 984.6 1791.5 982C1792.4 979.4 1793 977.5 1793.4 974.7C1793.8 971.9 1794.1 968.4 1794 965C1793.9 961.6 1793.5 957.8 1793 954.1C1792.5 950.4 1791 946.4 1791.2 943C1791.4 939.6 1793.2 937.1 1794 934C1794.8 930.9 1796.1 928.3 1796 924.5C1795.9 920.7 1793.5 915.4 1793.5 911.4C1793.5 907.4 1795 903.9 1796.1 900.8C1797.2 897.7 1798.7 895.5 1800 893C1801.3 890.5 1803.1 887.2 1803.7 886Z" fill="#12c012" stroke="#0a0a0a" stroke-width="3" stroke-linejoin="round"/>
<line x1="1804" y1="865.2" x2="1804" y2="888" stroke="#0a0a0a" stroke-width="3" stroke-linecap="round"/>
<line x1="1793.5" y1="954.1" x2="1814.5" y2="954.1" stroke="#0a0a0a" stroke-width="2.2"/>
<line x1="1778.8" y1="1006.4" x2="1829.2" y2="1006.4" stroke="#0a0a0a" stroke-width="2.2"/>
<line x1="1774.3" y1="1030.1" x2="1833.7" y2="1030.1" stroke="#0a0a0a" stroke-width="2.2"/>
<path d="M1888.8 813C1889.2 813.8 1890.4 816.2 1891.1 818C1891.8 819.8 1892.9 821.9 1892.9 823.8C1892.9 825.7 1891.8 827.8 1891.1 829.5C1890.4 831.2 1889.3 825.6 1888.9 834C1888.5 842.4 1888.8 864.8 1888.8 880C1888.8 895.2 1888.5 916.8 1888.9 925C1889.3 933.2 1890.5 927.5 1891.1 929C1891.7 930.5 1892.5 932.2 1892.5 933.8C1892.5 935.4 1891.7 937 1891.1 938.5C1890.5 940 1889.3 939.4 1888.9 943C1888.5 946.6 1888.8 954.7 1888.8 960C1888.8 965.3 1888.5 971.7 1889 975C1889.5 978.3 1890.2 977.5 1891.5 980C1892.8 982.5 1895 986.9 1896.5 990C1898 993.1 1900.2 996.2 1900.4 998.4C1900.6 1000.6 1898.4 1001.7 1897.5 1003C1896.6 1004.3 1895 1005.2 1895.1 1006.4C1895.2 1007.6 1895.3 1008.7 1898 1010C1900.7 1011.3 1908.1 1012.8 1911.5 1014.3C1914.9 1015.8 1916.8 1017.2 1918.5 1019C1920.2 1020.8 1921.3 1023.1 1921.5 1024.8C1921.7 1026.5 1920.3 1027.8 1919.5 1029C1918.7 1030.2 1918.9 1030.8 1916.9 1032.2C1914.9 1033.6 1910.6 1035.7 1907.5 1037.5C1904.4 1039.3 1900.8 1041.2 1898.5 1043.3C1896.2 1045.4 1894.5 1048.2 1893.5 1050C1892.5 1051.8 1892.9 1052.5 1892.5 1053.8C1892.1 1055.1 1891.6 1056.2 1891 1058C1890.4 1059.8 1889.3 1063.3 1889 1064.4L1888 1064.4C1887.7 1063.3 1886.6 1059.8 1886 1058C1885.4 1056.2 1884.9 1055.1 1884.5 1053.8C1884.1 1052.5 1884.5 1051.8 1883.5 1050C1882.5 1048.2 1880.8 1045.4 1878.5 1043.3C1876.2 1041.2 1872.6 1039.3 1869.5 1037.5C1866.4 1035.7 1862.1 1033.6 1860.1 1032.2C1858.1 1030.8 1858.3 1030.2 1857.5 1029C1856.7 1027.8 1855.3 1026.5 1855.5 1024.8C1855.7 1023.1 1856.8 1020.8 1858.5 1019C1860.2 1017.2 1862.1 1015.8 1865.5 1014.3C1868.9 1012.8 1876.3 1011.3 1879 1010C1881.7 1008.7 1881.8 1007.6 1881.9 1006.4C1882 1005.2 1880.4 1004.3 1879.5 1003C1878.6 1001.7 1876.4 1000.6 1876.6 998.4C1876.8 996.2 1879 993.1 1880.5 990C1882 986.9 1884.2 982.5 1885.5 980C1886.8 977.5 1887.5 978.3 1888 975C1888.5 971.7 1888.2 965.3 1888.2 960C1888.2 954.7 1888.5 946.6 1888.1 943C1887.7 939.4 1886.5 940 1885.9 938.5C1885.3 937 1884.5 935.4 1884.5 933.8C1884.5 932.2 1885.3 930.5 1885.9 929C1886.5 927.5 1887.7 933.2 1888.1 925C1888.5 916.8 1888.2 895.2 1888.2 880C1888.2 864.8 1888.5 842.4 1888.1 834C1887.7 825.6 1886.6 831.2 1885.9 829.5C1885.2 827.8 1884.1 825.7 1884.1 823.8C1884.1 821.9 1885.2 819.8 1885.9 818C1886.6 816.2 1887.8 813.8 1888.2 813Z" fill="#a4f4a4" stroke="#0a0a0a" stroke-width="3" stroke-linejoin="round"/>
<line x1="1888.5" y1="805.8" x2="1888.5" y2="814" stroke="#0a0a0a" stroke-width="3" stroke-linecap="round"/>
<line x1="1882.3" y1="1006.9" x2="1894.7" y2="1006.9" stroke="#0a0a0a" stroke-width="2.2"/>
<line x1="1855.9" y1="1023.5" x2="1921.1" y2="1023.5" stroke="#0a0a0a" stroke-width="2.2"/>
<line x1="1860.5" y1="1032.2" x2="1916.5" y2="1032.2" stroke="#0a0a0a" stroke-width="2.2"/>
<line x1="1566.9" y1="753.5" x2="1566.9" y2="1068.3" stroke="#0a0a0a" stroke-width="3"/>
<line x1="1566.9" y1="1066.8" x2="1941.5" y2="1066.8" stroke="#0a0a0a" stroke-width="3"/>
<line x1="1559.6" y1="1066.8" x2="1566.9" y2="1066.8" stroke="#0a0a0a" stroke-width="3"/>
<text x="1555.9" y="1073.8" font-size="19.4" font-weight="bold" fill="#0a0a0a" text-anchor="end">0</text>
<line x1="1562.7" y1="1038.5" x2="1566.9" y2="1038.5" stroke="#0a0a0a" stroke-width="2.6"/>
<line x1="1559.6" y1="1010.2" x2="1566.9" y2="1010.2" stroke="#0a0a0a" stroke-width="3"/>
<text x="1555.9" y="1017.2" font-size="19.4" font-weight="bold" fill="#0a0a0a" text-anchor="end">20</text>
<line x1="1562.7" y1="981.9" x2="1566.9" y2="981.9" stroke="#0a0a0a" stroke-width="2.6"/>
<line x1="1559.6" y1="953.6" x2="1566.9" y2="953.6" stroke="#0a0a0a" stroke-width="3"/>
<text x="1555.9" y="960.6" font-size="19.4" font-weight="bold" fill="#0a0a0a" text-anchor="end">40</text>
<line x1="1562.7" y1="925.2" x2="1566.9" y2="925.2" stroke="#0a0a0a" stroke-width="2.6"/>
<line x1="1559.6" y1="896.9" x2="1566.9" y2="896.9" stroke="#0a0a0a" stroke-width="3"/>
<text x="1555.9" y="903.9" font-size="19.4" font-weight="bold" fill="#0a0a0a" text-anchor="end">60</text>
<line x1="1562.7" y1="868.6" x2="1566.9" y2="868.6" stroke="#0a0a0a" stroke-width="2.6"/>
<line x1="1559.6" y1="840.3" x2="1566.9" y2="840.3" stroke="#0a0a0a" stroke-width="3"/>
<text x="1555.9" y="847.3" font-size="19.4" font-weight="bold" fill="#0a0a0a" text-anchor="end">80</text>
<line x1="1562.7" y1="812" x2="1566.9" y2="812" stroke="#0a0a0a" stroke-width="2.6"/>
<line x1="1559.6" y1="783.7" x2="1566.9" y2="783.7" stroke="#0a0a0a" stroke-width="3"/>
<text x="1555.9" y="790.7" font-size="19.4" font-weight="bold" fill="#0a0a0a" text-anchor="end">100</text>
<line x1="1562.7" y1="756.4" x2="1566.9" y2="756.4" stroke="#0a0a0a" stroke-width="2.6"/>
<line x1="1618.1" y1="1066.8" x2="1618.1" y2="1073.3" stroke="#0a0a0a" stroke-width="2.6"/>
<line x1="1702.5" y1="1066.8" x2="1702.5" y2="1073.3" stroke="#0a0a0a" stroke-width="2.6"/>
<line x1="1804" y1="1066.8" x2="1804" y2="1073.3" stroke="#0a0a0a" stroke-width="2.6"/>
<line x1="1888.5" y1="1066.8" x2="1888.5" y2="1073.3" stroke="#0a0a0a" stroke-width="2.6"/>
<text x="1603.5" y="1093.6" font-size="18.5" fill="#0a0a0a" text-anchor="middle">WT-AβE3</text>
<text x="1708.4" y="1093.6" font-size="18.5" fill="#0a0a0a" text-anchor="middle">Trem2<tspan dy="-6.7" font-size="11.1">ko</tspan><tspan dy="6.7">-AβE3</tspan></text>
<text x="1819.1" y="1093.6" font-size="18.5" fill="#0a0a0a" text-anchor="middle">WT-AβE4</text>
<text x="1923" y="1093.6" font-size="18.5" fill="#0a0a0a" text-anchor="middle">Trem2<tspan dy="-6.7" font-size="11.1">ko</tspan><tspan dy="6.7">-AβE4</tspan></text>
<text font-size="22.1" fill="#0a0a0a" text-anchor="middle" transform="translate(1508.6 904.6) rotate(-90)">% Aβ-containing micrgolia</text>
<line x1="1620.8" y1="750.2" x2="1796" y2="750.2" stroke="#0a0a0a" stroke-width="3.3"/>
<line x1="1690.3" y1="777.3" x2="1889.5" y2="777.3" stroke="#0a0a0a" stroke-width="3.3"/>
<line x1="1797.5" y1="801" x2="1889.5" y2="801" stroke="#0a0a0a" stroke-width="3.3"/>
<text x="1708" y="755.4" font-size="31" fill="#0a0a0a" text-anchor="middle" stroke="#0a0a0a" stroke-width="0.5">***</text>
<text x="1789.4" y="782" font-size="31" fill="#0a0a0a" text-anchor="middle" stroke="#0a0a0a" stroke-width="0.5">***</text>
<text x="1843" y="804.3" font-size="31" fill="#0a0a0a" text-anchor="middle" stroke="#0a0a0a" stroke-width="0.5">*</text>
<text x="1433.3" y="778" font-size="36.6" font-weight="bold">e</text>
</g>
</svg>
</body></html>
